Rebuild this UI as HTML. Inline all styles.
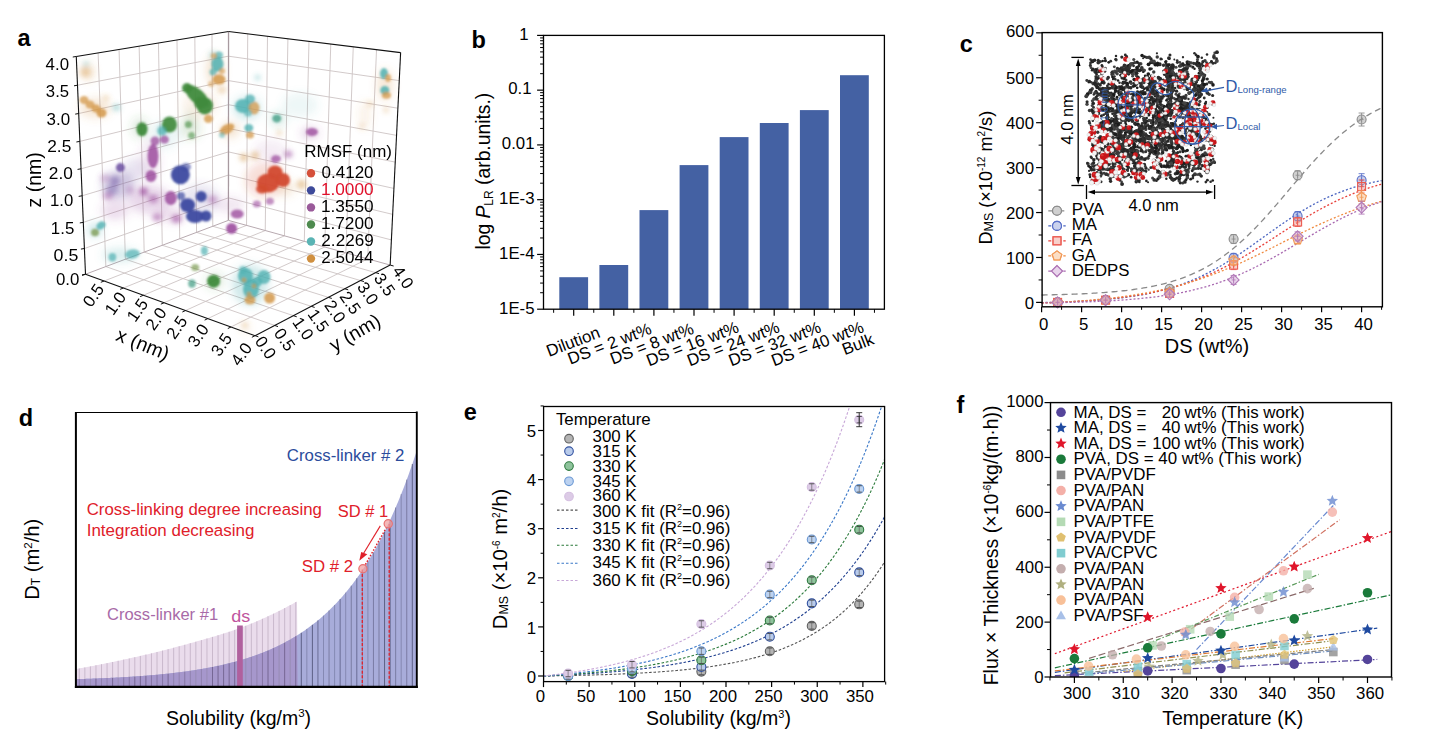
<!DOCTYPE html>
<html><head><meta charset="utf-8"><style>
html,body{margin:0;padding:0;background:#fff;}
body{width:1431px;height:750px;overflow:hidden;font-family:"Liberation Sans", sans-serif;}
svg{display:block;}
</style></head><body>
<svg width="1431" height="750" viewBox="0 0 1431 750" font-family='"Liberation Sans", sans-serif'><rect width="100%" height="100%" fill="#fff"/><text x="17.5" y="45.5" font-size="23.5" text-anchor="start" fill="#000" font-weight="bold" >a</text><text x="471.5" y="47.7" font-size="23.5" text-anchor="start" fill="#000" font-weight="bold" >b</text><text x="959.7" y="51.7" font-size="23.5" text-anchor="start" fill="#000" font-weight="bold" >c</text><text x="18.7" y="425.5" font-size="23.5" text-anchor="start" fill="#000" font-weight="bold" >d</text><text x="463.8" y="419.8" font-size="23.5" text-anchor="start" fill="#000" font-weight="bold" >e</text><text x="956.4" y="412.6" font-size="23.5" text-anchor="start" fill="#000" font-weight="bold" >f</text><line x1="105.83" y1="266.58" x2="98.11" y2="52.86" stroke="#cdc4c4" stroke-width="0.9" /><line x1="84.41" y1="248.5" x2="228.45" y2="197.85" stroke="#cdc4c4" stroke-width="0.9" /><line x1="125.38" y1="259.21" x2="119.05" y2="49.42" stroke="#cdc4c4" stroke-width="0.9" /><line x1="83.3" y1="222.35" x2="228.46" y2="175.04" stroke="#cdc4c4" stroke-width="0.9" /><line x1="144.18" y1="252.12" x2="139.14" y2="46.12" stroke="#cdc4c4" stroke-width="0.9" /><line x1="82.18" y1="195.78" x2="228.48" y2="151.91" stroke="#cdc4c4" stroke-width="0.9" /><line x1="162.29" y1="245.3" x2="158.44" y2="42.95" stroke="#cdc4c4" stroke-width="0.9" /><line x1="81.04" y1="168.8" x2="228.49" y2="128.47" stroke="#cdc4c4" stroke-width="0.9" /><line x1="179.73" y1="238.72" x2="176.99" y2="39.91" stroke="#cdc4c4" stroke-width="0.9" /><line x1="79.88" y1="141.39" x2="228.51" y2="104.71" stroke="#cdc4c4" stroke-width="0.9" /><line x1="196.55" y1="232.38" x2="194.83" y2="36.98" stroke="#cdc4c4" stroke-width="0.9" /><line x1="78.7" y1="113.53" x2="228.53" y2="80.62" stroke="#cdc4c4" stroke-width="0.9" /><line x1="212.77" y1="226.27" x2="212.01" y2="34.15" stroke="#cdc4c4" stroke-width="0.9" /><line x1="77.5" y1="85.22" x2="228.55" y2="56.2" stroke="#cdc4c4" stroke-width="0.9" /><line x1="246.56" y1="225.38" x2="247.73" y2="33.79" stroke="#cdc4c4" stroke-width="0.9" /><line x1="228.45" y1="197.85" x2="391.4" y2="239.91" stroke="#cdc4c4" stroke-width="0.9" /><line x1="265.24" y1="230.54" x2="267.5" y2="36.22" stroke="#cdc4c4" stroke-width="0.9" /><line x1="228.46" y1="175.04" x2="392.66" y2="214.37" stroke="#cdc4c4" stroke-width="0.9" /><line x1="284.48" y1="235.85" x2="287.91" y2="38.73" stroke="#cdc4c4" stroke-width="0.9" /><line x1="228.48" y1="151.91" x2="393.93" y2="188.44" stroke="#cdc4c4" stroke-width="0.9" /><line x1="304.31" y1="241.34" x2="308.98" y2="41.32" stroke="#cdc4c4" stroke-width="0.9" /><line x1="228.49" y1="128.47" x2="395.23" y2="162.11" stroke="#cdc4c4" stroke-width="0.9" /><line x1="324.76" y1="246.99" x2="330.75" y2="44" stroke="#cdc4c4" stroke-width="0.9" /><line x1="228.51" y1="104.71" x2="396.55" y2="135.37" stroke="#cdc4c4" stroke-width="0.9" /><line x1="345.87" y1="252.82" x2="353.26" y2="46.76" stroke="#cdc4c4" stroke-width="0.9" /><line x1="228.53" y1="80.62" x2="397.89" y2="108.21" stroke="#cdc4c4" stroke-width="0.9" /><line x1="367.66" y1="258.84" x2="376.54" y2="49.62" stroke="#cdc4c4" stroke-width="0.9" /><line x1="228.55" y1="56.2" x2="399.25" y2="80.62" stroke="#cdc4c4" stroke-width="0.9" /><line x1="104.15" y1="281" x2="246.56" y2="225.38" stroke="#cdc4c4" stroke-width="0.9" /><line x1="105.83" y1="266.58" x2="274.62" y2="325.42" stroke="#cdc4c4" stroke-width="0.9" /><line x1="123.45" y1="287.99" x2="265.24" y2="230.54" stroke="#cdc4c4" stroke-width="0.9" /><line x1="125.38" y1="259.21" x2="293.33" y2="315.65" stroke="#cdc4c4" stroke-width="0.9" /><line x1="143.44" y1="295.23" x2="284.48" y2="235.85" stroke="#cdc4c4" stroke-width="0.9" /><line x1="144.18" y1="252.12" x2="311.22" y2="306.3" stroke="#cdc4c4" stroke-width="0.9" /><line x1="164.15" y1="302.73" x2="304.31" y2="241.34" stroke="#cdc4c4" stroke-width="0.9" /><line x1="162.29" y1="245.3" x2="328.35" y2="297.35" stroke="#cdc4c4" stroke-width="0.9" /><line x1="185.62" y1="310.5" x2="324.76" y2="246.99" stroke="#cdc4c4" stroke-width="0.9" /><line x1="179.73" y1="238.72" x2="344.77" y2="288.77" stroke="#cdc4c4" stroke-width="0.9" /><line x1="207.89" y1="318.57" x2="345.87" y2="252.82" stroke="#cdc4c4" stroke-width="0.9" /><line x1="196.55" y1="232.38" x2="360.52" y2="280.55" stroke="#cdc4c4" stroke-width="0.9" /><line x1="231.02" y1="326.95" x2="367.66" y2="258.84" stroke="#cdc4c4" stroke-width="0.9" /><line x1="212.77" y1="226.27" x2="375.63" y2="272.65" stroke="#cdc4c4" stroke-width="0.9" /><line x1="228.43" y1="220.36" x2="228.56" y2="31.44" stroke="#a89aa0" stroke-width="1.3" /><line x1="85.5" y1="274.24" x2="228.43" y2="220.36" stroke="#b8aab0" stroke-width="1.0" /><line x1="228.43" y1="220.36" x2="390.16" y2="265.06" stroke="#b8aab0" stroke-width="1.0" /><defs><filter id="bc" x="-50%" y="-50%" width="200%" height="200%"><feGaussianBlur stdDeviation="0.9"/></filter><filter id="bh" x="-80%" y="-80%" width="260%" height="260%"><feGaussianBlur stdDeviation="2.6"/></filter><filter id="bf" x="-80%" y="-80%" width="260%" height="260%"><feGaussianBlur stdDeviation="4.5"/></filter></defs><g filter="url(#bf)"><ellipse cx="118" cy="185" rx="16" ry="14" fill="#6a4ea0" opacity="0.3"/><ellipse cx="150" cy="200" rx="22" ry="14" fill="#9c4c9e" opacity="0.22"/><ellipse cx="115" cy="210" rx="14" ry="10" fill="#9c4c9e" opacity="0.18"/><ellipse cx="135" cy="170" rx="12" ry="12" fill="#6a4ea0" opacity="0.15"/><ellipse cx="200" cy="200" rx="20" ry="16" fill="#6a4ea0" opacity="0.14"/><ellipse cx="230" cy="205" rx="14" ry="8" fill="#9c4c9e" opacity="0.14"/><ellipse cx="270" cy="150" rx="16" ry="10" fill="#9c4c9e" opacity="0.1"/><ellipse cx="285" cy="188" rx="10" ry="8" fill="#d4984a" opacity="0.2"/><ellipse cx="120" cy="255" rx="18" ry="7" fill="#50b0b2" opacity="0.22"/><ellipse cx="95" cy="230" rx="7" ry="7" fill="#50b0b2" opacity="0.3"/><ellipse cx="250" cy="285" rx="18" ry="20" fill="#50b0b2" opacity="0.28"/><ellipse cx="215" cy="70" rx="9" ry="16" fill="#d4984a" opacity="0.25"/><ellipse cx="247" cy="108" rx="14" ry="12" fill="#50b0b2" opacity="0.25"/><ellipse cx="300" cy="105" rx="18" ry="12" fill="#50b0b2" opacity="0.1"/><ellipse cx="385" cy="85" rx="8" ry="16" fill="#d4984a" opacity="0.22"/><ellipse cx="95" cy="108" rx="16" ry="10" fill="#d4984a" opacity="0.22"/><ellipse cx="200" cy="105" rx="18" ry="14" fill="#d4984a" opacity="0.12"/><ellipse cx="190" cy="130" rx="12" ry="10" fill="#3f8a3c" opacity="0.12"/><ellipse cx="165" cy="135" rx="14" ry="14" fill="#50b0b2" opacity="0.12"/><ellipse cx="230" cy="130" rx="10" ry="8" fill="#d4984a" opacity="0.25"/><ellipse cx="265" cy="180" rx="20" ry="18" fill="#d24a30" opacity="0.18"/><ellipse cx="150" cy="160" rx="10" ry="22" fill="#9c4c9e" opacity="0.12"/><ellipse cx="88" cy="72" rx="6" ry="8" fill="#d4984a" opacity="0.3"/><ellipse cx="365" cy="115" rx="6" ry="14" fill="#d4984a" opacity="0.12"/><ellipse cx="172" cy="215" rx="14" ry="8" fill="#9c4c9e" opacity="0.16"/><ellipse cx="245" cy="328" rx="5" ry="5" fill="#d4984a" opacity="0.15"/><ellipse cx="215" cy="281" rx="10" ry="9" fill="#3f8a3c" opacity="0.15"/><ellipse cx="190" cy="120" rx="8" ry="10" fill="#3f8a3c" opacity="0.12"/><ellipse cx="140" cy="128" rx="9" ry="11" fill="#3f8a3c" opacity="0.15"/><ellipse cx="310" cy="133" rx="9" ry="6" fill="#9c4c9e" opacity="0.25"/><ellipse cx="278" cy="119" rx="8" ry="7" fill="#3a9a80" opacity="0.2"/></g><g filter="url(#bh)"><ellipse cx="85" cy="72" rx="5" ry="5" fill="#d4984a" opacity="0.35"/><ellipse cx="86" cy="64" rx="3" ry="3" fill="#50b0b2" opacity="0.3"/><ellipse cx="106" cy="98" rx="3" ry="3" fill="#d4984a" opacity="0.3"/><ellipse cx="116.4" cy="107.6" rx="4" ry="3.5" fill="#50b0b2" opacity="0.4"/><ellipse cx="257.6" cy="77.6" rx="3" ry="3" fill="#50b0b2" opacity="0.35"/><ellipse cx="279.2" cy="132.8" rx="3" ry="3" fill="#d4984a" opacity="0.3"/><ellipse cx="288.8" cy="154.4" rx="4" ry="3" fill="#9c4c9e" opacity="0.3"/><ellipse cx="274.4" cy="158.4" rx="4" ry="3" fill="#9c4c9e" opacity="0.3"/><ellipse cx="153.2" cy="198.8" rx="5" ry="4" fill="#9c4c9e" opacity="0.6"/><ellipse cx="176.4" cy="218.8" rx="5" ry="4" fill="#9c4c9e" opacity="0.65"/><ellipse cx="157.2" cy="217.2" rx="5" ry="4" fill="#9c4c9e" opacity="0.55"/><ellipse cx="212.4" cy="199.6" rx="5" ry="4" fill="#9c4c9e" opacity="0.45"/><ellipse cx="143.6" cy="191.6" rx="4" ry="4" fill="#9c4c9e" opacity="0.6"/><ellipse cx="115" cy="181" rx="5" ry="5" fill="#6a4ea0" opacity="0.5"/><ellipse cx="108" cy="196" rx="5" ry="4" fill="#9c4c9e" opacity="0.45"/><ellipse cx="301.6" cy="184.5" rx="5" ry="5" fill="#d4984a" opacity="0.45"/><ellipse cx="243.7" cy="157.4" rx="4" ry="4" fill="#d4984a" opacity="0.5"/><ellipse cx="255" cy="155.5" rx="4" ry="4" fill="#d4984a" opacity="0.5"/><ellipse cx="288" cy="154" rx="4" ry="3.5" fill="#9c4c9e" opacity="0.45"/><ellipse cx="370" cy="104" rx="3" ry="3" fill="#d4984a" opacity="0.3"/><ellipse cx="362" cy="126" rx="3" ry="3" fill="#d4984a" opacity="0.25"/><ellipse cx="245" cy="325" rx="3" ry="3" fill="#d4984a" opacity="0.3"/><ellipse cx="112" cy="190" rx="6" ry="5" fill="#6a4ea0" opacity="0.4"/><ellipse cx="105" cy="178" rx="5" ry="4" fill="#9c4c9e" opacity="0.3"/><ellipse cx="130" cy="190" rx="4" ry="4" fill="#9c4c9e" opacity="0.3"/><ellipse cx="143.6" cy="191.6" rx="4" ry="4" fill="#9c4c9e" opacity="0.5"/><ellipse cx="213" cy="55" rx="4" ry="4" fill="#50b0b2" opacity="0.3"/><ellipse cx="222" cy="90" rx="4" ry="4" fill="#d4984a" opacity="0.35"/><ellipse cx="162.8" cy="130" rx="5" ry="5" fill="#50b0b2" opacity="0.5"/><ellipse cx="386" cy="110" rx="3" ry="3" fill="#d4984a" opacity="0.3"/></g><g filter="url(#bc)"><ellipse cx="84" cy="100" rx="4.5" ry="4" fill="#d4984a" opacity="0.75"/><ellipse cx="90" cy="104.5" rx="4.5" ry="4" fill="#d4984a" opacity="0.75"/><ellipse cx="96" cy="108.5" rx="4.5" ry="4" fill="#d4984a" opacity="0.8"/><ellipse cx="101.5" cy="113" rx="5" ry="4.5" fill="#d4984a" opacity="0.85"/><ellipse cx="142" cy="129.2" rx="5.5" ry="7" fill="#3f8a3c" opacity="0.95"/><ellipse cx="197" cy="96" rx="15" ry="7" fill="#3f8a3c" opacity="0.95" transform="rotate(42 197 96)"/><ellipse cx="187" cy="88" rx="5" ry="5" fill="#3f8a3c" opacity="0.9"/><ellipse cx="205" cy="106" rx="8" ry="8.5" fill="#3f8a3c" opacity="0.95" transform="rotate(20 205 106)"/><ellipse cx="200" cy="103" rx="6" ry="6" fill="#3f8a3c" opacity="0.9"/><ellipse cx="208.4" cy="118.8" rx="4.5" ry="4" fill="#d4984a" opacity="0.8"/><ellipse cx="188.4" cy="124.4" rx="3.5" ry="3.5" fill="#3f8a3c" opacity="0.6"/><ellipse cx="191.6" cy="135.6" rx="3.5" ry="3.5" fill="#3f8a3c" opacity="0.55"/><ellipse cx="169.5" cy="124.5" rx="7.5" ry="8" fill="#3f8a3c" opacity="0.92"/><ellipse cx="162" cy="131" rx="4.5" ry="4.5" fill="#50b0b2" opacity="0.65"/><ellipse cx="164.4" cy="139.6" rx="4.5" ry="4" fill="#9c4c9e" opacity="0.75"/><ellipse cx="153" cy="156" rx="5.5" ry="12" fill="#9c4c9e" opacity="0.85"/><ellipse cx="155" cy="141" rx="4.5" ry="4.5" fill="#9c4c9e" opacity="0.75"/><ellipse cx="151" cy="176" rx="5.5" ry="6" fill="#9c4c9e" opacity="0.85"/><ellipse cx="217.5" cy="64" rx="6" ry="7.5" fill="#50b0b2" opacity="0.85"/><ellipse cx="219" cy="55" rx="4" ry="3.5" fill="#50b0b2" opacity="0.7"/><ellipse cx="214" cy="56" rx="3" ry="3" fill="#d4984a" opacity="0.6"/><ellipse cx="219" cy="79.6" rx="6.5" ry="5" fill="#d4984a" opacity="0.85"/><ellipse cx="213" cy="72" rx="3.5" ry="3.5" fill="#50b0b2" opacity="0.7"/><ellipse cx="222" cy="71" rx="3" ry="3" fill="#d4984a" opacity="0.6"/><ellipse cx="211" cy="84" rx="3" ry="3" fill="#d4984a" opacity="0.5"/><ellipse cx="227" cy="129" rx="8" ry="4.5" fill="#d4984a" opacity="0.85" transform="rotate(-30 227 129)"/><ellipse cx="222" cy="135" rx="3" ry="3" fill="#50b0b2" opacity="0.5"/><ellipse cx="243" cy="106" rx="8" ry="7" fill="#50b0b2" opacity="0.85"/><ellipse cx="254" cy="108" rx="5.5" ry="6.5" fill="#d4984a" opacity="0.75"/><ellipse cx="250" cy="99" rx="5" ry="4.5" fill="#50b0b2" opacity="0.75"/><ellipse cx="248" cy="113" rx="4" ry="3.5" fill="#50b0b2" opacity="0.6"/><ellipse cx="276.8" cy="118.4" rx="4.5" ry="4" fill="#3a9a80" opacity="0.75"/><ellipse cx="248.8" cy="128" rx="4.5" ry="4" fill="#50b0b2" opacity="0.8"/><ellipse cx="250" cy="135" rx="4" ry="3.5" fill="#d4984a" opacity="0.75"/><ellipse cx="312" cy="132" rx="6" ry="4" fill="#9c4c9e" opacity="0.8"/><ellipse cx="384" cy="73.6" rx="4" ry="5.5" fill="#50b0b2" opacity="0.85"/><ellipse cx="388" cy="78" rx="3" ry="4" fill="#d4984a" opacity="0.7"/><ellipse cx="384.8" cy="90.4" rx="4.5" ry="4.5" fill="#50b0b2" opacity="0.85"/><ellipse cx="386.4" cy="95.2" rx="4.5" ry="3.5" fill="#d4984a" opacity="0.75"/><ellipse cx="120.4" cy="167.6" rx="4.5" ry="4.5" fill="#6a4ea0" opacity="0.85"/><ellipse cx="180.4" cy="174.8" rx="9.5" ry="9.5" fill="#3d4aa0" opacity="0.95"/><ellipse cx="186" cy="167" rx="5" ry="4" fill="#3d4aa0" opacity="0.6"/><ellipse cx="201.2" cy="196.4" rx="5.5" ry="5.5" fill="#3d4aa0" opacity="0.95"/><ellipse cx="187.6" cy="205.2" rx="7.5" ry="7" fill="#3d4aa0" opacity="0.95"/><ellipse cx="195" cy="216.4" rx="9" ry="6.5" fill="#3d4aa0" opacity="0.95"/><ellipse cx="206" cy="216" rx="5.5" ry="5.5" fill="#3d4aa0" opacity="0.95"/><ellipse cx="170.8" cy="198" rx="6" ry="7" fill="#9c4c9e" opacity="0.85"/><ellipse cx="181" cy="196" rx="4" ry="4" fill="#3d4aa0" opacity="0.7"/><ellipse cx="231.6" cy="228.4" rx="5.5" ry="5.5" fill="#9c4c9e" opacity="0.9"/><ellipse cx="276" cy="159" rx="5" ry="3.8" fill="#9c4c9e" opacity="0.7" transform="rotate(-10 276 159)"/><ellipse cx="237.2" cy="214" rx="6.5" ry="4.5" fill="#9c4c9e" opacity="0.8"/><ellipse cx="269.9" cy="201.3" rx="4" ry="3.5" fill="#9c4c9e" opacity="0.6"/><ellipse cx="256.8" cy="204.1" rx="4" ry="3.5" fill="#9c4c9e" opacity="0.6"/><ellipse cx="268" cy="183" rx="11" ry="9.5" fill="#d24a30" opacity="0.95"/><ellipse cx="275" cy="172" rx="7.5" ry="6.5" fill="#d24a30" opacity="0.95"/><ellipse cx="283" cy="180" rx="7" ry="7" fill="#d24a30" opacity="0.95"/><ellipse cx="262" cy="189" rx="6" ry="4.5" fill="#d24a30" opacity="0.9"/><ellipse cx="101" cy="225.5" rx="5" ry="3.8" fill="#50b0b2" opacity="0.8" transform="rotate(-35 101 225.5)"/><ellipse cx="95" cy="232.5" rx="4" ry="3.8" fill="#7e9c55" opacity="0.8"/><ellipse cx="204.4" cy="250.8" rx="3.5" ry="4.5" fill="#50b0b2" opacity="0.7"/><ellipse cx="112.4" cy="257.2" rx="3.8" ry="4.2" fill="#50b0b2" opacity="0.7"/><ellipse cx="195.2" cy="267.6" rx="4" ry="3.5" fill="#7e9c55" opacity="0.7"/><ellipse cx="192" cy="283.6" rx="3.8" ry="4.2" fill="#3a9a80" opacity="0.7"/><ellipse cx="132.4" cy="254" rx="7.5" ry="4.5" fill="#50b0b2" opacity="0.7" transform="rotate(-10 132.4 254)"/><ellipse cx="213.6" cy="281.2" rx="6.5" ry="6.5" fill="#3f8a3c" opacity="0.95"/><ellipse cx="245.5" cy="276" rx="7.5" ry="8" fill="#50b0b2" opacity="0.85"/><ellipse cx="264" cy="277" rx="6.5" ry="7" fill="#50b0b2" opacity="0.8"/><ellipse cx="251" cy="289" rx="8" ry="10" fill="#50b0b2" opacity="0.85"/><ellipse cx="257" cy="282" rx="5" ry="5" fill="#50b0b2" opacity="0.8"/><ellipse cx="250" cy="300" rx="5.5" ry="4.5" fill="#d4984a" opacity="0.8"/><ellipse cx="243" cy="270" rx="4" ry="4" fill="#50b0b2" opacity="0.6"/><ellipse cx="244" cy="280" rx="2.5" ry="2.5" fill="#d4984a" opacity="0.6"/><ellipse cx="254" cy="286" rx="2.5" ry="2.5" fill="#d4984a" opacity="0.6"/><ellipse cx="249" cy="294" rx="2.5" ry="2.5" fill="#d4984a" opacity="0.6"/><ellipse cx="269.6" cy="298" rx="5.5" ry="5.5" fill="#d4984a" opacity="0.85"/></g><line x1="76.28" y1="56.44" x2="228.56" y2="31.44" stroke="#111" stroke-width="1.1" /><line x1="228.56" y1="31.44" x2="400.63" y2="52.59" stroke="#111" stroke-width="1.1" /><line x1="400.63" y1="52.59" x2="390.16" y2="265.06" stroke="#111" stroke-width="1.1" /><line x1="85.5" y1="274.24" x2="76.28" y2="56.44" stroke="#111" stroke-width="1.1" /><line x1="85.5" y1="274.24" x2="255.05" y2="335.65" stroke="#111" stroke-width="1.1" /><line x1="255.05" y1="335.65" x2="390.16" y2="265.06" stroke="#111" stroke-width="1.1" /><line x1="82" y1="274.84" x2="85.5" y2="274.24" stroke="#111" stroke-width="1" /><line x1="85.5" y1="274.24" x2="82.13" y2="275.51" stroke="#111" stroke-width="1" /><line x1="255.05" y1="335.65" x2="258.43" y2="336.87" stroke="#111" stroke-width="1" /><line x1="80.91" y1="249.1" x2="84.41" y2="248.5" stroke="#111" stroke-width="1" /><line x1="104.15" y1="281" x2="100.8" y2="282.31" stroke="#111" stroke-width="1" /><line x1="274.62" y1="325.42" x2="278.02" y2="326.61" stroke="#111" stroke-width="1" /><line x1="79.8" y1="222.95" x2="83.3" y2="222.35" stroke="#111" stroke-width="1" /><line x1="123.45" y1="287.99" x2="120.12" y2="289.34" stroke="#111" stroke-width="1" /><line x1="293.33" y1="315.65" x2="296.74" y2="316.79" stroke="#111" stroke-width="1" /><line x1="78.68" y1="196.38" x2="82.18" y2="195.78" stroke="#111" stroke-width="1" /><line x1="143.44" y1="295.23" x2="140.12" y2="296.62" stroke="#111" stroke-width="1" /><line x1="311.22" y1="306.3" x2="314.64" y2="307.41" stroke="#111" stroke-width="1" /><line x1="77.54" y1="169.4" x2="81.04" y2="168.8" stroke="#111" stroke-width="1" /><line x1="164.15" y1="302.73" x2="160.85" y2="304.17" stroke="#111" stroke-width="1" /><line x1="328.35" y1="297.35" x2="331.79" y2="298.43" stroke="#111" stroke-width="1" /><line x1="76.38" y1="141.99" x2="79.88" y2="141.39" stroke="#111" stroke-width="1" /><line x1="185.62" y1="310.5" x2="182.34" y2="312" stroke="#111" stroke-width="1" /><line x1="344.77" y1="288.77" x2="348.21" y2="289.82" stroke="#111" stroke-width="1" /><line x1="75.2" y1="114.13" x2="78.7" y2="113.53" stroke="#111" stroke-width="1" /><line x1="207.89" y1="318.57" x2="204.64" y2="320.12" stroke="#111" stroke-width="1" /><line x1="360.52" y1="280.55" x2="363.97" y2="281.56" stroke="#111" stroke-width="1" /><line x1="74" y1="85.82" x2="77.5" y2="85.22" stroke="#111" stroke-width="1" /><line x1="231.02" y1="326.95" x2="227.8" y2="328.55" stroke="#111" stroke-width="1" /><line x1="375.63" y1="272.65" x2="379.09" y2="273.63" stroke="#111" stroke-width="1" /><line x1="72.78" y1="57.04" x2="76.28" y2="56.44" stroke="#111" stroke-width="1" /><line x1="255.05" y1="335.65" x2="251.86" y2="337.31" stroke="#111" stroke-width="1" /><line x1="390.16" y1="265.06" x2="393.63" y2="266.02" stroke="#111" stroke-width="1" /><text transform="translate(45.62 69.7) scale(1.0333 1)" font-size="16.3" fill="#000" font-weight="normal" >4.0</text><text transform="translate(45.87 97) scale(1.0237 1)" font-size="16.3" fill="#000" font-weight="normal" >3.5</text><text transform="translate(46.56 124.7) scale(1.0404 1)" font-size="16.3" fill="#000" font-weight="normal" >3.0</text><text transform="translate(47.23 151.9) scale(1.0618 1)" font-size="16.3" fill="#000" font-weight="normal" >2.5</text><text transform="translate(48.84 178.9) scale(1.0598 1)" font-size="16.3" fill="#000" font-weight="normal" >2.0</text><text transform="translate(50.04 205.8) scale(1.0277 1)" font-size="16.3" fill="#000" font-weight="normal" >1.0</text><text transform="translate(50.84 233.9) scale(1.0345 1)" font-size="16.3" fill="#000" font-weight="normal" >1.5</text><text transform="translate(53.59 261.1) scale(1.0912 1)" font-size="16.3" fill="#000" font-weight="normal" >0.5</text><text transform="translate(55.93 284.8) scale(1.0330 1)" font-size="16.3" fill="#000" font-weight="normal" >0.0</text><text transform="translate(93.3 295.3) rotate(-55)" font-size="16.8" text-anchor="middle" dy="5.8">0.5</text><text transform="translate(115.3 303.3) rotate(-55)" font-size="16.8" text-anchor="middle" dy="5.8">1.0</text><text transform="translate(137.3 310) rotate(-55)" font-size="16.8" text-anchor="middle" dy="5.8">1.5</text><text transform="translate(156 318.7) rotate(-55)" font-size="16.8" text-anchor="middle" dy="5.8">2.0</text><text transform="translate(176.7 327.3) rotate(-55)" font-size="16.8" text-anchor="middle" dy="5.8">2.5</text><text transform="translate(198.1 335.3) rotate(-55)" font-size="16.8" text-anchor="middle" dy="5.8">3.0</text><text transform="translate(221.4 344.6) rotate(-55)" font-size="16.8" text-anchor="middle" dy="5.8">3.5</text><text transform="translate(241.3 354) rotate(-55)" font-size="16.8" text-anchor="middle" dy="5.8">4.0</text><text transform="translate(265.6 347.6) rotate(55)" font-size="16.8" text-anchor="middle" dy="5.8">0.0</text><text transform="translate(284.8 339.6) rotate(55)" font-size="16.8" text-anchor="middle" dy="5.8">0.5</text><text transform="translate(303.2 328.4) rotate(55)" font-size="16.8" text-anchor="middle" dy="5.8">1.0</text><text transform="translate(318.4 320.4) rotate(55)" font-size="16.8" text-anchor="middle" dy="5.8">1.5</text><text transform="translate(335.2 311.6) rotate(55)" font-size="16.8" text-anchor="middle" dy="5.8">2.0</text><text transform="translate(350.4 302.8) rotate(55)" font-size="16.8" text-anchor="middle" dy="5.8">2.5</text><text transform="translate(368 293.2) rotate(55)" font-size="16.8" text-anchor="middle" dy="5.8">3.0</text><text transform="translate(384.8 284.4) rotate(55)" font-size="16.8" text-anchor="middle" dy="5.8">3.5</text><text transform="translate(403.2 277.2) rotate(55)" font-size="16.8" text-anchor="middle" dy="5.8">4.0</text><text transform="translate(142.7 344.7) rotate(22)" font-size="19.5" text-anchor="middle" dy="6">x (nm)</text><text transform="translate(355.2 333.2) rotate(-30)" font-size="19.5" text-anchor="middle" dy="6">y (nm)</text><text transform="translate(40.6 179.8) rotate(-90)" font-size="19.5" text-anchor="middle">z (nm)</text><text transform="translate(304.3 156.5) scale(1.0608 1)" font-size="16" fill="#000" font-weight="normal" >RMSF (nm)</text><circle cx="311" cy="173.3" r="4.2" fill="#d5503a"/><text transform="translate(321.52 177.6) scale(1.0458 1)" font-size="16.3" fill="#000" font-weight="normal" >0.4120</text><circle cx="311" cy="190.36" r="4.2" fill="#3e4a9a"/><text transform="translate(320.91 194.66) scale(1.0583 1)" font-size="16.3" fill="#e0102a" font-weight="normal" >1.0000</text><circle cx="311" cy="207.42" r="4.2" fill="#9a5a9a"/><text transform="translate(320.91 211.72) scale(1.0583 1)" font-size="16.3" fill="#000" font-weight="normal" >1.3550</text><circle cx="311" cy="224.48" r="4.2" fill="#4e8a4e"/><text transform="translate(320.91 228.78) scale(1.0583 1)" font-size="16.3" fill="#000" font-weight="normal" >1.7200</text><circle cx="311" cy="241.54" r="4.2" fill="#5ab4b4"/><text transform="translate(321.34 245.84) scale(1.0520 1)" font-size="16.3" fill="#000" font-weight="normal" >2.2269</text><circle cx="311" cy="258.6" r="4.2" fill="#d09040"/><text transform="translate(321.35 262.9) scale(1.0458 1)" font-size="16.3" fill="#000" font-weight="normal" >2.5044</text><rect x="559.3" y="277.2" width="28.8" height="32" fill="#4461a3"/><rect x="599.4" y="265" width="28.8" height="44.2" fill="#4461a3"/><rect x="639.5" y="210.1" width="28.8" height="99.1" fill="#4461a3"/><rect x="679.6" y="165.1" width="28.8" height="144.1" fill="#4461a3"/><rect x="719.7" y="137.1" width="28.8" height="172.1" fill="#4461a3"/><rect x="759.8" y="123" width="28.8" height="186.2" fill="#4461a3"/><rect x="799.9" y="110.1" width="28.8" height="199.1" fill="#4461a3"/><rect x="840" y="75.2" width="28.8" height="234" fill="#4461a3"/><rect x="543.5" y="35.4" width="340.9" height="273.8" fill="none" stroke="#000" stroke-width="1.3"/><line x1="537.1" y1="309.2" x2="543.5" y2="309.2" stroke="#000" stroke-width="1.2" /><line x1="540.1" y1="292.72" x2="543.5" y2="292.72" stroke="#000" stroke-width="1" /><line x1="540.1" y1="283.07" x2="543.5" y2="283.07" stroke="#000" stroke-width="1" /><line x1="540.1" y1="276.23" x2="543.5" y2="276.23" stroke="#000" stroke-width="1" /><line x1="540.1" y1="270.92" x2="543.5" y2="270.92" stroke="#000" stroke-width="1" /><line x1="540.1" y1="266.59" x2="543.5" y2="266.59" stroke="#000" stroke-width="1" /><line x1="540.1" y1="262.92" x2="543.5" y2="262.92" stroke="#000" stroke-width="1" /><line x1="540.1" y1="259.75" x2="543.5" y2="259.75" stroke="#000" stroke-width="1" /><line x1="540.1" y1="256.95" x2="543.5" y2="256.95" stroke="#000" stroke-width="1" /><line x1="537.1" y1="254.44" x2="543.5" y2="254.44" stroke="#000" stroke-width="1.2" /><line x1="540.1" y1="237.96" x2="543.5" y2="237.96" stroke="#000" stroke-width="1" /><line x1="540.1" y1="228.31" x2="543.5" y2="228.31" stroke="#000" stroke-width="1" /><line x1="540.1" y1="221.47" x2="543.5" y2="221.47" stroke="#000" stroke-width="1" /><line x1="540.1" y1="216.16" x2="543.5" y2="216.16" stroke="#000" stroke-width="1" /><line x1="540.1" y1="211.83" x2="543.5" y2="211.83" stroke="#000" stroke-width="1" /><line x1="540.1" y1="208.16" x2="543.5" y2="208.16" stroke="#000" stroke-width="1" /><line x1="540.1" y1="204.99" x2="543.5" y2="204.99" stroke="#000" stroke-width="1" /><line x1="540.1" y1="202.19" x2="543.5" y2="202.19" stroke="#000" stroke-width="1" /><line x1="537.1" y1="199.68" x2="543.5" y2="199.68" stroke="#000" stroke-width="1.2" /><line x1="540.1" y1="183.2" x2="543.5" y2="183.2" stroke="#000" stroke-width="1" /><line x1="540.1" y1="173.55" x2="543.5" y2="173.55" stroke="#000" stroke-width="1" /><line x1="540.1" y1="166.71" x2="543.5" y2="166.71" stroke="#000" stroke-width="1" /><line x1="540.1" y1="161.4" x2="543.5" y2="161.4" stroke="#000" stroke-width="1" /><line x1="540.1" y1="157.07" x2="543.5" y2="157.07" stroke="#000" stroke-width="1" /><line x1="540.1" y1="153.4" x2="543.5" y2="153.4" stroke="#000" stroke-width="1" /><line x1="540.1" y1="150.23" x2="543.5" y2="150.23" stroke="#000" stroke-width="1" /><line x1="540.1" y1="147.43" x2="543.5" y2="147.43" stroke="#000" stroke-width="1" /><line x1="537.1" y1="144.92" x2="543.5" y2="144.92" stroke="#000" stroke-width="1.2" /><line x1="540.1" y1="128.44" x2="543.5" y2="128.44" stroke="#000" stroke-width="1" /><line x1="540.1" y1="118.79" x2="543.5" y2="118.79" stroke="#000" stroke-width="1" /><line x1="540.1" y1="111.95" x2="543.5" y2="111.95" stroke="#000" stroke-width="1" /><line x1="540.1" y1="106.64" x2="543.5" y2="106.64" stroke="#000" stroke-width="1" /><line x1="540.1" y1="102.31" x2="543.5" y2="102.31" stroke="#000" stroke-width="1" /><line x1="540.1" y1="98.64" x2="543.5" y2="98.64" stroke="#000" stroke-width="1" /><line x1="540.1" y1="95.47" x2="543.5" y2="95.47" stroke="#000" stroke-width="1" /><line x1="540.1" y1="92.67" x2="543.5" y2="92.67" stroke="#000" stroke-width="1" /><line x1="537.1" y1="90.16" x2="543.5" y2="90.16" stroke="#000" stroke-width="1.2" /><line x1="540.1" y1="73.68" x2="543.5" y2="73.68" stroke="#000" stroke-width="1" /><line x1="540.1" y1="64.03" x2="543.5" y2="64.03" stroke="#000" stroke-width="1" /><line x1="540.1" y1="57.19" x2="543.5" y2="57.19" stroke="#000" stroke-width="1" /><line x1="540.1" y1="51.88" x2="543.5" y2="51.88" stroke="#000" stroke-width="1" /><line x1="540.1" y1="47.55" x2="543.5" y2="47.55" stroke="#000" stroke-width="1" /><line x1="540.1" y1="43.88" x2="543.5" y2="43.88" stroke="#000" stroke-width="1" /><line x1="540.1" y1="40.71" x2="543.5" y2="40.71" stroke="#000" stroke-width="1" /><line x1="540.1" y1="37.91" x2="543.5" y2="37.91" stroke="#000" stroke-width="1" /><line x1="537.1" y1="35.4" x2="543.5" y2="35.4" stroke="#000" stroke-width="1.2" /><text x="534.5" y="313.5" font-size="16.8" text-anchor="end" fill="#000" font-weight="normal" >1E-5</text><text x="534.5" y="258.74" font-size="16.8" text-anchor="end" fill="#000" font-weight="normal" >1E-4</text><text x="534.5" y="203.98" font-size="16.8" text-anchor="end" fill="#000" font-weight="normal" >1E-3</text><text x="534.5" y="149.22" font-size="16.8" text-anchor="end" fill="#000" font-weight="normal" >0.01</text><text x="531.5" y="94.46" font-size="16.8" text-anchor="end" fill="#000" font-weight="normal" >0.1</text><text x="528.5" y="39.7" font-size="16.8" text-anchor="end" fill="#000" font-weight="normal" >1</text><line x1="573.7" y1="309.2" x2="573.7" y2="315.8" stroke="#000" stroke-width="1.2" /><line x1="553.65" y1="309.2" x2="553.65" y2="312.8" stroke="#000" stroke-width="1" /><line x1="613.8" y1="309.2" x2="613.8" y2="315.8" stroke="#000" stroke-width="1.2" /><line x1="593.75" y1="309.2" x2="593.75" y2="312.8" stroke="#000" stroke-width="1" /><line x1="653.9" y1="309.2" x2="653.9" y2="315.8" stroke="#000" stroke-width="1.2" /><line x1="633.85" y1="309.2" x2="633.85" y2="312.8" stroke="#000" stroke-width="1" /><line x1="694" y1="309.2" x2="694" y2="315.8" stroke="#000" stroke-width="1.2" /><line x1="673.95" y1="309.2" x2="673.95" y2="312.8" stroke="#000" stroke-width="1" /><line x1="734.1" y1="309.2" x2="734.1" y2="315.8" stroke="#000" stroke-width="1.2" /><line x1="714.05" y1="309.2" x2="714.05" y2="312.8" stroke="#000" stroke-width="1" /><line x1="774.2" y1="309.2" x2="774.2" y2="315.8" stroke="#000" stroke-width="1.2" /><line x1="754.15" y1="309.2" x2="754.15" y2="312.8" stroke="#000" stroke-width="1" /><line x1="814.3" y1="309.2" x2="814.3" y2="315.8" stroke="#000" stroke-width="1.2" /><line x1="794.25" y1="309.2" x2="794.25" y2="312.8" stroke="#000" stroke-width="1" /><line x1="854.4" y1="309.2" x2="854.4" y2="315.8" stroke="#000" stroke-width="1.2" /><line x1="834.35" y1="309.2" x2="834.35" y2="312.8" stroke="#000" stroke-width="1" /><line x1="874.45" y1="309.2" x2="874.45" y2="312.8" stroke="#000" stroke-width="1" /><text x="575.2" y="347" font-size="16.8" text-anchor="middle" fill="#000" font-weight="normal" transform="rotate(-21 575.2 347)">Dilution</text><text x="611.5" y="349" font-size="16.8" text-anchor="middle" fill="#000" font-weight="normal" transform="rotate(-21 611.5 349)">DS = 2 wt%</text><text x="653.8" y="349" font-size="16.8" text-anchor="middle" fill="#000" font-weight="normal" transform="rotate(-21 653.8 349)">DS = 8 wt%</text><text x="694.5" y="349" font-size="16.8" text-anchor="middle" fill="#000" font-weight="normal" transform="rotate(-21 694.5 349)">DS = 16 wt%</text><text x="735.2" y="349" font-size="16.8" text-anchor="middle" fill="#000" font-weight="normal" transform="rotate(-21 735.2 349)">DS = 24 wt%</text><text x="776.7" y="349" font-size="16.8" text-anchor="middle" fill="#000" font-weight="normal" transform="rotate(-21 776.7 349)">DS = 32 wt%</text><text x="819.4" y="349" font-size="16.8" text-anchor="middle" fill="#000" font-weight="normal" transform="rotate(-21 819.4 349)">DS = 40 wt%</text><text x="859.9" y="349.5" font-size="16.8" text-anchor="middle" fill="#000" font-weight="normal" transform="rotate(-21 859.9 349.5)">Bulk</text><text x="0" y="0" font-size="19.3" transform="translate(489.8 171.2) rotate(-90)" text-anchor="middle">log <tspan font-style="italic">P</tspan><tspan font-size="12" dy="3">LR</tspan><tspan dy="-3"> (arb.units.)</tspan></text><defs><filter id="ib" x="-10%" y="-10%" width="120%" height="120%"><feGaussianBlur stdDeviation="3"/></filter></defs><g><path d="M1106,80 C1125,72 1160,70 1198,76 C1204,95 1204,140 1199,165 C1175,170 1150,170 1130,166 C1116,156 1108,146 1106,128 C1104,110 1104,95 1106,80 Z" fill="#2e2e2e" opacity="0.0" filter="url(#ib)"/><circle cx="1145.74" cy="125.85" r="1.91" fill="#262626"/><circle cx="1144.39" cy="127.84" r="1.68" fill="#2a2a2a"/><circle cx="1142.55" cy="129.38" r="1.47" fill="#3a3a3a"/><circle cx="1141.62" cy="131.59" r="1.41" fill="#2a2a2a"/><circle cx="1140.03" cy="133.39" r="1.74" fill="#3a3a3a"/><circle cx="1137.71" cy="132.76" r="1.78" fill="#444"/><circle cx="1135.77" cy="131.35" r="1.76" fill="#444"/><circle cx="1133.58" cy="132.33" r="1.37" fill="#262626"/><circle cx="1131.22" cy="132.76" r="1.86" fill="#303030"/><circle cx="1192.93" cy="120.85" r="1.65" fill="#303030"/><circle cx="1190.59" cy="121.39" r="1.71" fill="#1c1c1c"/><circle cx="1188.28" cy="120.74" r="1.55" fill="#262626"/><circle cx="1185.99" cy="120.02" r="1.37" fill="#444"/><circle cx="1184.59" cy="118.08" r="1.61" fill="#303030"/><circle cx="1206.92" cy="161.22" r="1.66" fill="#2a2a2a"/><circle cx="1208.07" cy="163.33" r="1.4" fill="#2a2a2a"/><circle cx="1210.33" cy="164.14" r="1.79" fill="#303030"/><circle cx="1212.25" cy="162.71" r="1.57" fill="#3a3a3a"/><circle cx="1214.65" cy="162.65" r="1.43" fill="#262626"/><circle cx="1173.53" cy="80.17" r="1.62" fill="#3a3a3a"/><circle cx="1174.8" cy="78.14" r="1.62" fill="#262626"/><circle cx="1173.37" cy="76.21" r="1.91" fill="#444"/><circle cx="1171.22" cy="75.15" r="1.93" fill="#262626"/><circle cx="1168.92" cy="75.83" r="2" fill="#444"/><circle cx="1166.52" cy="75.72" r="1.42" fill="#262626"/><circle cx="1122.25" cy="152.04" r="1.4" fill="#262626"/><circle cx="1121.12" cy="154.16" r="1.51" fill="#444"/><circle cx="1120.71" cy="156.52" r="1.75" fill="#262626"/><circle cx="1118.41" cy="157.22" r="1.66" fill="#444"/><circle cx="1117.47" cy="159.43" r="1.6" fill="#2a2a2a"/><circle cx="1200.92" cy="157.59" r="1.48" fill="#3a3a3a"/><circle cx="1199.69" cy="159.65" r="1.74" fill="#3a3a3a"/><circle cx="1200.94" cy="161.7" r="1.42" fill="#444"/><circle cx="1199.65" cy="163.73" r="1.5" fill="#2a2a2a"/><circle cx="1198.94" cy="166.02" r="1.62" fill="#444"/><circle cx="1198.27" cy="168.32" r="1.69" fill="#2a2a2a"/><circle cx="1195.9" cy="168.67" r="1.43" fill="#3a3a3a"/><circle cx="1193.5" cy="168.67" r="1.9" fill="#444"/><circle cx="1192.25" cy="170.72" r="1.49" fill="#262626"/><circle cx="1099.37" cy="107.61" r="1.59" fill="#444"/><circle cx="1099.71" cy="109.98" r="1.41" fill="#262626"/><circle cx="1097.99" cy="111.66" r="1.99" fill="#2a2a2a"/><circle cx="1095.65" cy="112.18" r="1.69" fill="#262626"/><circle cx="1093.25" cy="112.18" r="1.95" fill="#3a3a3a"/><circle cx="1091.92" cy="110.18" r="1.81" fill="#1c1c1c"/><circle cx="1089.55" cy="110.57" r="1.76" fill="#3a3a3a"/><circle cx="1128.64" cy="73.8" r="1.83" fill="#2a2a2a"/><circle cx="1126.33" cy="73.15" r="1.43" fill="#303030"/><circle cx="1123.94" cy="73.35" r="1.8" fill="#1c1c1c"/><circle cx="1122.28" cy="71.61" r="1.62" fill="#1c1c1c"/><circle cx="1122.55" cy="69.22" r="1.72" fill="#444"/><circle cx="1123.7" cy="67.12" r="1.6" fill="#1c1c1c"/><circle cx="1125.35" cy="65.38" r="1.4" fill="#2a2a2a"/><circle cx="1122.12" cy="108.2" r="1.65" fill="#3a3a3a"/><circle cx="1124.33" cy="109.13" r="1.4" fill="#444"/><circle cx="1126.12" cy="107.53" r="1.74" fill="#3a3a3a"/><circle cx="1125.4" cy="105.24" r="1.97" fill="#1c1c1c"/><circle cx="1124.66" cy="102.96" r="1.75" fill="#3a3a3a"/><circle cx="1122.79" cy="101.46" r="1.36" fill="#303030"/><circle cx="1120.43" cy="101.9" r="1.75" fill="#444"/><circle cx="1119.08" cy="103.89" r="1.94" fill="#2a2a2a"/><circle cx="1116.69" cy="103.75" r="1.67" fill="#262626"/><circle cx="1171.57" cy="81.42" r="1.92" fill="#3a3a3a"/><circle cx="1170.82" cy="79.14" r="1.95" fill="#262626"/><circle cx="1168.58" cy="78.26" r="1.67" fill="#1c1c1c"/><circle cx="1167.06" cy="76.4" r="1.97" fill="#303030"/><circle cx="1167.26" cy="74.01" r="1.42" fill="#3a3a3a"/><circle cx="1166.21" cy="71.85" r="1.49" fill="#3a3a3a"/><circle cx="1153.92" cy="139.67" r="1.64" fill="#1c1c1c"/><circle cx="1156.27" cy="139.19" r="1.53" fill="#444"/><circle cx="1156.9" cy="136.87" r="1.81" fill="#444"/><circle cx="1156.7" cy="134.48" r="1.77" fill="#444"/><circle cx="1154.43" cy="133.7" r="1.44" fill="#3a3a3a"/><circle cx="1152.23" cy="134.66" r="1.85" fill="#303030"/><circle cx="1151.02" cy="136.73" r="1.44" fill="#1c1c1c"/><circle cx="1148.63" cy="136.44" r="1.42" fill="#1c1c1c"/><circle cx="1146.45" cy="135.44" r="1.78" fill="#303030"/><circle cx="1173.82" cy="81.52" r="1.84" fill="#444"/><circle cx="1173.67" cy="83.91" r="1.47" fill="#303030"/><circle cx="1172.06" cy="85.69" r="1.7" fill="#444"/><circle cx="1170.45" cy="87.47" r="2" fill="#262626"/><circle cx="1169.34" cy="89.6" r="1.86" fill="#262626"/><circle cx="1203.85" cy="145.85" r="1.59" fill="#444"/><circle cx="1201.45" cy="145.67" r="1.68" fill="#303030"/><circle cx="1199.05" cy="145.7" r="1.77" fill="#262626"/><circle cx="1197.71" cy="147.69" r="1.91" fill="#2a2a2a"/><circle cx="1195.31" cy="147.59" r="1.43" fill="#262626"/><circle cx="1194.55" cy="99.87" r="1.62" fill="#303030"/><circle cx="1192.34" cy="100.8" r="1.37" fill="#1c1c1c"/><circle cx="1190.32" cy="102.1" r="1.37" fill="#444"/><circle cx="1188.96" cy="104.08" r="1.86" fill="#262626"/><circle cx="1187.74" cy="106.15" r="2" fill="#2a2a2a"/><circle cx="1186.44" cy="108.16" r="1.79" fill="#3a3a3a"/><circle cx="1184.04" cy="107.98" r="1.67" fill="#2a2a2a"/><circle cx="1182.59" cy="109.89" r="1.49" fill="#444"/><circle cx="1180.88" cy="111.57" r="1.89" fill="#444"/><circle cx="1154.26" cy="160.77" r="1.97" fill="#444"/><circle cx="1154.99" cy="163.05" r="1.9" fill="#444"/><circle cx="1155.6" cy="165.37" r="1.72" fill="#262626"/><circle cx="1156.68" cy="167.51" r="1.42" fill="#1c1c1c"/><circle cx="1157.19" cy="169.86" r="1.37" fill="#1c1c1c"/><circle cx="1157.62" cy="172.22" r="1.61" fill="#444"/><circle cx="1159.74" cy="173.34" r="1.41" fill="#262626"/><circle cx="1161.78" cy="172.08" r="1.7" fill="#3a3a3a"/><circle cx="1187.85" cy="106.71" r="1.63" fill="#3a3a3a"/><circle cx="1185.45" cy="106.67" r="1.42" fill="#3a3a3a"/><circle cx="1183.15" cy="105.97" r="1.95" fill="#262626"/><circle cx="1181.46" cy="104.27" r="1.99" fill="#1c1c1c"/><circle cx="1179.06" cy="104.15" r="1.5" fill="#2a2a2a"/><circle cx="1176.92" cy="105.23" r="1.82" fill="#262626"/><circle cx="1174.56" cy="105.66" r="1.42" fill="#2a2a2a"/><circle cx="1175.87" cy="165.08" r="1.75" fill="#444"/><circle cx="1173.48" cy="164.78" r="1.76" fill="#2a2a2a"/><circle cx="1171.44" cy="166.04" r="1.49" fill="#444"/><circle cx="1169.13" cy="166.7" r="1.91" fill="#262626"/><circle cx="1167.32" cy="165.13" r="1.76" fill="#303030"/><circle cx="1167.58" cy="162.75" r="1.56" fill="#303030"/><circle cx="1169.66" cy="161.55" r="1.48" fill="#262626"/><circle cx="1171.86" cy="162.5" r="1.44" fill="#262626"/><circle cx="1174" cy="161.4" r="1.41" fill="#3a3a3a"/><circle cx="1201.28" cy="176.11" r="1.68" fill="#2a2a2a"/><circle cx="1199.66" cy="174.33" r="1.87" fill="#3a3a3a"/><circle cx="1197.28" cy="174.6" r="1.37" fill="#444"/><circle cx="1194.91" cy="174.21" r="1.94" fill="#3a3a3a"/><circle cx="1193.05" cy="175.73" r="1.47" fill="#262626"/><circle cx="1192.82" cy="178.12" r="1.45" fill="#303030"/><circle cx="1190.66" cy="179.16" r="1.41" fill="#1c1c1c"/><circle cx="1173.4" cy="66.55" r="1.68" fill="#3a3a3a"/><circle cx="1172.94" cy="68.9" r="1.59" fill="#2a2a2a"/><circle cx="1171.45" cy="70.78" r="1.9" fill="#262626"/><circle cx="1170.41" cy="72.94" r="1.58" fill="#303030"/><circle cx="1169.87" cy="75.28" r="1.48" fill="#262626"/><circle cx="1171.51" cy="77.04" r="1.87" fill="#303030"/><circle cx="1171.04" cy="79.39" r="1.87" fill="#2a2a2a"/><circle cx="1168.91" cy="80.49" r="1.94" fill="#3a3a3a"/><circle cx="1114.1" cy="128.91" r="1.94" fill="#2a2a2a"/><circle cx="1115.58" cy="127.01" r="1.45" fill="#3a3a3a"/><circle cx="1115.06" cy="124.67" r="1.56" fill="#444"/><circle cx="1115.65" cy="122.34" r="1.85" fill="#262626"/><circle cx="1115.7" cy="119.94" r="1.82" fill="#1c1c1c"/><circle cx="1117.31" cy="118.17" r="1.55" fill="#1c1c1c"/><circle cx="1116.29" cy="115.99" r="1.58" fill="#2a2a2a"/><circle cx="1127.16" cy="83.57" r="1.6" fill="#3a3a3a"/><circle cx="1127.37" cy="85.96" r="1.81" fill="#3a3a3a"/><circle cx="1125.27" cy="87.13" r="1.36" fill="#444"/><circle cx="1124.97" cy="89.51" r="1.5" fill="#3a3a3a"/><circle cx="1125.23" cy="91.89" r="1.38" fill="#262626"/><circle cx="1092.3" cy="88.8" r="1.68" fill="#444"/><circle cx="1090.7" cy="90.58" r="2" fill="#2a2a2a"/><circle cx="1089.34" cy="92.56" r="1.77" fill="#444"/><circle cx="1087.56" cy="94.18" r="1.84" fill="#1c1c1c"/><circle cx="1086.28" cy="96.21" r="1.96" fill="#3a3a3a"/><circle cx="1087" cy="104.19" r="1.69" fill="#444"/><circle cx="1155.18" cy="116.44" r="1.37" fill="#262626"/><circle cx="1157.51" cy="115.87" r="1.76" fill="#3a3a3a"/><circle cx="1159.75" cy="116.75" r="1.6" fill="#303030"/><circle cx="1161.1" cy="118.73" r="1.38" fill="#2a2a2a"/><circle cx="1160.02" cy="120.88" r="1.4" fill="#262626"/><circle cx="1159.32" cy="123.17" r="1.66" fill="#262626"/><circle cx="1161.03" cy="124.85" r="1.41" fill="#2a2a2a"/><circle cx="1108.47" cy="175.07" r="1.76" fill="#3a3a3a"/><circle cx="1106.24" cy="174.18" r="1.91" fill="#303030"/><circle cx="1104.08" cy="173.15" r="1.43" fill="#3a3a3a"/><circle cx="1101.88" cy="174.12" r="1.62" fill="#444"/><circle cx="1100.56" cy="176.12" r="1.73" fill="#3a3a3a"/><circle cx="1181.01" cy="157.26" r="1.5" fill="#1c1c1c"/><circle cx="1180.39" cy="159.58" r="1.55" fill="#444"/><circle cx="1179.12" cy="161.62" r="1.58" fill="#303030"/><circle cx="1177.36" cy="163.25" r="1.82" fill="#2a2a2a"/><circle cx="1175.29" cy="164.46" r="1.76" fill="#262626"/><circle cx="1174.58" cy="166.75" r="1.51" fill="#2a2a2a"/><circle cx="1197.33" cy="61.86" r="1.37" fill="#1c1c1c"/><circle cx="1199.09" cy="63.49" r="1.7" fill="#1c1c1c"/><circle cx="1199.59" cy="65.84" r="1.94" fill="#262626"/><circle cx="1199.8" cy="68.23" r="1.76" fill="#303030"/><circle cx="1200.1" cy="70.61" r="1.58" fill="#303030"/><circle cx="1201.25" cy="72.72" r="1.83" fill="#1c1c1c"/><circle cx="1200.71" cy="75.06" r="1.64" fill="#444"/><circle cx="1198.65" cy="76.28" r="1.85" fill="#3a3a3a"/><circle cx="1122.23" cy="156.61" r="1.56" fill="#444"/><circle cx="1122.27" cy="154.22" r="1.89" fill="#262626"/><circle cx="1121.89" cy="151.84" r="1.59" fill="#1c1c1c"/><circle cx="1121.3" cy="149.52" r="1.56" fill="#444"/><circle cx="1119.02" cy="148.76" r="1.72" fill="#3a3a3a"/><circle cx="1117.89" cy="146.65" r="1.65" fill="#1c1c1c"/><circle cx="1115.49" cy="146.5" r="1.49" fill="#2a2a2a"/><circle cx="1113.21" cy="145.77" r="1.8" fill="#3a3a3a"/><circle cx="1111.62" cy="143.97" r="1.8" fill="#303030"/><circle cx="1117.47" cy="137.84" r="1.81" fill="#444"/><circle cx="1119.71" cy="136.99" r="1.94" fill="#2a2a2a"/><circle cx="1121.65" cy="138.41" r="1.63" fill="#303030"/><circle cx="1123.72" cy="139.62" r="1.49" fill="#2a2a2a"/><circle cx="1123.95" cy="142.01" r="1.51" fill="#303030"/><circle cx="1122.41" cy="143.86" r="1.37" fill="#2a2a2a"/><circle cx="1121.37" cy="146.02" r="1.6" fill="#262626"/><circle cx="1135.56" cy="105" r="1.46" fill="#3a3a3a"/><circle cx="1135.36" cy="102.61" r="1.53" fill="#1c1c1c"/><circle cx="1133.72" cy="100.86" r="1.39" fill="#262626"/><circle cx="1132.38" cy="98.86" r="1.98" fill="#2a2a2a"/><circle cx="1132.92" cy="96.53" r="1.62" fill="#444"/><circle cx="1133.73" cy="94.27" r="1.86" fill="#1c1c1c"/><circle cx="1124.11" cy="69.96" r="1.41" fill="#2a2a2a"/><circle cx="1126.51" cy="69.91" r="1.81" fill="#3a3a3a"/><circle cx="1128.47" cy="71.29" r="1.69" fill="#3a3a3a"/><circle cx="1130.72" cy="72.13" r="1.57" fill="#303030"/><circle cx="1132.44" cy="73.81" r="1.67" fill="#444"/><circle cx="1132.6" cy="76.2" r="1.4" fill="#444"/><circle cx="1140.68" cy="158.63" r="1.89" fill="#3a3a3a"/><circle cx="1143.05" cy="159.05" r="1.77" fill="#444"/><circle cx="1145.42" cy="158.69" r="1.36" fill="#1c1c1c"/><circle cx="1147.68" cy="157.88" r="1.62" fill="#262626"/><circle cx="1149.07" cy="155.93" r="1.46" fill="#2a2a2a"/><circle cx="1149.83" cy="153.65" r="1.46" fill="#262626"/><circle cx="1149.96" cy="151.26" r="1.69" fill="#303030"/><circle cx="1152.18" cy="150.35" r="1.39" fill="#303030"/><circle cx="1201.38" cy="149.64" r="1.55" fill="#262626"/><circle cx="1199.84" cy="151.48" r="1.49" fill="#262626"/><circle cx="1197.91" cy="152.9" r="1.66" fill="#444"/><circle cx="1197.26" cy="155.22" r="1.47" fill="#303030"/><circle cx="1197.17" cy="157.61" r="1.94" fill="#303030"/><circle cx="1149.66" cy="106.52" r="1.66" fill="#262626"/><circle cx="1147.93" cy="104.86" r="1.49" fill="#262626"/><circle cx="1147.73" cy="102.47" r="1.6" fill="#444"/><circle cx="1149.13" cy="100.52" r="1.85" fill="#1c1c1c"/><circle cx="1151.16" cy="99.23" r="1.5" fill="#1c1c1c"/><circle cx="1200.53" cy="112.35" r="1.62" fill="#303030"/><circle cx="1200" cy="114.69" r="1.94" fill="#444"/><circle cx="1201.47" cy="116.59" r="1.83" fill="#444"/><circle cx="1203.73" cy="117.41" r="1.7" fill="#262626"/><circle cx="1205.81" cy="118.61" r="1.47" fill="#262626"/><circle cx="1206.46" cy="120.91" r="1.9" fill="#262626"/><circle cx="1123.66" cy="145.13" r="1.4" fill="#2a2a2a"/><circle cx="1121.27" cy="144.93" r="1.91" fill="#303030"/><circle cx="1120.12" cy="147.04" r="1.47" fill="#262626"/><circle cx="1117.73" cy="147.21" r="1.41" fill="#3a3a3a"/><circle cx="1116" cy="148.88" r="1.7" fill="#444"/><circle cx="1114.31" cy="150.58" r="1.97" fill="#303030"/><circle cx="1113.5" cy="152.84" r="1.61" fill="#444"/><circle cx="1113.79" cy="155.22" r="1.65" fill="#2a2a2a"/><circle cx="1172.78" cy="148.84" r="1.36" fill="#3a3a3a"/><circle cx="1173.48" cy="151.13" r="1.66" fill="#303030"/><circle cx="1173.82" cy="153.51" r="1.65" fill="#1c1c1c"/><circle cx="1172.25" cy="155.32" r="1.9" fill="#2a2a2a"/><circle cx="1172.24" cy="157.72" r="1.75" fill="#303030"/><circle cx="1171.49" cy="160.01" r="1.96" fill="#2a2a2a"/><circle cx="1171.9" cy="162.37" r="1.57" fill="#3a3a3a"/><circle cx="1171.99" cy="164.77" r="1.41" fill="#262626"/><circle cx="1159.1" cy="146.03" r="1.42" fill="#444"/><circle cx="1157.97" cy="143.91" r="1.79" fill="#2a2a2a"/><circle cx="1155.68" cy="143.18" r="1.48" fill="#1c1c1c"/><circle cx="1154.64" cy="141.02" r="1.74" fill="#1c1c1c"/><circle cx="1152.27" cy="140.63" r="1.37" fill="#1c1c1c"/><circle cx="1203.15" cy="74.1" r="1.66" fill="#3a3a3a"/><circle cx="1203.97" cy="76.36" r="1.82" fill="#444"/><circle cx="1203.65" cy="78.74" r="1.99" fill="#262626"/><circle cx="1202.46" cy="80.82" r="1.75" fill="#1c1c1c"/><circle cx="1202.59" cy="83.22" r="1.47" fill="#303030"/><circle cx="1201.87" cy="85.51" r="1.42" fill="#3a3a3a"/><circle cx="1202.81" cy="87.72" r="1.57" fill="#303030"/><circle cx="1201.92" cy="89.95" r="1.75" fill="#262626"/><circle cx="1156.2" cy="93.71" r="1.44" fill="#2a2a2a"/><circle cx="1153.8" cy="93.76" r="1.96" fill="#2a2a2a"/><circle cx="1151.67" cy="92.66" r="1.96" fill="#444"/><circle cx="1151.6" cy="90.26" r="1.76" fill="#262626"/><circle cx="1153.03" cy="88.33" r="1.44" fill="#3a3a3a"/><circle cx="1154.78" cy="86.7" r="1.8" fill="#303030"/><circle cx="1154.4" cy="84.33" r="1.92" fill="#303030"/><circle cx="1153.81" cy="82" r="1.43" fill="#2a2a2a"/><circle cx="1151.65" cy="80.96" r="1.94" fill="#444"/><circle cx="1098.69" cy="169.56" r="1.74" fill="#1c1c1c"/><circle cx="1100.73" cy="168.29" r="1.35" fill="#2a2a2a"/><circle cx="1102.95" cy="169.22" r="1.51" fill="#444"/><circle cx="1105.34" cy="169.38" r="1.46" fill="#444"/><circle cx="1107.7" cy="169.82" r="1.4" fill="#1c1c1c"/><circle cx="1110.1" cy="169.7" r="1.86" fill="#2a2a2a"/><circle cx="1111.56" cy="167.79" r="1.84" fill="#2a2a2a"/><circle cx="1165.44" cy="135.76" r="1.65" fill="#262626"/><circle cx="1166.61" cy="137.86" r="1.43" fill="#3a3a3a"/><circle cx="1168.92" cy="138.52" r="1.69" fill="#303030"/><circle cx="1171.18" cy="137.73" r="1.96" fill="#1c1c1c"/><circle cx="1173.58" cy="137.75" r="1.37" fill="#2a2a2a"/><circle cx="1175.42" cy="139.29" r="1.61" fill="#3a3a3a"/><circle cx="1176.85" cy="141.22" r="1.66" fill="#3a3a3a"/><circle cx="1176.1" cy="143.5" r="1.94" fill="#444"/><circle cx="1192.43" cy="162.17" r="1.42" fill="#444"/><circle cx="1190.79" cy="163.93" r="1.69" fill="#3a3a3a"/><circle cx="1188.42" cy="163.57" r="1.56" fill="#1c1c1c"/><circle cx="1186.16" cy="164.38" r="1.75" fill="#3a3a3a"/><circle cx="1183.81" cy="163.86" r="1.74" fill="#303030"/><circle cx="1182.8" cy="161.69" r="1.92" fill="#262626"/><circle cx="1180.46" cy="161.14" r="1.64" fill="#444"/><circle cx="1179.43" cy="158.97" r="1.98" fill="#3a3a3a"/><circle cx="1179.49" cy="156.57" r="1.69" fill="#262626"/><circle cx="1135.62" cy="124.18" r="1.72" fill="#1c1c1c"/><circle cx="1138.02" cy="124.34" r="1.87" fill="#1c1c1c"/><circle cx="1139.34" cy="126.34" r="1.72" fill="#3a3a3a"/><circle cx="1141.69" cy="125.83" r="1.51" fill="#303030"/><circle cx="1142.2" cy="123.49" r="1.46" fill="#3a3a3a"/><circle cx="1144.4" cy="122.53" r="1.88" fill="#3a3a3a"/><circle cx="1145.12" cy="120.24" r="1.8" fill="#262626"/><circle cx="1143.41" cy="118.55" r="1.37" fill="#303030"/><circle cx="1148.19" cy="82.4" r="1.48" fill="#303030"/><circle cx="1150.33" cy="83.49" r="1.36" fill="#2a2a2a"/><circle cx="1150.77" cy="85.85" r="2" fill="#262626"/><circle cx="1151.03" cy="88.24" r="1.5" fill="#1c1c1c"/><circle cx="1150.43" cy="90.56" r="1.55" fill="#303030"/><circle cx="1124.14" cy="108.7" r="1.62" fill="#262626"/><circle cx="1124.45" cy="111.08" r="1.55" fill="#2a2a2a"/><circle cx="1123.68" cy="113.36" r="1.52" fill="#2a2a2a"/><circle cx="1124.4" cy="115.64" r="1.78" fill="#303030"/><circle cx="1125.78" cy="117.61" r="1.78" fill="#1c1c1c"/><circle cx="1126.71" cy="119.82" r="1.5" fill="#303030"/><circle cx="1125.45" cy="121.86" r="1.47" fill="#262626"/><circle cx="1125.41" cy="124.26" r="1.77" fill="#1c1c1c"/><circle cx="1100.23" cy="169.81" r="1.74" fill="#303030"/><circle cx="1102.34" cy="168.68" r="1.63" fill="#444"/><circle cx="1102.55" cy="166.29" r="1.54" fill="#262626"/><circle cx="1101.35" cy="164.21" r="1.53" fill="#444"/><circle cx="1098.96" cy="164.4" r="1.86" fill="#262626"/><circle cx="1112.77" cy="125.39" r="1.86" fill="#444"/><circle cx="1112.32" cy="127.75" r="1.89" fill="#2a2a2a"/><circle cx="1110.9" cy="129.68" r="1.69" fill="#444"/><circle cx="1111.27" cy="132.06" r="1.86" fill="#262626"/><circle cx="1113.39" cy="133.18" r="1.63" fill="#2a2a2a"/><circle cx="1115.65" cy="133.99" r="1.85" fill="#2a2a2a"/><circle cx="1116.85" cy="136.07" r="1.5" fill="#3a3a3a"/><circle cx="1117.83" cy="138.26" r="1.9" fill="#444"/><circle cx="1160.29" cy="164.36" r="1.75" fill="#3a3a3a"/><circle cx="1161.66" cy="166.33" r="1.82" fill="#1c1c1c"/><circle cx="1164.06" cy="166.18" r="1.94" fill="#444"/><circle cx="1166.37" cy="166.83" r="1.73" fill="#2a2a2a"/><circle cx="1168.62" cy="165.99" r="1.45" fill="#303030"/><circle cx="1185.47" cy="151.13" r="1.46" fill="#303030"/><circle cx="1183.2" cy="150.33" r="1.67" fill="#2a2a2a"/><circle cx="1182.18" cy="148.16" r="1.86" fill="#1c1c1c"/><circle cx="1180.33" cy="146.63" r="1.65" fill="#2a2a2a"/><circle cx="1177.93" cy="146.61" r="1.98" fill="#1c1c1c"/><circle cx="1176.41" cy="148.46" r="1.84" fill="#444"/><circle cx="1174.1" cy="147.79" r="1.44" fill="#3a3a3a"/><circle cx="1171.84" cy="146.99" r="1.99" fill="#1c1c1c"/><circle cx="1169.54" cy="147.67" r="1.93" fill="#262626"/><circle cx="1158.29" cy="115.04" r="1.5" fill="#303030"/><circle cx="1159.39" cy="112.91" r="1.91" fill="#3a3a3a"/><circle cx="1160.29" cy="110.69" r="1.96" fill="#303030"/><circle cx="1160.12" cy="108.29" r="1.97" fill="#444"/><circle cx="1158.48" cy="106.54" r="1.45" fill="#444"/><circle cx="1157.57" cy="104.32" r="1.39" fill="#303030"/><circle cx="1157.03" cy="101.98" r="1.94" fill="#444"/><circle cx="1158.73" cy="100.29" r="1.47" fill="#3a3a3a"/><circle cx="1161.05" cy="100.91" r="1.49" fill="#3a3a3a"/><circle cx="1117.06" cy="99.73" r="1.66" fill="#3a3a3a"/><circle cx="1114.83" cy="100.61" r="1.65" fill="#303030"/><circle cx="1112.66" cy="101.63" r="1.67" fill="#2a2a2a"/><circle cx="1110.26" cy="101.65" r="1.91" fill="#262626"/><circle cx="1107.87" cy="101.45" r="1.62" fill="#1c1c1c"/><circle cx="1105.82" cy="100.2" r="1.59" fill="#303030"/><circle cx="1153.79" cy="148.22" r="1.52" fill="#303030"/><circle cx="1151.86" cy="149.65" r="1.82" fill="#303030"/><circle cx="1151.72" cy="152.05" r="1.51" fill="#1c1c1c"/><circle cx="1153.84" cy="153.16" r="1.56" fill="#3a3a3a"/><circle cx="1156.09" cy="154" r="1.91" fill="#3a3a3a"/><circle cx="1158.49" cy="153.86" r="1.85" fill="#444"/><circle cx="1127.57" cy="131.77" r="1.74" fill="#1c1c1c"/><circle cx="1129.7" cy="132.88" r="1.62" fill="#3a3a3a"/><circle cx="1131.7" cy="134.21" r="1.44" fill="#2a2a2a"/><circle cx="1133.53" cy="135.76" r="1.55" fill="#3a3a3a"/><circle cx="1134.62" cy="137.9" r="1.45" fill="#262626"/><circle cx="1133.84" cy="140.16" r="1.7" fill="#3a3a3a"/><circle cx="1133.59" cy="142.55" r="1.6" fill="#303030"/><circle cx="1134.85" cy="144.59" r="1.54" fill="#303030"/><circle cx="1135.52" cy="146.9" r="1.44" fill="#1c1c1c"/><circle cx="1180.91" cy="138.23" r="1.8" fill="#2a2a2a"/><circle cx="1180.29" cy="135.91" r="1.85" fill="#303030"/><circle cx="1178.42" cy="134.41" r="1.76" fill="#1c1c1c"/><circle cx="1177.99" cy="132.05" r="1.43" fill="#3a3a3a"/><circle cx="1175.73" cy="131.26" r="1.6" fill="#303030"/><circle cx="1173.36" cy="131.69" r="1.81" fill="#262626"/><circle cx="1172.07" cy="133.71" r="1.61" fill="#3a3a3a"/><circle cx="1169.82" cy="134.54" r="1.58" fill="#2a2a2a"/><circle cx="1168.48" cy="136.54" r="1.41" fill="#303030"/><circle cx="1188.31" cy="115.83" r="1.81" fill="#1c1c1c"/><circle cx="1190.71" cy="115.93" r="1.43" fill="#1c1c1c"/><circle cx="1191.94" cy="117.99" r="1.53" fill="#3a3a3a"/><circle cx="1193.19" cy="120.04" r="1.73" fill="#3a3a3a"/><circle cx="1193.25" cy="122.44" r="1.93" fill="#1c1c1c"/><circle cx="1195.45" cy="123.38" r="1.58" fill="#303030"/><circle cx="1197.49" cy="124.66" r="1.52" fill="#2a2a2a"/><circle cx="1168.72" cy="104.28" r="1.72" fill="#262626"/><circle cx="1171.12" cy="104.3" r="1.76" fill="#444"/><circle cx="1173.51" cy="104.57" r="1.75" fill="#1c1c1c"/><circle cx="1175.69" cy="103.58" r="1.89" fill="#3a3a3a"/><circle cx="1177.51" cy="102.02" r="1.94" fill="#1c1c1c"/><circle cx="1173.69" cy="90.56" r="1.45" fill="#262626"/><circle cx="1171.89" cy="92.15" r="1.52" fill="#262626"/><circle cx="1171.39" cy="94.49" r="1.35" fill="#444"/><circle cx="1169.04" cy="94.99" r="1.35" fill="#444"/><circle cx="1166.7" cy="95.52" r="1.77" fill="#444"/><circle cx="1187.39" cy="89.48" r="1.8" fill="#2a2a2a"/><circle cx="1189.22" cy="87.93" r="1.47" fill="#262626"/><circle cx="1189.34" cy="85.53" r="1.75" fill="#3a3a3a"/><circle cx="1191.03" cy="83.83" r="1.54" fill="#3a3a3a"/><circle cx="1191.67" cy="81.52" r="1.84" fill="#444"/><circle cx="1192.29" cy="79.2" r="1.77" fill="#303030"/><circle cx="1112.51" cy="120.19" r="1.88" fill="#2a2a2a"/><circle cx="1114.91" cy="120.05" r="1.9" fill="#444"/><circle cx="1116.9" cy="121.4" r="1.66" fill="#262626"/><circle cx="1118.41" cy="123.26" r="1.62" fill="#3a3a3a"/><circle cx="1120.77" cy="122.81" r="1.52" fill="#444"/><circle cx="1174.95" cy="88.11" r="1.47" fill="#262626"/><circle cx="1172.55" cy="88.13" r="1.89" fill="#444"/><circle cx="1171.57" cy="85.94" r="1.77" fill="#262626"/><circle cx="1171.28" cy="83.56" r="1.89" fill="#262626"/><circle cx="1169.23" cy="82.31" r="1.6" fill="#2a2a2a"/><circle cx="1166.83" cy="82.2" r="1.77" fill="#1c1c1c"/><circle cx="1164.43" cy="82.24" r="1.8" fill="#262626"/><circle cx="1123.8" cy="87.99" r="1.38" fill="#2a2a2a"/><circle cx="1121.68" cy="86.88" r="1.92" fill="#262626"/><circle cx="1119.28" cy="86.96" r="1.83" fill="#1c1c1c"/><circle cx="1116.96" cy="87.58" r="1.94" fill="#444"/><circle cx="1114.97" cy="86.24" r="1.46" fill="#1c1c1c"/><circle cx="1112.59" cy="85.92" r="1.87" fill="#2a2a2a"/><circle cx="1138.39" cy="132.98" r="1.79" fill="#262626"/><circle cx="1140.79" cy="132.96" r="1.87" fill="#262626"/><circle cx="1143.17" cy="132.61" r="1.89" fill="#444"/><circle cx="1144.67" cy="134.48" r="1.51" fill="#3a3a3a"/><circle cx="1146.46" cy="136.08" r="1.45" fill="#1c1c1c"/><circle cx="1148.82" cy="136.51" r="1.72" fill="#303030"/><circle cx="1150.95" cy="137.62" r="1.53" fill="#262626"/><circle cx="1153.03" cy="136.41" r="1.48" fill="#444"/><circle cx="1128.43" cy="66.65" r="1.99" fill="#3a3a3a"/><circle cx="1126.05" cy="66.98" r="1.62" fill="#444"/><circle cx="1123.84" cy="67.9" r="1.39" fill="#444"/><circle cx="1121.45" cy="68.17" r="1.89" fill="#303030"/><circle cx="1119.53" cy="69.61" r="1.96" fill="#262626"/><circle cx="1117.48" cy="68.38" r="1.64" fill="#2a2a2a"/><circle cx="1172.66" cy="90.34" r="1.68" fill="#1c1c1c"/><circle cx="1171.96" cy="88.04" r="1.39" fill="#303030"/><circle cx="1169.57" cy="87.79" r="1.69" fill="#262626"/><circle cx="1167.91" cy="86.06" r="1.83" fill="#3a3a3a"/><circle cx="1165.65" cy="85.25" r="1.7" fill="#2a2a2a"/><circle cx="1139.67" cy="143.75" r="1.36" fill="#262626"/><circle cx="1140.49" cy="141.49" r="1.6" fill="#303030"/><circle cx="1141.35" cy="139.25" r="1.53" fill="#303030"/><circle cx="1142.83" cy="137.36" r="1.64" fill="#303030"/><circle cx="1143.16" cy="134.99" r="1.94" fill="#303030"/><circle cx="1123.02" cy="83.27" r="1.71" fill="#2a2a2a"/><circle cx="1125.22" cy="82.32" r="1.58" fill="#262626"/><circle cx="1125.94" cy="80.02" r="1.58" fill="#3a3a3a"/><circle cx="1124.14" cy="78.43" r="1.61" fill="#1c1c1c"/><circle cx="1122.03" cy="77.29" r="1.56" fill="#444"/><circle cx="1121.41" cy="74.97" r="1.84" fill="#1c1c1c"/><circle cx="1129.83" cy="149.76" r="1.66" fill="#262626"/><circle cx="1132.22" cy="149.57" r="1.86" fill="#262626"/><circle cx="1134.1" cy="151.06" r="1.4" fill="#3a3a3a"/><circle cx="1133.69" cy="153.42" r="1.56" fill="#262626"/><circle cx="1131.9" cy="155.02" r="1.69" fill="#1c1c1c"/><circle cx="1131.91" cy="157.42" r="1.76" fill="#3a3a3a"/><circle cx="1129.91" cy="158.75" r="1.39" fill="#444"/><circle cx="1127.63" cy="159.49" r="1.93" fill="#2a2a2a"/><circle cx="1152.09" cy="126.83" r="1.63" fill="#3a3a3a"/><circle cx="1152.92" cy="124.58" r="1.6" fill="#262626"/><circle cx="1153.06" cy="122.19" r="1.7" fill="#1c1c1c"/><circle cx="1153.29" cy="119.8" r="1.37" fill="#2a2a2a"/><circle cx="1153.23" cy="117.4" r="1.53" fill="#1c1c1c"/><circle cx="1153.72" cy="115.05" r="1.96" fill="#262626"/><circle cx="1154.41" cy="112.75" r="1.56" fill="#303030"/><circle cx="1156.24" cy="111.19" r="1.55" fill="#2a2a2a"/><circle cx="1182.09" cy="167.37" r="1.89" fill="#1c1c1c"/><circle cx="1182.96" cy="169.61" r="2" fill="#1c1c1c"/><circle cx="1185.12" cy="170.65" r="1.37" fill="#303030"/><circle cx="1187.5" cy="170.28" r="1.87" fill="#3a3a3a"/><circle cx="1189.07" cy="168.47" r="1.36" fill="#3a3a3a"/><circle cx="1189.04" cy="166.08" r="1.53" fill="#2a2a2a"/><circle cx="1206.59" cy="84.01" r="1.6" fill="#2a2a2a"/><circle cx="1204.26" cy="84.6" r="1.94" fill="#1c1c1c"/><circle cx="1203.47" cy="86.86" r="1.77" fill="#444"/><circle cx="1202.02" cy="88.78" r="1.92" fill="#2a2a2a"/><circle cx="1199.67" cy="88.29" r="1.71" fill="#3a3a3a"/><circle cx="1197.28" cy="88.5" r="1.88" fill="#2a2a2a"/><circle cx="1195.21" cy="89.72" r="1.76" fill="#303030"/><circle cx="1192.84" cy="90.08" r="1.49" fill="#262626"/><circle cx="1191.38" cy="91.99" r="1.43" fill="#2a2a2a"/><circle cx="1096" cy="91.22" r="1.58" fill="#262626"/><circle cx="1097.34" cy="93.22" r="1.39" fill="#262626"/><circle cx="1097.39" cy="95.62" r="1.58" fill="#303030"/><circle cx="1095.99" cy="97.56" r="1.48" fill="#1c1c1c"/><circle cx="1094.05" cy="98.98" r="1.63" fill="#444"/><circle cx="1092.47" cy="100.78" r="1.65" fill="#444"/><circle cx="1092.9" cy="103.14" r="1.41" fill="#444"/><circle cx="1092.18" cy="105.43" r="1.5" fill="#444"/><circle cx="1093.56" cy="107.4" r="1.43" fill="#303030"/><circle cx="1100.46" cy="136.75" r="1.83" fill="#444"/><circle cx="1098.81" cy="138.49" r="1.77" fill="#303030"/><circle cx="1097.52" cy="140.52" r="1.53" fill="#3a3a3a"/><circle cx="1095.58" cy="141.92" r="1.52" fill="#2a2a2a"/><circle cx="1093.21" cy="142.3" r="1.79" fill="#262626"/><circle cx="1092.62" cy="144.63" r="1.59" fill="#444"/><circle cx="1121.45" cy="108.74" r="1.42" fill="#2a2a2a"/><circle cx="1120.26" cy="106.65" r="1.93" fill="#1c1c1c"/><circle cx="1120.69" cy="104.29" r="1.36" fill="#1c1c1c"/><circle cx="1122.26" cy="102.48" r="1.78" fill="#303030"/><circle cx="1124.54" cy="103.23" r="1.88" fill="#1c1c1c"/><circle cx="1126.34" cy="104.81" r="1.45" fill="#1c1c1c"/><circle cx="1128.56" cy="105.72" r="1.65" fill="#303030"/><circle cx="1130.82" cy="106.53" r="1.77" fill="#1c1c1c"/><circle cx="1131.06" cy="108.91" r="1.98" fill="#3a3a3a"/><circle cx="1118.82" cy="123.59" r="1.78" fill="#2a2a2a"/><circle cx="1119.24" cy="125.95" r="1.69" fill="#444"/><circle cx="1121.07" cy="127.5" r="1.59" fill="#262626"/><circle cx="1122.85" cy="129.11" r="1.41" fill="#1c1c1c"/><circle cx="1125" cy="128.06" r="1.97" fill="#2a2a2a"/><circle cx="1127.37" cy="127.69" r="1.83" fill="#303030"/><circle cx="1129.71" cy="128.24" r="1.98" fill="#3a3a3a"/><circle cx="1131.21" cy="130.12" r="1.43" fill="#3a3a3a"/><circle cx="1135.88" cy="102.04" r="1.58" fill="#444"/><circle cx="1137.87" cy="100.7" r="1.98" fill="#1c1c1c"/><circle cx="1139.02" cy="98.59" r="1.68" fill="#1c1c1c"/><circle cx="1137.79" cy="96.53" r="1.5" fill="#2a2a2a"/><circle cx="1135.39" cy="96.42" r="1.68" fill="#303030"/><circle cx="1120.75" cy="129.67" r="1.64" fill="#444"/><circle cx="1122.02" cy="127.63" r="1.44" fill="#1c1c1c"/><circle cx="1124.34" cy="126.99" r="1.68" fill="#262626"/><circle cx="1125.91" cy="128.81" r="1.69" fill="#3a3a3a"/><circle cx="1126.9" cy="130.99" r="1.98" fill="#2a2a2a"/><circle cx="1125.39" cy="132.85" r="1.62" fill="#1c1c1c"/><circle cx="1125.31" cy="135.25" r="1.87" fill="#1c1c1c"/><circle cx="1123.96" cy="137.23" r="1.81" fill="#262626"/><circle cx="1123.71" cy="139.62" r="1.75" fill="#3a3a3a"/><circle cx="1100.48" cy="89.08" r="1.93" fill="#262626"/><circle cx="1102.86" cy="88.75" r="1.93" fill="#262626"/><circle cx="1105.26" cy="88.8" r="1.68" fill="#1c1c1c"/><circle cx="1107.59" cy="88.25" r="1.54" fill="#2a2a2a"/><circle cx="1109.99" cy="88.27" r="1.49" fill="#1c1c1c"/><circle cx="1112.36" cy="87.89" r="1.66" fill="#303030"/><circle cx="1114.72" cy="88.35" r="1.57" fill="#1c1c1c"/><circle cx="1157.25" cy="106.17" r="1.37" fill="#303030"/><circle cx="1159.25" cy="107.49" r="1.5" fill="#2a2a2a"/><circle cx="1161.17" cy="108.94" r="1.83" fill="#303030"/><circle cx="1163.35" cy="109.93" r="1.98" fill="#1c1c1c"/><circle cx="1164.89" cy="111.78" r="1.58" fill="#262626"/><circle cx="1166.93" cy="113.04" r="1.74" fill="#303030"/><circle cx="1167.41" cy="115.39" r="1.49" fill="#444"/><circle cx="1132.71" cy="162.26" r="1.77" fill="#303030"/><circle cx="1130.43" cy="161.49" r="1.54" fill="#2a2a2a"/><circle cx="1128.51" cy="162.92" r="1.61" fill="#262626"/><circle cx="1126.14" cy="162.55" r="1.56" fill="#303030"/><circle cx="1124.28" cy="164.06" r="1.45" fill="#303030"/><circle cx="1122.02" cy="164.87" r="1.39" fill="#3a3a3a"/><circle cx="1121.68" cy="167.25" r="1.76" fill="#444"/><circle cx="1123.27" cy="169.04" r="1.57" fill="#2a2a2a"/><circle cx="1100.07" cy="153.11" r="1.84" fill="#2a2a2a"/><circle cx="1099.73" cy="150.74" r="1.43" fill="#303030"/><circle cx="1101.47" cy="149.08" r="1.82" fill="#1c1c1c"/><circle cx="1103.74" cy="149.88" r="1.58" fill="#444"/><circle cx="1105.33" cy="151.67" r="1.81" fill="#3a3a3a"/><circle cx="1107.55" cy="152.58" r="1.97" fill="#444"/><circle cx="1109.61" cy="151.36" r="1.91" fill="#1c1c1c"/><circle cx="1111.38" cy="149.74" r="1.7" fill="#1c1c1c"/><circle cx="1124.16" cy="107.14" r="1.79" fill="#3a3a3a"/><circle cx="1126.32" cy="106.09" r="1.8" fill="#3a3a3a"/><circle cx="1128.5" cy="105.1" r="1.66" fill="#444"/><circle cx="1130.87" cy="105.47" r="1.46" fill="#444"/><circle cx="1133.19" cy="104.84" r="1.36" fill="#262626"/><circle cx="1135.58" cy="105.08" r="1.6" fill="#444"/><circle cx="1145.79" cy="129.42" r="1.66" fill="#3a3a3a"/><circle cx="1145.12" cy="127.12" r="1.8" fill="#262626"/><circle cx="1145.21" cy="124.72" r="1.58" fill="#3a3a3a"/><circle cx="1145.72" cy="122.38" r="1.52" fill="#1c1c1c"/><circle cx="1147.66" cy="120.96" r="1.52" fill="#262626"/><circle cx="1150.05" cy="120.7" r="1.63" fill="#444"/><circle cx="1112.75" cy="107.89" r="1.5" fill="#444"/><circle cx="1112.97" cy="110.28" r="1.55" fill="#262626"/><circle cx="1115.22" cy="111.13" r="1.8" fill="#444"/><circle cx="1117.37" cy="110.07" r="1.67" fill="#3a3a3a"/><circle cx="1118.03" cy="107.76" r="1.97" fill="#303030"/><circle cx="1102.82" cy="153.44" r="1.83" fill="#303030"/><circle cx="1105.08" cy="154.25" r="1.85" fill="#444"/><circle cx="1107.24" cy="153.19" r="2" fill="#303030"/><circle cx="1109.64" cy="153.2" r="1.59" fill="#2a2a2a"/><circle cx="1111.41" cy="154.81" r="1.75" fill="#2a2a2a"/><circle cx="1110.65" cy="157.08" r="1.42" fill="#303030"/><circle cx="1112.42" cy="158.71" r="1.7" fill="#303030"/><circle cx="1113.41" cy="160.89" r="1.54" fill="#444"/><circle cx="1115.73" cy="161.51" r="1.67" fill="#303030"/><circle cx="1187.03" cy="173.04" r="1.91" fill="#444"/><circle cx="1187.29" cy="175.43" r="1.87" fill="#262626"/><circle cx="1187.35" cy="177.83" r="1.78" fill="#444"/><circle cx="1185.92" cy="179.76" r="1.52" fill="#1c1c1c"/><circle cx="1184.86" cy="181.91" r="1.86" fill="#2a2a2a"/><circle cx="1182.67" cy="182.89" r="1.5" fill="#3a3a3a"/><circle cx="1180.27" cy="182.83" r="1.57" fill="#262626"/><circle cx="1179.16" cy="180.7" r="1.68" fill="#444"/><circle cx="1179.31" cy="178.3" r="1.93" fill="#1c1c1c"/><circle cx="1099.69" cy="167.91" r="1.48" fill="#303030"/><circle cx="1097.29" cy="168.02" r="1.92" fill="#1c1c1c"/><circle cx="1096.06" cy="165.96" r="1.78" fill="#262626"/><circle cx="1093.67" cy="166.2" r="1.72" fill="#2a2a2a"/><circle cx="1092.46" cy="164.13" r="1.98" fill="#444"/><circle cx="1143.85" cy="140.57" r="1.67" fill="#262626"/><circle cx="1145.13" cy="138.54" r="1.42" fill="#262626"/><circle cx="1146.34" cy="136.47" r="1.4" fill="#3a3a3a"/><circle cx="1144.99" cy="134.49" r="1.96" fill="#444"/><circle cx="1142.59" cy="134.53" r="1.93" fill="#303030"/><circle cx="1140.39" cy="135.48" r="1.81" fill="#262626"/><circle cx="1138.6" cy="133.88" r="1.97" fill="#262626"/><circle cx="1138.66" cy="131.48" r="1.96" fill="#1c1c1c"/><circle cx="1139.33" cy="129.18" r="1.87" fill="#2a2a2a"/><circle cx="1199.7" cy="95.9" r="1.97" fill="#1c1c1c"/><circle cx="1197.95" cy="94.25" r="1.54" fill="#303030"/><circle cx="1198.61" cy="91.95" r="1.37" fill="#1c1c1c"/><circle cx="1197.33" cy="89.92" r="1.47" fill="#444"/><circle cx="1196.15" cy="87.83" r="1.73" fill="#2a2a2a"/><circle cx="1196.69" cy="85.49" r="1.35" fill="#1c1c1c"/><circle cx="1117.16" cy="105.64" r="1.58" fill="#1c1c1c"/><circle cx="1114.76" cy="105.59" r="1.51" fill="#1c1c1c"/><circle cx="1112.42" cy="105.06" r="1.69" fill="#303030"/><circle cx="1110.11" cy="104.41" r="1.58" fill="#2a2a2a"/><circle cx="1107.86" cy="105.27" r="1.92" fill="#262626"/><circle cx="1106.74" cy="107.39" r="1.49" fill="#3a3a3a"/><circle cx="1185.82" cy="97.94" r="1.74" fill="#444"/><circle cx="1183.6" cy="97.05" r="1.92" fill="#262626"/><circle cx="1181.2" cy="97.22" r="1.39" fill="#444"/><circle cx="1179.07" cy="98.34" r="1.82" fill="#2a2a2a"/><circle cx="1179.14" cy="100.73" r="1.51" fill="#1c1c1c"/><circle cx="1181.21" cy="101.95" r="1.85" fill="#262626"/><circle cx="1183.43" cy="102.87" r="1.38" fill="#444"/><circle cx="1135.86" cy="100.84" r="2" fill="#3a3a3a"/><circle cx="1137.79" cy="102.27" r="1.86" fill="#303030"/><circle cx="1137.21" cy="104.6" r="1.48" fill="#303030"/><circle cx="1136.28" cy="106.81" r="1.96" fill="#1c1c1c"/><circle cx="1135.48" cy="109.07" r="1.88" fill="#1c1c1c"/><circle cx="1137.1" cy="110.85" r="1.37" fill="#1c1c1c"/><circle cx="1139" cy="112.31" r="1.45" fill="#1c1c1c"/><circle cx="1141.4" cy="112.18" r="1.92" fill="#262626"/><circle cx="1132.37" cy="171.48" r="1.48" fill="#262626"/><circle cx="1132.99" cy="169.16" r="1.5" fill="#2a2a2a"/><circle cx="1135.22" cy="168.26" r="1.78" fill="#303030"/><circle cx="1137.07" cy="166.73" r="1.43" fill="#303030"/><circle cx="1137.14" cy="164.33" r="1.92" fill="#262626"/><circle cx="1172.84" cy="72.15" r="1.69" fill="#444"/><circle cx="1172.14" cy="69.85" r="1.64" fill="#444"/><circle cx="1170.31" cy="68.29" r="1.41" fill="#2a2a2a"/><circle cx="1167.92" cy="68.2" r="1.4" fill="#303030"/><circle cx="1167.01" cy="65.98" r="1.96" fill="#2a2a2a"/><circle cx="1166.11" cy="63.75" r="1.45" fill="#303030"/><circle cx="1166" cy="61.35" r="1.42" fill="#3a3a3a"/><circle cx="1193.37" cy="114.2" r="1.64" fill="#444"/><circle cx="1195.36" cy="112.87" r="1.38" fill="#262626"/><circle cx="1195.1" cy="110.48" r="1.61" fill="#262626"/><circle cx="1197.11" cy="109.18" r="1.37" fill="#3a3a3a"/><circle cx="1199.49" cy="109.52" r="1.67" fill="#2a2a2a"/><circle cx="1093.98" cy="99.07" r="1.52" fill="#444"/><circle cx="1096.38" cy="99" r="1.8" fill="#303030"/><circle cx="1098.69" cy="99.64" r="1.56" fill="#303030"/><circle cx="1100.69" cy="98.31" r="1.73" fill="#444"/><circle cx="1102.39" cy="96.62" r="1.7" fill="#3a3a3a"/><circle cx="1102.87" cy="94.27" r="1.97" fill="#3a3a3a"/><circle cx="1101.85" cy="92.09" r="1.96" fill="#2a2a2a"/><circle cx="1152.57" cy="178.1" r="1.5" fill="#444"/><circle cx="1154.17" cy="179.89" r="1.81" fill="#303030"/><circle cx="1156.44" cy="180.66" r="1.41" fill="#2a2a2a"/><circle cx="1157.99" cy="178.83" r="1.66" fill="#1c1c1c"/><circle cx="1159.53" cy="176.99" r="1.95" fill="#444"/><circle cx="1161.63" cy="175.81" r="1.8" fill="#2a2a2a"/><circle cx="1163.71" cy="174.61" r="1.52" fill="#444"/><circle cx="1159.81" cy="63.93" r="1.77" fill="#1c1c1c"/><circle cx="1157.55" cy="63.12" r="1.64" fill="#1c1c1c"/><circle cx="1155.19" cy="63.55" r="1.38" fill="#444"/><circle cx="1153.22" cy="62.17" r="1.87" fill="#303030"/><circle cx="1150.84" cy="62.47" r="1.76" fill="#1c1c1c"/><circle cx="1149.35" cy="92.75" r="1.95" fill="#2a2a2a"/><circle cx="1147.46" cy="94.23" r="1.89" fill="#303030"/><circle cx="1145.33" cy="93.11" r="1.95" fill="#2a2a2a"/><circle cx="1142.95" cy="93.4" r="1.82" fill="#303030"/><circle cx="1141" cy="92.01" r="1.87" fill="#262626"/><circle cx="1138.7" cy="92.71" r="1.66" fill="#2a2a2a"/><circle cx="1137.23" cy="94.61" r="1.95" fill="#1c1c1c"/><circle cx="1170.61" cy="114.92" r="1.96" fill="#2a2a2a"/><circle cx="1171.56" cy="112.72" r="1.98" fill="#262626"/><circle cx="1170.35" cy="110.65" r="1.99" fill="#3a3a3a"/><circle cx="1168.35" cy="109.32" r="1.47" fill="#2a2a2a"/><circle cx="1167.59" cy="107.04" r="1.52" fill="#2a2a2a"/><circle cx="1167.52" cy="104.64" r="1.43" fill="#2a2a2a"/><circle cx="1168.4" cy="102.41" r="1.63" fill="#3a3a3a"/><circle cx="1170.45" cy="101.16" r="1.86" fill="#1c1c1c"/><circle cx="1137.52" cy="100.47" r="1.5" fill="#444"/><circle cx="1137.28" cy="102.85" r="1.8" fill="#444"/><circle cx="1137.43" cy="105.25" r="1.65" fill="#2a2a2a"/><circle cx="1139.17" cy="106.9" r="1.77" fill="#2a2a2a"/><circle cx="1139.56" cy="109.27" r="1.42" fill="#303030"/><circle cx="1137.74" cy="110.83" r="1.94" fill="#303030"/><circle cx="1161.26" cy="94.26" r="1.53" fill="#444"/><circle cx="1161.35" cy="96.66" r="1.39" fill="#1c1c1c"/><circle cx="1159.57" cy="98.27" r="1.7" fill="#3a3a3a"/><circle cx="1157.18" cy="98.55" r="1.69" fill="#303030"/><circle cx="1155.58" cy="100.34" r="1.73" fill="#262626"/><circle cx="1139.2" cy="98.8" r="1.62" fill="#3a3a3a"/><circle cx="1136.89" cy="99.45" r="1.86" fill="#1c1c1c"/><circle cx="1135.98" cy="101.67" r="1.63" fill="#2a2a2a"/><circle cx="1135.54" cy="104.03" r="1.76" fill="#2a2a2a"/><circle cx="1133.29" cy="104.89" r="1.68" fill="#303030"/><circle cx="1130.93" cy="105.27" r="1.62" fill="#1c1c1c"/><circle cx="1128.54" cy="105.49" r="1.47" fill="#1c1c1c"/><circle cx="1126.18" cy="105.05" r="1.47" fill="#303030"/><circle cx="1124.63" cy="103.21" r="1.73" fill="#303030"/><circle cx="1187.47" cy="62.1" r="1.97" fill="#262626"/><circle cx="1187.71" cy="64.49" r="1.93" fill="#1c1c1c"/><circle cx="1187.65" cy="66.89" r="1.35" fill="#3a3a3a"/><circle cx="1186.52" cy="69.01" r="1.63" fill="#262626"/><circle cx="1184.14" cy="68.75" r="1.67" fill="#2a2a2a"/><circle cx="1120.67" cy="127.15" r="1.82" fill="#444"/><circle cx="1120.93" cy="129.53" r="1.97" fill="#2a2a2a"/><circle cx="1121.27" cy="131.91" r="1.73" fill="#303030"/><circle cx="1119.42" cy="133.44" r="1.76" fill="#303030"/><circle cx="1118.46" cy="135.64" r="1.49" fill="#2a2a2a"/><circle cx="1117.46" cy="137.82" r="1.62" fill="#3a3a3a"/><circle cx="1115.14" cy="138.41" r="1.47" fill="#1c1c1c"/><circle cx="1112.97" cy="137.38" r="1.81" fill="#3a3a3a"/><circle cx="1171.19" cy="82.18" r="1.62" fill="#303030"/><circle cx="1171.07" cy="84.58" r="1.41" fill="#2a2a2a"/><circle cx="1171.1" cy="86.98" r="1.92" fill="#3a3a3a"/><circle cx="1170.24" cy="89.22" r="1.79" fill="#444"/><circle cx="1167.84" cy="89.36" r="1.86" fill="#3a3a3a"/><circle cx="1100.07" cy="84.9" r="1.78" fill="#2a2a2a"/><circle cx="1098.02" cy="83.65" r="1.49" fill="#303030"/><circle cx="1095.63" cy="83.92" r="1.85" fill="#444"/><circle cx="1093.24" cy="83.69" r="1.82" fill="#444"/><circle cx="1091.27" cy="82.32" r="1.36" fill="#3a3a3a"/><circle cx="1088.93" cy="81.77" r="1.63" fill="#1c1c1c"/><circle cx="1086.83" cy="80.61" r="1.49" fill="#3a3a3a"/><circle cx="1132.1" cy="101.86" r="1.61" fill="#262626"/><circle cx="1129.86" cy="102.71" r="1.44" fill="#444"/><circle cx="1128.16" cy="104.41" r="1.82" fill="#1c1c1c"/><circle cx="1127.57" cy="106.74" r="1.72" fill="#444"/><circle cx="1125.24" cy="107.3" r="1.56" fill="#2a2a2a"/><circle cx="1123.09" cy="106.22" r="1.67" fill="#3a3a3a"/><circle cx="1120.7" cy="106.31" r="1.87" fill="#3a3a3a"/><circle cx="1118.47" cy="105.41" r="1.41" fill="#1c1c1c"/><circle cx="1116.17" cy="104.73" r="1.69" fill="#3a3a3a"/><circle cx="1174.52" cy="158.9" r="1.73" fill="#444"/><circle cx="1176.53" cy="160.21" r="1.59" fill="#2a2a2a"/><circle cx="1178.78" cy="161.03" r="1.86" fill="#2a2a2a"/><circle cx="1179.56" cy="163.3" r="1.96" fill="#262626"/><circle cx="1181.62" cy="164.53" r="1.37" fill="#1c1c1c"/><circle cx="1183.17" cy="166.36" r="1.37" fill="#262626"/><circle cx="1185.46" cy="167.07" r="1.67" fill="#2a2a2a"/><circle cx="1171.53" cy="92.82" r="1.8" fill="#303030"/><circle cx="1171.44" cy="90.42" r="1.94" fill="#3a3a3a"/><circle cx="1172.47" cy="88.25" r="1.37" fill="#444"/><circle cx="1172.27" cy="85.86" r="1.68" fill="#303030"/><circle cx="1170.64" cy="84.1" r="1.49" fill="#444"/><circle cx="1168.43" cy="83.18" r="1.77" fill="#303030"/><circle cx="1167.3" cy="81.06" r="1.93" fill="#262626"/><circle cx="1201.76" cy="140.27" r="1.49" fill="#303030"/><circle cx="1199.36" cy="140.31" r="1.5" fill="#303030"/><circle cx="1198.21" cy="142.42" r="1.67" fill="#2a2a2a"/><circle cx="1199.55" cy="144.42" r="1.8" fill="#1c1c1c"/><circle cx="1199.43" cy="146.81" r="1.79" fill="#444"/><circle cx="1201.56" cy="147.92" r="1.56" fill="#444"/><circle cx="1203.94" cy="148.22" r="1.99" fill="#444"/><circle cx="1137.77" cy="154.54" r="1.46" fill="#303030"/><circle cx="1137.54" cy="152.15" r="1.45" fill="#2a2a2a"/><circle cx="1136.34" cy="150.07" r="1.65" fill="#303030"/><circle cx="1134.11" cy="149.19" r="1.36" fill="#262626"/><circle cx="1131.72" cy="149.08" r="1.51" fill="#303030"/><circle cx="1129.54" cy="150.1" r="1.36" fill="#303030"/><circle cx="1128.04" cy="151.97" r="1.73" fill="#303030"/><circle cx="1128.29" cy="154.36" r="1.46" fill="#1c1c1c"/><circle cx="1128.73" cy="156.72" r="1.68" fill="#303030"/><circle cx="1144.75" cy="145.31" r="1.68" fill="#3a3a3a"/><circle cx="1145.43" cy="143.01" r="1.72" fill="#262626"/><circle cx="1144.88" cy="140.67" r="1.54" fill="#3a3a3a"/><circle cx="1142.54" cy="140.16" r="1.87" fill="#444"/><circle cx="1140.15" cy="139.89" r="1.69" fill="#303030"/><circle cx="1138.85" cy="137.88" r="1.89" fill="#2a2a2a"/><circle cx="1137.37" cy="135.99" r="1.59" fill="#3a3a3a"/><circle cx="1151.65" cy="84.87" r="1.4" fill="#262626"/><circle cx="1150.46" cy="82.79" r="1.57" fill="#3a3a3a"/><circle cx="1149.35" cy="80.66" r="1.55" fill="#303030"/><circle cx="1148.32" cy="78.49" r="1.99" fill="#1c1c1c"/><circle cx="1147.46" cy="76.25" r="1.42" fill="#262626"/><circle cx="1148.29" cy="73.99" r="1.81" fill="#1c1c1c"/><circle cx="1099.3" cy="148.58" r="1.77" fill="#303030"/><circle cx="1098.37" cy="146.37" r="1.95" fill="#444"/><circle cx="1095.97" cy="146.34" r="1.49" fill="#2a2a2a"/><circle cx="1094.74" cy="144.28" r="1.74" fill="#262626"/><circle cx="1094.96" cy="141.89" r="1.57" fill="#444"/><circle cx="1095.31" cy="139.51" r="1.98" fill="#262626"/><circle cx="1094.32" cy="137.32" r="1.88" fill="#2a2a2a"/><circle cx="1092.2" cy="136.21" r="1.46" fill="#303030"/><circle cx="1187.54" cy="74.28" r="1.93" fill="#2a2a2a"/><circle cx="1188.21" cy="76.59" r="1.56" fill="#303030"/><circle cx="1186.71" cy="78.45" r="1.83" fill="#303030"/><circle cx="1184.68" cy="79.74" r="1.75" fill="#2a2a2a"/><circle cx="1184.9" cy="82.13" r="1.72" fill="#3a3a3a"/><circle cx="1183.15" cy="83.77" r="1.78" fill="#3a3a3a"/><circle cx="1172.61" cy="65.11" r="1.96" fill="#2a2a2a"/><circle cx="1171.67" cy="67.32" r="1.99" fill="#2a2a2a"/><circle cx="1170.01" cy="69.05" r="1.8" fill="#2a2a2a"/><circle cx="1169.23" cy="71.32" r="1.35" fill="#3a3a3a"/><circle cx="1168.5" cy="73.6" r="1.6" fill="#444"/><circle cx="1169.16" cy="75.91" r="1.43" fill="#303030"/><circle cx="1167.31" cy="77.44" r="1.59" fill="#303030"/><circle cx="1168.95" cy="134.08" r="1.4" fill="#1c1c1c"/><circle cx="1167.63" cy="136.09" r="1.6" fill="#262626"/><circle cx="1165.26" cy="136.47" r="1.75" fill="#2a2a2a"/><circle cx="1163.9" cy="138.44" r="1.59" fill="#1c1c1c"/><circle cx="1163.32" cy="140.77" r="1.39" fill="#303030"/><circle cx="1137.1" cy="67.64" r="1.99" fill="#1c1c1c"/><circle cx="1138.87" cy="66.02" r="1.5" fill="#262626"/><circle cx="1139.07" cy="63.63" r="1.42" fill="#262626"/><circle cx="1137.14" cy="62.2" r="1.69" fill="#1c1c1c"/><circle cx="1134.77" cy="62.59" r="1.7" fill="#3a3a3a"/><circle cx="1132.54" cy="63.48" r="1.6" fill="#2a2a2a"/><circle cx="1130.29" cy="64.32" r="1.6" fill="#3a3a3a"/><circle cx="1128.66" cy="66.08" r="1.99" fill="#1c1c1c"/><circle cx="1128.62" cy="68.48" r="1.57" fill="#1c1c1c"/><circle cx="1186.44" cy="161.77" r="1.45" fill="#2a2a2a"/><circle cx="1184.26" cy="162.77" r="1.95" fill="#1c1c1c"/><circle cx="1182.21" cy="161.51" r="1.38" fill="#303030"/><circle cx="1179.81" cy="161.36" r="1.51" fill="#1c1c1c"/><circle cx="1177.76" cy="160.12" r="1.95" fill="#262626"/><circle cx="1176.17" cy="158.32" r="1.91" fill="#303030"/><circle cx="1170.36" cy="175.12" r="1.41" fill="#2a2a2a"/><circle cx="1170.56" cy="177.51" r="1.76" fill="#303030"/><circle cx="1172.26" cy="179.21" r="1.97" fill="#3a3a3a"/><circle cx="1174.66" cy="179.32" r="1.64" fill="#1c1c1c"/><circle cx="1176.73" cy="178.12" r="1.59" fill="#2a2a2a"/><circle cx="1179.05" cy="177.48" r="1.7" fill="#303030"/><circle cx="1180.35" cy="175.47" r="1.71" fill="#303030"/><circle cx="1182.53" cy="174.46" r="1.42" fill="#2a2a2a"/><circle cx="1182.39" cy="172.06" r="1.56" fill="#303030"/><circle cx="1202.24" cy="155.56" r="1.96" fill="#3a3a3a"/><circle cx="1200.54" cy="157.26" r="1.72" fill="#262626"/><circle cx="1199.76" cy="159.53" r="1.83" fill="#3a3a3a"/><circle cx="1198.77" cy="161.72" r="1.75" fill="#2a2a2a"/><circle cx="1196.38" cy="161.78" r="1.48" fill="#444"/><circle cx="1194.03" cy="161.28" r="1.8" fill="#3a3a3a"/><circle cx="1191.63" cy="161.27" r="1.47" fill="#2a2a2a"/><circle cx="1189.84" cy="162.86" r="1.79" fill="#303030"/><circle cx="1098.05" cy="69.1" r="1.79" fill="#444"/><circle cx="1095.8" cy="69.95" r="1.89" fill="#1c1c1c"/><circle cx="1095.45" cy="72.32" r="1.77" fill="#3a3a3a"/><circle cx="1096.61" cy="74.42" r="1.37" fill="#262626"/><circle cx="1095.8" cy="76.68" r="1.45" fill="#303030"/><circle cx="1097.05" cy="78.73" r="1.74" fill="#303030"/><circle cx="1096" cy="80.89" r="1.59" fill="#2a2a2a"/><circle cx="1125.73" cy="152.25" r="1.64" fill="#303030"/><circle cx="1123.4" cy="152.82" r="1.94" fill="#262626"/><circle cx="1121.05" cy="153.34" r="1.39" fill="#262626"/><circle cx="1119.01" cy="154.6" r="1.59" fill="#1c1c1c"/><circle cx="1117.06" cy="153.2" r="1.87" fill="#303030"/><circle cx="1164.63" cy="108.66" r="1.95" fill="#2a2a2a"/><circle cx="1166.92" cy="107.97" r="1.58" fill="#1c1c1c"/><circle cx="1167.37" cy="105.61" r="1.61" fill="#1c1c1c"/><circle cx="1169.68" cy="104.96" r="1.97" fill="#3a3a3a"/><circle cx="1170.73" cy="102.8" r="1.63" fill="#444"/><circle cx="1170.27" cy="100.45" r="1.45" fill="#2a2a2a"/><circle cx="1168.75" cy="98.59" r="1.59" fill="#262626"/><circle cx="1168.43" cy="96.21" r="1.35" fill="#262626"/><circle cx="1116.87" cy="111.85" r="1.57" fill="#262626"/><circle cx="1119.25" cy="112.18" r="1.4" fill="#444"/><circle cx="1120.61" cy="110.2" r="1.77" fill="#3a3a3a"/><circle cx="1121.46" cy="107.95" r="1.95" fill="#262626"/><circle cx="1123.65" cy="106.98" r="1.94" fill="#262626"/><circle cx="1127.44" cy="169.77" r="1.62" fill="#262626"/><circle cx="1128.39" cy="167.57" r="1.75" fill="#303030"/><circle cx="1126.94" cy="165.66" r="1.62" fill="#1c1c1c"/><circle cx="1127.2" cy="163.27" r="1.51" fill="#444"/><circle cx="1127.55" cy="160.9" r="1.71" fill="#303030"/><circle cx="1157.78" cy="96.05" r="1.57" fill="#3a3a3a"/><circle cx="1159.58" cy="94.45" r="1.96" fill="#262626"/><circle cx="1161.23" cy="92.71" r="1.43" fill="#1c1c1c"/><circle cx="1161.5" cy="90.33" r="1.51" fill="#3a3a3a"/><circle cx="1161.75" cy="87.94" r="1.77" fill="#303030"/><circle cx="1160.35" cy="85.99" r="1.4" fill="#262626"/><circle cx="1163.35" cy="132.43" r="1.61" fill="#2a2a2a"/><circle cx="1163.97" cy="130.11" r="1.94" fill="#303030"/><circle cx="1162.53" cy="128.19" r="1.51" fill="#3a3a3a"/><circle cx="1160.51" cy="126.89" r="1.9" fill="#2a2a2a"/><circle cx="1159.2" cy="124.88" r="1.9" fill="#3a3a3a"/><circle cx="1158.87" cy="122.5" r="1.38" fill="#3a3a3a"/><circle cx="1157.55" cy="120.5" r="1.42" fill="#262626"/><circle cx="1158.54" cy="118.32" r="1.55" fill="#3a3a3a"/><circle cx="1167.18" cy="122.7" r="1.92" fill="#303030"/><circle cx="1164.99" cy="121.74" r="1.96" fill="#303030"/><circle cx="1164.7" cy="119.35" r="1.87" fill="#303030"/><circle cx="1165.7" cy="117.17" r="1.37" fill="#2a2a2a"/><circle cx="1167.06" cy="115.19" r="1.86" fill="#3a3a3a"/><circle cx="1163.44" cy="96.28" r="1.52" fill="#262626"/><circle cx="1161.83" cy="98.06" r="1.95" fill="#2a2a2a"/><circle cx="1159.92" cy="99.52" r="1.43" fill="#2a2a2a"/><circle cx="1160.08" cy="101.91" r="1.71" fill="#1c1c1c"/><circle cx="1160.22" cy="104.31" r="1.47" fill="#444"/><circle cx="1162.08" cy="105.83" r="1.99" fill="#444"/><circle cx="1164.43" cy="106.31" r="1.54" fill="#1c1c1c"/><circle cx="1169.14" cy="115.18" r="1.69" fill="#3a3a3a"/><circle cx="1169.68" cy="112.84" r="1.83" fill="#2a2a2a"/><circle cx="1170.8" cy="110.72" r="1.88" fill="#3a3a3a"/><circle cx="1169.67" cy="108.6" r="1.44" fill="#1c1c1c"/><circle cx="1170.55" cy="106.37" r="1.98" fill="#303030"/><circle cx="1169.29" cy="104.32" r="1.44" fill="#262626"/><circle cx="1124.82" cy="152.78" r="1.35" fill="#444"/><circle cx="1125.55" cy="150.49" r="1.94" fill="#262626"/><circle cx="1123.95" cy="148.69" r="1.52" fill="#2a2a2a"/><circle cx="1122.79" cy="146.6" r="1.78" fill="#3a3a3a"/><circle cx="1120.88" cy="145.14" r="1.78" fill="#3a3a3a"/><circle cx="1118.85" cy="143.86" r="1.52" fill="#2a2a2a"/><circle cx="1116.72" cy="142.76" r="1.71" fill="#444"/><circle cx="1114.39" cy="143.34" r="1.7" fill="#444"/><circle cx="1166.82" cy="115.56" r="1.96" fill="#262626"/><circle cx="1164.42" cy="115.62" r="1.59" fill="#3a3a3a"/><circle cx="1162.54" cy="117.11" r="1.94" fill="#1c1c1c"/><circle cx="1160.76" cy="118.72" r="1.43" fill="#303030"/><circle cx="1161.11" cy="121.1" r="1.54" fill="#2a2a2a"/><circle cx="1161.24" cy="123.49" r="1.58" fill="#3a3a3a"/><circle cx="1163.47" cy="124.38" r="1.86" fill="#3a3a3a"/><circle cx="1165.68" cy="125.31" r="1.97" fill="#303030"/><circle cx="1175.42" cy="75.95" r="1.71" fill="#3a3a3a"/><circle cx="1173.75" cy="74.23" r="1.5" fill="#303030"/><circle cx="1171.48" cy="75.01" r="1.56" fill="#303030"/><circle cx="1170.73" cy="77.29" r="1.86" fill="#1c1c1c"/><circle cx="1169.52" cy="79.36" r="1.9" fill="#3a3a3a"/><circle cx="1113.3" cy="98.97" r="1.82" fill="#1c1c1c"/><circle cx="1111.91" cy="97.02" r="1.6" fill="#3a3a3a"/><circle cx="1111.97" cy="94.62" r="1.83" fill="#303030"/><circle cx="1109.87" cy="93.46" r="1.67" fill="#1c1c1c"/><circle cx="1107.69" cy="92.45" r="1.87" fill="#303030"/><circle cx="1107.46" cy="90.06" r="1.39" fill="#303030"/><circle cx="1207.06" cy="172.37" r="1.95" fill="#262626"/><circle cx="1208.43" cy="170.4" r="1.55" fill="#3a3a3a"/><circle cx="1207.47" cy="168.2" r="1.73" fill="#303030"/><circle cx="1205.31" cy="167.16" r="1.93" fill="#444"/><circle cx="1203.43" cy="168.65" r="1.54" fill="#303030"/><circle cx="1201.03" cy="168.5" r="1.61" fill="#1c1c1c"/><circle cx="1190.17" cy="65.77" r="1.63" fill="#3a3a3a"/><circle cx="1187.97" cy="64.83" r="1.38" fill="#3a3a3a"/><circle cx="1185.59" cy="65.18" r="1.54" fill="#444"/><circle cx="1183.2" cy="65.31" r="1.59" fill="#3a3a3a"/><circle cx="1180.95" cy="64.45" r="1.57" fill="#3a3a3a"/><circle cx="1179.81" cy="62.34" r="1.41" fill="#444"/><circle cx="1177.41" cy="62.34" r="1.54" fill="#303030"/><circle cx="1119.75" cy="155.88" r="1.58" fill="#3a3a3a"/><circle cx="1119.72" cy="153.48" r="1.46" fill="#3a3a3a"/><circle cx="1117.74" cy="152.12" r="1.86" fill="#444"/><circle cx="1116.38" cy="150.15" r="1.41" fill="#3a3a3a"/><circle cx="1116.38" cy="147.75" r="1.68" fill="#2a2a2a"/><circle cx="1178.83" cy="139.89" r="1.89" fill="#444"/><circle cx="1177.49" cy="137.91" r="1.91" fill="#1c1c1c"/><circle cx="1177.97" cy="135.56" r="1.89" fill="#444"/><circle cx="1179" cy="133.38" r="1.94" fill="#1c1c1c"/><circle cx="1180.5" cy="131.52" r="1.44" fill="#1c1c1c"/><circle cx="1182.86" cy="131.95" r="1.46" fill="#444"/><circle cx="1185.1" cy="131.09" r="1.93" fill="#3a3a3a"/><circle cx="1185.75" cy="128.78" r="1.76" fill="#3a3a3a"/><circle cx="1183.85" cy="127.31" r="1.5" fill="#2a2a2a"/><circle cx="1140.53" cy="113.78" r="1.4" fill="#3a3a3a"/><circle cx="1138.44" cy="112.62" r="1.57" fill="#1c1c1c"/><circle cx="1136.6" cy="111.07" r="1.6" fill="#3a3a3a"/><circle cx="1134.25" cy="111.56" r="1.64" fill="#303030"/><circle cx="1131.86" cy="111.74" r="1.68" fill="#262626"/><circle cx="1129.72" cy="112.84" r="1.62" fill="#3a3a3a"/><circle cx="1127.53" cy="113.82" r="1.44" fill="#303030"/><circle cx="1125.6" cy="112.38" r="1.96" fill="#444"/><circle cx="1123.2" cy="112.41" r="1.51" fill="#3a3a3a"/><circle cx="1149.35" cy="143.53" r="1.43" fill="#262626"/><circle cx="1146.96" cy="143.8" r="1.97" fill="#1c1c1c"/><circle cx="1144.65" cy="143.17" r="1.41" fill="#1c1c1c"/><circle cx="1143.26" cy="141.22" r="1.93" fill="#303030"/><circle cx="1142.1" cy="139.11" r="1.64" fill="#303030"/><circle cx="1177.71" cy="115.13" r="1.85" fill="#444"/><circle cx="1178.55" cy="112.88" r="1.81" fill="#2a2a2a"/><circle cx="1180.07" cy="111.03" r="1.45" fill="#262626"/><circle cx="1179.85" cy="108.64" r="1.83" fill="#1c1c1c"/><circle cx="1181.85" cy="107.32" r="1.95" fill="#3a3a3a"/><circle cx="1184.18" cy="107.92" r="1.88" fill="#444"/><circle cx="1186.03" cy="109.44" r="1.92" fill="#2a2a2a"/><circle cx="1186.21" cy="111.83" r="1.38" fill="#1c1c1c"/><circle cx="1186.32" cy="114.23" r="1.84" fill="#1c1c1c"/><circle cx="1171.48" cy="142.32" r="1.84" fill="#3a3a3a"/><circle cx="1171.1" cy="139.95" r="1.87" fill="#3a3a3a"/><circle cx="1172.99" cy="138.47" r="1.45" fill="#3a3a3a"/><circle cx="1175.32" cy="137.92" r="1.71" fill="#1c1c1c"/><circle cx="1176.51" cy="135.83" r="1.99" fill="#262626"/><circle cx="1172.08" cy="143.86" r="1.58" fill="#303030"/><circle cx="1170.56" cy="145.71" r="1.58" fill="#1c1c1c"/><circle cx="1168.16" cy="145.81" r="1.71" fill="#1c1c1c"/><circle cx="1165.91" cy="144.97" r="1.74" fill="#1c1c1c"/><circle cx="1165.66" cy="142.58" r="1.88" fill="#3a3a3a"/><circle cx="1165.17" cy="140.23" r="1.36" fill="#444"/><circle cx="1111.56" cy="159.95" r="1.76" fill="#3a3a3a"/><circle cx="1113.52" cy="161.34" r="1.9" fill="#444"/><circle cx="1112.99" cy="163.68" r="1.65" fill="#2a2a2a"/><circle cx="1113.05" cy="166.08" r="1.36" fill="#303030"/><circle cx="1111.06" cy="167.42" r="1.39" fill="#444"/><circle cx="1109.47" cy="169.22" r="1.53" fill="#2a2a2a"/><circle cx="1107.07" cy="169.08" r="1.72" fill="#2a2a2a"/><circle cx="1106.04" cy="130.55" r="1.75" fill="#2a2a2a"/><circle cx="1105.1" cy="128.35" r="1.7" fill="#262626"/><circle cx="1103.34" cy="126.72" r="1.69" fill="#3a3a3a"/><circle cx="1103.64" cy="124.34" r="1.54" fill="#3a3a3a"/><circle cx="1105.63" cy="122.99" r="1.75" fill="#2a2a2a"/><circle cx="1107.72" cy="121.82" r="1.39" fill="#303030"/><circle cx="1109.9" cy="122.83" r="1.97" fill="#2a2a2a"/><circle cx="1107.13" cy="95.2" r="1.84" fill="#444"/><circle cx="1104.84" cy="95.92" r="1.45" fill="#444"/><circle cx="1104.07" cy="98.19" r="1.63" fill="#3a3a3a"/><circle cx="1105.32" cy="100.24" r="1.98" fill="#444"/><circle cx="1104.04" cy="102.27" r="1.39" fill="#3a3a3a"/><circle cx="1103.35" cy="104.57" r="1.4" fill="#2a2a2a"/><circle cx="1102.52" cy="77.98" r="1.99" fill="#2a2a2a"/><circle cx="1100.48" cy="76.71" r="1.51" fill="#303030"/><circle cx="1098.29" cy="77.71" r="1.73" fill="#1c1c1c"/><circle cx="1096.16" cy="78.8" r="1.68" fill="#2a2a2a"/><circle cx="1095.67" cy="81.15" r="1.82" fill="#444"/><circle cx="1094.72" cy="83.35" r="1.89" fill="#262626"/><circle cx="1096.17" cy="85.27" r="1.93" fill="#2a2a2a"/><circle cx="1097.63" cy="87.17" r="1.64" fill="#1c1c1c"/><circle cx="1099.32" cy="88.88" r="1.52" fill="#2a2a2a"/><circle cx="1202.97" cy="140.4" r="1.56" fill="#444"/><circle cx="1200.85" cy="139.27" r="1.69" fill="#303030"/><circle cx="1200.36" cy="136.92" r="1.8" fill="#303030"/><circle cx="1199.07" cy="134.9" r="1.85" fill="#303030"/><circle cx="1196.77" cy="134.2" r="1.95" fill="#1c1c1c"/><circle cx="1196.38" cy="131.83" r="1.84" fill="#444"/><circle cx="1195.92" cy="129.48" r="1.66" fill="#1c1c1c"/><circle cx="1196.63" cy="127.19" r="1.57" fill="#3a3a3a"/><circle cx="1126.82" cy="85.69" r="1.45" fill="#444"/><circle cx="1128.6" cy="87.3" r="1.59" fill="#303030"/><circle cx="1130.92" cy="87.93" r="1.47" fill="#3a3a3a"/><circle cx="1132.78" cy="86.42" r="1.37" fill="#444"/><circle cx="1134.99" cy="85.48" r="1.68" fill="#262626"/><circle cx="1178.99" cy="87.08" r="1.95" fill="#444"/><circle cx="1181.33" cy="86.55" r="1.88" fill="#262626"/><circle cx="1182.05" cy="84.26" r="1.54" fill="#1c1c1c"/><circle cx="1180.19" cy="82.75" r="1.95" fill="#1c1c1c"/><circle cx="1180.18" cy="80.35" r="1.38" fill="#3a3a3a"/><circle cx="1194.23" cy="84.73" r="1.64" fill="#2a2a2a"/><circle cx="1194.86" cy="87.05" r="1.88" fill="#262626"/><circle cx="1195.06" cy="89.44" r="1.89" fill="#303030"/><circle cx="1197.35" cy="90.14" r="1.71" fill="#444"/><circle cx="1199.63" cy="89.38" r="1.64" fill="#262626"/><circle cx="1202" cy="89.72" r="1.5" fill="#262626"/><circle cx="1152.63" cy="99.3" r="1.96" fill="#3a3a3a"/><circle cx="1151.53" cy="97.17" r="1.6" fill="#262626"/><circle cx="1149.24" cy="96.45" r="1.82" fill="#444"/><circle cx="1147.02" cy="97.37" r="1.35" fill="#262626"/><circle cx="1144.88" cy="98.45" r="1.58" fill="#444"/><circle cx="1141.37" cy="174.7" r="1.74" fill="#2a2a2a"/><circle cx="1139.15" cy="175.6" r="2" fill="#444"/><circle cx="1138.41" cy="177.89" r="1.55" fill="#262626"/><circle cx="1138.23" cy="180.28" r="1.69" fill="#2a2a2a"/><circle cx="1136.27" cy="181.67" r="1.79" fill="#2a2a2a"/><circle cx="1188.51" cy="83.57" r="1.66" fill="#262626"/><circle cx="1190.89" cy="83.21" r="1.63" fill="#303030"/><circle cx="1193.03" cy="84.28" r="1.92" fill="#303030"/><circle cx="1195.43" cy="84.26" r="1.71" fill="#2a2a2a"/><circle cx="1196.88" cy="86.18" r="1.72" fill="#444"/><circle cx="1199.27" cy="86.35" r="1.72" fill="#1c1c1c"/><circle cx="1201.6" cy="85.76" r="2" fill="#3a3a3a"/><circle cx="1203.9" cy="85.06" r="1.49" fill="#1c1c1c"/><circle cx="1146.34" cy="111.25" r="1.75" fill="#262626"/><circle cx="1147.85" cy="109.38" r="1.82" fill="#262626"/><circle cx="1147.29" cy="107.05" r="1.4" fill="#3a3a3a"/><circle cx="1145.07" cy="106.12" r="1.42" fill="#1c1c1c"/><circle cx="1143.18" cy="104.65" r="1.91" fill="#444"/><circle cx="1142.07" cy="102.52" r="1.88" fill="#444"/><circle cx="1141.42" cy="100.21" r="1.77" fill="#2a2a2a"/><circle cx="1141.03" cy="97.84" r="1.36" fill="#303030"/><circle cx="1140.25" cy="95.57" r="1.9" fill="#262626"/><circle cx="1140.5" cy="171.48" r="1.62" fill="#1c1c1c"/><circle cx="1139.45" cy="173.64" r="1.92" fill="#262626"/><circle cx="1137.72" cy="175.3" r="1.58" fill="#303030"/><circle cx="1137.25" cy="177.65" r="1.75" fill="#2a2a2a"/><circle cx="1136.61" cy="179.97" r="1.82" fill="#444"/><circle cx="1173.08" cy="166.7" r="1.37" fill="#2a2a2a"/><circle cx="1173.49" cy="164.33" r="1.83" fill="#1c1c1c"/><circle cx="1174.36" cy="162.1" r="1.51" fill="#1c1c1c"/><circle cx="1173.02" cy="160.1" r="1.85" fill="#262626"/><circle cx="1173.87" cy="157.85" r="1.65" fill="#262626"/><circle cx="1173.94" cy="155.46" r="1.96" fill="#2a2a2a"/><circle cx="1175.72" cy="153.84" r="1.99" fill="#444"/><circle cx="1177.78" cy="152.61" r="1.51" fill="#262626"/><circle cx="1180.04" cy="151.79" r="1.56" fill="#3a3a3a"/><circle cx="1120.38" cy="71.43" r="1.69" fill="#444"/><circle cx="1122.54" cy="70.38" r="1.37" fill="#262626"/><circle cx="1124.82" cy="69.64" r="1.71" fill="#262626"/><circle cx="1126.47" cy="67.89" r="1.72" fill="#303030"/><circle cx="1128.85" cy="68.17" r="1.97" fill="#303030"/><circle cx="1130.08" cy="66.11" r="1.61" fill="#3a3a3a"/><circle cx="1131.16" cy="63.96" r="1.97" fill="#444"/><circle cx="1118.58" cy="91.28" r="1.47" fill="#2a2a2a"/><circle cx="1120.77" cy="92.27" r="1.77" fill="#444"/><circle cx="1121.77" cy="94.45" r="1.86" fill="#3a3a3a"/><circle cx="1122.17" cy="96.82" r="1.54" fill="#3a3a3a"/><circle cx="1122.41" cy="99.2" r="1.69" fill="#303030"/><circle cx="1157.41" cy="151.49" r="1.67" fill="#2a2a2a"/><circle cx="1155.55" cy="153" r="1.58" fill="#262626"/><circle cx="1153.41" cy="151.9" r="1.67" fill="#303030"/><circle cx="1151.68" cy="150.24" r="1.6" fill="#1c1c1c"/><circle cx="1149.31" cy="150.6" r="1.56" fill="#2a2a2a"/><circle cx="1147.47" cy="149.06" r="1.5" fill="#3a3a3a"/><circle cx="1148.2" cy="146.77" r="1.67" fill="#2a2a2a"/><circle cx="1149.78" cy="144.97" r="1.59" fill="#444"/><circle cx="1195.08" cy="124.44" r="1.83" fill="#3a3a3a"/><circle cx="1192.69" cy="124.67" r="1.58" fill="#262626"/><circle cx="1191.9" cy="126.94" r="1.45" fill="#2a2a2a"/><circle cx="1192.89" cy="129.12" r="1.72" fill="#262626"/><circle cx="1191.22" cy="130.85" r="1.41" fill="#3a3a3a"/><circle cx="1192.2" cy="133.04" r="1.99" fill="#3a3a3a"/><circle cx="1194.57" cy="133.38" r="1.86" fill="#262626"/><circle cx="1195.89" cy="135.38" r="1.59" fill="#303030"/><circle cx="1104.8" cy="123.31" r="1.74" fill="#303030"/><circle cx="1102.61" cy="124.28" r="1.99" fill="#2a2a2a"/><circle cx="1101.24" cy="126.26" r="1.71" fill="#444"/><circle cx="1102.36" cy="128.38" r="1.77" fill="#3a3a3a"/><circle cx="1104.17" cy="129.96" r="1.67" fill="#3a3a3a"/><circle cx="1106.56" cy="130.13" r="1.63" fill="#3a3a3a"/><circle cx="1108.86" cy="129.44" r="1.93" fill="#3a3a3a"/><circle cx="1111.26" cy="129.44" r="1.66" fill="#262626"/><circle cx="1113.2" cy="128.02" r="1.98" fill="#444"/><circle cx="1134.65" cy="110.43" r="1.74" fill="#444"/><circle cx="1132.65" cy="111.76" r="1.92" fill="#3a3a3a"/><circle cx="1131.05" cy="113.55" r="1.62" fill="#262626"/><circle cx="1129.36" cy="115.25" r="1.71" fill="#444"/><circle cx="1129.01" cy="117.62" r="1.45" fill="#262626"/><circle cx="1130.78" cy="119.24" r="1.99" fill="#1c1c1c"/><circle cx="1132.45" cy="120.97" r="1.92" fill="#303030"/><circle cx="1186.46" cy="170.98" r="1.56" fill="#2a2a2a"/><circle cx="1185.85" cy="173.3" r="1.55" fill="#3a3a3a"/><circle cx="1183.8" cy="174.54" r="1.75" fill="#2a2a2a"/><circle cx="1181.51" cy="173.82" r="1.73" fill="#1c1c1c"/><circle cx="1179.71" cy="172.23" r="1.51" fill="#303030"/><circle cx="1177.49" cy="171.32" r="1.82" fill="#3a3a3a"/><circle cx="1149.43" cy="81.63" r="1.5" fill="#1c1c1c"/><circle cx="1148.01" cy="79.69" r="1.51" fill="#262626"/><circle cx="1145.94" cy="78.48" r="1.61" fill="#1c1c1c"/><circle cx="1143.56" cy="78.77" r="1.8" fill="#444"/><circle cx="1141.71" cy="80.3" r="1.92" fill="#1c1c1c"/><circle cx="1140.6" cy="82.43" r="2" fill="#3a3a3a"/><circle cx="1141.19" cy="84.76" r="1.76" fill="#303030"/><circle cx="1169.09" cy="69.67" r="1.37" fill="#303030"/><circle cx="1169.88" cy="71.94" r="1.73" fill="#303030"/><circle cx="1172.1" cy="72.85" r="1.79" fill="#444"/><circle cx="1173.96" cy="74.37" r="1.64" fill="#444"/><circle cx="1176.36" cy="74.27" r="1.84" fill="#3a3a3a"/><circle cx="1178.28" cy="75.71" r="1.51" fill="#1c1c1c"/><circle cx="1178.43" cy="78.11" r="1.4" fill="#262626"/><circle cx="1180.19" cy="79.74" r="1.71" fill="#303030"/><circle cx="1182.37" cy="78.74" r="1.59" fill="#2a2a2a"/><circle cx="1145.76" cy="151.54" r="1.61" fill="#303030"/><circle cx="1143.4" cy="151.97" r="1.56" fill="#444"/><circle cx="1141.45" cy="150.56" r="1.9" fill="#262626"/><circle cx="1140.77" cy="148.26" r="1.35" fill="#3a3a3a"/><circle cx="1139.11" cy="146.53" r="1.89" fill="#3a3a3a"/><circle cx="1121.68" cy="106.62" r="1.81" fill="#444"/><circle cx="1119.5" cy="105.61" r="1.86" fill="#444"/><circle cx="1118.1" cy="103.66" r="1.67" fill="#444"/><circle cx="1115.85" cy="102.83" r="1.54" fill="#444"/><circle cx="1113.56" cy="102.11" r="1.83" fill="#262626"/><circle cx="1111.43" cy="101" r="1.94" fill="#3a3a3a"/><circle cx="1109.08" cy="101.44" r="1.43" fill="#1c1c1c"/><circle cx="1107.9" cy="103.54" r="1.71" fill="#303030"/><circle cx="1096.51" cy="151.29" r="1.85" fill="#262626"/><circle cx="1096.95" cy="153.65" r="1.36" fill="#444"/><circle cx="1096.81" cy="156.05" r="1.69" fill="#262626"/><circle cx="1098.17" cy="158.02" r="1.85" fill="#303030"/><circle cx="1099.41" cy="160.08" r="1.74" fill="#3a3a3a"/><circle cx="1101.03" cy="161.85" r="1.76" fill="#444"/><circle cx="1101.95" cy="164.07" r="1.62" fill="#444"/><circle cx="1103.52" cy="165.88" r="1.48" fill="#1c1c1c"/><circle cx="1103.34" cy="168.27" r="1.85" fill="#2a2a2a"/><circle cx="1154.87" cy="129.04" r="1.45" fill="#3a3a3a"/><circle cx="1153.73" cy="131.15" r="1.63" fill="#262626"/><circle cx="1154.43" cy="133.45" r="1.94" fill="#1c1c1c"/><circle cx="1153.01" cy="135.38" r="1.56" fill="#303030"/><circle cx="1151.56" cy="137.3" r="1.39" fill="#444"/><circle cx="1149.59" cy="138.67" r="1.84" fill="#444"/><circle cx="1147.21" cy="138.34" r="1.82" fill="#3a3a3a"/><circle cx="1144.81" cy="138.31" r="1.64" fill="#2a2a2a"/><circle cx="1142.71" cy="139.47" r="1.49" fill="#303030"/><circle cx="1158.38" cy="120.93" r="1.77" fill="#444"/><circle cx="1159.37" cy="123.12" r="1.44" fill="#1c1c1c"/><circle cx="1158.71" cy="125.43" r="1.53" fill="#1c1c1c"/><circle cx="1157.26" cy="127.34" r="1.45" fill="#303030"/><circle cx="1156.59" cy="129.65" r="1.77" fill="#444"/><circle cx="1154.5" cy="130.82" r="1.89" fill="#262626"/><circle cx="1152.34" cy="129.77" r="1.94" fill="#3a3a3a"/><circle cx="1131.31" cy="147.94" r="1.52" fill="#1c1c1c"/><circle cx="1133.1" cy="149.53" r="1.74" fill="#2a2a2a"/><circle cx="1133.89" cy="151.8" r="1.62" fill="#3a3a3a"/><circle cx="1133.42" cy="154.15" r="1.72" fill="#262626"/><circle cx="1132.82" cy="156.47" r="1.84" fill="#1c1c1c"/><circle cx="1131.69" cy="158.59" r="1.97" fill="#2a2a2a"/><circle cx="1130.59" cy="160.72" r="2" fill="#303030"/><circle cx="1129.66" cy="162.94" r="1.48" fill="#444"/><circle cx="1194.41" cy="124.81" r="1.38" fill="#444"/><circle cx="1192.01" cy="124.79" r="1.45" fill="#303030"/><circle cx="1190.23" cy="126.4" r="1.6" fill="#2a2a2a"/><circle cx="1188.35" cy="127.9" r="1.83" fill="#3a3a3a"/><circle cx="1185.96" cy="127.66" r="1.44" fill="#303030"/><circle cx="1183.83" cy="126.56" r="1.54" fill="#303030"/><circle cx="1182.66" cy="124.47" r="1.81" fill="#262626"/><circle cx="1183.97" cy="122.45" r="1.79" fill="#262626"/><circle cx="1104.25" cy="94.06" r="1.59" fill="#262626"/><circle cx="1106.05" cy="95.65" r="1.78" fill="#303030"/><circle cx="1106.38" cy="98.03" r="1.58" fill="#2a2a2a"/><circle cx="1108.28" cy="99.5" r="1.95" fill="#262626"/><circle cx="1108.28" cy="101.9" r="1.81" fill="#303030"/><circle cx="1106.27" cy="103.21" r="1.95" fill="#3a3a3a"/><circle cx="1105.81" cy="105.57" r="1.65" fill="#1c1c1c"/><circle cx="1130.69" cy="133.53" r="1.87" fill="#1c1c1c"/><circle cx="1130.67" cy="131.13" r="1.9" fill="#2a2a2a"/><circle cx="1128.63" cy="129.86" r="1.96" fill="#303030"/><circle cx="1126.23" cy="130.06" r="1.75" fill="#3a3a3a"/><circle cx="1123.85" cy="129.81" r="1.83" fill="#262626"/><circle cx="1128.52" cy="174.78" r="1.83" fill="#2a2a2a"/><circle cx="1126.49" cy="176.05" r="1.4" fill="#303030"/><circle cx="1124.15" cy="176.62" r="1.86" fill="#2a2a2a"/><circle cx="1121.84" cy="175.97" r="1.9" fill="#444"/><circle cx="1120.18" cy="177.71" r="1.47" fill="#303030"/><circle cx="1119.88" cy="180.09" r="1.62" fill="#2a2a2a"/><circle cx="1121.61" cy="181.76" r="1.37" fill="#444"/><circle cx="1122.06" cy="184.11" r="1.95" fill="#2a2a2a"/><circle cx="1107.95" cy="117.34" r="1.8" fill="#303030"/><circle cx="1107.75" cy="114.95" r="1.37" fill="#1c1c1c"/><circle cx="1106.93" cy="112.69" r="1.89" fill="#1c1c1c"/><circle cx="1106.99" cy="110.29" r="1.69" fill="#262626"/><circle cx="1108.21" cy="108.22" r="1.65" fill="#303030"/><circle cx="1110.58" cy="108.61" r="1.7" fill="#2a2a2a"/><circle cx="1112.79" cy="107.68" r="1.45" fill="#1c1c1c"/><circle cx="1113.69" cy="105.45" r="1.77" fill="#3a3a3a"/><circle cx="1116.09" cy="105.48" r="1.7" fill="#1c1c1c"/><circle cx="1104.65" cy="150.84" r="1.69" fill="#303030"/><circle cx="1105.03" cy="153.21" r="1.65" fill="#303030"/><circle cx="1107.28" cy="154.05" r="1.37" fill="#303030"/><circle cx="1109.43" cy="155.12" r="1.96" fill="#444"/><circle cx="1110.32" cy="157.35" r="1.92" fill="#444"/><circle cx="1111.54" cy="159.41" r="1.75" fill="#3a3a3a"/><circle cx="1113.94" cy="159.58" r="1.94" fill="#3a3a3a"/><circle cx="1116.17" cy="117.22" r="1.81" fill="#2a2a2a"/><circle cx="1114.31" cy="115.71" r="1.46" fill="#3a3a3a"/><circle cx="1114.87" cy="113.37" r="1.85" fill="#303030"/><circle cx="1116.59" cy="111.7" r="1.85" fill="#2a2a2a"/><circle cx="1117.8" cy="109.63" r="1.61" fill="#3a3a3a"/><circle cx="1147.72" cy="90.39" r="1.68" fill="#2a2a2a"/><circle cx="1147.21" cy="88.05" r="1.92" fill="#1c1c1c"/><circle cx="1148.96" cy="86.4" r="1.75" fill="#3a3a3a"/><circle cx="1149.68" cy="84.12" r="1.38" fill="#262626"/><circle cx="1149.36" cy="81.74" r="1.94" fill="#3a3a3a"/><circle cx="1113.02" cy="119.52" r="1.67" fill="#262626"/><circle cx="1114.99" cy="120.88" r="1.94" fill="#1c1c1c"/><circle cx="1116.29" cy="122.9" r="1.51" fill="#2a2a2a"/><circle cx="1117.93" cy="124.66" r="1.65" fill="#1c1c1c"/><circle cx="1118.85" cy="126.87" r="1.65" fill="#2a2a2a"/><circle cx="1118.65" cy="129.26" r="1.87" fill="#1c1c1c"/><circle cx="1119.67" cy="131.44" r="1.41" fill="#2a2a2a"/><circle cx="1105.16" cy="148.55" r="1.47" fill="#1c1c1c"/><circle cx="1107.55" cy="148.31" r="1.82" fill="#444"/><circle cx="1108.78" cy="146.25" r="1.38" fill="#3a3a3a"/><circle cx="1107.91" cy="144.01" r="1.8" fill="#2a2a2a"/><circle cx="1105.88" cy="142.74" r="1.4" fill="#3a3a3a"/><circle cx="1104.66" cy="140.68" r="1.48" fill="#3a3a3a"/><circle cx="1102.28" cy="141.01" r="1.46" fill="#303030"/><circle cx="1101" cy="138.97" r="1.9" fill="#2a2a2a"/><circle cx="1098.65" cy="138.5" r="1.83" fill="#3a3a3a"/><circle cx="1200.94" cy="126.62" r="1.89" fill="#3a3a3a"/><circle cx="1200.81" cy="124.23" r="1.98" fill="#3a3a3a"/><circle cx="1200.18" cy="121.91" r="1.47" fill="#303030"/><circle cx="1200.04" cy="119.52" r="1.96" fill="#303030"/><circle cx="1199.55" cy="117.17" r="1.67" fill="#303030"/><circle cx="1200.59" cy="115" r="1.54" fill="#3a3a3a"/><circle cx="1202.2" cy="113.22" r="1.97" fill="#444"/><circle cx="1204.54" cy="113.76" r="1.69" fill="#262626"/><circle cx="1206.56" cy="112.47" r="1.78" fill="#3a3a3a"/><circle cx="1195.15" cy="134.57" r="1.37" fill="#444"/><circle cx="1192.77" cy="134.88" r="1.7" fill="#1c1c1c"/><circle cx="1190.4" cy="135.24" r="1.64" fill="#1c1c1c"/><circle cx="1188.45" cy="136.64" r="1.5" fill="#262626"/><circle cx="1186.29" cy="137.7" r="1.52" fill="#3a3a3a"/><circle cx="1183.96" cy="138.29" r="1.79" fill="#303030"/><circle cx="1143.6" cy="103.08" r="1.83" fill="#2a2a2a"/><circle cx="1145.89" cy="102.35" r="1.94" fill="#303030"/><circle cx="1148.11" cy="103.28" r="1.58" fill="#303030"/><circle cx="1150.5" cy="103.38" r="1.44" fill="#262626"/><circle cx="1151.71" cy="105.46" r="1.79" fill="#3a3a3a"/><circle cx="1151.46" cy="107.84" r="1.7" fill="#444"/><circle cx="1151.27" cy="110.23" r="1.59" fill="#1c1c1c"/><circle cx="1152.49" cy="112.3" r="1.6" fill="#303030"/><circle cx="1154.54" cy="113.55" r="1.36" fill="#303030"/><circle cx="1093.96" cy="169.83" r="1.76" fill="#2a2a2a"/><circle cx="1091.58" cy="169.53" r="1.86" fill="#2a2a2a"/><circle cx="1090.54" cy="167.37" r="1.69" fill="#1c1c1c"/><circle cx="1088.59" cy="165.97" r="1.43" fill="#1c1c1c"/><circle cx="1087.95" cy="163.65" r="1.76" fill="#444"/><circle cx="1163.25" cy="129.06" r="1.38" fill="#1c1c1c"/><circle cx="1163.18" cy="131.46" r="1.42" fill="#3a3a3a"/><circle cx="1164.63" cy="133.38" r="1.74" fill="#444"/><circle cx="1166.96" cy="133.96" r="1.45" fill="#262626"/><circle cx="1169.18" cy="134.86" r="1.96" fill="#1c1c1c"/><circle cx="1171.12" cy="136.27" r="1.88" fill="#1c1c1c"/><circle cx="1173.36" cy="135.4" r="1.76" fill="#1c1c1c"/><circle cx="1175.25" cy="136.89" r="1.75" fill="#262626"/><circle cx="1177.46" cy="137.81" r="1.44" fill="#2a2a2a"/><circle cx="1156.1" cy="83.18" r="1.66" fill="#444"/><circle cx="1155.47" cy="85.5" r="1.46" fill="#303030"/><circle cx="1153.12" cy="85.97" r="1.37" fill="#2a2a2a"/><circle cx="1151.43" cy="84.27" r="1.49" fill="#3a3a3a"/><circle cx="1152.13" cy="81.98" r="1.76" fill="#262626"/><circle cx="1113.6" cy="78.92" r="1.72" fill="#1c1c1c"/><circle cx="1112.58" cy="76.75" r="1.51" fill="#1c1c1c"/><circle cx="1111.78" cy="74.49" r="1.44" fill="#303030"/><circle cx="1112.7" cy="72.28" r="1.91" fill="#262626"/><circle cx="1114.83" cy="71.17" r="1.79" fill="#444"/><circle cx="1117.18" cy="70.69" r="1.76" fill="#444"/><circle cx="1139.38" cy="116.7" r="1.41" fill="#262626"/><circle cx="1137.06" cy="117.3" r="1.45" fill="#444"/><circle cx="1134.66" cy="117.19" r="1.35" fill="#3a3a3a"/><circle cx="1132.28" cy="117.5" r="1.47" fill="#1c1c1c"/><circle cx="1130.42" cy="115.99" r="1.66" fill="#1c1c1c"/><circle cx="1128.38" cy="114.72" r="1.66" fill="#262626"/><circle cx="1127.32" cy="112.56" r="1.65" fill="#262626"/><circle cx="1126.27" cy="110.41" r="1.87" fill="#303030"/><circle cx="1132.18" cy="70.94" r="1.88" fill="#3a3a3a"/><circle cx="1134.57" cy="70.66" r="1.82" fill="#303030"/><circle cx="1136.93" cy="70.25" r="1.87" fill="#1c1c1c"/><circle cx="1139.32" cy="70.4" r="1.94" fill="#2a2a2a"/><circle cx="1141.65" cy="69.83" r="1.66" fill="#1c1c1c"/><circle cx="1144" cy="70.34" r="1.95" fill="#444"/><circle cx="1203.03" cy="113.14" r="1.47" fill="#444"/><circle cx="1200.78" cy="112.3" r="1.49" fill="#303030"/><circle cx="1198.93" cy="110.78" r="1.35" fill="#262626"/><circle cx="1196.53" cy="110.99" r="1.87" fill="#3a3a3a"/><circle cx="1194.27" cy="110.19" r="1.66" fill="#1c1c1c"/><circle cx="1193.81" cy="107.83" r="1.6" fill="#303030"/><circle cx="1165.55" cy="132.45" r="1.52" fill="#2a2a2a"/><circle cx="1164.11" cy="130.53" r="1.63" fill="#2a2a2a"/><circle cx="1162.54" cy="128.71" r="1.97" fill="#1c1c1c"/><circle cx="1163.61" cy="126.56" r="1.37" fill="#3a3a3a"/><circle cx="1165.86" cy="125.75" r="1.95" fill="#262626"/><circle cx="1168.25" cy="125.46" r="1.93" fill="#262626"/><circle cx="1170.44" cy="126.42" r="1.73" fill="#2a2a2a"/><circle cx="1170.78" cy="128.8" r="1.41" fill="#1c1c1c"/><circle cx="1172.22" cy="130.72" r="1.75" fill="#3a3a3a"/><circle cx="1124.9" cy="69.41" r="1.75" fill="#303030"/><circle cx="1126.6" cy="71.1" r="1.41" fill="#2a2a2a"/><circle cx="1128.45" cy="72.63" r="1.49" fill="#444"/><circle cx="1130.63" cy="71.63" r="1.53" fill="#1c1c1c"/><circle cx="1132.89" cy="70.82" r="1.88" fill="#1c1c1c"/><circle cx="1135.21" cy="71.42" r="1.7" fill="#444"/><circle cx="1136.86" cy="73.17" r="1.57" fill="#3a3a3a"/><circle cx="1136.31" cy="75.5" r="1.68" fill="#444"/><circle cx="1137.98" cy="77.22" r="1.77" fill="#262626"/><circle cx="1211.38" cy="61.47" r="1.38" fill="#262626"/><circle cx="1212.97" cy="63.27" r="1.56" fill="#2a2a2a"/><circle cx="1215.35" cy="62.94" r="1.41" fill="#303030"/><circle cx="1216.85" cy="61.06" r="1.95" fill="#444"/><circle cx="1216.56" cy="58.68" r="1.4" fill="#2a2a2a"/><circle cx="1214.36" cy="57.72" r="1.88" fill="#444"/><circle cx="1214" cy="55.35" r="1.43" fill="#444"/><circle cx="1214.77" cy="53.07" r="1.47" fill="#444"/><circle cx="1216.98" cy="52.15" r="1.9" fill="#262626"/><circle cx="1107.61" cy="110.82" r="1.36" fill="#303030"/><circle cx="1105.82" cy="109.22" r="1.62" fill="#444"/><circle cx="1103.46" cy="109.62" r="1.52" fill="#444"/><circle cx="1101.12" cy="110.17" r="1.42" fill="#2a2a2a"/><circle cx="1098.82" cy="109.49" r="1.43" fill="#444"/><circle cx="1096.42" cy="109.35" r="1.4" fill="#444"/><circle cx="1125.1" cy="112.38" r="1.57" fill="#303030"/><circle cx="1123.75" cy="110.4" r="1.51" fill="#303030"/><circle cx="1121.37" cy="110.7" r="1.37" fill="#303030"/><circle cx="1119.09" cy="111.45" r="1.89" fill="#3a3a3a"/><circle cx="1116.69" cy="111.54" r="1.49" fill="#262626"/><circle cx="1114.32" cy="111.16" r="1.52" fill="#3a3a3a"/><circle cx="1111.92" cy="111.08" r="1.51" fill="#2a2a2a"/><circle cx="1109.53" cy="111.27" r="1.51" fill="#303030"/><circle cx="1092.29" cy="61.38" r="1.89" fill="#1c1c1c"/><circle cx="1090.51" cy="62.99" r="1.37" fill="#303030"/><circle cx="1090.34" cy="65.39" r="1.56" fill="#303030"/><circle cx="1091.01" cy="67.69" r="1.43" fill="#444"/><circle cx="1093.01" cy="69.03" r="1.56" fill="#262626"/><circle cx="1094.59" cy="70.83" r="1.57" fill="#303030"/><circle cx="1096.42" cy="72.38" r="1.49" fill="#262626"/><circle cx="1098.74" cy="71.75" r="1.43" fill="#303030"/><circle cx="1167.91" cy="84.93" r="1.53" fill="#262626"/><circle cx="1167.68" cy="82.55" r="1.88" fill="#262626"/><circle cx="1165.44" cy="81.68" r="1.36" fill="#1c1c1c"/><circle cx="1163.67" cy="83.29" r="1.49" fill="#2a2a2a"/><circle cx="1161.3" cy="83.68" r="1.78" fill="#1c1c1c"/><circle cx="1160.05" cy="81.62" r="1.79" fill="#303030"/><circle cx="1160.3" cy="79.24" r="1.7" fill="#3a3a3a"/><circle cx="1158.45" cy="77.71" r="1.94" fill="#2a2a2a"/><circle cx="1138.72" cy="161.85" r="1.83" fill="#3a3a3a"/><circle cx="1136.78" cy="163.26" r="1.82" fill="#3a3a3a"/><circle cx="1134.4" cy="162.93" r="1.66" fill="#1c1c1c"/><circle cx="1133.7" cy="160.64" r="1.85" fill="#303030"/><circle cx="1135.14" cy="158.72" r="1.61" fill="#444"/><circle cx="1137.08" cy="157.31" r="1.68" fill="#444"/><circle cx="1138.33" cy="155.26" r="1.87" fill="#3a3a3a"/><circle cx="1121.95" cy="149.26" r="2" fill="#303030"/><circle cx="1124.29" cy="149.79" r="1.92" fill="#262626"/><circle cx="1126.65" cy="150.23" r="1.78" fill="#303030"/><circle cx="1129.01" cy="150.65" r="1.64" fill="#444"/><circle cx="1131.25" cy="151.5" r="1.8" fill="#303030"/><circle cx="1132.29" cy="153.67" r="1.86" fill="#1c1c1c"/><circle cx="1130.71" cy="155.47" r="1.44" fill="#303030"/><circle cx="1130.6" cy="157.86" r="1.36" fill="#303030"/><circle cx="1129.02" cy="159.67" r="1.81" fill="#303030"/><circle cx="1206.72" cy="154.65" r="1.65" fill="#303030"/><circle cx="1204.33" cy="154.85" r="1.92" fill="#262626"/><circle cx="1202.93" cy="156.8" r="1.38" fill="#2a2a2a"/><circle cx="1201.54" cy="158.76" r="1.84" fill="#444"/><circle cx="1199.15" cy="158.68" r="1.9" fill="#303030"/><circle cx="1197.15" cy="157.35" r="1.83" fill="#1c1c1c"/><circle cx="1196.13" cy="155.18" r="1.39" fill="#1c1c1c"/><circle cx="1197.39" cy="153.13" r="1.44" fill="#1c1c1c"/><circle cx="1100.9" cy="123.04" r="1.63" fill="#262626"/><circle cx="1103.05" cy="121.98" r="1.4" fill="#303030"/><circle cx="1105.41" cy="121.52" r="1.67" fill="#444"/><circle cx="1107.08" cy="119.8" r="1.52" fill="#444"/><circle cx="1106.38" cy="117.5" r="1.5" fill="#303030"/><circle cx="1107.41" cy="115.33" r="1.41" fill="#2a2a2a"/><circle cx="1177.44" cy="99.25" r="1.69" fill="#262626"/><circle cx="1176.92" cy="101.59" r="1.71" fill="#444"/><circle cx="1175.17" cy="103.23" r="1.77" fill="#3a3a3a"/><circle cx="1173.27" cy="104.7" r="1.91" fill="#303030"/><circle cx="1170.89" cy="104.39" r="1.71" fill="#262626"/><circle cx="1170.23" cy="102.08" r="1.42" fill="#444"/><circle cx="1170.66" cy="99.72" r="1.65" fill="#303030"/><circle cx="1171.59" cy="97.51" r="1.92" fill="#2a2a2a"/><circle cx="1171.21" cy="95.14" r="1.6" fill="#3a3a3a"/><circle cx="1168.54" cy="134.49" r="1.39" fill="#444"/><circle cx="1170.06" cy="136.35" r="1.78" fill="#2a2a2a"/><circle cx="1172.35" cy="137.07" r="1.78" fill="#1c1c1c"/><circle cx="1174.56" cy="136.13" r="1.41" fill="#303030"/><circle cx="1175.38" cy="133.88" r="1.86" fill="#2a2a2a"/><circle cx="1177.48" cy="132.72" r="1.47" fill="#303030"/><circle cx="1178.01" cy="130.38" r="1.92" fill="#262626"/><circle cx="1163.52" cy="137.63" r="1.59" fill="#303030"/><circle cx="1161.75" cy="139.25" r="1.81" fill="#2a2a2a"/><circle cx="1161.91" cy="141.64" r="1.7" fill="#303030"/><circle cx="1162.7" cy="143.91" r="1.53" fill="#303030"/><circle cx="1161.22" cy="145.8" r="1.9" fill="#303030"/><circle cx="1161.99" cy="148.07" r="1.43" fill="#444"/><circle cx="1162.77" cy="150.34" r="1.99" fill="#444"/><circle cx="1162.59" cy="152.74" r="1.83" fill="#262626"/><circle cx="1161.02" cy="154.55" r="1.38" fill="#444"/><circle cx="1191.39" cy="113.13" r="1.49" fill="#1c1c1c"/><circle cx="1189.12" cy="112.34" r="1.35" fill="#262626"/><circle cx="1188.95" cy="109.95" r="1.94" fill="#262626"/><circle cx="1189.07" cy="107.55" r="1.35" fill="#262626"/><circle cx="1186.92" cy="106.49" r="1.45" fill="#2a2a2a"/><circle cx="1100.81" cy="125.86" r="1.86" fill="#2a2a2a"/><circle cx="1102.29" cy="123.98" r="1.84" fill="#3a3a3a"/><circle cx="1104.08" cy="122.38" r="1.37" fill="#3a3a3a"/><circle cx="1106.32" cy="121.51" r="1.83" fill="#303030"/><circle cx="1108.52" cy="120.56" r="1.96" fill="#262626"/><circle cx="1110.86" cy="121.09" r="1.97" fill="#1c1c1c"/><circle cx="1113.25" cy="121.3" r="1.4" fill="#1c1c1c"/><circle cx="1114.7" cy="123.21" r="1.36" fill="#303030"/><circle cx="1115.44" cy="125.49" r="1.48" fill="#2a2a2a"/><circle cx="1104.78" cy="92.27" r="1.99" fill="#444"/><circle cx="1105.59" cy="90.01" r="1.83" fill="#444"/><circle cx="1107.36" cy="88.39" r="1.39" fill="#303030"/><circle cx="1107.37" cy="85.99" r="1.37" fill="#2a2a2a"/><circle cx="1108.73" cy="84.01" r="1.51" fill="#262626"/><circle cx="1111.11" cy="83.7" r="1.84" fill="#262626"/><circle cx="1113.31" cy="84.65" r="2" fill="#303030"/><circle cx="1115.13" cy="86.21" r="1.45" fill="#262626"/><circle cx="1155.53" cy="109.68" r="1.95" fill="#1c1c1c"/><circle cx="1153.4" cy="108.58" r="1.94" fill="#1c1c1c"/><circle cx="1152.68" cy="106.29" r="1.39" fill="#303030"/><circle cx="1153.24" cy="103.96" r="1.97" fill="#303030"/><circle cx="1153.21" cy="101.56" r="1.77" fill="#1c1c1c"/><circle cx="1153.52" cy="99.18" r="1.66" fill="#303030"/><circle cx="1120.01" cy="148.28" r="1.41" fill="#444"/><circle cx="1119.82" cy="145.89" r="1.65" fill="#444"/><circle cx="1119.42" cy="143.52" r="1.56" fill="#444"/><circle cx="1118.87" cy="141.18" r="1.39" fill="#3a3a3a"/><circle cx="1116.9" cy="139.82" r="1.44" fill="#303030"/><circle cx="1196.09" cy="131.33" r="1.45" fill="#3a3a3a"/><circle cx="1193.78" cy="131.99" r="1.97" fill="#444"/><circle cx="1191.94" cy="130.45" r="1.9" fill="#2a2a2a"/><circle cx="1191.79" cy="128.06" r="1.91" fill="#262626"/><circle cx="1191.24" cy="125.72" r="1.79" fill="#262626"/><circle cx="1192.29" cy="123.57" r="1.37" fill="#444"/><circle cx="1194.69" cy="123.55" r="1.67" fill="#3a3a3a"/><circle cx="1198.59" cy="85.92" r="1.59" fill="#1c1c1c"/><circle cx="1198.05" cy="88.25" r="1.37" fill="#3a3a3a"/><circle cx="1198.08" cy="90.65" r="1.57" fill="#1c1c1c"/><circle cx="1199.82" cy="92.3" r="1.47" fill="#2a2a2a"/><circle cx="1200.93" cy="94.43" r="1.93" fill="#3a3a3a"/><circle cx="1199.69" cy="96.48" r="1.68" fill="#303030"/><circle cx="1198.02" cy="98.21" r="1.38" fill="#3a3a3a"/><circle cx="1196.2" cy="99.78" r="1.89" fill="#262626"/><circle cx="1165.75" cy="119.43" r="1.81" fill="#3a3a3a"/><circle cx="1165.94" cy="117.04" r="1.52" fill="#444"/><circle cx="1166.39" cy="114.68" r="1.98" fill="#1c1c1c"/><circle cx="1165.61" cy="112.41" r="1.67" fill="#444"/><circle cx="1165.25" cy="110.04" r="1.77" fill="#444"/><circle cx="1164.67" cy="107.71" r="1.84" fill="#1c1c1c"/><circle cx="1181.72" cy="125.16" r="1.57" fill="#3a3a3a"/><circle cx="1183.93" cy="124.22" r="1.94" fill="#444"/><circle cx="1186.18" cy="125.06" r="1.75" fill="#444"/><circle cx="1187.89" cy="126.74" r="1.94" fill="#1c1c1c"/><circle cx="1189.81" cy="128.18" r="1.89" fill="#444"/><circle cx="1192.2" cy="127.93" r="1.99" fill="#444"/><circle cx="1160.09" cy="99.57" r="1.58" fill="#2a2a2a"/><circle cx="1158.78" cy="97.57" r="1.62" fill="#444"/><circle cx="1157.64" cy="95.45" r="1.61" fill="#303030"/><circle cx="1158.66" cy="93.28" r="1.66" fill="#3a3a3a"/><circle cx="1157.32" cy="91.29" r="1.85" fill="#1c1c1c"/><circle cx="1154.92" cy="91.27" r="1.68" fill="#303030"/><circle cx="1152.57" cy="91.73" r="1.42" fill="#444"/><circle cx="1150.69" cy="93.23" r="1.51" fill="#303030"/><circle cx="1183.21" cy="102.8" r="1.6" fill="#3a3a3a"/><circle cx="1181.72" cy="100.92" r="1.41" fill="#1c1c1c"/><circle cx="1181.56" cy="98.53" r="1.95" fill="#2a2a2a"/><circle cx="1179.41" cy="97.46" r="1.95" fill="#262626"/><circle cx="1177.99" cy="95.53" r="1.79" fill="#3a3a3a"/><circle cx="1175.96" cy="94.23" r="1.47" fill="#444"/><circle cx="1123.14" cy="174.61" r="1.81" fill="#444"/><circle cx="1120.81" cy="175.18" r="1.77" fill="#1c1c1c"/><circle cx="1118.5" cy="175.83" r="1.4" fill="#1c1c1c"/><circle cx="1116.13" cy="175.44" r="1.5" fill="#444"/><circle cx="1113.87" cy="176.25" r="1.67" fill="#3a3a3a"/><circle cx="1111.61" cy="177.04" r="1.48" fill="#303030"/><circle cx="1110.18" cy="178.97" r="1.76" fill="#303030"/><circle cx="1110.61" cy="181.33" r="1.65" fill="#2a2a2a"/><circle cx="1103.81" cy="142.8" r="1.5" fill="#3a3a3a"/><circle cx="1101.73" cy="141.6" r="1.85" fill="#262626"/><circle cx="1099.62" cy="140.46" r="1.6" fill="#262626"/><circle cx="1097.66" cy="141.84" r="1.52" fill="#303030"/><circle cx="1095.26" cy="141.97" r="1.9" fill="#262626"/><circle cx="1093.18" cy="143.16" r="1.66" fill="#3a3a3a"/><circle cx="1093.25" cy="145.56" r="1.58" fill="#1c1c1c"/><circle cx="1160.4" cy="148.02" r="1.6" fill="#3a3a3a"/><circle cx="1158.76" cy="149.77" r="1.46" fill="#2a2a2a"/><circle cx="1156.36" cy="149.66" r="1.55" fill="#444"/><circle cx="1155.08" cy="151.69" r="2" fill="#1c1c1c"/><circle cx="1154.15" cy="153.9" r="1.44" fill="#444"/><circle cx="1204.97" cy="60.56" r="1.67" fill="#3a3a3a"/><circle cx="1202.86" cy="61.7" r="1.6" fill="#2a2a2a"/><circle cx="1202.03" cy="63.96" r="1.37" fill="#303030"/><circle cx="1200.04" cy="65.3" r="1.62" fill="#2a2a2a"/><circle cx="1197.66" cy="65.6" r="1.82" fill="#303030"/><circle cx="1196.04" cy="63.83" r="1.9" fill="#262626"/><circle cx="1193.69" cy="63.33" r="1.7" fill="#303030"/><circle cx="1191.34" cy="62.84" r="1.55" fill="#444"/><circle cx="1116.13" cy="148.03" r="1.94" fill="#303030"/><circle cx="1113.79" cy="148.57" r="1.85" fill="#2a2a2a"/><circle cx="1112.11" cy="150.28" r="1.54" fill="#444"/><circle cx="1109.76" cy="150.73" r="1.95" fill="#444"/><circle cx="1109.11" cy="153.04" r="1.74" fill="#444"/><circle cx="1110.48" cy="155.01" r="1.65" fill="#262626"/><circle cx="1112.57" cy="156.19" r="1.36" fill="#1c1c1c"/><circle cx="1135.75" cy="174.25" r="1.46" fill="#262626"/><circle cx="1135.77" cy="171.85" r="1.83" fill="#303030"/><circle cx="1137.33" cy="170.02" r="1.55" fill="#2a2a2a"/><circle cx="1139.37" cy="168.77" r="1.8" fill="#444"/><circle cx="1141.75" cy="168.48" r="1.66" fill="#303030"/><circle cx="1143.16" cy="170.42" r="1.36" fill="#303030"/><circle cx="1145.37" cy="171.36" r="1.84" fill="#2a2a2a"/><circle cx="1197.6" cy="124.68" r="1.85" fill="#3a3a3a"/><circle cx="1195.35" cy="125.51" r="1.83" fill="#3a3a3a"/><circle cx="1193.22" cy="124.4" r="1.57" fill="#444"/><circle cx="1191.12" cy="123.23" r="1.42" fill="#2a2a2a"/><circle cx="1189.52" cy="121.44" r="1.4" fill="#444"/><circle cx="1190.41" cy="119.21" r="1.35" fill="#3a3a3a"/><circle cx="1190.08" cy="116.84" r="1.94" fill="#3a3a3a"/><circle cx="1191.64" cy="115.01" r="1.49" fill="#3a3a3a"/><circle cx="1194.03" cy="115.16" r="1.71" fill="#444"/><circle cx="1186.83" cy="116.93" r="1.85" fill="#303030"/><circle cx="1187.92" cy="114.79" r="1.37" fill="#2a2a2a"/><circle cx="1188.38" cy="112.44" r="1.74" fill="#303030"/><circle cx="1187.8" cy="110.11" r="1.53" fill="#444"/><circle cx="1188.71" cy="107.89" r="1.54" fill="#1c1c1c"/><circle cx="1188.5" cy="105.5" r="1.95" fill="#1c1c1c"/><circle cx="1186.91" cy="103.7" r="1.88" fill="#262626"/><circle cx="1122.88" cy="136.07" r="1.69" fill="#303030"/><circle cx="1120.67" cy="135.11" r="1.9" fill="#303030"/><circle cx="1118.6" cy="133.9" r="1.41" fill="#262626"/><circle cx="1118.26" cy="131.53" r="1.66" fill="#444"/><circle cx="1117.4" cy="129.28" r="1.61" fill="#444"/><circle cx="1116.99" cy="126.92" r="1.69" fill="#444"/><circle cx="1116.16" cy="124.67" r="1.85" fill="#1c1c1c"/><circle cx="1182.43" cy="70.18" r="1.61" fill="#262626"/><circle cx="1184.69" cy="69.39" r="1.82" fill="#2a2a2a"/><circle cx="1186.8" cy="68.23" r="1.93" fill="#262626"/><circle cx="1187.55" cy="65.95" r="1.91" fill="#444"/><circle cx="1188.23" cy="63.65" r="1.97" fill="#1c1c1c"/><circle cx="1159.89" cy="64.66" r="1.52" fill="#2a2a2a"/><circle cx="1157.57" cy="65.27" r="1.44" fill="#1c1c1c"/><circle cx="1155.25" cy="64.65" r="1.79" fill="#1c1c1c"/><circle cx="1153.91" cy="62.66" r="1.91" fill="#303030"/><circle cx="1152.17" cy="61.01" r="1.45" fill="#2a2a2a"/><circle cx="1150.99" cy="58.91" r="1.68" fill="#262626"/><circle cx="1149.21" cy="57.31" r="1.89" fill="#3a3a3a"/><circle cx="1146.81" cy="57.4" r="1.71" fill="#3a3a3a"/><circle cx="1144.49" cy="56.78" r="1.46" fill="#1c1c1c"/><circle cx="1209.63" cy="141.14" r="1.68" fill="#3a3a3a"/><circle cx="1207.37" cy="140.32" r="1.45" fill="#444"/><circle cx="1204.98" cy="140.16" r="1.73" fill="#3a3a3a"/><circle cx="1202.62" cy="139.7" r="1.84" fill="#2a2a2a"/><circle cx="1200.29" cy="139.14" r="1.92" fill="#303030"/><circle cx="1197.89" cy="139.02" r="1.52" fill="#1c1c1c"/><circle cx="1195.59" cy="138.32" r="1.62" fill="#3a3a3a"/><circle cx="1195.33" cy="135.93" r="1.39" fill="#2a2a2a"/><circle cx="1133.77" cy="86.21" r="1.45" fill="#1c1c1c"/><circle cx="1173.5" cy="165.26" r="1.67" fill="#1c1c1c"/><circle cx="1120.63" cy="152.69" r="1.56" fill="#303030"/><circle cx="1114.38" cy="88.44" r="1.4" fill="#444"/><circle cx="1151.78" cy="107.72" r="1.76" fill="#262626"/><circle cx="1179.12" cy="145.15" r="1.72" fill="#1c1c1c"/><circle cx="1186.85" cy="71.59" r="1.69" fill="#444"/><circle cx="1175.96" cy="118.72" r="1.54" fill="#1c1c1c"/><circle cx="1129.46" cy="128.71" r="1.6" fill="#444"/><circle cx="1160.69" cy="91.54" r="1.49" fill="#1c1c1c"/><circle cx="1178.73" cy="143.4" r="1.84" fill="#262626"/><circle cx="1119.71" cy="88.95" r="1.51" fill="#303030"/><circle cx="1136.59" cy="83.9" r="1.79" fill="#1c1c1c"/><circle cx="1196.05" cy="141.35" r="1.86" fill="#262626"/><circle cx="1189.71" cy="137.48" r="1.38" fill="#3a3a3a"/><circle cx="1172.45" cy="110.44" r="1.4" fill="#303030"/><circle cx="1091.69" cy="158.04" r="1.24" fill="#262626"/><circle cx="1115.41" cy="102.43" r="1.34" fill="#444"/><circle cx="1089.69" cy="123.22" r="1.42" fill="#303030"/><circle cx="1124.45" cy="119.57" r="1.88" fill="#444"/><circle cx="1128.71" cy="120.55" r="1.58" fill="#262626"/><circle cx="1183.19" cy="79.16" r="1.82" fill="#2a2a2a"/><circle cx="1126.17" cy="105.16" r="1.39" fill="#444"/><circle cx="1140.63" cy="63.75" r="1.87" fill="#444"/><circle cx="1135.73" cy="110.21" r="1.44" fill="#1c1c1c"/><circle cx="1156.15" cy="121.3" r="1.46" fill="#1c1c1c"/><circle cx="1187.51" cy="171.01" r="1.31" fill="#262626"/><circle cx="1111.17" cy="93.12" r="1.63" fill="#2a2a2a"/><circle cx="1115.71" cy="87.43" r="1.88" fill="#1c1c1c"/><circle cx="1099.65" cy="71.26" r="1.41" fill="#262626"/><circle cx="1112.45" cy="113.66" r="1.25" fill="#262626"/><circle cx="1111.57" cy="118.64" r="1.54" fill="#444"/><circle cx="1137.09" cy="119.83" r="1.73" fill="#2a2a2a"/><circle cx="1113.54" cy="133.84" r="1.64" fill="#2a2a2a"/><circle cx="1112.7" cy="159.99" r="1.76" fill="#3a3a3a"/><circle cx="1131.39" cy="100.3" r="1.57" fill="#262626"/><circle cx="1172.89" cy="76.1" r="1.74" fill="#262626"/><circle cx="1175.45" cy="173.75" r="1.76" fill="#303030"/><circle cx="1113.85" cy="138.54" r="1.63" fill="#444"/><circle cx="1108.27" cy="77.48" r="1.72" fill="#2a2a2a"/><circle cx="1137.29" cy="131.84" r="1.83" fill="#2a2a2a"/><circle cx="1167.31" cy="90.54" r="1.32" fill="#1c1c1c"/><circle cx="1135.36" cy="106.41" r="1.34" fill="#303030"/><circle cx="1133.51" cy="135.2" r="1.78" fill="#1c1c1c"/><circle cx="1196.65" cy="155.21" r="1.59" fill="#444"/><circle cx="1200.45" cy="68.54" r="1.82" fill="#3a3a3a"/><circle cx="1168.84" cy="57.93" r="1.78" fill="#303030"/><circle cx="1102.38" cy="167.42" r="1.43" fill="#262626"/><circle cx="1204.16" cy="158.02" r="1.48" fill="#1c1c1c"/><circle cx="1115.29" cy="141.63" r="1.84" fill="#444"/><circle cx="1101.01" cy="172.63" r="1.69" fill="#2a2a2a"/><circle cx="1110.67" cy="156.56" r="1.52" fill="#444"/><circle cx="1147.05" cy="149.16" r="1.45" fill="#2a2a2a"/><circle cx="1185.8" cy="114.47" r="1.21" fill="#2a2a2a"/><circle cx="1182.99" cy="139.59" r="1.48" fill="#262626"/><circle cx="1168.6" cy="163.69" r="1.32" fill="#3a3a3a"/><circle cx="1143.28" cy="71.88" r="1.22" fill="#262626"/><circle cx="1154.13" cy="77.34" r="1.6" fill="#2a2a2a"/><circle cx="1208.24" cy="134.71" r="1.57" fill="#303030"/><circle cx="1209.94" cy="89.18" r="1.24" fill="#262626"/><circle cx="1102.99" cy="110.44" r="1.35" fill="#262626"/><circle cx="1102.9" cy="81.09" r="1.88" fill="#262626"/><circle cx="1117.86" cy="148.06" r="1.88" fill="#303030"/><circle cx="1130.16" cy="93.11" r="1.42" fill="#2a2a2a"/><circle cx="1148.26" cy="109.44" r="1.36" fill="#444"/><circle cx="1126.28" cy="89.37" r="1.88" fill="#444"/><circle cx="1119.85" cy="136.98" r="1.2" fill="#262626"/><circle cx="1124.97" cy="161.05" r="1.32" fill="#444"/><circle cx="1212.36" cy="144.81" r="1.21" fill="#262626"/><circle cx="1191.34" cy="138.36" r="1.76" fill="#2a2a2a"/><circle cx="1128.19" cy="102.54" r="1.58" fill="#2a2a2a"/><circle cx="1105.12" cy="146.4" r="1.32" fill="#303030"/><circle cx="1177" cy="114.17" r="1.71" fill="#444"/><circle cx="1130.46" cy="82.09" r="1.89" fill="#262626"/><circle cx="1097.1" cy="87.56" r="1.77" fill="#262626"/><circle cx="1181.07" cy="73.38" r="1.22" fill="#1c1c1c"/><circle cx="1128.41" cy="154.57" r="1.76" fill="#2a2a2a"/><circle cx="1146.03" cy="168.16" r="1.56" fill="#262626"/><circle cx="1133.35" cy="74.16" r="1.47" fill="#444"/><circle cx="1133.76" cy="143.65" r="1.65" fill="#303030"/><circle cx="1173.88" cy="133.49" r="1.79" fill="#3a3a3a"/><circle cx="1135.01" cy="166.54" r="1.84" fill="#303030"/><circle cx="1118.15" cy="156.4" r="1.2" fill="#303030"/><circle cx="1158.74" cy="138.31" r="1.47" fill="#3a3a3a"/><circle cx="1169.43" cy="64.71" r="1.53" fill="#262626"/><circle cx="1094.51" cy="151.45" r="1.81" fill="#303030"/><circle cx="1108.79" cy="88.29" r="1.77" fill="#262626"/><circle cx="1180.16" cy="125.21" r="1.23" fill="#2a2a2a"/><circle cx="1121.24" cy="89.19" r="1.25" fill="#1c1c1c"/><circle cx="1143.81" cy="112.43" r="1.89" fill="#1c1c1c"/><circle cx="1137.62" cy="94.23" r="1.48" fill="#303030"/><circle cx="1145.92" cy="144.44" r="1.69" fill="#1c1c1c"/><circle cx="1113.79" cy="168.84" r="1.82" fill="#444"/><circle cx="1163.19" cy="80.1" r="1.55" fill="#303030"/><circle cx="1150.43" cy="109.48" r="1.52" fill="#2a2a2a"/><circle cx="1180.14" cy="117.22" r="1.45" fill="#444"/><circle cx="1182.82" cy="63.76" r="1.46" fill="#1c1c1c"/><circle cx="1144.61" cy="92.45" r="1.28" fill="#3a3a3a"/><circle cx="1102.32" cy="66.46" r="1.32" fill="#2a2a2a"/><circle cx="1157.09" cy="111.33" r="1.53" fill="#444"/><circle cx="1134.92" cy="123.42" r="1.83" fill="#2a2a2a"/><circle cx="1139.08" cy="101.69" r="1.67" fill="#2a2a2a"/><circle cx="1188.22" cy="137.65" r="1.83" fill="#303030"/><circle cx="1148.81" cy="143.07" r="1.77" fill="#262626"/><circle cx="1152.26" cy="167.37" r="1.24" fill="#262626"/><circle cx="1119.23" cy="94.99" r="1.39" fill="#303030"/><circle cx="1127.24" cy="94.22" r="1.46" fill="#303030"/><circle cx="1196.69" cy="93.58" r="1.81" fill="#3a3a3a"/><circle cx="1168.24" cy="65.16" r="1.82" fill="#1c1c1c"/><circle cx="1155.77" cy="123.47" r="1.3" fill="#262626"/><circle cx="1134.71" cy="131.58" r="1.49" fill="#2a2a2a"/><circle cx="1118.46" cy="92.93" r="1.24" fill="#1c1c1c"/><circle cx="1105.42" cy="60.66" r="1.57" fill="#262626"/><circle cx="1149.21" cy="126.64" r="1.72" fill="#303030"/><circle cx="1092.11" cy="70.14" r="1.29" fill="#262626"/><circle cx="1098.48" cy="76.37" r="1.27" fill="#444"/><circle cx="1098.64" cy="113.38" r="1.53" fill="#2a2a2a"/><circle cx="1113.62" cy="95.97" r="1.66" fill="#303030"/><circle cx="1135.3" cy="152.35" r="1.61" fill="#2a2a2a"/><circle cx="1158.63" cy="171.36" r="1.66" fill="#1c1c1c"/><circle cx="1148.68" cy="79.22" r="1.29" fill="#3a3a3a"/><circle cx="1140.83" cy="81.18" r="1.25" fill="#3a3a3a"/><circle cx="1154.1" cy="91.4" r="1.61" fill="#3a3a3a"/><circle cx="1193.78" cy="89.34" r="1.67" fill="#3a3a3a"/><circle cx="1156.78" cy="147.73" r="1.76" fill="#262626"/><circle cx="1093.37" cy="141.83" r="1.51" fill="#444"/><circle cx="1168.68" cy="130.89" r="1.51" fill="#444"/><circle cx="1113.88" cy="94.48" r="1.66" fill="#1c1c1c"/><circle cx="1190.88" cy="145.04" r="1.2" fill="#1c1c1c"/><circle cx="1195.83" cy="76.61" r="1.83" fill="#3a3a3a"/><circle cx="1133.96" cy="116.55" r="1.29" fill="#444"/><circle cx="1177.45" cy="173.11" r="1.87" fill="#1c1c1c"/><circle cx="1211.35" cy="82.58" r="1.88" fill="#444"/><circle cx="1133.88" cy="146.55" r="1.9" fill="#1c1c1c"/><circle cx="1209.99" cy="137.35" r="1.53" fill="#303030"/><circle cx="1171.76" cy="164.63" r="1.48" fill="#2a2a2a"/><circle cx="1105.28" cy="131.85" r="1.29" fill="#262626"/><circle cx="1110.27" cy="94.89" r="1.77" fill="#3a3a3a"/><circle cx="1160.68" cy="139.58" r="1.56" fill="#3a3a3a"/><circle cx="1123.01" cy="89.56" r="1.76" fill="#1c1c1c"/><circle cx="1116.18" cy="125.42" r="1.6" fill="#303030"/><circle cx="1119.52" cy="82.71" r="1.25" fill="#303030"/><circle cx="1125.37" cy="76.35" r="1.22" fill="#1c1c1c"/><circle cx="1172.77" cy="125.91" r="1.72" fill="#303030"/><circle cx="1175.78" cy="125.7" r="1.78" fill="#444"/><circle cx="1189.43" cy="62.29" r="1.55" fill="#3a3a3a"/><circle cx="1141.14" cy="114.83" r="1.85" fill="#3a3a3a"/><circle cx="1213.01" cy="84.88" r="1.76" fill="#1c1c1c"/><circle cx="1115.73" cy="90.8" r="1.89" fill="#1c1c1c"/><circle cx="1175.61" cy="161.37" r="1.66" fill="#303030"/><circle cx="1182.31" cy="136.48" r="1.62" fill="#1c1c1c"/><circle cx="1126.29" cy="129.05" r="1.69" fill="#444"/><circle cx="1203.5" cy="169.05" r="1.32" fill="#262626"/><circle cx="1179.8" cy="116.01" r="1.9" fill="#303030"/><circle cx="1167.5" cy="99.05" r="1.33" fill="#444"/><circle cx="1127.21" cy="107.94" r="1.86" fill="#3a3a3a"/><circle cx="1109.07" cy="164.09" r="1.87" fill="#2a2a2a"/><circle cx="1100.27" cy="61.61" r="1.67" fill="#3a3a3a"/><circle cx="1202.63" cy="154.54" r="1.38" fill="#2a2a2a"/><circle cx="1114.8" cy="148.18" r="1.28" fill="#2a2a2a"/><circle cx="1189.11" cy="93.12" r="1.85" fill="#262626"/><circle cx="1155.53" cy="161.3" r="1.64" fill="#1c1c1c"/><circle cx="1142.09" cy="175.96" r="1.36" fill="#3a3a3a"/><circle cx="1126.28" cy="136.12" r="1.55" fill="#444"/><circle cx="1102.67" cy="60.99" r="1.29" fill="#1c1c1c"/><circle cx="1183.47" cy="72.83" r="1.84" fill="#262626"/><circle cx="1137.15" cy="103.77" r="1.68" fill="#444"/><circle cx="1134.61" cy="117.78" r="1.89" fill="#444"/><circle cx="1149.96" cy="68.91" r="1.73" fill="#1c1c1c"/><circle cx="1137.2" cy="158.86" r="1.47" fill="#2a2a2a"/><circle cx="1175.47" cy="99.21" r="1.48" fill="#262626"/><circle cx="1172.17" cy="123.68" r="1.79" fill="#262626"/><circle cx="1097.05" cy="172.44" r="1.46" fill="#3a3a3a"/><circle cx="1127.78" cy="170.76" r="1.3" fill="#3a3a3a"/><circle cx="1157.74" cy="113.98" r="1.42" fill="#1c1c1c"/><circle cx="1136.36" cy="73.18" r="1.8" fill="#262626"/><circle cx="1114.93" cy="99.73" r="1.42" fill="#303030"/><circle cx="1121.92" cy="159.74" r="1.33" fill="#2a2a2a"/><circle cx="1096.97" cy="158.15" r="1.25" fill="#303030"/><circle cx="1209.22" cy="94.37" r="1.74" fill="#3a3a3a"/><circle cx="1119.78" cy="161.68" r="1.54" fill="#303030"/><circle cx="1192.91" cy="164.35" r="1.65" fill="#3a3a3a"/><circle cx="1144.93" cy="120.08" r="1.38" fill="#262626"/><circle cx="1117.01" cy="97.16" r="1.39" fill="#1c1c1c"/><circle cx="1169" cy="157.06" r="1.61" fill="#2a2a2a"/><circle cx="1165.4" cy="126.84" r="1.32" fill="#3a3a3a"/><circle cx="1139.45" cy="167.57" r="1.33" fill="#444"/><circle cx="1148.16" cy="94.64" r="1.87" fill="#444"/><circle cx="1164.32" cy="74.51" r="1.4" fill="#1c1c1c"/><circle cx="1110.47" cy="128.53" r="1.88" fill="#2a2a2a"/><circle cx="1195.04" cy="129.08" r="1.57" fill="#303030"/><circle cx="1177.25" cy="109.47" r="1.44" fill="#444"/><circle cx="1187.35" cy="150.32" r="1.6" fill="#1c1c1c"/><circle cx="1213.99" cy="161.58" r="1.6" fill="#3a3a3a"/><circle cx="1111.29" cy="170.27" r="1.21" fill="#1c1c1c"/><circle cx="1157.23" cy="141.75" r="1.44" fill="#2a2a2a"/><circle cx="1146.7" cy="117.96" r="1.26" fill="#1c1c1c"/><circle cx="1171.75" cy="163.71" r="1.4" fill="#444"/><circle cx="1125.23" cy="100.64" r="1.9" fill="#3a3a3a"/><circle cx="1130.59" cy="87.72" r="1.71" fill="#2a2a2a"/><circle cx="1187.65" cy="155.89" r="1.27" fill="#2a2a2a"/><circle cx="1131.53" cy="169.69" r="1.45" fill="#262626"/><circle cx="1135.97" cy="135.25" r="1.89" fill="#262626"/><circle cx="1121.82" cy="108.58" r="1.52" fill="#1c1c1c"/><circle cx="1151.3" cy="75.88" r="1.54" fill="#262626"/><circle cx="1163" cy="130.8" r="1.56" fill="#444"/><circle cx="1123.01" cy="105.72" r="1.21" fill="#444"/><circle cx="1094.5" cy="114.88" r="1.47" fill="#262626"/><circle cx="1175.13" cy="123.89" r="1.4" fill="#2a2a2a"/><circle cx="1136.06" cy="101.65" r="1.32" fill="#3a3a3a"/><circle cx="1150.77" cy="110.25" r="1.26" fill="#262626"/><circle cx="1177.37" cy="133.9" r="1.84" fill="#2a2a2a"/><circle cx="1125.4" cy="111.69" r="1.8" fill="#303030"/><circle cx="1114.34" cy="66.87" r="1.47" fill="#444"/><circle cx="1186.44" cy="86.94" r="1.67" fill="#262626"/><circle cx="1120.81" cy="100.09" r="1.39" fill="#444"/><circle cx="1123.02" cy="115.7" r="1.72" fill="#3a3a3a"/><circle cx="1157.67" cy="162.27" r="1.38" fill="#444"/><circle cx="1152.77" cy="92.21" r="1.44" fill="#2a2a2a"/><circle cx="1156.8" cy="106.54" r="1.38" fill="#1c1c1c"/><circle cx="1122.72" cy="139.84" r="1.83" fill="#3a3a3a"/><circle cx="1156.01" cy="122.39" r="1.66" fill="#444"/><circle cx="1144.91" cy="159.5" r="1.65" fill="#262626"/><circle cx="1209.92" cy="131.38" r="1.3" fill="#444"/><circle cx="1128.9" cy="71.13" r="1.26" fill="#2a2a2a"/><circle cx="1114.6" cy="140.04" r="1.84" fill="#303030"/><circle cx="1185.83" cy="156.15" r="1.35" fill="#262626"/><circle cx="1182.93" cy="151.74" r="1.4" fill="#1c1c1c"/><circle cx="1191.93" cy="107.19" r="1.38" fill="#444"/><circle cx="1130.95" cy="93.45" r="1.74" fill="#303030"/><circle cx="1119.32" cy="128.05" r="1.24" fill="#3a3a3a"/><circle cx="1106.97" cy="151.09" r="1.31" fill="#444"/><circle cx="1206.53" cy="62.56" r="1.33" fill="#303030"/><circle cx="1194.99" cy="129.21" r="1.21" fill="#262626"/><circle cx="1212.74" cy="180.49" r="1.29" fill="#1c1c1c"/><circle cx="1179.36" cy="93.77" r="1.33" fill="#444"/><circle cx="1108.73" cy="62.33" r="1.41" fill="#1c1c1c"/><circle cx="1133.4" cy="136.05" r="1.81" fill="#444"/><circle cx="1192.35" cy="109.48" r="1.73" fill="#444"/><circle cx="1172.88" cy="67.13" r="1.66" fill="#262626"/><circle cx="1159.96" cy="78.94" r="1.79" fill="#303030"/><circle cx="1185.96" cy="95.38" r="1.61" fill="#3a3a3a"/><circle cx="1132.34" cy="105.69" r="1.34" fill="#303030"/><circle cx="1114.78" cy="173.15" r="1.51" fill="#444"/><circle cx="1124.37" cy="65.14" r="1.69" fill="#303030"/><circle cx="1127.25" cy="152.01" r="1.31" fill="#303030"/><circle cx="1145.25" cy="75.9" r="1.46" fill="#262626"/><circle cx="1134.31" cy="101.48" r="1.27" fill="#3a3a3a"/><circle cx="1137.66" cy="151.15" r="1.88" fill="#444"/><circle cx="1198.65" cy="90.6" r="1.75" fill="#303030"/><circle cx="1213.24" cy="159.08" r="1.21" fill="#3a3a3a"/><circle cx="1201.37" cy="94.45" r="1.44" fill="#303030"/><circle cx="1101.14" cy="181.85" r="1.39" fill="#2a2a2a"/><circle cx="1157.56" cy="132.57" r="1.7" fill="#3a3a3a"/><circle cx="1155.31" cy="153" r="1.24" fill="#1c1c1c"/><circle cx="1132.31" cy="171.4" r="1.56" fill="#262626"/><circle cx="1154.65" cy="166.24" r="1.65" fill="#3a3a3a"/><circle cx="1160.24" cy="78.25" r="1.6" fill="#2a2a2a"/><circle cx="1182.28" cy="77.62" r="1.21" fill="#3a3a3a"/><circle cx="1170.03" cy="86.2" r="1.42" fill="#444"/><circle cx="1161.18" cy="124.96" r="1.3" fill="#3a3a3a"/><circle cx="1156.25" cy="120.49" r="1.22" fill="#444"/><circle cx="1210.74" cy="160.36" r="1.64" fill="#262626"/><circle cx="1185.18" cy="133.28" r="1.22" fill="#2a2a2a"/><circle cx="1144.73" cy="93.27" r="1.75" fill="#303030"/><circle cx="1114.48" cy="76.61" r="1.32" fill="#303030"/><circle cx="1182.77" cy="76.92" r="1.55" fill="#1c1c1c"/><circle cx="1139.42" cy="64.02" r="1.23" fill="#2a2a2a"/><circle cx="1183.2" cy="118.07" r="1.77" fill="#3a3a3a"/><circle cx="1210.69" cy="144.46" r="1.34" fill="#262626"/><circle cx="1174.05" cy="166.39" r="1.84" fill="#2a2a2a"/><circle cx="1132.97" cy="137.89" r="1.69" fill="#3a3a3a"/><circle cx="1181.84" cy="161.34" r="1.5" fill="#303030"/><circle cx="1139.19" cy="109.53" r="1.27" fill="#2a2a2a"/><circle cx="1191.63" cy="140.62" r="1.73" fill="#262626"/><circle cx="1157.47" cy="111.6" r="1.43" fill="#262626"/><circle cx="1093.82" cy="159.66" r="1.74" fill="#262626"/><circle cx="1210" cy="124.25" r="1.45" fill="#1c1c1c"/><circle cx="1115.23" cy="79.27" r="1.37" fill="#303030"/><circle cx="1100.72" cy="137.91" r="1.6" fill="#1c1c1c"/><circle cx="1124.59" cy="135.02" r="1.24" fill="#2a2a2a"/><circle cx="1188.29" cy="85.52" r="1.33" fill="#262626"/><circle cx="1166.57" cy="68.21" r="1.71" fill="#444"/><circle cx="1182.91" cy="70.2" r="1.74" fill="#262626"/><circle cx="1147.95" cy="142.46" r="1.54" fill="#444"/><circle cx="1123.39" cy="89.17" r="1.51" fill="#262626"/><circle cx="1144.14" cy="103.2" r="1.64" fill="#444"/><circle cx="1123.21" cy="109.72" r="1.64" fill="#3a3a3a"/><circle cx="1149.88" cy="145.86" r="1.69" fill="#262626"/><circle cx="1179.72" cy="99.36" r="1.63" fill="#444"/><circle cx="1163.64" cy="71.06" r="1.55" fill="#2a2a2a"/><circle cx="1153.7" cy="81.18" r="1.45" fill="#303030"/><circle cx="1174.04" cy="98.27" r="1.38" fill="#444"/><circle cx="1205.17" cy="170.62" r="1.66" fill="#1c1c1c"/><circle cx="1134.59" cy="165.47" r="1.55" fill="#303030"/><circle cx="1198.92" cy="73.13" r="1.27" fill="#1c1c1c"/><circle cx="1129.38" cy="127.38" r="1.49" fill="#2a2a2a"/><circle cx="1166.53" cy="149.88" r="1.71" fill="#262626"/><circle cx="1148.28" cy="136.68" r="1.38" fill="#1c1c1c"/><circle cx="1160.54" cy="104.53" r="1.46" fill="#2a2a2a"/><circle cx="1093.62" cy="162.69" r="1.6" fill="#262626"/><circle cx="1112.86" cy="102.25" r="1.78" fill="#2a2a2a"/><circle cx="1188.23" cy="171.95" r="1.73" fill="#444"/><circle cx="1150.93" cy="126.41" r="1.36" fill="#1c1c1c"/><circle cx="1093.38" cy="103.43" r="1.64" fill="#262626"/><circle cx="1143.03" cy="91.04" r="1.37" fill="#303030"/><circle cx="1196.41" cy="149.1" r="1.39" fill="#1c1c1c"/><circle cx="1170.75" cy="76.12" r="1.8" fill="#1c1c1c"/><circle cx="1153.74" cy="71.96" r="1.73" fill="#3a3a3a"/><circle cx="1166.73" cy="131.32" r="1.88" fill="#2a2a2a"/><circle cx="1148.59" cy="169.64" r="1.22" fill="#444"/><circle cx="1173.95" cy="116.68" r="1.34" fill="#2a2a2a"/><circle cx="1120.14" cy="71.27" r="1.36" fill="#303030"/><circle cx="1127.61" cy="156.25" r="1.36" fill="#444"/><circle cx="1128.46" cy="100.51" r="1.64" fill="#1c1c1c"/><circle cx="1173.77" cy="73.35" r="1.37" fill="#303030"/><circle cx="1151.27" cy="145.23" r="1.44" fill="#303030"/><circle cx="1146.59" cy="137.36" r="1.5" fill="#3a3a3a"/><circle cx="1107.45" cy="78.94" r="1.44" fill="#303030"/><circle cx="1193.08" cy="79.09" r="1.33" fill="#262626"/><circle cx="1187.21" cy="108.52" r="1.88" fill="#3a3a3a"/><circle cx="1154.63" cy="101.26" r="1.29" fill="#1c1c1c"/><circle cx="1168.04" cy="173.48" r="1.54" fill="#262626"/><circle cx="1113.04" cy="73.92" r="1.68" fill="#3a3a3a"/><circle cx="1151.02" cy="135.47" r="1.36" fill="#3a3a3a"/><circle cx="1134.98" cy="112.26" r="1.54" fill="#1c1c1c"/><circle cx="1138.39" cy="140.27" r="1.7" fill="#2a2a2a"/><circle cx="1095.52" cy="109.98" r="1.72" fill="#2a2a2a"/><circle cx="1136.86" cy="98.76" r="1.59" fill="#3a3a3a"/><circle cx="1185.39" cy="73.57" r="1.28" fill="#3a3a3a"/><circle cx="1157.47" cy="118.75" r="1.64" fill="#1c1c1c"/><circle cx="1102.88" cy="121.98" r="1.69" fill="#1c1c1c"/><circle cx="1129.17" cy="136.39" r="1.77" fill="#3a3a3a"/><circle cx="1183.41" cy="64.74" r="1.54" fill="#262626"/><circle cx="1184.19" cy="88.93" r="1.26" fill="#2a2a2a"/><circle cx="1178.76" cy="130.97" r="1.44" fill="#303030"/><circle cx="1165.2" cy="69.93" r="1.45" fill="#262626"/><circle cx="1142.25" cy="115.95" r="1.41" fill="#303030"/><circle cx="1126.11" cy="109.82" r="1.5" fill="#2a2a2a"/><circle cx="1120.73" cy="75.2" r="1.42" fill="#1c1c1c"/><circle cx="1179.7" cy="70.6" r="1.84" fill="#303030"/><circle cx="1118.35" cy="118.06" r="1.63" fill="#303030"/><circle cx="1205.5" cy="128.59" r="1.31" fill="#1c1c1c"/><circle cx="1159.89" cy="127.77" r="1.77" fill="#3a3a3a"/><circle cx="1159.96" cy="90.11" r="1.37" fill="#2a2a2a"/><circle cx="1186.54" cy="135.76" r="1.48" fill="#1c1c1c"/><circle cx="1132.55" cy="110.86" r="1.42" fill="#3a3a3a"/><circle cx="1184.82" cy="112.87" r="1.48" fill="#262626"/><circle cx="1151.51" cy="98.37" r="1.36" fill="#262626"/><circle cx="1168.44" cy="86.05" r="1.82" fill="#303030"/><circle cx="1133.43" cy="83.26" r="1.37" fill="#444"/><circle cx="1209.09" cy="123.55" r="1.64" fill="#2a2a2a"/><circle cx="1164.86" cy="119.93" r="1.62" fill="#1c1c1c"/><circle cx="1134.13" cy="79.54" r="1.77" fill="#1c1c1c"/><circle cx="1153.52" cy="160.04" r="1.33" fill="#262626"/><circle cx="1196.44" cy="82.02" r="1.59" fill="#1c1c1c"/><circle cx="1148.3" cy="158.34" r="1.37" fill="#3a3a3a"/><circle cx="1143.27" cy="126.91" r="1.69" fill="#3a3a3a"/><circle cx="1139.91" cy="112.79" r="1.3" fill="#1c1c1c"/><circle cx="1162.89" cy="126.97" r="1.36" fill="#3a3a3a"/><circle cx="1132.27" cy="101.79" r="1.69" fill="#262626"/><circle cx="1136.75" cy="130.63" r="1.74" fill="#303030"/><circle cx="1144.43" cy="118.66" r="1.84" fill="#444"/><circle cx="1172.7" cy="73.21" r="1.84" fill="#444"/><circle cx="1103.84" cy="93.02" r="1.56" fill="#303030"/><circle cx="1155.23" cy="81.42" r="1.58" fill="#303030"/><circle cx="1128.71" cy="145.06" r="1.76" fill="#303030"/><circle cx="1138.21" cy="147.01" r="1.56" fill="#1c1c1c"/><circle cx="1126.9" cy="159.23" r="1.86" fill="#3a3a3a"/><circle cx="1209.19" cy="82.31" r="1.56" fill="#3a3a3a"/><circle cx="1117.13" cy="147.85" r="1.3" fill="#1c1c1c"/><circle cx="1141.5" cy="157.29" r="1.59" fill="#2a2a2a"/><circle cx="1119.89" cy="146.28" r="1.86" fill="#3a3a3a"/><circle cx="1133.54" cy="65.85" r="1.45" fill="#303030"/><circle cx="1164.87" cy="134.66" r="1.28" fill="#1c1c1c"/><circle cx="1183.69" cy="86.09" r="1.25" fill="#3a3a3a"/><circle cx="1171.27" cy="112.01" r="1.52" fill="#2a2a2a"/><circle cx="1140.96" cy="132.69" r="1.88" fill="#262626"/><circle cx="1188.53" cy="98.93" r="1.22" fill="#303030"/><circle cx="1125.05" cy="108.95" r="1.29" fill="#444"/><circle cx="1117.12" cy="73.85" r="1.72" fill="#444"/><circle cx="1189.33" cy="86.77" r="1.58" fill="#303030"/><circle cx="1165.21" cy="145.37" r="1.76" fill="#262626"/><circle cx="1146.35" cy="88.16" r="1.3" fill="#262626"/><circle cx="1125.83" cy="144.91" r="1.89" fill="#444"/><circle cx="1197.98" cy="56.72" r="1.87" fill="#1c1c1c"/><circle cx="1104.78" cy="164.36" r="1.52" fill="#262626"/><circle cx="1118.29" cy="152.99" r="1.5" fill="#3a3a3a"/><circle cx="1149.11" cy="119.96" r="1.21" fill="#444"/><circle cx="1164.42" cy="146.77" r="1.38" fill="#262626"/><circle cx="1172.27" cy="87.67" r="1.25" fill="#2a2a2a"/><circle cx="1175.39" cy="120.79" r="1.7" fill="#262626"/><circle cx="1167.45" cy="91.84" r="1.59" fill="#444"/><circle cx="1189.32" cy="131.94" r="1.21" fill="#3a3a3a"/><circle cx="1122.63" cy="120.18" r="1.88" fill="#444"/><circle cx="1195.9" cy="81.14" r="1.65" fill="#3a3a3a"/><circle cx="1167.4" cy="174.89" r="1.61" fill="#444"/><circle cx="1151.88" cy="147.16" r="1.51" fill="#2a2a2a"/><circle cx="1112.82" cy="169.98" r="1.61" fill="#1c1c1c"/><circle cx="1198.93" cy="104.64" r="1.75" fill="#262626"/><circle cx="1202.07" cy="165.35" r="1.5" fill="#3a3a3a"/><circle cx="1169.45" cy="58.65" r="1.28" fill="#1c1c1c"/><circle cx="1120.45" cy="138.41" r="1.46" fill="#2a2a2a"/><circle cx="1168.01" cy="133.05" r="1.5" fill="#1c1c1c"/><circle cx="1166.4" cy="74.59" r="1.41" fill="#3a3a3a"/><circle cx="1129.22" cy="144.9" r="1.74" fill="#1c1c1c"/><circle cx="1143.66" cy="93.67" r="1.72" fill="#1c1c1c"/><circle cx="1139.62" cy="141.07" r="1.6" fill="#262626"/><circle cx="1169.21" cy="145.62" r="1.83" fill="#262626"/><circle cx="1114.62" cy="167.04" r="1.48" fill="#262626"/><circle cx="1117.1" cy="153.51" r="1.78" fill="#3a3a3a"/><circle cx="1134.22" cy="83.72" r="1.33" fill="#2a2a2a"/><circle cx="1167.86" cy="141.22" r="1.61" fill="#262626"/><circle cx="1163.11" cy="121.44" r="1.45" fill="#444"/><circle cx="1185.34" cy="105.27" r="1.47" fill="#303030"/><circle cx="1199.24" cy="96.77" r="1.69" fill="#2a2a2a"/><circle cx="1166.25" cy="147.67" r="1.65" fill="#444"/><circle cx="1118.23" cy="161.67" r="1.79" fill="#1c1c1c"/><circle cx="1192.78" cy="67.08" r="1.58" fill="#262626"/><circle cx="1145.83" cy="93.47" r="1.25" fill="#1c1c1c"/><circle cx="1090.11" cy="176.95" r="1.26" fill="#1c1c1c"/><circle cx="1202.32" cy="165.92" r="1.44" fill="#3a3a3a"/><circle cx="1180.3" cy="114.21" r="1.73" fill="#3a3a3a"/><circle cx="1141.83" cy="67.93" r="1.82" fill="#2a2a2a"/><circle cx="1127.57" cy="138.35" r="1.52" fill="#3a3a3a"/><circle cx="1159.47" cy="124.13" r="1.71" fill="#2a2a2a"/><circle cx="1094.91" cy="93.09" r="1.78" fill="#3a3a3a"/><circle cx="1198.74" cy="77.47" r="1.82" fill="#262626"/><circle cx="1093.3" cy="60.8" r="1.78" fill="#2a2a2a"/><circle cx="1115.29" cy="119.95" r="1.64" fill="#262626"/><circle cx="1099.69" cy="94.18" r="1.79" fill="#262626"/><circle cx="1131.25" cy="83.58" r="1.54" fill="#444"/><circle cx="1207.32" cy="107.34" r="1.68" fill="#303030"/><circle cx="1116.17" cy="59.87" r="1.54" fill="#3a3a3a"/><circle cx="1160.02" cy="143.79" r="1.48" fill="#303030"/><circle cx="1131.34" cy="112.91" r="1.56" fill="#262626"/><circle cx="1126.53" cy="118.43" r="1.81" fill="#2a2a2a"/><circle cx="1099.61" cy="141.01" r="1.77" fill="#3a3a3a"/><circle cx="1196.1" cy="150.83" r="1.8" fill="#1c1c1c"/><circle cx="1193.67" cy="118.89" r="1.58" fill="#303030"/><circle cx="1097.86" cy="165.55" r="1.37" fill="#2a2a2a"/><circle cx="1127.24" cy="151.24" r="1.75" fill="#262626"/><circle cx="1203.78" cy="155.4" r="1.51" fill="#1c1c1c"/><circle cx="1188.64" cy="106.33" r="1.56" fill="#2a2a2a"/><circle cx="1137.21" cy="120.7" r="1.89" fill="#3a3a3a"/><circle cx="1179.69" cy="167.61" r="1.8" fill="#303030"/><circle cx="1176.04" cy="67.22" r="1.51" fill="#444"/><circle cx="1200.28" cy="120.56" r="1.66" fill="#2a2a2a"/><circle cx="1118.8" cy="102.41" r="1.41" fill="#2a2a2a"/><circle cx="1145.98" cy="133.81" r="1.22" fill="#3a3a3a"/><circle cx="1108.46" cy="96.35" r="1.3" fill="#303030"/><circle cx="1093.81" cy="94.52" r="1.21" fill="#2a2a2a"/><circle cx="1137.9" cy="157.78" r="1.7" fill="#2a2a2a"/><circle cx="1123.46" cy="82.48" r="1.89" fill="#2a2a2a"/><circle cx="1135.47" cy="97.61" r="1.44" fill="#2a2a2a"/><circle cx="1194.53" cy="68.79" r="1.22" fill="#1c1c1c"/><circle cx="1200.75" cy="72.27" r="1.64" fill="#444"/><circle cx="1180.72" cy="66.3" r="1.45" fill="#3a3a3a"/><circle cx="1146.72" cy="104.11" r="1.52" fill="#1c1c1c"/><circle cx="1099.05" cy="164.32" r="1.21" fill="#3a3a3a"/><circle cx="1194.05" cy="165.32" r="1.65" fill="#303030"/><circle cx="1133.12" cy="102" r="1.22" fill="#3a3a3a"/><circle cx="1163.81" cy="89.4" r="1.88" fill="#1c1c1c"/><circle cx="1185.54" cy="107.92" r="1.86" fill="#2a2a2a"/><circle cx="1184.76" cy="98.38" r="1.44" fill="#2a2a2a"/><circle cx="1171.25" cy="163.84" r="1.52" fill="#444"/><circle cx="1152.81" cy="132.61" r="1.43" fill="#2a2a2a"/><circle cx="1178.06" cy="86.1" r="1.52" fill="#303030"/><circle cx="1198.38" cy="122.51" r="1.55" fill="#2a2a2a"/><circle cx="1098.63" cy="105.17" r="1.38" fill="#2a2a2a"/><circle cx="1119.64" cy="133.27" r="1.74" fill="#2a2a2a"/><circle cx="1127.05" cy="96.46" r="1.85" fill="#444"/><circle cx="1145.26" cy="166.4" r="1.36" fill="#3a3a3a"/><circle cx="1144.21" cy="88.84" r="1.35" fill="#1c1c1c"/><circle cx="1184.58" cy="140.11" r="1.74" fill="#444"/><circle cx="1137.21" cy="87.83" r="1.38" fill="#1c1c1c"/><circle cx="1114.85" cy="92.42" r="1.29" fill="#262626"/><circle cx="1125.41" cy="106.45" r="1.6" fill="#303030"/><circle cx="1205.37" cy="103.39" r="1.51" fill="#1c1c1c"/><circle cx="1136.16" cy="82.02" r="1.74" fill="#1c1c1c"/><circle cx="1101.42" cy="115.77" r="1.54" fill="#262626"/><circle cx="1090.76" cy="92.5" r="1.68" fill="#3a3a3a"/><circle cx="1151.14" cy="123.11" r="1.35" fill="#3a3a3a"/><circle cx="1170.07" cy="171.84" r="1.62" fill="#3a3a3a"/><circle cx="1105.21" cy="68.45" r="1.72" fill="#2a2a2a"/><circle cx="1135.61" cy="110.1" r="1.87" fill="#444"/><circle cx="1170.73" cy="118.78" r="1.24" fill="#1c1c1c"/><circle cx="1210.04" cy="63.77" r="1.88" fill="#303030"/><circle cx="1097.6" cy="112.87" r="1.4" fill="#303030"/><circle cx="1113.63" cy="158.51" r="1.46" fill="#3a3a3a"/><circle cx="1136.21" cy="141.39" r="1.29" fill="#303030"/><circle cx="1171.37" cy="73.71" r="1.57" fill="#303030"/><circle cx="1129.14" cy="105.38" r="1.62" fill="#3a3a3a"/><circle cx="1153.17" cy="89.59" r="1.69" fill="#2a2a2a"/><circle cx="1155.23" cy="147.62" r="1.43" fill="#1c1c1c"/><circle cx="1118.22" cy="138.61" r="1.67" fill="#1c1c1c"/><circle cx="1141.9" cy="68.54" r="1.41" fill="#3a3a3a"/><circle cx="1190.55" cy="127.05" r="1.52" fill="#2a2a2a"/><circle cx="1148.42" cy="114.58" r="1.54" fill="#3a3a3a"/><circle cx="1163.51" cy="65.16" r="1.72" fill="#303030"/><circle cx="1178.63" cy="95.79" r="1.26" fill="#1c1c1c"/><circle cx="1137.52" cy="91.78" r="1.47" fill="#262626"/><circle cx="1207.28" cy="79.05" r="1.57" fill="#262626"/><circle cx="1151.92" cy="142.45" r="1.32" fill="#444"/><circle cx="1182.96" cy="108.97" r="1.77" fill="#1c1c1c"/><circle cx="1180.61" cy="132.87" r="1.57" fill="#303030"/><circle cx="1182.03" cy="158.57" r="1.55" fill="#444"/><circle cx="1120.2" cy="136.07" r="1.54" fill="#262626"/><circle cx="1123.81" cy="176.85" r="1.36" fill="#444"/><circle cx="1146.47" cy="146.88" r="1.84" fill="#262626"/><circle cx="1108.2" cy="108.81" r="1.27" fill="#303030"/><circle cx="1136.29" cy="139.22" r="1.4" fill="#262626"/><circle cx="1158.49" cy="119.17" r="1.37" fill="#3a3a3a"/><circle cx="1196.95" cy="127.82" r="1.9" fill="#262626"/><circle cx="1144.37" cy="164.71" r="1.52" fill="#303030"/><circle cx="1118.39" cy="124.71" r="1.55" fill="#1c1c1c"/><circle cx="1115.47" cy="134.54" r="1.73" fill="#1c1c1c"/><circle cx="1127.58" cy="116.41" r="1.33" fill="#1c1c1c"/><circle cx="1114.53" cy="162.38" r="1.37" fill="#303030"/><circle cx="1193.7" cy="109" r="1.81" fill="#262626"/><circle cx="1121.3" cy="119.24" r="1.51" fill="#3a3a3a"/><circle cx="1161.52" cy="119.96" r="1.83" fill="#444"/><circle cx="1195.06" cy="152.98" r="1.78" fill="#3a3a3a"/><circle cx="1142.5" cy="127.92" r="1.38" fill="#303030"/><circle cx="1103.89" cy="82.85" r="1.83" fill="#2a2a2a"/><circle cx="1107.82" cy="165.11" r="1.56" fill="#303030"/><circle cx="1147.67" cy="78.1" r="1.34" fill="#262626"/><circle cx="1198.1" cy="139.6" r="1.79" fill="#1c1c1c"/><circle cx="1124.13" cy="142.3" r="1.6" fill="#303030"/><circle cx="1188.99" cy="114.75" r="1.33" fill="#262626"/><circle cx="1204.24" cy="97.97" r="1.44" fill="#303030"/><circle cx="1158.41" cy="113.13" r="1.74" fill="#1c1c1c"/><circle cx="1181.91" cy="112.07" r="1.65" fill="#2a2a2a"/><circle cx="1089.19" cy="121.51" r="1.41" fill="#303030"/><circle cx="1106.04" cy="113.39" r="1.73" fill="#303030"/><circle cx="1157.36" cy="157.31" r="1.74" fill="#303030"/><circle cx="1148.54" cy="64.29" r="1.9" fill="#1c1c1c"/><circle cx="1101.88" cy="65.41" r="1.36" fill="#262626"/><circle cx="1125.1" cy="116.6" r="1.81" fill="#2a2a2a"/><circle cx="1167.33" cy="83.42" r="1.22" fill="#262626"/><circle cx="1186.31" cy="160.7" r="1.82" fill="#2a2a2a"/><circle cx="1126.61" cy="71.31" r="1.31" fill="#2a2a2a"/><circle cx="1129.6" cy="119.48" r="1.77" fill="#303030"/><circle cx="1138.94" cy="82.17" r="1.22" fill="#3a3a3a"/><circle cx="1158.24" cy="141.1" r="1.37" fill="#3a3a3a"/><circle cx="1166.53" cy="100.33" r="1.34" fill="#1c1c1c"/><circle cx="1135.19" cy="111.17" r="1.54" fill="#2a2a2a"/><circle cx="1101.81" cy="82.64" r="1.42" fill="#1c1c1c"/><circle cx="1168.91" cy="73.09" r="1.3" fill="#303030"/><circle cx="1142.57" cy="87.14" r="1.9" fill="#303030"/><circle cx="1140.49" cy="139.32" r="1.62" fill="#262626"/><circle cx="1136.12" cy="111.53" r="1.32" fill="#3a3a3a"/><circle cx="1144.41" cy="120.25" r="1.88" fill="#303030"/><circle cx="1147.87" cy="124.41" r="1.27" fill="#444"/><circle cx="1192.12" cy="125.13" r="1.9" fill="#303030"/><circle cx="1133.78" cy="59.44" r="1.56" fill="#444"/><circle cx="1125.89" cy="94.23" r="1.83" fill="#444"/><circle cx="1122.72" cy="129.88" r="1.43" fill="#303030"/><circle cx="1197.58" cy="112.87" r="1.78" fill="#303030"/><circle cx="1197.48" cy="59.61" r="1.53" fill="#444"/><circle cx="1111.17" cy="84.07" r="1.71" fill="#3a3a3a"/><circle cx="1104.68" cy="149.89" r="1.37" fill="#3a3a3a"/><circle cx="1115.27" cy="121.3" r="1.74" fill="#2a2a2a"/><circle cx="1122.32" cy="119.43" r="1.74" fill="#303030"/><circle cx="1151.86" cy="120.57" r="1.35" fill="#303030"/><circle cx="1122.39" cy="106.44" r="1.29" fill="#1c1c1c"/><circle cx="1127.53" cy="86.09" r="1.72" fill="#303030"/><circle cx="1195.69" cy="150.06" r="1.43" fill="#444"/><circle cx="1106.91" cy="149.08" r="1.58" fill="#2a2a2a"/><circle cx="1151.54" cy="68.81" r="1.31" fill="#2a2a2a"/><circle cx="1130.93" cy="154.41" r="1.36" fill="#303030"/><circle cx="1188.76" cy="88.93" r="1.34" fill="#2a2a2a"/><circle cx="1207.31" cy="127.1" r="1.26" fill="#303030"/><circle cx="1148.57" cy="138.92" r="1.35" fill="#2a2a2a"/><circle cx="1205.11" cy="153.17" r="1.85" fill="#3a3a3a"/><circle cx="1125.18" cy="76.56" r="1.22" fill="#1c1c1c"/><circle cx="1127.04" cy="106.09" r="1.34" fill="#303030"/><circle cx="1191.26" cy="111.71" r="1.43" fill="#1c1c1c"/><circle cx="1212.39" cy="103.82" r="1.81" fill="#2a2a2a"/><circle cx="1111.4" cy="128.82" r="1.72" fill="#262626"/><circle cx="1160.41" cy="173.04" r="1.44" fill="#444"/><circle cx="1157.73" cy="154.84" r="1.44" fill="#444"/><circle cx="1140.61" cy="86.77" r="1.38" fill="#262626"/><circle cx="1173.22" cy="180.08" r="1.82" fill="#303030"/><circle cx="1119.48" cy="71.05" r="1.7" fill="#3a3a3a"/><circle cx="1184.9" cy="103.18" r="1.81" fill="#444"/><circle cx="1105.46" cy="93.13" r="1.61" fill="#2a2a2a"/><circle cx="1125.08" cy="97.29" r="1.62" fill="#262626"/><circle cx="1104.76" cy="88.23" r="1.3" fill="#3a3a3a"/><circle cx="1154.07" cy="127.74" r="1.58" fill="#303030"/><circle cx="1150.78" cy="167.65" r="1.41" fill="#2a2a2a"/><circle cx="1148.1" cy="104.75" r="1.75" fill="#262626"/><circle cx="1131.36" cy="127.22" r="1.7" fill="#1c1c1c"/><circle cx="1166" cy="160.99" r="1.26" fill="#262626"/><circle cx="1154.51" cy="128.52" r="1.41" fill="#303030"/><circle cx="1141.31" cy="125.99" r="1.62" fill="#262626"/><circle cx="1197.82" cy="125.35" r="1.28" fill="#3a3a3a"/><circle cx="1161.67" cy="90.19" r="1.77" fill="#2a2a2a"/><circle cx="1140.68" cy="86.02" r="1.28" fill="#2a2a2a"/><circle cx="1163.15" cy="135.15" r="1.35" fill="#303030"/><circle cx="1144.39" cy="164.39" r="1.64" fill="#2a2a2a"/><circle cx="1113.52" cy="140.71" r="1.88" fill="#303030"/><circle cx="1110.7" cy="61.13" r="1.44" fill="#303030"/><circle cx="1209.04" cy="166.95" r="1.22" fill="#444"/><circle cx="1092.49" cy="127.27" r="1.31" fill="#303030"/><circle cx="1213.55" cy="56.97" r="1.44" fill="#303030"/><circle cx="1156.2" cy="145.74" r="1.46" fill="#1c1c1c"/><circle cx="1122.33" cy="128.58" r="1.82" fill="#444"/><circle cx="1155.38" cy="144.68" r="1.89" fill="#1c1c1c"/><circle cx="1142.04" cy="114.06" r="1.23" fill="#303030"/><circle cx="1141.19" cy="130.97" r="1.58" fill="#1c1c1c"/><circle cx="1179.51" cy="66.05" r="1.67" fill="#3a3a3a"/><circle cx="1102.12" cy="139.44" r="1.79" fill="#1c1c1c"/><circle cx="1167.27" cy="73.08" r="1.29" fill="#1c1c1c"/><circle cx="1187.82" cy="105.81" r="1.38" fill="#2a2a2a"/><circle cx="1166.79" cy="79.46" r="1.32" fill="#3a3a3a"/><circle cx="1185.19" cy="169.95" r="1.64" fill="#3a3a3a"/><circle cx="1152.19" cy="147.44" r="1.71" fill="#262626"/><circle cx="1143.64" cy="82.38" r="1.88" fill="#444"/><circle cx="1139.78" cy="81.91" r="1.7" fill="#1c1c1c"/><circle cx="1119.91" cy="131.71" r="1.36" fill="#262626"/><circle cx="1176.25" cy="83.8" r="1.67" fill="#3a3a3a"/><circle cx="1131.49" cy="171.34" r="1.35" fill="#2a2a2a"/><circle cx="1188.64" cy="82.98" r="1.31" fill="#262626"/><circle cx="1134.42" cy="170.74" r="1.62" fill="#262626"/><circle cx="1156.35" cy="148.56" r="1.25" fill="#1c1c1c"/><circle cx="1149.2" cy="83.54" r="1.46" fill="#1c1c1c"/><circle cx="1122.14" cy="78.28" r="1.37" fill="#262626"/><circle cx="1148.24" cy="125.75" r="1.22" fill="#262626"/><circle cx="1154.94" cy="130.3" r="1.41" fill="#262626"/><circle cx="1119.05" cy="155.15" r="1.22" fill="#2a2a2a"/><circle cx="1166.37" cy="117.82" r="1.61" fill="#444"/><circle cx="1118.93" cy="155.28" r="1.81" fill="#444"/><circle cx="1183.14" cy="112.88" r="1.76" fill="#3a3a3a"/><circle cx="1205.94" cy="102.1" r="1.27" fill="#2a2a2a"/><circle cx="1187.72" cy="133.33" r="1.26" fill="#1c1c1c"/><circle cx="1101.79" cy="73.89" r="1.66" fill="#3a3a3a"/><circle cx="1118.74" cy="103.51" r="1.46" fill="#3a3a3a"/><circle cx="1163.68" cy="171.61" r="1.35" fill="#303030"/><circle cx="1100.14" cy="95.26" r="1.36" fill="#3a3a3a"/><circle cx="1107.23" cy="147.54" r="1.8" fill="#262626"/><circle cx="1211.65" cy="61.73" r="1.31" fill="#262626"/><circle cx="1155.12" cy="96.23" r="1.33" fill="#262626"/><circle cx="1094.62" cy="60.21" r="1.76" fill="#262626"/><circle cx="1131.52" cy="168.8" r="1.62" fill="#444"/><circle cx="1183.86" cy="126.51" r="1.32" fill="#3a3a3a"/><circle cx="1162.85" cy="125.05" r="1.36" fill="#303030"/><circle cx="1152.75" cy="137.03" r="1.59" fill="#2a2a2a"/><circle cx="1134.73" cy="165.9" r="1.28" fill="#262626"/><circle cx="1107.86" cy="109.42" r="1.82" fill="#1c1c1c"/><circle cx="1118.04" cy="80.55" r="1.31" fill="#1c1c1c"/><circle cx="1126.13" cy="108.37" r="1.83" fill="#2a2a2a"/><circle cx="1124.28" cy="169.25" r="1.28" fill="#444"/><circle cx="1189.44" cy="131.24" r="1.56" fill="#262626"/><circle cx="1105.81" cy="164.8" r="1.79" fill="#3a3a3a"/><circle cx="1120.55" cy="146.17" r="1.23" fill="#2a2a2a"/><circle cx="1098.28" cy="62.6" r="1.86" fill="#303030"/><circle cx="1151.16" cy="61.39" r="1.28" fill="#444"/><circle cx="1209.17" cy="114.5" r="1.71" fill="#303030"/><circle cx="1156.02" cy="64.53" r="1.73" fill="#1c1c1c"/><circle cx="1104.53" cy="71.26" r="1.74" fill="#262626"/><circle cx="1140.01" cy="128.59" r="1.83" fill="#303030"/><circle cx="1106.56" cy="129.02" r="1.3" fill="#262626"/><circle cx="1188.61" cy="116.93" r="1.73" fill="#444"/><circle cx="1173.19" cy="124.12" r="1.79" fill="#1c1c1c"/><circle cx="1138.19" cy="146.14" r="1.74" fill="#262626"/><circle cx="1180.66" cy="107.9" r="1.8" fill="#1c1c1c"/><circle cx="1099.99" cy="71.55" r="1.28" fill="#3a3a3a"/><circle cx="1106.31" cy="125.36" r="1.7" fill="#1c1c1c"/><circle cx="1102.36" cy="104.27" r="1.46" fill="#444"/><circle cx="1149.94" cy="132.67" r="1.25" fill="#303030"/><circle cx="1127.14" cy="84.54" r="1.45" fill="#262626"/><circle cx="1197.79" cy="79.66" r="1.61" fill="#3a3a3a"/><circle cx="1195.5" cy="95.34" r="1.78" fill="#1c1c1c"/><circle cx="1177.89" cy="117.21" r="1.78" fill="#262626"/><circle cx="1097.75" cy="132.21" r="1.71" fill="#3a3a3a"/><circle cx="1191.03" cy="115.14" r="1.43" fill="#1c1c1c"/><circle cx="1165.51" cy="62.06" r="1.36" fill="#1c1c1c"/><circle cx="1134.15" cy="144.2" r="1.4" fill="#1c1c1c"/><circle cx="1148.54" cy="114.65" r="1.89" fill="#1c1c1c"/><circle cx="1170.87" cy="123.43" r="1.31" fill="#2a2a2a"/><circle cx="1192.69" cy="111.87" r="1.25" fill="#3a3a3a"/><circle cx="1147.67" cy="100.24" r="1.35" fill="#3a3a3a"/><circle cx="1176.54" cy="91.18" r="1.69" fill="#2a2a2a"/><circle cx="1171.39" cy="132.28" r="1.8" fill="#3a3a3a"/><circle cx="1153.92" cy="61.28" r="1.82" fill="#444"/><circle cx="1161.11" cy="113.4" r="1.54" fill="#3a3a3a"/><circle cx="1148.58" cy="137.9" r="1.35" fill="#3a3a3a"/><circle cx="1134.59" cy="109.04" r="1.33" fill="#444"/><circle cx="1111.54" cy="97.94" r="1.64" fill="#303030"/><circle cx="1197.96" cy="136.17" r="1.21" fill="#262626"/><circle cx="1103.66" cy="114.83" r="1.41" fill="#2a2a2a"/><circle cx="1106.72" cy="168.38" r="1.87" fill="#444"/><circle cx="1123.43" cy="105.48" r="1.46" fill="#262626"/><circle cx="1153.53" cy="129.42" r="1.74" fill="#444"/><circle cx="1121.67" cy="88.69" r="1.47" fill="#1c1c1c"/><circle cx="1113.91" cy="86.56" r="1.44" fill="#3a3a3a"/><circle cx="1111.75" cy="72.64" r="1.45" fill="#303030"/><circle cx="1178.79" cy="130.93" r="1.37" fill="#444"/><circle cx="1167.74" cy="77.86" r="1.34" fill="#303030"/><circle cx="1160.02" cy="89.21" r="1.71" fill="#1c1c1c"/><circle cx="1174.12" cy="104.91" r="1.57" fill="#3a3a3a"/><circle cx="1120" cy="163.28" r="1.59" fill="#2a2a2a"/><circle cx="1135.4" cy="136.75" r="1.69" fill="#444"/><circle cx="1112.89" cy="144.97" r="1.75" fill="#444"/><circle cx="1157.24" cy="57.06" r="1.72" fill="#3a3a3a"/><circle cx="1192.29" cy="110.68" r="1.37" fill="#2a2a2a"/><circle cx="1139.44" cy="117.51" r="1.28" fill="#262626"/><circle cx="1159.28" cy="91.27" r="1.47" fill="#444"/><circle cx="1184.28" cy="110.43" r="1.76" fill="#303030"/><circle cx="1207.34" cy="92.8" r="1.9" fill="#303030"/><circle cx="1142.06" cy="55.57" r="1.77" fill="#1c1c1c"/><circle cx="1149.55" cy="128.17" r="1.9" fill="#2a2a2a"/><circle cx="1107.01" cy="89.67" r="1.37" fill="#2a2a2a"/><circle cx="1199.87" cy="101.44" r="1.64" fill="#444"/><circle cx="1129.74" cy="127.79" r="1.72" fill="#3a3a3a"/><circle cx="1115.08" cy="164.09" r="1.54" fill="#3a3a3a"/><circle cx="1203.38" cy="66.36" r="1.66" fill="#1c1c1c"/><circle cx="1172.65" cy="90.02" r="1.61" fill="#3a3a3a"/><circle cx="1132.85" cy="162.83" r="1.41" fill="#303030"/><circle cx="1167.76" cy="166.06" r="1.34" fill="#1c1c1c"/><circle cx="1101.88" cy="107.69" r="1.64" fill="#444"/><circle cx="1203.28" cy="166.28" r="1.21" fill="#1c1c1c"/><circle cx="1165.47" cy="148.83" r="1.7" fill="#2a2a2a"/><circle cx="1127.19" cy="83.32" r="1.65" fill="#1c1c1c"/><circle cx="1194.43" cy="91.17" r="1.36" fill="#3a3a3a"/><circle cx="1182.56" cy="73.23" r="1.49" fill="#3a3a3a"/><circle cx="1164.2" cy="166.27" r="1.37" fill="#1c1c1c"/><circle cx="1189.12" cy="92.73" r="1.55" fill="#444"/><circle cx="1092.81" cy="120.83" r="1.22" fill="#262626"/><circle cx="1151.94" cy="150.21" r="1.9" fill="#303030"/><circle cx="1177.04" cy="148.27" r="1.81" fill="#262626"/><circle cx="1116.05" cy="72.6" r="1.47" fill="#3a3a3a"/><circle cx="1145.71" cy="135.33" r="1.57" fill="#303030"/><circle cx="1159.42" cy="161.08" r="1.45" fill="#2a2a2a"/><circle cx="1128.4" cy="100.24" r="1.53" fill="#262626"/><circle cx="1181.61" cy="77.32" r="1.59" fill="#1c1c1c"/><circle cx="1196.65" cy="121.33" r="1.32" fill="#262626"/><circle cx="1150.76" cy="138.67" r="1.4" fill="#3a3a3a"/><circle cx="1168.19" cy="108.32" r="1.35" fill="#2a2a2a"/><circle cx="1158.28" cy="152.38" r="1.5" fill="#3a3a3a"/><circle cx="1126.76" cy="159.85" r="1.21" fill="#1c1c1c"/><circle cx="1119.57" cy="157.92" r="1.85" fill="#2a2a2a"/><circle cx="1205" cy="75.09" r="1.34" fill="#3a3a3a"/><circle cx="1184.62" cy="130.42" r="1.42" fill="#262626"/><circle cx="1156.09" cy="118.35" r="1.47" fill="#303030"/><circle cx="1121.05" cy="94.06" r="1.35" fill="#262626"/><circle cx="1158.41" cy="135.72" r="1.78" fill="#1c1c1c"/><circle cx="1133.74" cy="162.64" r="1.36" fill="#262626"/><circle cx="1160.07" cy="118.19" r="1.51" fill="#303030"/><circle cx="1169.99" cy="54.96" r="1.53" fill="#2a2a2a"/><circle cx="1104.91" cy="58.22" r="1.2" fill="#2a2a2a"/><circle cx="1210.62" cy="181.79" r="1.32" fill="#2a2a2a"/><circle cx="1213.42" cy="117.76" r="1.04" fill="#2a2a2a"/><circle cx="1171.13" cy="177.83" r="1.57" fill="#2a2a2a"/><circle cx="1087.08" cy="101.7" r="1.53" fill="#2a2a2a"/><circle cx="1146.4" cy="180.93" r="1.32" fill="#2a2a2a"/><circle cx="1143.1" cy="58.33" r="1.01" fill="#2a2a2a"/><circle cx="1093.36" cy="113.87" r="1.27" fill="#2a2a2a"/><circle cx="1091" cy="156.95" r="1.46" fill="#2a2a2a"/><circle cx="1212.64" cy="95.49" r="1.57" fill="#2a2a2a"/><circle cx="1182.98" cy="57.23" r="1.15" fill="#2a2a2a"/><circle cx="1090.54" cy="59.58" r="1.33" fill="#2a2a2a"/><circle cx="1201.8" cy="57.78" r="1.26" fill="#2a2a2a"/><circle cx="1196.01" cy="54.9" r="1.39" fill="#2a2a2a"/><circle cx="1110.69" cy="177.3" r="1.16" fill="#2a2a2a"/><circle cx="1177.18" cy="60.55" r="1.37" fill="#2a2a2a"/><circle cx="1125.3" cy="54.88" r="1.41" fill="#2a2a2a"/><circle cx="1089.48" cy="81.17" r="1.46" fill="#2a2a2a"/><circle cx="1089.83" cy="174.71" r="1.47" fill="#2a2a2a"/><circle cx="1156.93" cy="53.35" r="1.14" fill="#2a2a2a"/><circle cx="1212.35" cy="155.83" r="1.47" fill="#2a2a2a"/><circle cx="1160.86" cy="58.91" r="1.47" fill="#2a2a2a"/><circle cx="1116" cy="55.94" r="1.26" fill="#2a2a2a"/><circle cx="1214.67" cy="145.83" r="1.19" fill="#2a2a2a"/><circle cx="1207.4" cy="180.13" r="1.41" fill="#2a2a2a"/><circle cx="1138.33" cy="180.85" r="1.2" fill="#2a2a2a"/><circle cx="1139.33" cy="181.89" r="1.31" fill="#2a2a2a"/><circle cx="1168.67" cy="58.53" r="1.29" fill="#2a2a2a"/><circle cx="1212.94" cy="149.58" r="1.21" fill="#2a2a2a"/><circle cx="1126.55" cy="56.44" r="1.49" fill="#2a2a2a"/><circle cx="1161.91" cy="59.31" r="1" fill="#2a2a2a"/><circle cx="1090.71" cy="125.56" r="1.07" fill="#2a2a2a"/><circle cx="1213.89" cy="123.73" r="1.17" fill="#2a2a2a"/><circle cx="1197.48" cy="181.61" r="1.2" fill="#2a2a2a"/><circle cx="1209.83" cy="164.67" r="1.41" fill="#2a2a2a"/><circle cx="1194.46" cy="53.3" r="1.31" fill="#2a2a2a"/><circle cx="1089.05" cy="170.94" r="1.07" fill="#2a2a2a"/><circle cx="1139.23" cy="180.13" r="1.41" fill="#2a2a2a"/><circle cx="1092.02" cy="137.87" r="1.42" fill="#2a2a2a"/><circle cx="1212.35" cy="148.72" r="1.19" fill="#2a2a2a"/><circle cx="1166.33" cy="178.74" r="1.24" fill="#2a2a2a"/><circle cx="1205.83" cy="182.1" r="1.34" fill="#2a2a2a"/><circle cx="1115.61" cy="59.3" r="1.38" fill="#2a2a2a"/><circle cx="1131.14" cy="177.2" r="1.36" fill="#2a2a2a"/><circle cx="1087.36" cy="163.11" r="1.26" fill="#2a2a2a"/><circle cx="1214.67" cy="140.22" r="1.35" fill="#2a2a2a"/><circle cx="1148.07" cy="182.23" r="1.08" fill="#2a2a2a"/><circle cx="1091.32" cy="180.28" r="1.05" fill="#2a2a2a"/><circle cx="1207.03" cy="54.57" r="1.28" fill="#2a2a2a"/><circle cx="1089.13" cy="139.48" r="1.58" fill="#2a2a2a"/><circle cx="1093.1" cy="177.67" r="1.47" fill="#2a2a2a"/><circle cx="1209.12" cy="165" r="1.3" fill="#2a2a2a"/><circle cx="1093.68" cy="112.75" r="1.31" fill="#2a2a2a"/><circle cx="1212.05" cy="124.2" r="1.24" fill="#2a2a2a"/><circle cx="1121.8" cy="57.06" r="1.58" fill="#2a2a2a"/><circle cx="1174.31" cy="59.49" r="1" fill="#2a2a2a"/><circle cx="1211.53" cy="136.41" r="1.55" fill="#2a2a2a"/><circle cx="1209.42" cy="129.43" r="1" fill="#2a2a2a"/><circle cx="1098.25" cy="60.37" r="1.51" fill="#2a2a2a"/><circle cx="1096.35" cy="179.63" r="3.08" fill="#c8161a"/><circle cx="1098.8" cy="181.5" r="2.16" fill="#f4f4f4" stroke="#bbb" stroke-width="0.3"/><circle cx="1095.42" cy="178.55" r="1.08" fill="#e64040" opacity="0.7"/><circle cx="1109.31" cy="149.93" r="2.88" fill="#c8161a"/><circle cx="1110.01" cy="147.14" r="2.01" fill="#f4f4f4" stroke="#bbb" stroke-width="0.3"/><circle cx="1106.43" cy="149.88" r="2.01" fill="#f4f4f4" stroke="#bbb" stroke-width="0.3"/><circle cx="1108.45" cy="148.93" r="1.01" fill="#e64040" opacity="0.7"/><circle cx="1112.41" cy="172.29" r="3.17" fill="#c8161a"/><circle cx="1111.55" cy="175.35" r="2.22" fill="#f4f4f4" stroke="#bbb" stroke-width="0.3"/><circle cx="1115.58" cy="172.44" r="2.22" fill="#f4f4f4" stroke="#bbb" stroke-width="0.3"/><circle cx="1111.46" cy="171.18" r="1.11" fill="#e64040" opacity="0.7"/><circle cx="1103.94" cy="139.33" r="3.28" fill="#c8161a"/><circle cx="1105.31" cy="142.31" r="2.3" fill="#f4f4f4" stroke="#bbb" stroke-width="0.3"/><circle cx="1102.96" cy="138.18" r="1.15" fill="#e64040" opacity="0.7"/><circle cx="1113.52" cy="142.23" r="2.77" fill="#c8161a"/><circle cx="1115.54" cy="140.34" r="1.94" fill="#f4f4f4" stroke="#bbb" stroke-width="0.3"/><circle cx="1111.22" cy="140.7" r="1.94" fill="#f4f4f4" stroke="#bbb" stroke-width="0.3"/><circle cx="1112.69" cy="141.27" r="0.97" fill="#e64040" opacity="0.7"/><circle cx="1093.36" cy="132.28" r="2.88" fill="#c8161a"/><circle cx="1093.42" cy="129.4" r="2.02" fill="#f4f4f4" stroke="#bbb" stroke-width="0.3"/><circle cx="1090.54" cy="132.87" r="2.02" fill="#f4f4f4" stroke="#bbb" stroke-width="0.3"/><circle cx="1092.5" cy="131.27" r="1.01" fill="#e64040" opacity="0.7"/><circle cx="1096.7" cy="147.72" r="3.1" fill="#c8161a"/><circle cx="1098.65" cy="150.12" r="2.17" fill="#f4f4f4" stroke="#bbb" stroke-width="0.3"/><circle cx="1098.59" cy="145.27" r="2.17" fill="#f4f4f4" stroke="#bbb" stroke-width="0.3"/><circle cx="1095.77" cy="146.63" r="1.08" fill="#e64040" opacity="0.7"/><circle cx="1107.08" cy="160.5" r="2.94" fill="#c8161a"/><circle cx="1109.97" cy="159.97" r="2.05" fill="#f4f4f4" stroke="#bbb" stroke-width="0.3"/><circle cx="1105.91" cy="157.81" r="2.05" fill="#f4f4f4" stroke="#bbb" stroke-width="0.3"/><circle cx="1106.2" cy="159.48" r="1.03" fill="#e64040" opacity="0.7"/><circle cx="1119.08" cy="167.68" r="2.7" fill="#c8161a"/><circle cx="1116.52" cy="168.53" r="1.89" fill="#f4f4f4" stroke="#bbb" stroke-width="0.3"/><circle cx="1118.27" cy="166.73" r="0.95" fill="#e64040" opacity="0.7"/><circle cx="1108.17" cy="135.8" r="2.76" fill="#c8161a"/><circle cx="1109.22" cy="138.34" r="1.93" fill="#f4f4f4" stroke="#bbb" stroke-width="0.3"/><circle cx="1110.41" cy="134.2" r="1.93" fill="#f4f4f4" stroke="#bbb" stroke-width="0.3"/><circle cx="1107.35" cy="134.83" r="0.96" fill="#e64040" opacity="0.7"/><circle cx="1118.24" cy="147.44" r="2.9" fill="#c8161a"/><circle cx="1116.08" cy="145.5" r="2.03" fill="#f4f4f4" stroke="#bbb" stroke-width="0.3"/><circle cx="1117.37" cy="146.42" r="1.02" fill="#e64040" opacity="0.7"/><circle cx="1105.93" cy="154.36" r="3.28" fill="#c8161a"/><circle cx="1107.18" cy="151.32" r="2.3" fill="#f4f4f4" stroke="#bbb" stroke-width="0.3"/><circle cx="1102.69" cy="153.84" r="2.3" fill="#f4f4f4" stroke="#bbb" stroke-width="0.3"/><circle cx="1104.95" cy="153.21" r="1.15" fill="#e64040" opacity="0.7"/><circle cx="1094.43" cy="180.66" r="3.39" fill="#c8161a"/><circle cx="1091.72" cy="182.69" r="2.37" fill="#f4f4f4" stroke="#bbb" stroke-width="0.3"/><circle cx="1097.03" cy="182.84" r="2.37" fill="#f4f4f4" stroke="#bbb" stroke-width="0.3"/><circle cx="1093.41" cy="179.47" r="1.19" fill="#e64040" opacity="0.7"/><circle cx="1097.03" cy="141.15" r="2.75" fill="#c8161a"/><circle cx="1095.86" cy="138.66" r="1.92" fill="#f4f4f4" stroke="#bbb" stroke-width="0.3"/><circle cx="1094.87" cy="142.85" r="1.92" fill="#f4f4f4" stroke="#bbb" stroke-width="0.3"/><circle cx="1096.21" cy="140.19" r="0.96" fill="#e64040" opacity="0.7"/><circle cx="1108.07" cy="158.98" r="2.85" fill="#c8161a"/><circle cx="1105.42" cy="160.02" r="1.99" fill="#f4f4f4" stroke="#bbb" stroke-width="0.3"/><circle cx="1109.68" cy="161.33" r="1.99" fill="#f4f4f4" stroke="#bbb" stroke-width="0.3"/><circle cx="1107.22" cy="157.98" r="1" fill="#e64040" opacity="0.7"/><circle cx="1090.69" cy="138.7" r="3.16" fill="#c8161a"/><circle cx="1092.86" cy="140.99" r="2.21" fill="#f4f4f4" stroke="#bbb" stroke-width="0.3"/><circle cx="1092.43" cy="136.06" r="2.21" fill="#f4f4f4" stroke="#bbb" stroke-width="0.3"/><circle cx="1089.74" cy="137.59" r="1.11" fill="#e64040" opacity="0.7"/><circle cx="1104.55" cy="162.93" r="3.25" fill="#c8161a"/><circle cx="1105.63" cy="165.99" r="2.27" fill="#f4f4f4" stroke="#bbb" stroke-width="0.3"/><circle cx="1103.57" cy="161.79" r="1.14" fill="#e64040" opacity="0.7"/><circle cx="1099.61" cy="167.06" r="2.72" fill="#c8161a"/><circle cx="1099.98" cy="164.37" r="1.9" fill="#f4f4f4" stroke="#bbb" stroke-width="0.3"/><circle cx="1096.9" cy="167.31" r="1.9" fill="#f4f4f4" stroke="#bbb" stroke-width="0.3"/><circle cx="1098.79" cy="166.11" r="0.95" fill="#e64040" opacity="0.7"/><circle cx="1112.25" cy="158.06" r="3.11" fill="#c8161a"/><circle cx="1109.43" cy="159.37" r="2.18" fill="#f4f4f4" stroke="#bbb" stroke-width="0.3"/><circle cx="1114.16" cy="160.52" r="2.18" fill="#f4f4f4" stroke="#bbb" stroke-width="0.3"/><circle cx="1111.32" cy="156.98" r="1.09" fill="#e64040" opacity="0.7"/><circle cx="1095.69" cy="179.1" r="3.01" fill="#c8161a"/><circle cx="1098.11" cy="177.31" r="2.11" fill="#f4f4f4" stroke="#bbb" stroke-width="0.3"/><circle cx="1093.4" cy="177.15" r="2.11" fill="#f4f4f4" stroke="#bbb" stroke-width="0.3"/><circle cx="1094.79" cy="178.05" r="1.05" fill="#e64040" opacity="0.7"/><circle cx="1102.34" cy="158.28" r="3.19" fill="#c8161a"/><circle cx="1099.62" cy="156.62" r="2.23" fill="#f4f4f4" stroke="#bbb" stroke-width="0.3"/><circle cx="1101.35" cy="161.31" r="2.23" fill="#f4f4f4" stroke="#bbb" stroke-width="0.3"/><circle cx="1101.39" cy="157.17" r="1.12" fill="#e64040" opacity="0.7"/><circle cx="1118.31" cy="178.06" r="2.8" fill="#c8161a"/><circle cx="1120.51" cy="176.32" r="1.96" fill="#f4f4f4" stroke="#bbb" stroke-width="0.3"/><circle cx="1116.12" cy="176.31" r="1.96" fill="#f4f4f4" stroke="#bbb" stroke-width="0.3"/><circle cx="1117.47" cy="177.08" r="0.98" fill="#e64040" opacity="0.7"/><circle cx="1103.29" cy="156.33" r="3.4" fill="#c8161a"/><circle cx="1102.27" cy="155.14" r="1.19" fill="#e64040" opacity="0.7"/><circle cx="1093.53" cy="149.95" r="3.22" fill="#c8161a"/><circle cx="1094.56" cy="153" r="2.26" fill="#f4f4f4" stroke="#bbb" stroke-width="0.3"/><circle cx="1096.27" cy="148.25" r="2.26" fill="#f4f4f4" stroke="#bbb" stroke-width="0.3"/><circle cx="1092.57" cy="148.82" r="1.13" fill="#e64040" opacity="0.7"/><circle cx="1094.59" cy="174.66" r="3.01" fill="#c8161a"/><circle cx="1097.59" cy="174.88" r="2.11" fill="#f4f4f4" stroke="#bbb" stroke-width="0.3"/><circle cx="1093.69" cy="173.61" r="1.05" fill="#e64040" opacity="0.7"/><circle cx="1109.4" cy="148.63" r="2.93" fill="#c8161a"/><circle cx="1112.04" cy="149.89" r="2.05" fill="#f4f4f4" stroke="#bbb" stroke-width="0.3"/><circle cx="1108.52" cy="147.6" r="1.03" fill="#e64040" opacity="0.7"/><circle cx="1106.72" cy="122.68" r="2.96" fill="#c8161a"/><circle cx="1106.97" cy="125.63" r="2.07" fill="#f4f4f4" stroke="#bbb" stroke-width="0.3"/><circle cx="1105.83" cy="121.64" r="1.04" fill="#e64040" opacity="0.7"/><circle cx="1098.63" cy="109.43" r="2.62" fill="#c8161a"/><circle cx="1098.72" cy="106.81" r="1.83" fill="#f4f4f4" stroke="#bbb" stroke-width="0.3"/><circle cx="1096.06" cy="109.93" r="1.83" fill="#f4f4f4" stroke="#bbb" stroke-width="0.3"/><circle cx="1097.84" cy="108.51" r="0.92" fill="#e64040" opacity="0.7"/><circle cx="1111.68" cy="103.11" r="3.02" fill="#c8161a"/><circle cx="1108.88" cy="104.24" r="2.11" fill="#f4f4f4" stroke="#bbb" stroke-width="0.3"/><circle cx="1113.42" cy="105.57" r="2.11" fill="#f4f4f4" stroke="#bbb" stroke-width="0.3"/><circle cx="1110.77" cy="102.05" r="1.06" fill="#e64040" opacity="0.7"/><circle cx="1090.89" cy="133.5" r="2.54" fill="#c8161a"/><circle cx="1088.68" cy="134.76" r="1.78" fill="#f4f4f4" stroke="#bbb" stroke-width="0.3"/><circle cx="1090.12" cy="132.61" r="0.89" fill="#e64040" opacity="0.7"/><circle cx="1096.08" cy="116.49" r="2.76" fill="#c8161a"/><circle cx="1096.51" cy="113.76" r="1.94" fill="#f4f4f4" stroke="#bbb" stroke-width="0.3"/><circle cx="1093.32" cy="116.69" r="1.94" fill="#f4f4f4" stroke="#bbb" stroke-width="0.3"/><circle cx="1095.25" cy="115.52" r="0.97" fill="#e64040" opacity="0.7"/><circle cx="1092.46" cy="127.99" r="2.54" fill="#c8161a"/><circle cx="1095" cy="128.14" r="1.78" fill="#f4f4f4" stroke="#bbb" stroke-width="0.3"/><circle cx="1091.7" cy="127.1" r="0.89" fill="#e64040" opacity="0.7"/><circle cx="1095.06" cy="117.09" r="2.92" fill="#c8161a"/><circle cx="1092.36" cy="118.19" r="2.04" fill="#f4f4f4" stroke="#bbb" stroke-width="0.3"/><circle cx="1096.74" cy="119.48" r="2.04" fill="#f4f4f4" stroke="#bbb" stroke-width="0.3"/><circle cx="1094.19" cy="116.07" r="1.02" fill="#e64040" opacity="0.7"/><circle cx="1100.6" cy="102.2" r="3.01" fill="#c8161a"/><circle cx="1103.5" cy="102.99" r="2.11" fill="#f4f4f4" stroke="#bbb" stroke-width="0.3"/><circle cx="1100.71" cy="99.19" r="2.11" fill="#f4f4f4" stroke="#bbb" stroke-width="0.3"/><circle cx="1099.69" cy="101.14" r="1.05" fill="#e64040" opacity="0.7"/><circle cx="1103.61" cy="130.07" r="2.52" fill="#c8161a"/><circle cx="1101.57" cy="131.54" r="1.76" fill="#f4f4f4" stroke="#bbb" stroke-width="0.3"/><circle cx="1105.51" cy="131.73" r="1.76" fill="#f4f4f4" stroke="#bbb" stroke-width="0.3"/><circle cx="1102.86" cy="129.19" r="0.88" fill="#e64040" opacity="0.7"/><circle cx="1098" cy="125.92" r="2.81" fill="#c8161a"/><circle cx="1096.83" cy="123.37" r="1.97" fill="#f4f4f4" stroke="#bbb" stroke-width="0.3"/><circle cx="1095.78" cy="127.64" r="1.97" fill="#f4f4f4" stroke="#bbb" stroke-width="0.3"/><circle cx="1097.16" cy="124.94" r="0.98" fill="#e64040" opacity="0.7"/><circle cx="1209.87" cy="149.46" r="2.41" fill="#c8161a"/><circle cx="1209.09" cy="151.74" r="1.69" fill="#f4f4f4" stroke="#bbb" stroke-width="0.3"/><circle cx="1212.27" cy="149.69" r="1.69" fill="#f4f4f4" stroke="#bbb" stroke-width="0.3"/><circle cx="1209.14" cy="148.62" r="0.84" fill="#e64040" opacity="0.7"/><circle cx="1189.54" cy="120.54" r="2.75" fill="#c8161a"/><circle cx="1190.36" cy="123.16" r="1.93" fill="#f4f4f4" stroke="#bbb" stroke-width="0.3"/><circle cx="1188.72" cy="119.57" r="0.96" fill="#e64040" opacity="0.7"/><circle cx="1202.55" cy="113.53" r="2.6" fill="#c8161a"/><circle cx="1200.54" cy="111.89" r="1.82" fill="#f4f4f4" stroke="#bbb" stroke-width="0.3"/><circle cx="1201.77" cy="112.62" r="0.91" fill="#e64040" opacity="0.7"/><circle cx="1209.61" cy="126.45" r="2.85" fill="#c8161a"/><circle cx="1210.69" cy="129.08" r="1.99" fill="#f4f4f4" stroke="#bbb" stroke-width="0.3"/><circle cx="1208.75" cy="125.45" r="1" fill="#e64040" opacity="0.7"/><circle cx="1205.97" cy="160.39" r="2.7" fill="#c8161a"/><circle cx="1207.97" cy="158.58" r="1.89" fill="#f4f4f4" stroke="#bbb" stroke-width="0.3"/><circle cx="1203.75" cy="158.85" r="1.89" fill="#f4f4f4" stroke="#bbb" stroke-width="0.3"/><circle cx="1205.16" cy="159.44" r="0.95" fill="#e64040" opacity="0.7"/><circle cx="1197.32" cy="143.56" r="2.84" fill="#c8161a"/><circle cx="1194.78" cy="142.29" r="1.99" fill="#f4f4f4" stroke="#bbb" stroke-width="0.3"/><circle cx="1196.66" cy="146.32" r="1.99" fill="#f4f4f4" stroke="#bbb" stroke-width="0.3"/><circle cx="1196.47" cy="142.56" r="0.99" fill="#e64040" opacity="0.7"/><circle cx="1213.83" cy="142.32" r="2.77" fill="#c8161a"/><circle cx="1211.12" cy="142.87" r="1.94" fill="#f4f4f4" stroke="#bbb" stroke-width="0.3"/><circle cx="1213" cy="141.35" r="0.97" fill="#e64040" opacity="0.7"/><circle cx="1205.73" cy="138.52" r="2.47" fill="#c8161a"/><circle cx="1204.18" cy="140.44" r="1.73" fill="#f4f4f4" stroke="#bbb" stroke-width="0.3"/><circle cx="1207.95" cy="139.6" r="1.73" fill="#f4f4f4" stroke="#bbb" stroke-width="0.3"/><circle cx="1204.99" cy="137.66" r="0.86" fill="#e64040" opacity="0.7"/><circle cx="1213" cy="102.75" r="2.49" fill="#c8161a"/><circle cx="1210.55" cy="103.24" r="1.75" fill="#f4f4f4" stroke="#bbb" stroke-width="0.3"/><circle cx="1214.03" cy="105.02" r="1.75" fill="#f4f4f4" stroke="#bbb" stroke-width="0.3"/><circle cx="1212.25" cy="101.88" r="0.87" fill="#e64040" opacity="0.7"/><circle cx="1195.55" cy="104.07" r="2.45" fill="#c8161a"/><circle cx="1193.33" cy="103.01" r="1.72" fill="#f4f4f4" stroke="#bbb" stroke-width="0.3"/><circle cx="1195.02" cy="106.46" r="1.72" fill="#f4f4f4" stroke="#bbb" stroke-width="0.3"/><circle cx="1194.81" cy="103.21" r="0.86" fill="#e64040" opacity="0.7"/><circle cx="1191.05" cy="138.57" r="2.79" fill="#c8161a"/><circle cx="1193.83" cy="138.79" r="1.96" fill="#f4f4f4" stroke="#bbb" stroke-width="0.3"/><circle cx="1190.63" cy="135.81" r="1.96" fill="#f4f4f4" stroke="#bbb" stroke-width="0.3"/><circle cx="1190.21" cy="137.59" r="0.98" fill="#e64040" opacity="0.7"/><circle cx="1206.57" cy="168.79" r="2.76" fill="#c8161a"/><circle cx="1203.81" cy="168.79" r="1.93" fill="#f4f4f4" stroke="#bbb" stroke-width="0.3"/><circle cx="1207.2" cy="171.49" r="1.93" fill="#f4f4f4" stroke="#bbb" stroke-width="0.3"/><circle cx="1205.74" cy="167.83" r="0.97" fill="#e64040" opacity="0.7"/><circle cx="1198.06" cy="125.35" r="2.58" fill="#c8161a"/><circle cx="1196.75" cy="123.13" r="1.81" fill="#f4f4f4" stroke="#bbb" stroke-width="0.3"/><circle cx="1196.2" cy="127.13" r="1.81" fill="#f4f4f4" stroke="#bbb" stroke-width="0.3"/><circle cx="1197.29" cy="124.44" r="0.9" fill="#e64040" opacity="0.7"/><circle cx="1193.5" cy="139.49" r="2.68" fill="#c8161a"/><circle cx="1195.85" cy="140.77" r="1.87" fill="#f4f4f4" stroke="#bbb" stroke-width="0.3"/><circle cx="1194.2" cy="136.91" r="1.87" fill="#f4f4f4" stroke="#bbb" stroke-width="0.3"/><circle cx="1192.69" cy="138.56" r="0.94" fill="#e64040" opacity="0.7"/><circle cx="1197.82" cy="153.56" r="2.48" fill="#c8161a"/><circle cx="1200.11" cy="152.61" r="1.74" fill="#f4f4f4" stroke="#bbb" stroke-width="0.3"/><circle cx="1197.07" cy="152.69" r="0.87" fill="#e64040" opacity="0.7"/><circle cx="1205.73" cy="165.74" r="2.45" fill="#c8161a"/><circle cx="1207.73" cy="167.16" r="1.72" fill="#f4f4f4" stroke="#bbb" stroke-width="0.3"/><circle cx="1206.65" cy="163.47" r="1.72" fill="#f4f4f4" stroke="#bbb" stroke-width="0.3"/><circle cx="1204.99" cy="164.88" r="0.86" fill="#e64040" opacity="0.7"/><circle cx="1210.78" cy="153.98" r="2.74" fill="#c8161a"/><circle cx="1213.42" cy="153.23" r="1.92" fill="#f4f4f4" stroke="#bbb" stroke-width="0.3"/><circle cx="1209.45" cy="151.58" r="1.92" fill="#f4f4f4" stroke="#bbb" stroke-width="0.3"/><circle cx="1209.96" cy="153.02" r="0.96" fill="#e64040" opacity="0.7"/><circle cx="1202.68" cy="111.21" r="2.61" fill="#c8161a"/><circle cx="1203.88" cy="108.9" r="1.82" fill="#f4f4f4" stroke="#bbb" stroke-width="0.3"/><circle cx="1200.15" cy="110.56" r="1.82" fill="#f4f4f4" stroke="#bbb" stroke-width="0.3"/><circle cx="1201.9" cy="110.3" r="0.91" fill="#e64040" opacity="0.7"/><circle cx="1189.45" cy="125.04" r="2.77" fill="#c8161a"/><circle cx="1186.69" cy="125.21" r="1.94" fill="#f4f4f4" stroke="#bbb" stroke-width="0.3"/><circle cx="1190.24" cy="127.69" r="1.94" fill="#f4f4f4" stroke="#bbb" stroke-width="0.3"/><circle cx="1188.62" cy="124.07" r="0.97" fill="#e64040" opacity="0.7"/><circle cx="1212.12" cy="138.9" r="2.81" fill="#c8161a"/><circle cx="1214.83" cy="138.15" r="1.97" fill="#f4f4f4" stroke="#bbb" stroke-width="0.3"/><circle cx="1210.77" cy="136.44" r="1.97" fill="#f4f4f4" stroke="#bbb" stroke-width="0.3"/><circle cx="1211.28" cy="137.92" r="0.98" fill="#e64040" opacity="0.7"/><circle cx="1190.29" cy="156.49" r="2.82" fill="#c8161a"/><circle cx="1192.93" cy="157.49" r="1.97" fill="#f4f4f4" stroke="#bbb" stroke-width="0.3"/><circle cx="1190.66" cy="153.7" r="1.97" fill="#f4f4f4" stroke="#bbb" stroke-width="0.3"/><circle cx="1189.44" cy="155.5" r="0.99" fill="#e64040" opacity="0.7"/><circle cx="1194.24" cy="116.41" r="2.9" fill="#c8161a"/><circle cx="1196.95" cy="115.37" r="2.03" fill="#f4f4f4" stroke="#bbb" stroke-width="0.3"/><circle cx="1192.61" cy="114" r="2.03" fill="#f4f4f4" stroke="#bbb" stroke-width="0.3"/><circle cx="1193.37" cy="115.39" r="1.01" fill="#e64040" opacity="0.7"/><circle cx="1195.32" cy="162.36" r="2.85" fill="#c8161a"/><circle cx="1192.54" cy="162.96" r="1.99" fill="#f4f4f4" stroke="#bbb" stroke-width="0.3"/><circle cx="1194.47" cy="161.36" r="1" fill="#e64040" opacity="0.7"/><circle cx="1205.48" cy="107.14" r="2.46" fill="#c8161a"/><circle cx="1207.61" cy="105.92" r="1.72" fill="#f4f4f4" stroke="#bbb" stroke-width="0.3"/><circle cx="1204.74" cy="106.28" r="0.86" fill="#e64040" opacity="0.7"/><circle cx="1119.01" cy="102.05" r="2.42" fill="#c8161a"/><circle cx="1119.91" cy="99.81" r="1.69" fill="#f4f4f4" stroke="#bbb" stroke-width="0.3"/><circle cx="1116.62" cy="101.69" r="1.69" fill="#f4f4f4" stroke="#bbb" stroke-width="0.3"/><circle cx="1118.28" cy="101.21" r="0.85" fill="#e64040" opacity="0.7"/><circle cx="1140.94" cy="101.9" r="2.35" fill="#c8161a"/><circle cx="1142.7" cy="103.45" r="1.64" fill="#f4f4f4" stroke="#bbb" stroke-width="0.3"/><circle cx="1142.06" cy="99.83" r="1.64" fill="#f4f4f4" stroke="#bbb" stroke-width="0.3"/><circle cx="1140.24" cy="101.08" r="0.82" fill="#e64040" opacity="0.7"/><circle cx="1144.62" cy="113.26" r="2.38" fill="#c8161a"/><circle cx="1142.54" cy="114.42" r="1.67" fill="#f4f4f4" stroke="#bbb" stroke-width="0.3"/><circle cx="1146.23" cy="115.01" r="1.67" fill="#f4f4f4" stroke="#bbb" stroke-width="0.3"/><circle cx="1143.91" cy="112.42" r="0.83" fill="#e64040" opacity="0.7"/><circle cx="1128.08" cy="92.3" r="2.48" fill="#c8161a"/><circle cx="1130.43" cy="91.53" r="1.73" fill="#f4f4f4" stroke="#bbb" stroke-width="0.3"/><circle cx="1126.79" cy="90.19" r="1.73" fill="#f4f4f4" stroke="#bbb" stroke-width="0.3"/><circle cx="1127.34" cy="91.43" r="0.87" fill="#e64040" opacity="0.7"/><circle cx="1145.28" cy="109.99" r="2.64" fill="#c8161a"/><circle cx="1143.44" cy="111.88" r="1.85" fill="#f4f4f4" stroke="#bbb" stroke-width="0.3"/><circle cx="1144.49" cy="109.06" r="0.92" fill="#e64040" opacity="0.7"/><circle cx="1121.84" cy="115.96" r="2.65" fill="#c8161a"/><circle cx="1119.26" cy="116.6" r="1.86" fill="#f4f4f4" stroke="#bbb" stroke-width="0.3"/><circle cx="1123.04" cy="118.33" r="1.86" fill="#f4f4f4" stroke="#bbb" stroke-width="0.3"/><circle cx="1121.05" cy="115.04" r="0.93" fill="#e64040" opacity="0.7"/><circle cx="1125.16" cy="98.35" r="2.62" fill="#c8161a"/><circle cx="1124.37" cy="97.44" r="0.92" fill="#e64040" opacity="0.7"/><circle cx="1128.04" cy="100.47" r="2.27" fill="#c8161a"/><circle cx="1130.24" cy="99.88" r="1.59" fill="#f4f4f4" stroke="#bbb" stroke-width="0.3"/><circle cx="1126.97" cy="98.47" r="1.59" fill="#f4f4f4" stroke="#bbb" stroke-width="0.3"/><circle cx="1127.36" cy="99.68" r="0.8" fill="#e64040" opacity="0.7"/><circle cx="1122.78" cy="102.1" r="2.47" fill="#c8161a"/><circle cx="1120.32" cy="102.28" r="1.73" fill="#f4f4f4" stroke="#bbb" stroke-width="0.3"/><circle cx="1123.52" cy="104.45" r="1.73" fill="#f4f4f4" stroke="#bbb" stroke-width="0.3"/><circle cx="1122.04" cy="101.23" r="0.86" fill="#e64040" opacity="0.7"/><circle cx="1123.68" cy="111.63" r="2.24" fill="#c8161a"/><circle cx="1125.01" cy="109.83" r="1.57" fill="#f4f4f4" stroke="#bbb" stroke-width="0.3"/><circle cx="1121.62" cy="110.74" r="1.57" fill="#f4f4f4" stroke="#bbb" stroke-width="0.3"/><circle cx="1123" cy="110.85" r="0.78" fill="#e64040" opacity="0.7"/><circle cx="1133.88" cy="103.84" r="2.53" fill="#c8161a"/><circle cx="1135.23" cy="105.98" r="1.77" fill="#f4f4f4" stroke="#bbb" stroke-width="0.3"/><circle cx="1135.65" cy="102.04" r="1.77" fill="#f4f4f4" stroke="#bbb" stroke-width="0.3"/><circle cx="1133.12" cy="102.96" r="0.88" fill="#e64040" opacity="0.7"/><circle cx="1126.37" cy="109.03" r="2.49" fill="#c8161a"/><circle cx="1124.04" cy="109.91" r="1.74" fill="#f4f4f4" stroke="#bbb" stroke-width="0.3"/><circle cx="1127.76" cy="111.1" r="1.74" fill="#f4f4f4" stroke="#bbb" stroke-width="0.3"/><circle cx="1125.63" cy="108.16" r="0.87" fill="#e64040" opacity="0.7"/><circle cx="1145.42" cy="103.23" r="2.68" fill="#c8161a"/><circle cx="1147.43" cy="105.01" r="1.88" fill="#f4f4f4" stroke="#bbb" stroke-width="0.3"/><circle cx="1146.7" cy="100.87" r="1.88" fill="#f4f4f4" stroke="#bbb" stroke-width="0.3"/><circle cx="1144.62" cy="102.29" r="0.94" fill="#e64040" opacity="0.7"/><circle cx="1138.15" cy="97.88" r="2.64" fill="#c8161a"/><circle cx="1135.52" cy="98" r="1.85" fill="#f4f4f4" stroke="#bbb" stroke-width="0.3"/><circle cx="1137.36" cy="96.96" r="0.92" fill="#e64040" opacity="0.7"/><circle cx="1193.15" cy="112.17" r="2.65" fill="#c8161a"/><circle cx="1195.26" cy="110.57" r="1.85" fill="#f4f4f4" stroke="#bbb" stroke-width="0.3"/><circle cx="1191.12" cy="110.48" r="1.85" fill="#f4f4f4" stroke="#bbb" stroke-width="0.3"/><circle cx="1192.36" cy="111.24" r="0.93" fill="#e64040" opacity="0.7"/><circle cx="1206.95" cy="132.67" r="2.67" fill="#c8161a"/><circle cx="1204.43" cy="131.8" r="1.87" fill="#f4f4f4" stroke="#bbb" stroke-width="0.3"/><circle cx="1206.68" cy="135.32" r="1.87" fill="#f4f4f4" stroke="#bbb" stroke-width="0.3"/><circle cx="1206.15" cy="131.74" r="0.93" fill="#e64040" opacity="0.7"/><circle cx="1203.89" cy="111.63" r="2.76" fill="#c8161a"/><circle cx="1201.36" cy="112.74" r="1.93" fill="#f4f4f4" stroke="#bbb" stroke-width="0.3"/><circle cx="1205.54" cy="113.83" r="1.93" fill="#f4f4f4" stroke="#bbb" stroke-width="0.3"/><circle cx="1203.06" cy="110.66" r="0.97" fill="#e64040" opacity="0.7"/><circle cx="1197.12" cy="130.12" r="2.61" fill="#c8161a"/><circle cx="1198.8" cy="128.11" r="1.83" fill="#f4f4f4" stroke="#bbb" stroke-width="0.3"/><circle cx="1196.34" cy="129.2" r="0.91" fill="#e64040" opacity="0.7"/><circle cx="1204.25" cy="123.32" r="2.6" fill="#c8161a"/><circle cx="1206.65" cy="122.33" r="1.82" fill="#f4f4f4" stroke="#bbb" stroke-width="0.3"/><circle cx="1202.74" cy="121.2" r="1.82" fill="#f4f4f4" stroke="#bbb" stroke-width="0.3"/><circle cx="1203.47" cy="122.41" r="0.91" fill="#e64040" opacity="0.7"/><circle cx="1185.46" cy="120.79" r="2.23" fill="#c8161a"/><circle cx="1186.06" cy="118.64" r="1.56" fill="#f4f4f4" stroke="#bbb" stroke-width="0.3"/><circle cx="1183.23" cy="120.68" r="1.56" fill="#f4f4f4" stroke="#bbb" stroke-width="0.3"/><circle cx="1184.79" cy="120" r="0.78" fill="#e64040" opacity="0.7"/><circle cx="1183" cy="129.95" r="2.33" fill="#c8161a"/><circle cx="1182.54" cy="132.24" r="1.63" fill="#f4f4f4" stroke="#bbb" stroke-width="0.3"/><circle cx="1182.3" cy="129.13" r="0.82" fill="#e64040" opacity="0.7"/><circle cx="1199.11" cy="122.43" r="2.7" fill="#c8161a"/><circle cx="1197.85" cy="124.82" r="1.89" fill="#f4f4f4" stroke="#bbb" stroke-width="0.3"/><circle cx="1198.3" cy="121.48" r="0.95" fill="#e64040" opacity="0.7"/><circle cx="1197.99" cy="114.4" r="2.59" fill="#c8161a"/><circle cx="1200.42" cy="115.32" r="1.81" fill="#f4f4f4" stroke="#bbb" stroke-width="0.3"/><circle cx="1198.34" cy="111.83" r="1.81" fill="#f4f4f4" stroke="#bbb" stroke-width="0.3"/><circle cx="1197.22" cy="113.49" r="0.91" fill="#e64040" opacity="0.7"/><circle cx="1190.32" cy="137.4" r="2.73" fill="#c8161a"/><circle cx="1188.86" cy="135.1" r="1.91" fill="#f4f4f4" stroke="#bbb" stroke-width="0.3"/><circle cx="1188.4" cy="139.34" r="1.91" fill="#f4f4f4" stroke="#bbb" stroke-width="0.3"/><circle cx="1189.5" cy="136.45" r="0.95" fill="#e64040" opacity="0.7"/><circle cx="1187.48" cy="112.73" r="2.66" fill="#c8161a"/><circle cx="1184.83" cy="112.53" r="1.86" fill="#f4f4f4" stroke="#bbb" stroke-width="0.3"/><circle cx="1186.68" cy="111.8" r="0.93" fill="#e64040" opacity="0.7"/><circle cx="1198.18" cy="143.48" r="2.75" fill="#c8161a"/><circle cx="1196.37" cy="145.55" r="1.92" fill="#f4f4f4" stroke="#bbb" stroke-width="0.3"/><circle cx="1200.61" cy="144.77" r="1.92" fill="#f4f4f4" stroke="#bbb" stroke-width="0.3"/><circle cx="1197.36" cy="142.52" r="0.96" fill="#e64040" opacity="0.7"/><circle cx="1189.12" cy="139.96" r="2.53" fill="#c8161a"/><circle cx="1188.11" cy="137.64" r="1.77" fill="#f4f4f4" stroke="#bbb" stroke-width="0.3"/><circle cx="1187.09" cy="141.47" r="1.77" fill="#f4f4f4" stroke="#bbb" stroke-width="0.3"/><circle cx="1188.36" cy="139.07" r="0.89" fill="#e64040" opacity="0.7"/><circle cx="1201.06" cy="120.61" r="2.29" fill="#c8161a"/><circle cx="1199.85" cy="118.67" r="1.61" fill="#f4f4f4" stroke="#bbb" stroke-width="0.3"/><circle cx="1200.37" cy="119.81" r="0.8" fill="#e64040" opacity="0.7"/><circle cx="1195.15" cy="120.97" r="2.46" fill="#c8161a"/><circle cx="1194.89" cy="123.42" r="1.72" fill="#f4f4f4" stroke="#bbb" stroke-width="0.3"/><circle cx="1197.6" cy="120.67" r="1.72" fill="#f4f4f4" stroke="#bbb" stroke-width="0.3"/><circle cx="1194.42" cy="120.11" r="0.86" fill="#e64040" opacity="0.7"/><circle cx="1190.7" cy="135.26" r="2.49" fill="#c8161a"/><circle cx="1192.96" cy="134.21" r="1.74" fill="#f4f4f4" stroke="#bbb" stroke-width="0.3"/><circle cx="1189.16" cy="133.3" r="1.74" fill="#f4f4f4" stroke="#bbb" stroke-width="0.3"/><circle cx="1189.95" cy="134.39" r="0.87" fill="#e64040" opacity="0.7"/><circle cx="1196" cy="126.61" r="2.63" fill="#c8161a"/><circle cx="1195.16" cy="129.1" r="1.84" fill="#f4f4f4" stroke="#bbb" stroke-width="0.3"/><circle cx="1198.62" cy="126.86" r="1.84" fill="#f4f4f4" stroke="#bbb" stroke-width="0.3"/><circle cx="1195.21" cy="125.69" r="0.92" fill="#e64040" opacity="0.7"/><circle cx="1198.34" cy="141.31" r="2.43" fill="#c8161a"/><circle cx="1197.59" cy="139" r="1.7" fill="#f4f4f4" stroke="#bbb" stroke-width="0.3"/><circle cx="1196.26" cy="142.57" r="1.7" fill="#f4f4f4" stroke="#bbb" stroke-width="0.3"/><circle cx="1197.61" cy="140.46" r="0.85" fill="#e64040" opacity="0.7"/><circle cx="1101.92" cy="78.7" r="2.28" fill="#c8161a"/><circle cx="1104.17" cy="78.3" r="1.6" fill="#f4f4f4" stroke="#bbb" stroke-width="0.3"/><circle cx="1101.01" cy="76.6" r="1.6" fill="#f4f4f4" stroke="#bbb" stroke-width="0.3"/><circle cx="1101.23" cy="77.9" r="0.8" fill="#e64040" opacity="0.7"/><circle cx="1111.93" cy="83.17" r="2.29" fill="#c8161a"/><circle cx="1113.69" cy="81.7" r="1.6" fill="#f4f4f4" stroke="#bbb" stroke-width="0.3"/><circle cx="1110.1" cy="81.79" r="1.6" fill="#f4f4f4" stroke="#bbb" stroke-width="0.3"/><circle cx="1111.25" cy="82.37" r="0.8" fill="#e64040" opacity="0.7"/><circle cx="1164.48" cy="82.15" r="2.67" fill="#c8161a"/><circle cx="1161.81" cy="82.21" r="1.87" fill="#f4f4f4" stroke="#bbb" stroke-width="0.3"/><circle cx="1165.14" cy="84.75" r="1.87" fill="#f4f4f4" stroke="#bbb" stroke-width="0.3"/><circle cx="1163.68" cy="81.22" r="0.94" fill="#e64040" opacity="0.7"/><circle cx="1102.31" cy="70" r="2.62" fill="#c8161a"/><circle cx="1102.42" cy="72.61" r="1.83" fill="#f4f4f4" stroke="#bbb" stroke-width="0.3"/><circle cx="1104.83" cy="69.3" r="1.83" fill="#f4f4f4" stroke="#bbb" stroke-width="0.3"/><circle cx="1101.53" cy="69.08" r="0.92" fill="#e64040" opacity="0.7"/><circle cx="1124.72" cy="74.95" r="2.26" fill="#c8161a"/><circle cx="1124.68" cy="72.69" r="1.58" fill="#f4f4f4" stroke="#bbb" stroke-width="0.3"/><circle cx="1122.53" cy="75.5" r="1.58" fill="#f4f4f4" stroke="#bbb" stroke-width="0.3"/><circle cx="1124.04" cy="74.16" r="0.79" fill="#e64040" opacity="0.7"/><circle cx="1100.87" cy="70.17" r="2.28" fill="#c8161a"/><circle cx="1103.09" cy="69.63" r="1.6" fill="#f4f4f4" stroke="#bbb" stroke-width="0.3"/><circle cx="1099.84" cy="68.13" r="1.6" fill="#f4f4f4" stroke="#bbb" stroke-width="0.3"/><circle cx="1100.18" cy="69.37" r="0.8" fill="#e64040" opacity="0.7"/><circle cx="1206.85" cy="68.22" r="2.66" fill="#c8161a"/><circle cx="1204.19" cy="68.32" r="1.86" fill="#f4f4f4" stroke="#bbb" stroke-width="0.3"/><circle cx="1207.55" cy="70.78" r="1.86" fill="#f4f4f4" stroke="#bbb" stroke-width="0.3"/><circle cx="1206.05" cy="67.28" r="0.93" fill="#e64040" opacity="0.7"/><circle cx="1180.27" cy="72.67" r="2.29" fill="#c8161a"/><circle cx="1179.48" cy="74.82" r="1.6" fill="#f4f4f4" stroke="#bbb" stroke-width="0.3"/><circle cx="1179.58" cy="71.87" r="0.8" fill="#e64040" opacity="0.7"/><circle cx="1152.87" cy="78.09" r="2.37" fill="#c8161a"/><circle cx="1155.21" cy="78.44" r="1.66" fill="#f4f4f4" stroke="#bbb" stroke-width="0.3"/><circle cx="1152.67" cy="75.73" r="1.66" fill="#f4f4f4" stroke="#bbb" stroke-width="0.3"/><circle cx="1152.16" cy="77.26" r="0.83" fill="#e64040" opacity="0.7"/><circle cx="1207.7" cy="65.6" r="2.67" fill="#c8161a"/><circle cx="1207.65" cy="68.27" r="1.87" fill="#f4f4f4" stroke="#bbb" stroke-width="0.3"/><circle cx="1210.31" cy="65.04" r="1.87" fill="#f4f4f4" stroke="#bbb" stroke-width="0.3"/><circle cx="1206.9" cy="64.67" r="0.93" fill="#e64040" opacity="0.7"/><circle cx="1137.4" cy="80.04" r="2.71" fill="#c8161a"/><circle cx="1136.52" cy="82.6" r="1.89" fill="#f4f4f4" stroke="#bbb" stroke-width="0.3"/><circle cx="1140.09" cy="80.31" r="1.89" fill="#f4f4f4" stroke="#bbb" stroke-width="0.3"/><circle cx="1136.58" cy="79.09" r="0.95" fill="#e64040" opacity="0.7"/><circle cx="1177.26" cy="82.02" r="2.62" fill="#c8161a"/><circle cx="1175.61" cy="84.06" r="1.84" fill="#f4f4f4" stroke="#bbb" stroke-width="0.3"/><circle cx="1179.62" cy="83.17" r="1.84" fill="#f4f4f4" stroke="#bbb" stroke-width="0.3"/><circle cx="1176.47" cy="81.11" r="0.92" fill="#e64040" opacity="0.7"/><circle cx="1180.7" cy="75.62" r="2.31" fill="#c8161a"/><circle cx="1182.69" cy="74.46" r="1.61" fill="#f4f4f4" stroke="#bbb" stroke-width="0.3"/><circle cx="1179.12" cy="73.95" r="1.61" fill="#f4f4f4" stroke="#bbb" stroke-width="0.3"/><circle cx="1180.01" cy="74.81" r="0.81" fill="#e64040" opacity="0.7"/><circle cx="1195.93" cy="77.46" r="2.42" fill="#c8161a"/><circle cx="1194.66" cy="79.53" r="1.7" fill="#f4f4f4" stroke="#bbb" stroke-width="0.3"/><circle cx="1195.21" cy="76.61" r="0.85" fill="#e64040" opacity="0.7"/><circle cx="1165.66" cy="71.04" r="2.32" fill="#c8161a"/><circle cx="1163.78" cy="72.4" r="1.63" fill="#f4f4f4" stroke="#bbb" stroke-width="0.3"/><circle cx="1164.97" cy="70.23" r="0.81" fill="#e64040" opacity="0.7"/><circle cx="1125.85" cy="59.09" r="2.71" fill="#c8161a"/><circle cx="1128.49" cy="59.67" r="1.9" fill="#f4f4f4" stroke="#bbb" stroke-width="0.3"/><circle cx="1125.04" cy="58.14" r="0.95" fill="#e64040" opacity="0.7"/><circle cx="1128.93" cy="127.63" r="2.43" fill="#c8161a"/><circle cx="1128.2" cy="126.78" r="0.85" fill="#e64040" opacity="0.7"/><circle cx="1128.16" cy="161.96" r="2.43" fill="#c8161a"/><circle cx="1130.57" cy="162.31" r="1.7" fill="#f4f4f4" stroke="#bbb" stroke-width="0.3"/><circle cx="1127.95" cy="159.54" r="1.7" fill="#f4f4f4" stroke="#bbb" stroke-width="0.3"/><circle cx="1127.43" cy="161.11" r="0.85" fill="#e64040" opacity="0.7"/><circle cx="1117.4" cy="159.49" r="2.64" fill="#c8161a"/><circle cx="1119.99" cy="158.99" r="1.85" fill="#f4f4f4" stroke="#bbb" stroke-width="0.3"/><circle cx="1116.61" cy="158.57" r="0.92" fill="#e64040" opacity="0.7"/><circle cx="1173.01" cy="133.02" r="2.58" fill="#c8161a"/><circle cx="1170.75" cy="131.76" r="1.81" fill="#f4f4f4" stroke="#bbb" stroke-width="0.3"/><circle cx="1172.29" cy="135.5" r="1.81" fill="#f4f4f4" stroke="#bbb" stroke-width="0.3"/><circle cx="1172.23" cy="132.12" r="0.9" fill="#e64040" opacity="0.7"/><circle cx="1186.9" cy="161.49" r="2.29" fill="#c8161a"/><circle cx="1188.56" cy="159.92" r="1.6" fill="#f4f4f4" stroke="#bbb" stroke-width="0.3"/><circle cx="1184.99" cy="160.24" r="1.6" fill="#f4f4f4" stroke="#bbb" stroke-width="0.3"/><circle cx="1186.22" cy="160.69" r="0.8" fill="#e64040" opacity="0.7"/><circle cx="1140.07" cy="164.12" r="2.62" fill="#c8161a"/><circle cx="1138.13" cy="165.89" r="1.84" fill="#f4f4f4" stroke="#bbb" stroke-width="0.3"/><circle cx="1142.23" cy="165.6" r="1.84" fill="#f4f4f4" stroke="#bbb" stroke-width="0.3"/><circle cx="1139.28" cy="163.2" r="0.92" fill="#e64040" opacity="0.7"/><circle cx="1177.57" cy="132.41" r="2.76" fill="#c8161a"/><circle cx="1180.18" cy="133.3" r="1.93" fill="#f4f4f4" stroke="#bbb" stroke-width="0.3"/><circle cx="1176.74" cy="131.44" r="0.96" fill="#e64040" opacity="0.7"/><circle cx="1180.28" cy="161.94" r="2.76" fill="#c8161a"/><circle cx="1178.99" cy="159.5" r="1.93" fill="#f4f4f4" stroke="#bbb" stroke-width="0.3"/><circle cx="1178.2" cy="163.76" r="1.93" fill="#f4f4f4" stroke="#bbb" stroke-width="0.3"/><circle cx="1179.45" cy="160.98" r="0.97" fill="#e64040" opacity="0.7"/><circle cx="1130.48" cy="142.05" r="2.77" fill="#c8161a"/><circle cx="1129.65" cy="141.08" r="0.97" fill="#e64040" opacity="0.7"/><circle cx="1123.38" cy="172.48" r="2.73" fill="#c8161a"/><circle cx="1125.47" cy="174.23" r="1.91" fill="#f4f4f4" stroke="#bbb" stroke-width="0.3"/><circle cx="1122.56" cy="171.53" r="0.95" fill="#e64040" opacity="0.7"/><circle cx="1164.75" cy="173.89" r="2.67" fill="#c8161a"/><circle cx="1163.09" cy="171.79" r="1.87" fill="#f4f4f4" stroke="#bbb" stroke-width="0.3"/><circle cx="1163.08" cy="175.98" r="1.87" fill="#f4f4f4" stroke="#bbb" stroke-width="0.3"/><circle cx="1163.95" cy="172.96" r="0.94" fill="#e64040" opacity="0.7"/><circle cx="1154.18" cy="162.8" r="2.48" fill="#c8161a"/><circle cx="1156.65" cy="162.62" r="1.73" fill="#f4f4f4" stroke="#bbb" stroke-width="0.3"/><circle cx="1153.45" cy="160.43" r="1.73" fill="#f4f4f4" stroke="#bbb" stroke-width="0.3"/><circle cx="1153.44" cy="161.93" r="0.87" fill="#e64040" opacity="0.7"/><circle cx="1160.77" cy="159" r="2.67" fill="#c8161a"/><circle cx="1160.28" cy="156.37" r="1.87" fill="#f4f4f4" stroke="#bbb" stroke-width="0.3"/><circle cx="1158.33" cy="160.07" r="1.87" fill="#f4f4f4" stroke="#bbb" stroke-width="0.3"/><circle cx="1159.97" cy="158.06" r="0.93" fill="#e64040" opacity="0.7"/><circle cx="1127.2" cy="163.45" r="2.65" fill="#c8161a"/><circle cx="1127" cy="160.81" r="1.85" fill="#f4f4f4" stroke="#bbb" stroke-width="0.3"/><circle cx="1124.67" cy="164.24" r="1.85" fill="#f4f4f4" stroke="#bbb" stroke-width="0.3"/><circle cx="1126.4" cy="162.52" r="0.93" fill="#e64040" opacity="0.7"/><circle cx="1136.36" cy="177.33" r="2.53" fill="#c8161a"/><circle cx="1138.86" cy="177.72" r="1.77" fill="#f4f4f4" stroke="#bbb" stroke-width="0.3"/><circle cx="1136.17" cy="174.81" r="1.77" fill="#f4f4f4" stroke="#bbb" stroke-width="0.3"/><circle cx="1135.6" cy="176.45" r="0.89" fill="#e64040" opacity="0.7"/><circle cx="1154.79" cy="167.05" r="2.76" fill="#c8161a"/><circle cx="1157.52" cy="167.46" r="1.93" fill="#f4f4f4" stroke="#bbb" stroke-width="0.3"/><circle cx="1154.57" cy="164.29" r="1.93" fill="#f4f4f4" stroke="#bbb" stroke-width="0.3"/><circle cx="1153.96" cy="166.08" r="0.97" fill="#e64040" opacity="0.7"/><circle cx="1161" cy="134.48" r="2.45" fill="#c8161a"/><circle cx="1163.24" cy="135.48" r="1.72" fill="#f4f4f4" stroke="#bbb" stroke-width="0.3"/><circle cx="1160.27" cy="133.63" r="0.86" fill="#e64040" opacity="0.7"/><circle cx="1178.01" cy="128.92" r="2.41" fill="#c8161a"/><circle cx="1175.63" cy="129.28" r="1.68" fill="#f4f4f4" stroke="#bbb" stroke-width="0.3"/><circle cx="1177.28" cy="128.08" r="0.84" fill="#e64040" opacity="0.7"/><circle cx="1123.66" cy="155.85" r="2.54" fill="#c8161a"/><circle cx="1125.35" cy="153.95" r="1.78" fill="#f4f4f4" stroke="#bbb" stroke-width="0.3"/><circle cx="1121.43" cy="154.63" r="1.78" fill="#f4f4f4" stroke="#bbb" stroke-width="0.3"/><circle cx="1122.9" cy="154.96" r="0.89" fill="#e64040" opacity="0.7"/><circle cx="1136.21" cy="134.84" r="2.62" fill="#c8161a"/><circle cx="1133.81" cy="135.88" r="1.83" fill="#f4f4f4" stroke="#bbb" stroke-width="0.3"/><circle cx="1137.77" cy="136.94" r="1.83" fill="#f4f4f4" stroke="#bbb" stroke-width="0.3"/><circle cx="1135.43" cy="133.92" r="0.92" fill="#e64040" opacity="0.7"/><circle cx="1168.85" cy="155.9" r="2.77" fill="#c8161a"/><circle cx="1166.31" cy="154.82" r="1.94" fill="#f4f4f4" stroke="#bbb" stroke-width="0.3"/><circle cx="1168.38" cy="158.63" r="1.94" fill="#f4f4f4" stroke="#bbb" stroke-width="0.3"/><circle cx="1168.02" cy="154.94" r="0.97" fill="#e64040" opacity="0.7"/><circle cx="1137.77" cy="174.61" r="2.48" fill="#c8161a"/><circle cx="1138.88" cy="176.83" r="1.74" fill="#f4f4f4" stroke="#bbb" stroke-width="0.3"/><circle cx="1139.68" cy="173.03" r="1.74" fill="#f4f4f4" stroke="#bbb" stroke-width="0.3"/><circle cx="1137.03" cy="173.74" r="0.87" fill="#e64040" opacity="0.7"/><circle cx="1165.67" cy="132.35" r="2.54" fill="#c8161a"/><circle cx="1166.81" cy="134.62" r="1.78" fill="#f4f4f4" stroke="#bbb" stroke-width="0.3"/><circle cx="1167.62" cy="130.73" r="1.78" fill="#f4f4f4" stroke="#bbb" stroke-width="0.3"/><circle cx="1164.91" cy="131.46" r="0.89" fill="#e64040" opacity="0.7"/><circle cx="1176.17" cy="167.05" r="2.46" fill="#c8161a"/><circle cx="1175.53" cy="164.68" r="1.72" fill="#f4f4f4" stroke="#bbb" stroke-width="0.3"/><circle cx="1174" cy="168.22" r="1.72" fill="#f4f4f4" stroke="#bbb" stroke-width="0.3"/><circle cx="1175.43" cy="166.19" r="0.86" fill="#e64040" opacity="0.7"/><circle cx="1177.32" cy="141.56" r="2.77" fill="#c8161a"/><circle cx="1180.07" cy="141.97" r="1.94" fill="#f4f4f4" stroke="#bbb" stroke-width="0.3"/><circle cx="1176.49" cy="140.59" r="0.97" fill="#e64040" opacity="0.7"/><circle cx="1142.21" cy="144.51" r="2.36" fill="#c8161a"/><circle cx="1139.89" cy="144.97" r="1.65" fill="#f4f4f4" stroke="#bbb" stroke-width="0.3"/><circle cx="1143.18" cy="146.67" r="1.65" fill="#f4f4f4" stroke="#bbb" stroke-width="0.3"/><circle cx="1141.5" cy="143.69" r="0.83" fill="#e64040" opacity="0.7"/><circle cx="1126.81" cy="141.67" r="2.65" fill="#c8161a"/><circle cx="1126.07" cy="144.22" r="1.86" fill="#f4f4f4" stroke="#bbb" stroke-width="0.3"/><circle cx="1129.46" cy="141.81" r="1.86" fill="#f4f4f4" stroke="#bbb" stroke-width="0.3"/><circle cx="1126.02" cy="140.74" r="0.93" fill="#e64040" opacity="0.7"/><circle cx="1176.18" cy="156.48" r="2.52" fill="#c8161a"/><circle cx="1173.66" cy="156.45" r="1.77" fill="#f4f4f4" stroke="#bbb" stroke-width="0.3"/><circle cx="1176.73" cy="158.94" r="1.77" fill="#f4f4f4" stroke="#bbb" stroke-width="0.3"/><circle cx="1175.43" cy="155.6" r="0.88" fill="#e64040" opacity="0.7"/><circle cx="1141.32" cy="174.61" r="2.79" fill="#c8161a"/><circle cx="1141.69" cy="177.38" r="1.95" fill="#f4f4f4" stroke="#bbb" stroke-width="0.3"/><circle cx="1143.92" cy="173.62" r="1.95" fill="#f4f4f4" stroke="#bbb" stroke-width="0.3"/><circle cx="1140.48" cy="173.64" r="0.98" fill="#e64040" opacity="0.7"/><circle cx="1181.8" cy="171.57" r="2.32" fill="#c8161a"/><circle cx="1183.81" cy="172.74" r="1.63" fill="#f4f4f4" stroke="#bbb" stroke-width="0.3"/><circle cx="1182.48" cy="169.35" r="1.63" fill="#f4f4f4" stroke="#bbb" stroke-width="0.3"/><circle cx="1181.1" cy="170.76" r="0.81" fill="#e64040" opacity="0.7"/><circle cx="1177.39" cy="161.39" r="2.69" fill="#c8161a"/><circle cx="1176.58" cy="160.45" r="0.94" fill="#e64040" opacity="0.7"/><circle cx="1184.34" cy="142.65" r="2.72" fill="#c8161a"/><circle cx="1182.07" cy="144.14" r="1.9" fill="#f4f4f4" stroke="#bbb" stroke-width="0.3"/><circle cx="1186.3" cy="144.53" r="1.9" fill="#f4f4f4" stroke="#bbb" stroke-width="0.3"/><circle cx="1183.52" cy="141.7" r="0.95" fill="#e64040" opacity="0.7"/><circle cx="1153.37" cy="134.48" r="2.79" fill="#c8161a"/><circle cx="1154.32" cy="137.11" r="1.96" fill="#f4f4f4" stroke="#bbb" stroke-width="0.3"/><circle cx="1155.72" cy="132.96" r="1.96" fill="#f4f4f4" stroke="#bbb" stroke-width="0.3"/><circle cx="1152.53" cy="133.5" r="0.98" fill="#e64040" opacity="0.7"/><circle cx="1155.69" cy="142.38" r="2.26" fill="#c8161a"/><circle cx="1157.36" cy="140.85" r="1.58" fill="#f4f4f4" stroke="#bbb" stroke-width="0.3"/><circle cx="1153.83" cy="141.11" r="1.58" fill="#f4f4f4" stroke="#bbb" stroke-width="0.3"/><circle cx="1155.02" cy="141.59" r="0.79" fill="#e64040" opacity="0.7"/><circle cx="1122.77" cy="127.49" r="2.49" fill="#c8161a"/><circle cx="1123.44" cy="125.09" r="1.74" fill="#f4f4f4" stroke="#bbb" stroke-width="0.3"/><circle cx="1120.28" cy="127.38" r="1.74" fill="#f4f4f4" stroke="#bbb" stroke-width="0.3"/><circle cx="1122.02" cy="126.62" r="0.87" fill="#e64040" opacity="0.7"/><circle cx="1135.25" cy="154.95" r="2.6" fill="#c8161a"/><circle cx="1134.2" cy="157.33" r="1.82" fill="#f4f4f4" stroke="#bbb" stroke-width="0.3"/><circle cx="1134.47" cy="154.04" r="0.91" fill="#e64040" opacity="0.7"/><circle cx="1147.32" cy="145.17" r="2.6" fill="#c8161a"/><circle cx="1147.14" cy="147.76" r="1.82" fill="#f4f4f4" stroke="#bbb" stroke-width="0.3"/><circle cx="1146.54" cy="144.26" r="0.91" fill="#e64040" opacity="0.7"/><circle cx="1142.79" cy="177.61" r="2.42" fill="#c8161a"/><circle cx="1142.07" cy="176.77" r="0.85" fill="#e64040" opacity="0.7"/><circle cx="1182.48" cy="127.7" r="2.59" fill="#c8161a"/><circle cx="1182.93" cy="130.25" r="1.81" fill="#f4f4f4" stroke="#bbb" stroke-width="0.3"/><circle cx="1184.86" cy="126.68" r="1.81" fill="#f4f4f4" stroke="#bbb" stroke-width="0.3"/><circle cx="1181.7" cy="126.79" r="0.91" fill="#e64040" opacity="0.7"/><circle cx="1133.5" cy="172.9" r="2.39" fill="#c8161a"/><circle cx="1134.28" cy="170.64" r="1.67" fill="#f4f4f4" stroke="#bbb" stroke-width="0.3"/><circle cx="1132.78" cy="172.06" r="0.84" fill="#e64040" opacity="0.7"/><circle cx="1173.9" cy="80.22" r="2.42" fill="#c8161a"/><circle cx="1173.34" cy="77.87" r="1.69" fill="#f4f4f4" stroke="#bbb" stroke-width="0.3"/><circle cx="1173.18" cy="79.37" r="0.85" fill="#e64040" opacity="0.7"/><circle cx="1190" cy="84.02" r="2.48" fill="#c8161a"/><circle cx="1188.57" cy="82" r="1.74" fill="#f4f4f4" stroke="#bbb" stroke-width="0.3"/><circle cx="1188.36" cy="85.88" r="1.74" fill="#f4f4f4" stroke="#bbb" stroke-width="0.3"/><circle cx="1189.26" cy="83.16" r="0.87" fill="#e64040" opacity="0.7"/><circle cx="1193.62" cy="99.17" r="2.22" fill="#c8161a"/><circle cx="1191.51" cy="98.48" r="1.55" fill="#f4f4f4" stroke="#bbb" stroke-width="0.3"/><circle cx="1193.44" cy="101.38" r="1.55" fill="#f4f4f4" stroke="#bbb" stroke-width="0.3"/><circle cx="1192.96" cy="98.39" r="0.78" fill="#e64040" opacity="0.7"/><circle cx="1148.76" cy="94.5" r="2.05" fill="#c8161a"/><circle cx="1147.87" cy="92.65" r="1.43" fill="#f4f4f4" stroke="#bbb" stroke-width="0.3"/><circle cx="1147.17" cy="95.79" r="1.43" fill="#f4f4f4" stroke="#bbb" stroke-width="0.3"/><circle cx="1148.15" cy="93.78" r="0.72" fill="#e64040" opacity="0.7"/><circle cx="1180.83" cy="86.52" r="2.23" fill="#c8161a"/><circle cx="1182.93" cy="87.27" r="1.56" fill="#f4f4f4" stroke="#bbb" stroke-width="0.3"/><circle cx="1181.08" cy="84.3" r="1.56" fill="#f4f4f4" stroke="#bbb" stroke-width="0.3"/><circle cx="1180.16" cy="85.74" r="0.78" fill="#e64040" opacity="0.7"/><circle cx="1145.48" cy="79.91" r="2.42" fill="#c8161a"/><circle cx="1147.23" cy="81.58" r="1.69" fill="#f4f4f4" stroke="#bbb" stroke-width="0.3"/><circle cx="1146.71" cy="77.83" r="1.69" fill="#f4f4f4" stroke="#bbb" stroke-width="0.3"/><circle cx="1144.75" cy="79.07" r="0.85" fill="#e64040" opacity="0.7"/><circle cx="1159.24" cy="84.87" r="2.02" fill="#c8161a"/><circle cx="1159.27" cy="82.85" r="1.42" fill="#f4f4f4" stroke="#bbb" stroke-width="0.3"/><circle cx="1157.27" cy="85.31" r="1.42" fill="#f4f4f4" stroke="#bbb" stroke-width="0.3"/><circle cx="1158.64" cy="84.16" r="0.71" fill="#e64040" opacity="0.7"/><circle cx="1161.45" cy="91.78" r="2.31" fill="#c8161a"/><circle cx="1159.52" cy="90.52" r="1.62" fill="#f4f4f4" stroke="#bbb" stroke-width="0.3"/><circle cx="1160.66" cy="93.95" r="1.62" fill="#f4f4f4" stroke="#bbb" stroke-width="0.3"/><circle cx="1160.76" cy="90.97" r="0.81" fill="#e64040" opacity="0.7"/><circle cx="1183.32" cy="85.92" r="2.14" fill="#c8161a"/><circle cx="1183.94" cy="87.97" r="1.5" fill="#f4f4f4" stroke="#bbb" stroke-width="0.3"/><circle cx="1185.17" cy="84.85" r="1.5" fill="#f4f4f4" stroke="#bbb" stroke-width="0.3"/><circle cx="1182.68" cy="85.18" r="0.75" fill="#e64040" opacity="0.7"/><circle cx="1184.62" cy="76.28" r="2.38" fill="#c8161a"/><circle cx="1184.5" cy="73.9" r="1.67" fill="#f4f4f4" stroke="#bbb" stroke-width="0.3"/><circle cx="1182.32" cy="76.93" r="1.67" fill="#f4f4f4" stroke="#bbb" stroke-width="0.3"/><circle cx="1183.9" cy="75.44" r="0.83" fill="#e64040" opacity="0.7"/><circle cx="1142.4" cy="105.58" r="2.44" fill="#c8161a"/><circle cx="1140.15" cy="106.53" r="1.71" fill="#f4f4f4" stroke="#bbb" stroke-width="0.3"/><circle cx="1143.83" cy="107.56" r="1.71" fill="#f4f4f4" stroke="#bbb" stroke-width="0.3"/><circle cx="1141.66" cy="104.73" r="0.85" fill="#e64040" opacity="0.7"/><circle cx="1136.37" cy="119.27" r="2.05" fill="#c8161a"/><circle cx="1138.04" cy="118.08" r="1.44" fill="#f4f4f4" stroke="#bbb" stroke-width="0.3"/><circle cx="1134.83" cy="117.91" r="1.44" fill="#f4f4f4" stroke="#bbb" stroke-width="0.3"/><circle cx="1135.75" cy="118.55" r="0.72" fill="#e64040" opacity="0.7"/><circle cx="1174.62" cy="117.68" r="2.29" fill="#c8161a"/><circle cx="1173.76" cy="119.81" r="1.6" fill="#f4f4f4" stroke="#bbb" stroke-width="0.3"/><circle cx="1176.88" cy="118.04" r="1.6" fill="#f4f4f4" stroke="#bbb" stroke-width="0.3"/><circle cx="1173.93" cy="116.88" r="0.8" fill="#e64040" opacity="0.7"/><circle cx="1150.9" cy="111.94" r="2.18" fill="#c8161a"/><circle cx="1152.87" cy="112.87" r="1.53" fill="#f4f4f4" stroke="#bbb" stroke-width="0.3"/><circle cx="1151.35" cy="109.81" r="1.53" fill="#f4f4f4" stroke="#bbb" stroke-width="0.3"/><circle cx="1150.24" cy="111.18" r="0.76" fill="#e64040" opacity="0.7"/><circle cx="1152.44" cy="108.15" r="2.34" fill="#c8161a"/><circle cx="1153.32" cy="110.32" r="1.64" fill="#f4f4f4" stroke="#bbb" stroke-width="0.3"/><circle cx="1154.36" cy="106.8" r="1.64" fill="#f4f4f4" stroke="#bbb" stroke-width="0.3"/><circle cx="1151.74" cy="107.33" r="0.82" fill="#e64040" opacity="0.7"/><circle cx="1176.33" cy="105.69" r="2.47" fill="#c8161a"/><circle cx="1177.57" cy="103.56" r="1.73" fill="#f4f4f4" stroke="#bbb" stroke-width="0.3"/><circle cx="1175.59" cy="104.83" r="0.86" fill="#e64040" opacity="0.7"/><circle cx="1167.09" cy="111.32" r="2.45" fill="#c8161a"/><circle cx="1165.69" cy="109.31" r="1.71" fill="#f4f4f4" stroke="#bbb" stroke-width="0.3"/><circle cx="1165.46" cy="113.14" r="1.71" fill="#f4f4f4" stroke="#bbb" stroke-width="0.3"/><circle cx="1166.36" cy="110.46" r="0.86" fill="#e64040" opacity="0.7"/><circle cx="1174.9" cy="107.98" r="2.05" fill="#c8161a"/><circle cx="1176.94" cy="107.79" r="1.43" fill="#f4f4f4" stroke="#bbb" stroke-width="0.3"/><circle cx="1174.25" cy="106.04" r="1.43" fill="#f4f4f4" stroke="#bbb" stroke-width="0.3"/><circle cx="1174.28" cy="107.26" r="0.72" fill="#e64040" opacity="0.7"/><circle cx="1159.66" cy="115.7" r="2.16" fill="#c8161a"/><circle cx="1161.61" cy="114.78" r="1.51" fill="#f4f4f4" stroke="#bbb" stroke-width="0.3"/><circle cx="1159.01" cy="114.94" r="0.76" fill="#e64040" opacity="0.7"/><circle cx="1178.59" cy="111.6" r="2.47" fill="#c8161a"/><circle cx="1176.13" cy="111.84" r="1.73" fill="#f4f4f4" stroke="#bbb" stroke-width="0.3"/><circle cx="1179.38" cy="113.93" r="1.73" fill="#f4f4f4" stroke="#bbb" stroke-width="0.3"/><circle cx="1177.85" cy="110.73" r="0.86" fill="#e64040" opacity="0.7"/></g><g fill="none" stroke="#2f5aa8" stroke-width="1.2"><circle cx="1131.3" cy="104.9" r="13.4"/><ellipse cx="1131.3" cy="104.9" rx="6" ry="13.4"/><line x1="1117.9" y1="104.9" x2="1144.7" y2="104.9"/><circle cx="1192.3" cy="126.6" r="17.6"/><ellipse cx="1192.3" cy="126.6" rx="8" ry="17.6"/><line x1="1174.7" y1="126.6" x2="1209.9" y2="126.6"/><line x1="1178" y1="117" x2="1207" y2="117"/><path d="M1142,104 C1148,98 1150,90 1152,86 C1156,80 1162,84 1165,86 C1170,82 1176,80 1181,83 C1186,86 1190,88 1193,92 C1196,95 1192,100 1190,103 C1188,107 1190,109 1192,110"/><path d="M1155,88 C1160,96 1168,96 1172,92"/></g><g stroke="#000" stroke-width="1.3" fill="none"><line x1="1071.4" y1="57.4" x2="1083.8" y2="57.4"/><line x1="1071.4" y1="185.5" x2="1083.8" y2="185.5"/><line x1="1078.2" y1="62" x2="1078.2" y2="181"/><line x1="1086.5" y1="185" x2="1086.5" y2="199"/><line x1="1214.6" y1="185" x2="1214.6" y2="199"/><line x1="1091" y1="192.1" x2="1210" y2="192.1"/></g><g fill="#000"><polygon points="1078.2,58.5 1075.8,66 1080.6,66"/><polygon points="1078.2,184.4 1075.8,177 1080.6,177"/><polygon points="1087.6,192.1 1095,189.7 1095,194.5"/><polygon points="1213.5,192.1 1206,189.7 1206,194.5"/></g><text x="0" y="0" font-size="16.5" transform="translate(1073 119.4) rotate(-90)" text-anchor="middle">4.0 nm</text><text x="1128.4" y="210.8" font-size="16.5" text-anchor="start" fill="#000" font-weight="normal" >4.0 nm</text><g stroke="#2f5aa8" stroke-width="1.2"><line x1="1224" y1="87.4" x2="1203" y2="91.3"/><line x1="1224" y1="125.5" x2="1214" y2="126.6"/></g><g fill="#2f5aa8"><polygon points="1200.5,91.6 1207,87.6 1208,92.6"/><polygon points="1211,126.8 1217,123.8 1217,129.4"/></g><text x="1225.6" y="91.5" font-size="16.5" fill="#2f5aa8">D<tspan font-size="9.6" dy="1.5">Long-range</tspan></text><text x="1225.6" y="128.7" font-size="16.5" fill="#2f5aa8">D<tspan font-size="9.6" dy="1.5">Local</tspan></text><text transform="translate(1108 108) rotate(-90)" font-size="10.5" fill="#2f5aa8" text-anchor="middle">~1.0 nm</text><polyline points="1041.6,295.02 1043.6,294.98 1045.6,294.94 1047.6,294.9 1049.6,294.86 1051.6,294.81 1053.6,294.77 1055.6,294.72 1057.6,294.66 1059.6,294.61 1061.6,294.55 1063.6,294.5 1065.6,294.43 1067.6,294.37 1069.6,294.3 1071.6,294.23 1073.6,294.16 1075.6,294.08 1077.6,294 1079.6,293.92 1081.6,293.83 1083.6,293.74 1085.6,293.64 1087.6,293.54 1089.6,293.44 1091.6,293.33 1093.6,293.22 1095.6,293.1 1097.6,292.97 1099.6,292.84 1101.6,292.71 1103.6,292.56 1105.6,292.42 1107.6,292.26 1109.6,292.1 1111.6,291.93 1113.6,291.76 1115.6,291.57 1117.6,291.38 1119.6,291.18 1121.6,290.97 1123.6,290.75 1125.6,290.53 1127.6,290.29 1129.6,290.04 1131.6,289.78 1133.6,289.51 1135.6,289.23 1137.6,288.94 1139.6,288.63 1141.6,288.31 1143.6,287.98 1145.6,287.63 1147.6,287.27 1149.6,286.9 1151.6,286.5 1153.6,286.09 1155.6,285.67 1157.6,285.23 1159.6,284.76 1161.6,284.28 1163.6,283.78 1165.6,283.26 1167.6,282.72 1169.6,282.16 1171.6,281.58 1173.6,280.97 1175.6,280.34 1177.6,279.68 1179.6,279 1181.6,278.29 1183.6,277.55 1185.6,276.79 1187.6,276 1189.6,275.18 1191.6,274.33 1193.6,273.45 1195.6,272.53 1197.6,271.59 1199.6,270.61 1201.6,269.59 1203.6,268.55 1205.6,267.46 1207.6,266.34 1209.6,265.19 1211.6,263.99 1213.6,262.76 1215.6,261.49 1217.6,260.18 1219.6,258.83 1221.6,257.44 1223.6,256.02 1225.6,254.55 1227.6,253.04 1229.6,251.49 1231.6,249.9 1233.6,248.26 1235.6,246.59 1237.6,244.88 1239.6,243.12 1241.6,241.33 1243.6,239.5 1245.6,237.63 1247.6,235.72 1249.6,233.77 1251.6,231.79 1253.6,229.77 1255.6,227.72 1257.6,225.63 1259.6,223.51 1261.6,221.37 1263.6,219.19 1265.6,216.99 1267.6,214.76 1269.6,212.51 1271.6,210.23 1273.6,207.94 1275.6,205.63 1277.6,203.31 1279.6,200.97 1281.6,198.62 1283.6,196.26 1285.6,193.9 1287.6,191.53 1289.6,189.16 1291.6,186.8 1293.6,184.43 1295.6,182.08 1297.6,179.73 1299.6,177.39 1301.6,175.06 1303.6,172.75 1305.6,170.45 1307.6,168.18 1309.6,165.92 1311.6,163.69 1313.6,161.48 1315.6,159.3 1317.6,157.15 1319.6,155.03 1321.6,152.94 1323.6,150.88 1325.6,148.85 1327.6,146.86 1329.6,144.91 1331.6,143 1333.6,141.12 1335.6,139.28 1337.6,137.48 1339.6,135.72 1341.6,134 1343.6,132.32 1345.6,130.68 1347.6,129.08 1349.6,127.53 1351.6,126.01 1353.6,124.54 1355.6,123.1 1357.6,121.71 1359.6,120.35 1361.6,119.04 1363.6,117.76 1365.6,116.52 1367.6,115.32 1369.6,114.16 1371.6,113.03 1373.6,111.94 1375.6,110.89 1377.6,109.87 1379.6,108.89 1381.6,107.94" fill="none" stroke="#8a8a8a" stroke-width="1.3" stroke-dasharray="6,4" /><polyline points="1041.6,302.58 1043.6,302.54 1045.6,302.49 1047.6,302.43 1049.6,302.38 1051.6,302.32 1053.6,302.27 1055.6,302.21 1057.6,302.14 1059.6,302.08 1061.6,302.01 1063.6,301.93 1065.6,301.86 1067.6,301.78 1069.6,301.7 1071.6,301.61 1073.6,301.52 1075.6,301.43 1077.6,301.33 1079.6,301.23 1081.6,301.13 1083.6,301.02 1085.6,300.9 1087.6,300.78 1089.6,300.66 1091.6,300.53 1093.6,300.39 1095.6,300.25 1097.6,300.1 1099.6,299.95 1101.6,299.79 1103.6,299.62 1105.6,299.45 1107.6,299.27 1109.6,299.08 1111.6,298.89 1113.6,298.68 1115.6,298.47 1117.6,298.25 1119.6,298.02 1121.6,297.78 1123.6,297.54 1125.6,297.28 1127.6,297.01 1129.6,296.73 1131.6,296.44 1133.6,296.14 1135.6,295.82 1137.6,295.5 1139.6,295.16 1141.6,294.81 1143.6,294.44 1145.6,294.06 1147.6,293.67 1149.6,293.26 1151.6,292.84 1153.6,292.4 1155.6,291.94 1157.6,291.47 1159.6,290.98 1161.6,290.48 1163.6,289.95 1165.6,289.41 1167.6,288.85 1169.6,288.27 1171.6,287.67 1173.6,287.05 1175.6,286.41 1177.6,285.75 1179.6,285.06 1181.6,284.36 1183.6,283.63 1185.6,282.89 1187.6,282.11 1189.6,281.32 1191.6,280.5 1193.6,279.66 1195.6,278.8 1197.6,277.91 1199.6,277 1201.6,276.06 1203.6,275.1 1205.6,274.12 1207.6,273.11 1209.6,272.08 1211.6,271.02 1213.6,269.94 1215.6,268.84 1217.6,267.72 1219.6,266.57 1221.6,265.4 1223.6,264.21 1225.6,262.99 1227.6,261.76 1229.6,260.51 1231.6,259.24 1233.6,257.95 1235.6,256.64 1237.6,255.32 1239.6,253.98 1241.6,252.62 1243.6,251.25 1245.6,249.87 1247.6,248.48 1249.6,247.08 1251.6,245.67 1253.6,244.25 1255.6,242.83 1257.6,241.4 1259.6,239.96 1261.6,238.53 1263.6,237.09 1265.6,235.65 1267.6,234.22 1269.6,232.78 1271.6,231.36 1273.6,229.94 1275.6,228.52 1277.6,227.11 1279.6,225.72 1281.6,224.33 1283.6,222.95 1285.6,221.59 1287.6,220.24 1289.6,218.91 1291.6,217.59 1293.6,216.29 1295.6,215.01 1297.6,213.75 1299.6,212.5 1301.6,211.28 1303.6,210.08 1305.6,208.9 1307.6,207.74 1309.6,206.6 1311.6,205.48 1313.6,204.39 1315.6,203.32 1317.6,202.28 1319.6,201.26 1321.6,200.26 1323.6,199.29 1325.6,198.34 1327.6,197.41 1329.6,196.51 1331.6,195.63 1333.6,194.78 1335.6,193.95 1337.6,193.14 1339.6,192.36 1341.6,191.6 1343.6,190.86 1345.6,190.14 1347.6,189.45 1349.6,188.78 1351.6,188.12 1353.6,187.49 1355.6,186.88 1357.6,186.29 1359.6,185.72 1361.6,185.17 1363.6,184.63 1365.6,184.12 1367.6,183.62 1369.6,183.14 1371.6,182.67 1373.6,182.22 1375.6,181.79 1377.6,181.38 1379.6,180.97 1381.6,180.59" fill="none" stroke="#4a64c0" stroke-width="1.3" stroke-dasharray="2,2" /><polyline points="1041.6,302.81 1043.6,302.75 1045.6,302.69 1047.6,302.63 1049.6,302.56 1051.6,302.49 1053.6,302.42 1055.6,302.34 1057.6,302.26 1059.6,302.18 1061.6,302.1 1063.6,302.01 1065.6,301.92 1067.6,301.83 1069.6,301.73 1071.6,301.63 1073.6,301.53 1075.6,301.42 1077.6,301.31 1079.6,301.19 1081.6,301.07 1083.6,300.94 1085.6,300.82 1087.6,300.68 1089.6,300.54 1091.6,300.4 1093.6,300.25 1095.6,300.09 1097.6,299.93 1099.6,299.77 1101.6,299.59 1103.6,299.42 1105.6,299.23 1107.6,299.04 1109.6,298.84 1111.6,298.64 1113.6,298.42 1115.6,298.2 1117.6,297.98 1119.6,297.74 1121.6,297.5 1123.6,297.24 1125.6,296.98 1127.6,296.71 1129.6,296.43 1131.6,296.14 1133.6,295.85 1135.6,295.54 1137.6,295.22 1139.6,294.89 1141.6,294.55 1143.6,294.2 1145.6,293.83 1147.6,293.46 1149.6,293.07 1151.6,292.67 1153.6,292.26 1155.6,291.83 1157.6,291.39 1159.6,290.94 1161.6,290.48 1163.6,289.99 1165.6,289.5 1167.6,288.99 1169.6,288.46 1171.6,287.92 1173.6,287.36 1175.6,286.79 1177.6,286.2 1179.6,285.6 1181.6,284.97 1183.6,284.33 1185.6,283.68 1187.6,283 1189.6,282.31 1191.6,281.6 1193.6,280.87 1195.6,280.12 1197.6,279.36 1199.6,278.57 1201.6,277.77 1203.6,276.95 1205.6,276.11 1207.6,275.25 1209.6,274.37 1211.6,273.47 1213.6,272.55 1215.6,271.62 1217.6,270.67 1219.6,269.69 1221.6,268.7 1223.6,267.69 1225.6,266.67 1227.6,265.62 1229.6,264.56 1231.6,263.48 1233.6,262.39 1235.6,261.28 1237.6,260.15 1239.6,259.01 1241.6,257.86 1243.6,256.69 1245.6,255.5 1247.6,254.31 1249.6,253.1 1251.6,251.88 1253.6,250.65 1255.6,249.4 1257.6,248.15 1259.6,246.9 1261.6,245.63 1263.6,244.36 1265.6,243.08 1267.6,241.8 1269.6,240.51 1271.6,239.22 1273.6,237.92 1275.6,236.63 1277.6,235.33 1279.6,234.04 1281.6,232.75 1283.6,231.46 1285.6,230.17 1287.6,228.89 1289.6,227.61 1291.6,226.34 1293.6,225.07 1295.6,223.81 1297.6,222.56 1299.6,221.32 1301.6,220.09 1303.6,218.88 1305.6,217.67 1307.6,216.47 1309.6,215.29 1311.6,214.12 1313.6,212.97 1315.6,211.83 1317.6,210.71 1319.6,209.6 1321.6,208.5 1323.6,207.43 1325.6,206.37 1327.6,205.33 1329.6,204.3 1331.6,203.3 1333.6,202.31 1335.6,201.34 1337.6,200.39 1339.6,199.46 1341.6,198.54 1343.6,197.65 1345.6,196.77 1347.6,195.91 1349.6,195.08 1351.6,194.26 1353.6,193.46 1355.6,192.67 1357.6,191.91 1359.6,191.16 1361.6,190.44 1363.6,189.73 1365.6,189.04 1367.6,188.37 1369.6,187.71 1371.6,187.07 1373.6,186.45 1375.6,185.85 1377.6,185.26 1379.6,184.69 1381.6,184.14" fill="none" stroke="#e8403a" stroke-width="1.3" stroke-dasharray="2,2" /><polyline points="1041.6,303.08 1043.6,303 1045.6,302.91 1047.6,302.82 1049.6,302.73 1051.6,302.64 1053.6,302.54 1055.6,302.45 1057.6,302.34 1059.6,302.24 1061.6,302.13 1063.6,302.02 1065.6,301.9 1067.6,301.78 1069.6,301.66 1071.6,301.54 1073.6,301.41 1075.6,301.27 1077.6,301.13 1079.6,300.99 1081.6,300.85 1083.6,300.69 1085.6,300.54 1087.6,300.38 1089.6,300.21 1091.6,300.04 1093.6,299.87 1095.6,299.69 1097.6,299.5 1099.6,299.31 1101.6,299.11 1103.6,298.91 1105.6,298.7 1107.6,298.49 1109.6,298.27 1111.6,298.04 1113.6,297.81 1115.6,297.57 1117.6,297.32 1119.6,297.07 1121.6,296.81 1123.6,296.54 1125.6,296.26 1127.6,295.98 1129.6,295.68 1131.6,295.39 1133.6,295.08 1135.6,294.76 1137.6,294.44 1139.6,294.1 1141.6,293.76 1143.6,293.41 1145.6,293.05 1147.6,292.68 1149.6,292.3 1151.6,291.91 1153.6,291.51 1155.6,291.1 1157.6,290.68 1159.6,290.25 1161.6,289.81 1163.6,289.36 1165.6,288.89 1167.6,288.42 1169.6,287.94 1171.6,287.44 1173.6,286.93 1175.6,286.41 1177.6,285.88 1179.6,285.34 1181.6,284.78 1183.6,284.22 1185.6,283.64 1187.6,283.05 1189.6,282.44 1191.6,281.83 1193.6,281.2 1195.6,280.56 1197.6,279.9 1199.6,279.24 1201.6,278.56 1203.6,277.87 1205.6,277.17 1207.6,276.45 1209.6,275.72 1211.6,274.98 1213.6,274.23 1215.6,273.46 1217.6,272.68 1219.6,271.9 1221.6,271.09 1223.6,270.28 1225.6,269.46 1227.6,268.62 1229.6,267.77 1231.6,266.92 1233.6,266.05 1235.6,265.17 1237.6,264.28 1239.6,263.38 1241.6,262.48 1243.6,261.56 1245.6,260.63 1247.6,259.7 1249.6,258.76 1251.6,257.81 1253.6,256.85 1255.6,255.89 1257.6,254.92 1259.6,253.94 1261.6,252.96 1263.6,251.97 1265.6,250.98 1267.6,249.98 1269.6,248.99 1271.6,247.98 1273.6,246.98 1275.6,245.97 1277.6,244.97 1279.6,243.96 1281.6,242.95 1283.6,241.94 1285.6,240.93 1287.6,239.92 1289.6,238.92 1291.6,237.91 1293.6,236.91 1295.6,235.91 1297.6,234.92 1299.6,233.93 1301.6,232.94 1303.6,231.96 1305.6,230.99 1307.6,230.02 1309.6,229.06 1311.6,228.1 1313.6,227.15 1315.6,226.21 1317.6,225.28 1319.6,224.36 1321.6,223.44 1323.6,222.54 1325.6,221.64 1327.6,220.76 1329.6,219.88 1331.6,219.01 1333.6,218.16 1335.6,217.32 1337.6,216.48 1339.6,215.66 1341.6,214.85 1343.6,214.05 1345.6,213.27 1347.6,212.49 1349.6,211.73 1351.6,210.98 1353.6,210.24 1355.6,209.52 1357.6,208.81 1359.6,208.11 1361.6,207.42 1363.6,206.74 1365.6,206.08 1367.6,205.43 1369.6,204.79 1371.6,204.17 1373.6,203.55 1375.6,202.95 1377.6,202.36 1379.6,201.79 1381.6,201.23" fill="none" stroke="#f08a40" stroke-width="1.3" stroke-dasharray="2,2" /><polyline points="1041.6,302.98 1043.6,302.95 1045.6,302.92 1047.6,302.88 1049.6,302.85 1051.6,302.81 1053.6,302.77 1055.6,302.73 1057.6,302.69 1059.6,302.65 1061.6,302.6 1063.6,302.56 1065.6,302.51 1067.6,302.46 1069.6,302.41 1071.6,302.36 1073.6,302.3 1075.6,302.24 1077.6,302.18 1079.6,302.12 1081.6,302.05 1083.6,301.99 1085.6,301.92 1087.6,301.84 1089.6,301.77 1091.6,301.69 1093.6,301.61 1095.6,301.52 1097.6,301.44 1099.6,301.34 1101.6,301.25 1103.6,301.15 1105.6,301.05 1107.6,300.94 1109.6,300.83 1111.6,300.72 1113.6,300.6 1115.6,300.48 1117.6,300.35 1119.6,300.22 1121.6,300.08 1123.6,299.94 1125.6,299.79 1127.6,299.63 1129.6,299.47 1131.6,299.31 1133.6,299.14 1135.6,298.96 1137.6,298.78 1139.6,298.59 1141.6,298.39 1143.6,298.18 1145.6,297.97 1147.6,297.75 1149.6,297.52 1151.6,297.28 1153.6,297.04 1155.6,296.79 1157.6,296.52 1159.6,296.25 1161.6,295.97 1163.6,295.68 1165.6,295.38 1167.6,295.07 1169.6,294.75 1171.6,294.41 1173.6,294.07 1175.6,293.71 1177.6,293.35 1179.6,292.97 1181.6,292.57 1183.6,292.17 1185.6,291.75 1187.6,291.32 1189.6,290.88 1191.6,290.42 1193.6,289.94 1195.6,289.46 1197.6,288.95 1199.6,288.44 1201.6,287.9 1203.6,287.35 1205.6,286.79 1207.6,286.21 1209.6,285.61 1211.6,285 1213.6,284.37 1215.6,283.72 1217.6,283.05 1219.6,282.37 1221.6,281.67 1223.6,280.95 1225.6,280.22 1227.6,279.46 1229.6,278.69 1231.6,277.9 1233.6,277.09 1235.6,276.27 1237.6,275.42 1239.6,274.56 1241.6,273.68 1243.6,272.78 1245.6,271.87 1247.6,270.94 1249.6,269.99 1251.6,269.02 1253.6,268.04 1255.6,267.04 1257.6,266.03 1259.6,265 1261.6,263.95 1263.6,262.89 1265.6,261.82 1267.6,260.73 1269.6,259.64 1271.6,258.53 1273.6,257.4 1275.6,256.27 1277.6,255.13 1279.6,253.98 1281.6,252.82 1283.6,251.65 1285.6,250.48 1287.6,249.3 1289.6,248.11 1291.6,246.92 1293.6,245.73 1295.6,244.53 1297.6,243.34 1299.6,242.14 1301.6,240.94 1303.6,239.75 1305.6,238.56 1307.6,237.37 1309.6,236.18 1311.6,235 1313.6,233.83 1315.6,232.66 1317.6,231.5 1319.6,230.34 1321.6,229.2 1323.6,228.07 1325.6,226.94 1327.6,225.83 1329.6,224.73 1331.6,223.64 1333.6,222.57 1335.6,221.51 1337.6,220.46 1339.6,219.43 1341.6,218.42 1343.6,217.42 1345.6,216.43 1347.6,215.46 1349.6,214.51 1351.6,213.58 1353.6,212.66 1355.6,211.76 1357.6,210.88 1359.6,210.02 1361.6,209.17 1363.6,208.34 1365.6,207.53 1367.6,206.74 1369.6,205.97 1371.6,205.21 1373.6,204.47 1375.6,203.75 1377.6,203.05 1379.6,202.37 1381.6,201.7" fill="none" stroke="#a868b0" stroke-width="1.3" stroke-dasharray="2,2" /><circle cx="1057.6" cy="302.4" r="4.5" fill="rgba(170,170,170,0.55)" stroke="#8c8c8c" stroke-width="1.1" opacity="1.0"/><line x1="1055.6" y1="302.4" x2="1059.6" y2="302.4" stroke="#8c8c8c" stroke-width="0.8" /><line x1="1057.6" y1="299.4" x2="1057.6" y2="305.4" stroke="#8c8c8c" stroke-width="0.8" /><circle cx="1105.6" cy="300.15" r="4.5" fill="rgba(170,170,170,0.55)" stroke="#8c8c8c" stroke-width="1.1" opacity="1.0"/><line x1="1103.6" y1="300.15" x2="1107.6" y2="300.15" stroke="#8c8c8c" stroke-width="0.8" /><line x1="1105.6" y1="297.15" x2="1105.6" y2="303.15" stroke="#8c8c8c" stroke-width="0.8" /><circle cx="1169.6" cy="288.92" r="4.5" fill="rgba(170,170,170,0.55)" stroke="#8c8c8c" stroke-width="1.1" opacity="1.0"/><line x1="1167.6" y1="288.92" x2="1171.6" y2="288.92" stroke="#8c8c8c" stroke-width="0.8" /><line x1="1169.6" y1="285.92" x2="1169.6" y2="291.92" stroke="#8c8c8c" stroke-width="0.8" /><line x1="1233.6" y1="234.55" x2="1233.6" y2="243.55" stroke="#8c8c8c" stroke-width="0.9" /><line x1="1230.6" y1="234.55" x2="1236.6" y2="234.55" stroke="#8c8c8c" stroke-width="0.9" /><line x1="1230.6" y1="243.55" x2="1236.6" y2="243.55" stroke="#8c8c8c" stroke-width="0.9" /><circle cx="1233.6" cy="239.05" r="4.5" fill="rgba(170,170,170,0.55)" stroke="#8c8c8c" stroke-width="1.1" opacity="1.0"/><line x1="1231.6" y1="239.05" x2="1235.6" y2="239.05" stroke="#8c8c8c" stroke-width="0.8" /><line x1="1233.6" y1="236.05" x2="1233.6" y2="242.05" stroke="#8c8c8c" stroke-width="0.8" /><line x1="1297.6" y1="170.75" x2="1297.6" y2="179.75" stroke="#8c8c8c" stroke-width="0.9" /><line x1="1294.6" y1="170.75" x2="1300.6" y2="170.75" stroke="#8c8c8c" stroke-width="0.9" /><line x1="1294.6" y1="179.75" x2="1300.6" y2="179.75" stroke="#8c8c8c" stroke-width="0.9" /><circle cx="1297.6" cy="175.25" r="4.5" fill="rgba(170,170,170,0.55)" stroke="#8c8c8c" stroke-width="1.1" opacity="1.0"/><line x1="1295.6" y1="175.25" x2="1299.6" y2="175.25" stroke="#8c8c8c" stroke-width="0.8" /><line x1="1297.6" y1="172.25" x2="1297.6" y2="178.25" stroke="#8c8c8c" stroke-width="0.8" /><line x1="1361.6" y1="113.03" x2="1361.6" y2="126.03" stroke="#8c8c8c" stroke-width="0.9" /><line x1="1358.6" y1="113.03" x2="1364.6" y2="113.03" stroke="#8c8c8c" stroke-width="0.9" /><line x1="1358.6" y1="126.03" x2="1364.6" y2="126.03" stroke="#8c8c8c" stroke-width="0.9" /><circle cx="1361.6" cy="119.53" r="4.5" fill="rgba(170,170,170,0.55)" stroke="#8c8c8c" stroke-width="1.1" opacity="1.0"/><line x1="1359.6" y1="119.53" x2="1363.6" y2="119.53" stroke="#8c8c8c" stroke-width="0.8" /><line x1="1361.6" y1="116.53" x2="1361.6" y2="122.53" stroke="#8c8c8c" stroke-width="0.8" /><circle cx="1057.6" cy="302.4" r="4.5" fill="rgba(150,165,220,0.5)" stroke="#5a70c8" stroke-width="1.1" opacity="1.0"/><line x1="1055.6" y1="302.4" x2="1059.6" y2="302.4" stroke="#5a70c8" stroke-width="0.8" /><line x1="1057.6" y1="299.4" x2="1057.6" y2="305.4" stroke="#5a70c8" stroke-width="0.8" /><circle cx="1105.6" cy="300.15" r="4.5" fill="rgba(150,165,220,0.5)" stroke="#5a70c8" stroke-width="1.1" opacity="1.0"/><line x1="1103.6" y1="300.15" x2="1107.6" y2="300.15" stroke="#5a70c8" stroke-width="0.8" /><line x1="1105.6" y1="297.15" x2="1105.6" y2="303.15" stroke="#5a70c8" stroke-width="0.8" /><circle cx="1169.6" cy="292.52" r="4.5" fill="rgba(150,165,220,0.5)" stroke="#5a70c8" stroke-width="1.1" opacity="1.0"/><line x1="1167.6" y1="292.52" x2="1171.6" y2="292.52" stroke="#5a70c8" stroke-width="0.8" /><line x1="1169.6" y1="289.52" x2="1169.6" y2="295.52" stroke="#5a70c8" stroke-width="0.8" /><line x1="1233.6" y1="253.42" x2="1233.6" y2="262.42" stroke="#5a70c8" stroke-width="0.9" /><line x1="1230.6" y1="253.42" x2="1236.6" y2="253.42" stroke="#5a70c8" stroke-width="0.9" /><line x1="1230.6" y1="262.42" x2="1236.6" y2="262.42" stroke="#5a70c8" stroke-width="0.9" /><circle cx="1233.6" cy="257.92" r="4.5" fill="rgba(150,165,220,0.5)" stroke="#5a70c8" stroke-width="1.1" opacity="1.0"/><line x1="1231.6" y1="257.92" x2="1235.6" y2="257.92" stroke="#5a70c8" stroke-width="0.8" /><line x1="1233.6" y1="254.92" x2="1233.6" y2="260.92" stroke="#5a70c8" stroke-width="0.8" /><line x1="1297.6" y1="211.63" x2="1297.6" y2="220.63" stroke="#5a70c8" stroke-width="0.9" /><line x1="1294.6" y1="211.63" x2="1300.6" y2="211.63" stroke="#5a70c8" stroke-width="0.9" /><line x1="1294.6" y1="220.63" x2="1300.6" y2="220.63" stroke="#5a70c8" stroke-width="0.9" /><circle cx="1297.6" cy="216.13" r="4.5" fill="rgba(150,165,220,0.5)" stroke="#5a70c8" stroke-width="1.1" opacity="1.0"/><line x1="1295.6" y1="216.13" x2="1299.6" y2="216.13" stroke="#5a70c8" stroke-width="0.8" /><line x1="1297.6" y1="213.13" x2="1297.6" y2="219.13" stroke="#5a70c8" stroke-width="0.8" /><line x1="1361.6" y1="173.69" x2="1361.6" y2="186.69" stroke="#5a70c8" stroke-width="0.9" /><line x1="1358.6" y1="173.69" x2="1364.6" y2="173.69" stroke="#5a70c8" stroke-width="0.9" /><line x1="1358.6" y1="186.69" x2="1364.6" y2="186.69" stroke="#5a70c8" stroke-width="0.9" /><circle cx="1361.6" cy="180.19" r="4.5" fill="rgba(150,165,220,0.5)" stroke="#5a70c8" stroke-width="1.1" opacity="1.0"/><line x1="1359.6" y1="180.19" x2="1363.6" y2="180.19" stroke="#5a70c8" stroke-width="0.8" /><line x1="1361.6" y1="177.19" x2="1361.6" y2="183.19" stroke="#5a70c8" stroke-width="0.8" /><rect x="1053.6" y="298.4" width="8" height="8" fill="rgba(240,150,140,0.45)" stroke="#ec5a50" stroke-width="1.1" opacity="1.0"/><line x1="1055.6" y1="302.4" x2="1059.6" y2="302.4" stroke="#ec5a50" stroke-width="0.8" /><line x1="1057.6" y1="299.4" x2="1057.6" y2="305.4" stroke="#ec5a50" stroke-width="0.8" /><rect x="1101.6" y="296.15" width="8" height="8" fill="rgba(240,150,140,0.45)" stroke="#ec5a50" stroke-width="1.1" opacity="1.0"/><line x1="1103.6" y1="300.15" x2="1107.6" y2="300.15" stroke="#ec5a50" stroke-width="0.8" /><line x1="1105.6" y1="297.15" x2="1105.6" y2="303.15" stroke="#ec5a50" stroke-width="0.8" /><rect x="1165.6" y="289.41" width="8" height="8" fill="rgba(240,150,140,0.45)" stroke="#ec5a50" stroke-width="1.1" opacity="1.0"/><line x1="1167.6" y1="293.41" x2="1171.6" y2="293.41" stroke="#ec5a50" stroke-width="0.8" /><line x1="1169.6" y1="290.41" x2="1169.6" y2="296.41" stroke="#ec5a50" stroke-width="0.8" /><line x1="1233.6" y1="260.61" x2="1233.6" y2="269.61" stroke="#ec5a50" stroke-width="0.9" /><line x1="1230.6" y1="260.61" x2="1236.6" y2="260.61" stroke="#ec5a50" stroke-width="0.9" /><line x1="1230.6" y1="269.61" x2="1236.6" y2="269.61" stroke="#ec5a50" stroke-width="0.9" /><rect x="1229.6" y="261.11" width="8" height="8" fill="rgba(240,150,140,0.45)" stroke="#ec5a50" stroke-width="1.1" opacity="1.0"/><line x1="1231.6" y1="265.11" x2="1235.6" y2="265.11" stroke="#ec5a50" stroke-width="0.8" /><line x1="1233.6" y1="262.11" x2="1233.6" y2="268.11" stroke="#ec5a50" stroke-width="0.8" /><line x1="1297.6" y1="217.48" x2="1297.6" y2="226.48" stroke="#ec5a50" stroke-width="0.9" /><line x1="1294.6" y1="217.48" x2="1300.6" y2="217.48" stroke="#ec5a50" stroke-width="0.9" /><line x1="1294.6" y1="226.48" x2="1300.6" y2="226.48" stroke="#ec5a50" stroke-width="0.9" /><rect x="1293.6" y="217.98" width="8" height="8" fill="rgba(240,150,140,0.45)" stroke="#ec5a50" stroke-width="1.1" opacity="1.0"/><line x1="1295.6" y1="221.98" x2="1299.6" y2="221.98" stroke="#ec5a50" stroke-width="0.8" /><line x1="1297.6" y1="218.98" x2="1297.6" y2="224.98" stroke="#ec5a50" stroke-width="0.8" /><line x1="1361.6" y1="179.98" x2="1361.6" y2="192.98" stroke="#ec5a50" stroke-width="0.9" /><line x1="1358.6" y1="179.98" x2="1364.6" y2="179.98" stroke="#ec5a50" stroke-width="0.9" /><line x1="1358.6" y1="192.98" x2="1364.6" y2="192.98" stroke="#ec5a50" stroke-width="0.9" /><rect x="1357.6" y="182.48" width="8" height="8" fill="rgba(240,150,140,0.45)" stroke="#ec5a50" stroke-width="1.1" opacity="1.0"/><line x1="1359.6" y1="186.48" x2="1363.6" y2="186.48" stroke="#ec5a50" stroke-width="0.8" /><line x1="1361.6" y1="183.48" x2="1361.6" y2="189.48" stroke="#ec5a50" stroke-width="0.8" /><polygon points="1057.6,297.34 1062.41,300.84 1060.57,306.49 1054.63,306.49 1052.79,300.84" fill="rgba(248,190,140,0.5)" stroke="#f29a58" stroke-width="1.1" opacity="1.0"/><line x1="1055.6" y1="302.4" x2="1059.6" y2="302.4" stroke="#f29a58" stroke-width="0.8" /><line x1="1057.6" y1="299.4" x2="1057.6" y2="305.4" stroke="#f29a58" stroke-width="0.8" /><polygon points="1105.6,295.09 1110.41,298.59 1108.57,304.25 1102.63,304.25 1100.79,298.59" fill="rgba(248,190,140,0.5)" stroke="#f29a58" stroke-width="1.1" opacity="1.0"/><line x1="1103.6" y1="300.15" x2="1107.6" y2="300.15" stroke="#f29a58" stroke-width="0.8" /><line x1="1105.6" y1="297.15" x2="1105.6" y2="303.15" stroke="#f29a58" stroke-width="0.8" /><polygon points="1169.6,287.46 1174.41,290.95 1172.57,296.61 1166.63,296.61 1164.79,290.95" fill="rgba(248,190,140,0.5)" stroke="#f29a58" stroke-width="1.1" opacity="1.0"/><line x1="1167.6" y1="292.52" x2="1171.6" y2="292.52" stroke="#f29a58" stroke-width="0.8" /><line x1="1169.6" y1="289.52" x2="1169.6" y2="295.52" stroke="#f29a58" stroke-width="0.8" /><line x1="1233.6" y1="256.12" x2="1233.6" y2="265.12" stroke="#f29a58" stroke-width="0.9" /><line x1="1230.6" y1="256.12" x2="1236.6" y2="256.12" stroke="#f29a58" stroke-width="0.9" /><line x1="1230.6" y1="265.12" x2="1236.6" y2="265.12" stroke="#f29a58" stroke-width="0.9" /><polygon points="1233.6,255.56 1238.41,259.05 1236.57,264.71 1230.63,264.71 1228.79,259.05" fill="rgba(248,190,140,0.5)" stroke="#f29a58" stroke-width="1.1" opacity="1.0"/><line x1="1231.6" y1="260.62" x2="1235.6" y2="260.62" stroke="#f29a58" stroke-width="0.8" /><line x1="1233.6" y1="257.62" x2="1233.6" y2="263.62" stroke="#f29a58" stroke-width="0.8" /><line x1="1297.6" y1="235" x2="1297.6" y2="244" stroke="#f29a58" stroke-width="0.9" /><line x1="1294.6" y1="235" x2="1300.6" y2="235" stroke="#f29a58" stroke-width="0.9" /><line x1="1294.6" y1="244" x2="1300.6" y2="244" stroke="#f29a58" stroke-width="0.9" /><polygon points="1297.6,234.44 1302.41,237.93 1300.57,243.59 1294.63,243.59 1292.79,237.93" fill="rgba(248,190,140,0.5)" stroke="#f29a58" stroke-width="1.1" opacity="1.0"/><line x1="1295.6" y1="239.5" x2="1299.6" y2="239.5" stroke="#f29a58" stroke-width="0.8" /><line x1="1297.6" y1="236.5" x2="1297.6" y2="242.5" stroke="#f29a58" stroke-width="0.8" /><line x1="1361.6" y1="190.76" x2="1361.6" y2="203.76" stroke="#f29a58" stroke-width="0.9" /><line x1="1358.6" y1="190.76" x2="1364.6" y2="190.76" stroke="#f29a58" stroke-width="0.9" /><line x1="1358.6" y1="203.76" x2="1364.6" y2="203.76" stroke="#f29a58" stroke-width="0.9" /><polygon points="1361.6,192.2 1366.41,195.7 1364.57,201.36 1358.63,201.36 1356.79,195.7" fill="rgba(248,190,140,0.5)" stroke="#f29a58" stroke-width="1.1" opacity="1.0"/><line x1="1359.6" y1="197.26" x2="1363.6" y2="197.26" stroke="#f29a58" stroke-width="0.8" /><line x1="1361.6" y1="194.26" x2="1361.6" y2="200.26" stroke="#f29a58" stroke-width="0.8" /><polygon points="1057.6,296.9 1063.1,302.4 1057.6,307.9 1052.1,302.4" fill="rgba(210,170,215,0.5)" stroke="#b27ab8" stroke-width="1.1" opacity="1.0"/><line x1="1055.6" y1="302.4" x2="1059.6" y2="302.4" stroke="#b27ab8" stroke-width="0.8" /><line x1="1057.6" y1="299.4" x2="1057.6" y2="305.4" stroke="#b27ab8" stroke-width="0.8" /><polygon points="1105.6,294.65 1111.1,300.15 1105.6,305.65 1100.1,300.15" fill="rgba(210,170,215,0.5)" stroke="#b27ab8" stroke-width="1.1" opacity="1.0"/><line x1="1103.6" y1="300.15" x2="1107.6" y2="300.15" stroke="#b27ab8" stroke-width="0.8" /><line x1="1105.6" y1="297.15" x2="1105.6" y2="303.15" stroke="#b27ab8" stroke-width="0.8" /><polygon points="1169.6,288.81 1175.1,294.31 1169.6,299.81 1164.1,294.31" fill="rgba(210,170,215,0.5)" stroke="#b27ab8" stroke-width="1.1" opacity="1.0"/><line x1="1167.6" y1="294.31" x2="1171.6" y2="294.31" stroke="#b27ab8" stroke-width="0.8" /><line x1="1169.6" y1="291.31" x2="1169.6" y2="297.31" stroke="#b27ab8" stroke-width="0.8" /><line x1="1233.6" y1="275.44" x2="1233.6" y2="284.44" stroke="#b27ab8" stroke-width="0.9" /><line x1="1230.6" y1="275.44" x2="1236.6" y2="275.44" stroke="#b27ab8" stroke-width="0.9" /><line x1="1230.6" y1="284.44" x2="1236.6" y2="284.44" stroke="#b27ab8" stroke-width="0.9" /><polygon points="1233.6,274.44 1239.1,279.94 1233.6,285.44 1228.1,279.94" fill="rgba(210,170,215,0.5)" stroke="#b27ab8" stroke-width="1.1" opacity="1.0"/><line x1="1231.6" y1="279.94" x2="1235.6" y2="279.94" stroke="#b27ab8" stroke-width="0.8" /><line x1="1233.6" y1="276.94" x2="1233.6" y2="282.94" stroke="#b27ab8" stroke-width="0.8" /><line x1="1297.6" y1="231.85" x2="1297.6" y2="240.85" stroke="#b27ab8" stroke-width="0.9" /><line x1="1294.6" y1="231.85" x2="1300.6" y2="231.85" stroke="#b27ab8" stroke-width="0.9" /><line x1="1294.6" y1="240.85" x2="1300.6" y2="240.85" stroke="#b27ab8" stroke-width="0.9" /><polygon points="1297.6,230.85 1303.1,236.35 1297.6,241.85 1292.1,236.35" fill="rgba(210,170,215,0.5)" stroke="#b27ab8" stroke-width="1.1" opacity="1.0"/><line x1="1295.6" y1="236.35" x2="1299.6" y2="236.35" stroke="#b27ab8" stroke-width="0.8" /><line x1="1297.6" y1="233.35" x2="1297.6" y2="239.35" stroke="#b27ab8" stroke-width="0.8" /><line x1="1361.6" y1="201.1" x2="1361.6" y2="214.1" stroke="#b27ab8" stroke-width="0.9" /><line x1="1358.6" y1="201.1" x2="1364.6" y2="201.1" stroke="#b27ab8" stroke-width="0.9" /><line x1="1358.6" y1="214.1" x2="1364.6" y2="214.1" stroke="#b27ab8" stroke-width="0.9" /><polygon points="1361.6,202.1 1367.1,207.6 1361.6,213.1 1356.1,207.6" fill="rgba(210,170,215,0.5)" stroke="#b27ab8" stroke-width="1.1" opacity="1.0"/><line x1="1359.6" y1="207.6" x2="1363.6" y2="207.6" stroke="#b27ab8" stroke-width="0.8" /><line x1="1361.6" y1="204.6" x2="1361.6" y2="210.6" stroke="#b27ab8" stroke-width="0.8" /><line x1="1048.3" y1="210.8" x2="1065.7" y2="210.8" stroke="#8a8a8a" stroke-width="1.3" stroke-dasharray="4,2"/><circle cx="1057" cy="210.8" r="4.5" fill="#fff" stroke="#8c8c8c" stroke-width="1.1" opacity="1.0"/><circle cx="1057" cy="210.8" r="4.5" fill="rgba(170,170,170,0.55)" stroke="#8c8c8c" stroke-width="1.1" opacity="1.0"/><text x="1071.7" y="214.9" font-size="16.8" text-anchor="start" fill="#000" font-weight="normal" >PVA</text><line x1="1048.3" y1="225.9" x2="1065.7" y2="225.9" stroke="#4a64c0" stroke-width="1.3" stroke-dasharray="3,2"/><circle cx="1057" cy="225.9" r="4.5" fill="#fff" stroke="#5a70c8" stroke-width="1.1" opacity="1.0"/><circle cx="1057" cy="225.9" r="4.5" fill="rgba(150,165,220,0.5)" stroke="#5a70c8" stroke-width="1.1" opacity="1.0"/><text x="1071.7" y="230.25" font-size="16.8" text-anchor="start" fill="#000" font-weight="normal" >MA</text><line x1="1048.3" y1="240.8" x2="1065.7" y2="240.8" stroke="#e8403a" stroke-width="1.3" stroke-dasharray="3,2"/><rect x="1053" y="236.8" width="8" height="8" fill="#fff" stroke="#ec5a50" stroke-width="1.1" opacity="1.0"/><rect x="1053" y="236.8" width="8" height="8" fill="rgba(240,150,140,0.45)" stroke="#ec5a50" stroke-width="1.1" opacity="1.0"/><text x="1071.7" y="245.4" font-size="16.8" text-anchor="start" fill="#000" font-weight="normal" >FA</text><line x1="1048.3" y1="255.9" x2="1065.7" y2="255.9" stroke="#f08a40" stroke-width="1.3" stroke-dasharray="3,2"/><polygon points="1057,250.84 1061.81,254.34 1059.97,259.99 1054.03,259.99 1052.19,254.34" fill="#fff" stroke="#f29a58" stroke-width="1.1" opacity="1.0"/><polygon points="1057,250.84 1061.81,254.34 1059.97,259.99 1054.03,259.99 1052.19,254.34" fill="rgba(248,190,140,0.5)" stroke="#f29a58" stroke-width="1.1" opacity="1.0"/><text x="1071.7" y="260.75" font-size="16.8" text-anchor="start" fill="#000" font-weight="normal" >GA</text><line x1="1048.3" y1="271.1" x2="1065.7" y2="271.1" stroke="#a868b0" stroke-width="1.3" stroke-dasharray="3,2"/><polygon points="1057,265.6 1062.5,271.1 1057,276.6 1051.5,271.1" fill="#fff" stroke="#b27ab8" stroke-width="1.1" opacity="1.0"/><polygon points="1057,265.6 1062.5,271.1 1057,276.6 1051.5,271.1" fill="rgba(210,170,215,0.5)" stroke="#b27ab8" stroke-width="1.1" opacity="1.0"/><text x="1071.7" y="276.2" font-size="16.8" text-anchor="start" fill="#000" font-weight="normal" >DEDPS</text><rect x="1042.1" y="32.6" width="340.3" height="274.2" fill="none" stroke="#000" stroke-width="1.4"/><line x1="1036.1" y1="302.4" x2="1042.1" y2="302.4" stroke="#000" stroke-width="1.2" /><text x="1034" y="308.7" font-size="16.8" text-anchor="end" fill="#000" font-weight="normal" >0</text><line x1="1038.6" y1="279.94" x2="1042.1" y2="279.94" stroke="#000" stroke-width="1" /><line x1="1036.1" y1="257.47" x2="1042.1" y2="257.47" stroke="#000" stroke-width="1.2" /><text x="1034" y="263.77" font-size="16.8" text-anchor="end" fill="#000" font-weight="normal" >100</text><line x1="1038.6" y1="235" x2="1042.1" y2="235" stroke="#000" stroke-width="1" /><line x1="1036.1" y1="212.54" x2="1042.1" y2="212.54" stroke="#000" stroke-width="1.2" /><text x="1034" y="218.84" font-size="16.8" text-anchor="end" fill="#000" font-weight="normal" >200</text><line x1="1038.6" y1="190.07" x2="1042.1" y2="190.07" stroke="#000" stroke-width="1" /><line x1="1036.1" y1="167.61" x2="1042.1" y2="167.61" stroke="#000" stroke-width="1.2" /><text x="1034" y="173.91" font-size="16.8" text-anchor="end" fill="#000" font-weight="normal" >300</text><line x1="1038.6" y1="145.14" x2="1042.1" y2="145.14" stroke="#000" stroke-width="1" /><line x1="1036.1" y1="122.68" x2="1042.1" y2="122.68" stroke="#000" stroke-width="1.2" /><text x="1034" y="128.98" font-size="16.8" text-anchor="end" fill="#000" font-weight="normal" >400</text><line x1="1038.6" y1="100.21" x2="1042.1" y2="100.21" stroke="#000" stroke-width="1" /><line x1="1036.1" y1="77.75" x2="1042.1" y2="77.75" stroke="#000" stroke-width="1.2" /><text x="1034" y="84.05" font-size="16.8" text-anchor="end" fill="#000" font-weight="normal" >500</text><line x1="1038.6" y1="55.28" x2="1042.1" y2="55.28" stroke="#000" stroke-width="1" /><line x1="1036.1" y1="32.82" x2="1042.1" y2="32.82" stroke="#000" stroke-width="1.2" /><text x="1034" y="37.32" font-size="16.8" text-anchor="end" fill="#000" font-weight="normal" >600</text><line x1="1041.6" y1="306.8" x2="1041.6" y2="312.3" stroke="#000" stroke-width="1.2" /><text x="1043.6" y="329.7" font-size="16.8" text-anchor="middle" fill="#000" font-weight="normal" >0</text><line x1="1061.6" y1="306.8" x2="1061.6" y2="309.8" stroke="#000" stroke-width="1" /><line x1="1081.6" y1="306.8" x2="1081.6" y2="312.3" stroke="#000" stroke-width="1.2" /><text x="1083.6" y="329.7" font-size="16.8" text-anchor="middle" fill="#000" font-weight="normal" >5</text><line x1="1101.6" y1="306.8" x2="1101.6" y2="309.8" stroke="#000" stroke-width="1" /><line x1="1121.6" y1="306.8" x2="1121.6" y2="312.3" stroke="#000" stroke-width="1.2" /><text x="1123.6" y="329.7" font-size="16.8" text-anchor="middle" fill="#000" font-weight="normal" >10</text><line x1="1141.6" y1="306.8" x2="1141.6" y2="309.8" stroke="#000" stroke-width="1" /><line x1="1161.6" y1="306.8" x2="1161.6" y2="312.3" stroke="#000" stroke-width="1.2" /><text x="1163.6" y="329.7" font-size="16.8" text-anchor="middle" fill="#000" font-weight="normal" >15</text><line x1="1181.6" y1="306.8" x2="1181.6" y2="309.8" stroke="#000" stroke-width="1" /><line x1="1201.6" y1="306.8" x2="1201.6" y2="312.3" stroke="#000" stroke-width="1.2" /><text x="1203.6" y="329.7" font-size="16.8" text-anchor="middle" fill="#000" font-weight="normal" >20</text><line x1="1221.6" y1="306.8" x2="1221.6" y2="309.8" stroke="#000" stroke-width="1" /><line x1="1241.6" y1="306.8" x2="1241.6" y2="312.3" stroke="#000" stroke-width="1.2" /><text x="1243.6" y="329.7" font-size="16.8" text-anchor="middle" fill="#000" font-weight="normal" >25</text><line x1="1261.6" y1="306.8" x2="1261.6" y2="309.8" stroke="#000" stroke-width="1" /><line x1="1281.6" y1="306.8" x2="1281.6" y2="312.3" stroke="#000" stroke-width="1.2" /><text x="1283.6" y="329.7" font-size="16.8" text-anchor="middle" fill="#000" font-weight="normal" >30</text><line x1="1301.6" y1="306.8" x2="1301.6" y2="309.8" stroke="#000" stroke-width="1" /><line x1="1321.6" y1="306.8" x2="1321.6" y2="312.3" stroke="#000" stroke-width="1.2" /><text x="1323.6" y="329.7" font-size="16.8" text-anchor="middle" fill="#000" font-weight="normal" >35</text><line x1="1341.6" y1="306.8" x2="1341.6" y2="309.8" stroke="#000" stroke-width="1" /><line x1="1361.6" y1="306.8" x2="1361.6" y2="312.3" stroke="#000" stroke-width="1.2" /><text x="1363.6" y="329.7" font-size="16.8" text-anchor="middle" fill="#000" font-weight="normal" >40</text><line x1="1381.6" y1="306.8" x2="1381.6" y2="309.8" stroke="#000" stroke-width="1" /><text x="1207" y="352.8" font-size="20" text-anchor="middle" fill="#000" font-weight="normal" >DS (wt%)</text><text x="0" y="0" font-size="18.1" transform="translate(991.5 177.7) rotate(-90)" text-anchor="middle">D<tspan font-size="12.5" dy="1">MS</tspan><tspan dy="-1"> (×10</tspan><tspan font-size="10" dy="-7">-12</tspan><tspan dy="7"> m</tspan><tspan font-size="10" dy="-7">2</tspan><tspan dy="7">/s)</tspan></text><polygon points="76,669 77,668.82 78,668.65 79,668.47 80,668.29 81,668.11 82,667.93 83,667.75 84,667.57 85,667.39 86,667.2 87,667.02 88,666.83 89,666.65 90,666.46 91,666.27 92,666.08 93,665.89 94,665.7 95,665.51 96,665.31 97,665.12 98,664.92 99,664.73 100,664.53 101,664.33 102,664.13 103,663.93 104,663.73 105,663.53 106,663.33 107,663.13 108,662.92 109,662.72 110,662.51 111,662.31 112,662.1 113,661.89 114,661.69 115,661.48 116,661.27 117,661.05 118,660.84 119,660.63 120,660.42 121,660.2 122,659.99 123,659.77 124,659.56 125,659.34 126,659.12 127,658.9 128,658.68 129,658.46 130,658.24 131,658.02 132,657.8 133,657.58 134,657.35 135,657.13 136,656.91 137,656.68 138,656.45 139,656.23 140,656 141,655.77 142,655.54 143,655.31 144,655.08 145,654.85 146,654.61 147,654.38 148,654.14 149,653.9 150,653.67 151,653.43 152,653.19 153,652.94 154,652.7 155,652.46 156,652.21 157,651.97 158,651.72 159,651.47 160,651.22 161,650.97 162,650.72 163,650.47 164,650.22 165,649.96 166,649.71 167,649.45 168,649.19 169,648.94 170,648.68 171,648.42 172,648.16 173,647.89 174,647.63 175,647.37 176,647.1 177,646.84 178,646.57 179,646.3 180,646.04 181,645.77 182,645.5 183,645.23 184,644.96 185,644.68 186,644.41 187,644.14 188,643.86 189,643.59 190,643.31 191,643.03 192,642.75 193,642.47 194,642.19 195,641.91 196,641.63 197,641.35 198,641.07 199,640.78 200,640.5 201,640.22 202,639.93 203,639.65 204,639.36 205,639.08 206,638.79 207,638.5 208,638.22 209,637.93 210,637.64 211,637.35 212,637.06 213,636.77 214,636.47 215,636.18 216,635.88 217,635.58 218,635.28 219,634.98 220,634.68 221,634.37 222,634.06 223,633.75 224,633.44 225,633.12 226,632.8 227,632.48 228,632.16 229,631.83 230,631.5 231,631.17 232,630.83 233,630.49 234,630.15 235,629.8 236,629.45 237,629.09 238,628.73 239,628.37 240,628 241,627.63 242,627.25 243,626.87 244,626.49 245,626.11 246,625.72 247,625.32 248,624.93 249,624.53 250,624.12 251,623.72 252,623.31 253,622.89 254,622.48 255,622.06 256,621.63 257,621.2 258,620.77 259,620.34 260,619.9 261,619.46 262,619.02 263,618.57 264,618.12 265,617.66 266,617.21 267,616.75 268,616.28 269,615.81 270,615.34 271,614.87 272,614.39 273,613.91 274,613.43 275,612.94 276,612.45 277,611.96 278,611.46 279,610.96 280,610.46 281,609.96 282,609.45 283,608.94 284,608.42 285,607.9 286,607.38 287,606.86 288,606.33 289,605.8 290,605.27 291,604.73 292,604.19 293,603.65 294,603.1 295,602.55 296,602 297,601.45 297.8,686.9 76,686.9" fill="#eadcec"/><polygon points="76,679.15 77,679.12 78,679.09 79,679.06 80,679.03 81,679 82,678.97 83,678.94 84,678.91 85,678.88 86,678.84 87,678.81 88,678.78 89,678.74 90,678.71 91,678.67 92,678.64 93,678.6 94,678.57 95,678.53 96,678.49 97,678.45 98,678.41 99,678.37 100,678.33 101,678.29 102,678.25 103,678.21 104,678.17 105,678.12 106,678.08 107,678.03 108,677.99 109,677.94 110,677.9 111,677.85 112,677.8 113,677.75 114,677.7 115,677.65 116,677.6 117,677.55 118,677.5 119,677.44 120,677.39 121,677.34 122,677.28 123,677.22 124,677.17 125,677.11 126,677.05 127,676.99 128,676.93 129,676.87 130,676.8 131,676.74 132,676.68 133,676.61 134,676.54 135,676.48 136,676.41 137,676.34 138,676.27 139,676.2 140,676.13 141,676.05 142,675.98 143,675.9 144,675.83 145,675.75 146,675.67 147,675.59 148,675.51 149,675.43 150,675.35 151,675.26 152,675.18 153,675.09 154,675 155,674.91 156,674.82 157,674.73 158,674.64 159,674.54 160,674.45 161,674.35 162,674.25 163,674.15 164,674.05 165,673.95 166,673.84 167,673.74 168,673.63 169,673.52 170,673.41 171,673.3 172,673.19 173,673.07 174,672.95 175,672.84 176,672.72 177,672.59 178,672.47 179,672.35 180,672.22 181,672.09 182,671.96 183,671.83 184,671.7 185,671.56 186,671.42 187,671.28 188,671.14 189,671 190,670.85 191,670.71 192,670.56 193,670.4 194,670.25 195,670.1 196,669.94 197,669.78 198,669.61 199,669.45 200,669.28 201,669.11 202,668.94 203,668.77 204,668.59 205,668.41 206,668.23 207,668.05 208,667.86 209,667.67 210,667.48 211,667.29 212,667.09 213,666.89 214,666.69 215,666.49 216,666.28 217,666.07 218,665.85 219,665.64 220,665.42 221,665.2 222,664.97 223,664.74 224,664.51 225,664.28 226,664.04 227,663.8 228,663.55 229,663.31 230,663.05 231,662.8 232,662.54 233,662.28 234,662.01 235,661.75 236,661.47 237,661.2 238,660.92 239,660.63 240,660.34 241,660.05 242,659.76 243,659.46 244,659.15 245,658.85 246,658.53 247,658.22 248,657.9 249,657.57 250,657.24 251,656.91 252,656.57 253,656.23 254,655.88 255,655.53 256,655.17 257,654.81 258,654.44 259,654.07 260,653.69 261,653.31 262,652.92 263,652.53 264,652.13 265,651.73 266,651.32 267,650.9 268,650.48 269,650.06 270,649.63 271,649.19 272,648.75 273,648.3 274,647.84 275,647.38 276,646.91 277,646.44 278,645.96 279,645.47 280,644.98 281,644.48 282,643.97 283,643.46 284,642.94 285,642.41 286,641.87 287,641.33 288,640.78 289,640.22 290,639.66 291,639.09 292,638.51 293,637.92 294,637.32 295,636.72 296,636.11 297,635.49 298,634.86 299,634.22 300,633.58 301,632.92 302,632.26 303,631.59 304,630.9 305,630.21 306,629.51 307,628.81 308,628.09 309,627.36 310,626.62 311,625.87 312,625.11 313,624.34 314,623.57 315,622.78 316,621.98 317,621.17 318,620.34 319,619.51 320,618.67 321,617.81 322,616.94 323,616.07 324,615.18 325,614.27 326,613.36 327,612.43 328,611.49 329,610.54 330,609.57 331,608.6 332,607.61 333,606.6 334,605.58 335,604.55 336,603.51 337,602.45 338,601.37 339,600.28 340,599.18 341,598.06 342,596.93 343,595.78 344,594.62 345,593.44 346,592.25 347,591.03 348,589.81 349,588.56 350,587.3 351,586.02 352,584.73 353,583.42 354,582.09 355,580.74 356,579.37 357,577.99 358,576.59 359,575.17 360,573.73 361,572.27 362,570.79 363,569.29 364,567.77 365,566.23 366,564.67 367,563.08 368,561.48 369,559.86 370,558.21 371,556.54 372,554.85 373,553.14 374,551.4 375,549.64 376,547.86 377,546.05 378,544.22 379,542.36 380,540.48 381,538.57 382,536.64 383,534.68 384,532.7 385,530.69 386,528.65 387,526.58 388,524.49 389,522.37 390,520.22 391,518.04 392,515.83 393,513.59 394,511.33 395,509.03 396,506.7 397,504.34 398,501.95 399,499.53 400,497.07 401,494.58 402,492.06 403,489.5 404,486.91 405,484.28 406,481.62 407,478.93 408,476.19 409,473.42 410,470.62 411,467.77 412,464.89 413,461.97 414,459.01 415,456.01 416,452.97 417,449.89 416.8,686.9 76,686.9" fill="#a8acda"/><polygon points="76,679.15 77,679.12 78,679.09 79,679.06 80,679.03 81,679 82,678.97 83,678.94 84,678.91 85,678.88 86,678.84 87,678.81 88,678.78 89,678.74 90,678.71 91,678.67 92,678.64 93,678.6 94,678.57 95,678.53 96,678.49 97,678.45 98,678.41 99,678.37 100,678.33 101,678.29 102,678.25 103,678.21 104,678.17 105,678.12 106,678.08 107,678.03 108,677.99 109,677.94 110,677.9 111,677.85 112,677.8 113,677.75 114,677.7 115,677.65 116,677.6 117,677.55 118,677.5 119,677.44 120,677.39 121,677.34 122,677.28 123,677.22 124,677.17 125,677.11 126,677.05 127,676.99 128,676.93 129,676.87 130,676.8 131,676.74 132,676.68 133,676.61 134,676.54 135,676.48 136,676.41 137,676.34 138,676.27 139,676.2 140,676.13 141,676.05 142,675.98 143,675.9 144,675.83 145,675.75 146,675.67 147,675.59 148,675.51 149,675.43 150,675.35 151,675.26 152,675.18 153,675.09 154,675 155,674.91 156,674.82 157,674.73 158,674.64 159,674.54 160,674.45 161,674.35 162,674.25 163,674.15 164,674.05 165,673.95 166,673.84 167,673.74 168,673.63 169,673.52 170,673.41 171,673.3 172,673.19 173,673.07 174,672.95 175,672.84 176,672.72 177,672.59 178,672.47 179,672.35 180,672.22 181,672.09 182,671.96 183,671.83 184,671.7 185,671.56 186,671.42 187,671.28 188,671.14 189,671 190,670.85 191,670.71 192,670.56 193,670.4 194,670.25 195,670.1 196,669.94 197,669.78 198,669.61 199,669.45 200,669.28 201,669.11 202,668.94 203,668.77 204,668.59 205,668.41 206,668.23 207,668.05 208,667.86 209,667.67 210,667.48 211,667.29 212,667.09 213,666.89 214,666.69 215,666.49 216,666.28 217,666.07 218,665.85 219,665.64 220,665.42 221,665.2 222,664.97 223,664.74 224,664.51 225,664.28 226,664.04 227,663.8 228,663.55 229,663.31 230,663.05 231,662.8 232,662.54 233,662.28 234,662.01 235,661.75 236,661.47 237,661.2 238,660.92 239,660.63 240,660.34 241,660.05 242,659.76 243,659.46 244,659.15 245,658.85 246,658.53 247,658.22 248,657.9 249,657.57 250,657.24 251,656.91 252,656.57 253,656.23 254,655.88 255,655.53 256,655.17 257,654.81 258,654.44 259,654.07 260,653.69 261,653.31 262,652.92 263,652.53 264,652.13 265,651.73 266,651.32 267,650.9 268,650.48 269,650.06 270,649.63 271,649.19 272,648.75 273,648.3 274,647.84 275,647.38 276,646.91 277,646.44 278,645.96 279,645.47 280,644.98 281,644.48 282,643.97 283,643.46 284,642.94 285,642.41 286,641.87 287,641.33 288,640.78 289,640.22 290,639.66 291,639.09 292,638.51 293,637.92 294,637.32 295,636.72 296,636.11 297,635.49 297.8,686.9 76,686.9" fill="#a697cc"/><line x1="79.3" y1="668.42" x2="79.3" y2="679.05" stroke="#c6b4c8" stroke-width="0.9"/><line x1="79.3" y1="679.05" x2="79.3" y2="686.9" stroke="#7e6f9c" stroke-width="0.8"/><line x1="84.85" y1="667.42" x2="84.85" y2="678.88" stroke="#c6b4c8" stroke-width="0.9"/><line x1="84.85" y1="678.88" x2="84.85" y2="686.9" stroke="#7e6f9c" stroke-width="0.8"/><line x1="90.4" y1="666.38" x2="90.4" y2="678.7" stroke="#c6b4c8" stroke-width="0.9"/><line x1="90.4" y1="678.7" x2="90.4" y2="686.9" stroke="#948ab0" stroke-width="0.8"/><line x1="95.95" y1="665.32" x2="95.95" y2="678.49" stroke="#c6b4c8" stroke-width="0.9"/><line x1="95.95" y1="678.49" x2="95.95" y2="686.9" stroke="#6a5a86" stroke-width="0.8"/><line x1="101.5" y1="664.23" x2="101.5" y2="678.27" stroke="#c6b4c8" stroke-width="0.9"/><line x1="101.5" y1="678.27" x2="101.5" y2="686.9" stroke="#8a7ca8" stroke-width="0.8"/><line x1="107.05" y1="663.12" x2="107.05" y2="678.03" stroke="#c6b4c8" stroke-width="0.9"/><line x1="107.05" y1="678.03" x2="107.05" y2="686.9" stroke="#8a7ca8" stroke-width="0.8"/><line x1="112.6" y1="661.98" x2="112.6" y2="677.77" stroke="#c6b4c8" stroke-width="0.9"/><line x1="112.6" y1="677.77" x2="112.6" y2="686.9" stroke="#6a5a86" stroke-width="0.8"/><line x1="118.15" y1="660.81" x2="118.15" y2="677.49" stroke="#c6b4c8" stroke-width="0.9"/><line x1="118.15" y1="677.49" x2="118.15" y2="686.9" stroke="#948ab0" stroke-width="0.8"/><line x1="123.7" y1="659.62" x2="123.7" y2="677.18" stroke="#c6b4c8" stroke-width="0.9"/><line x1="123.7" y1="677.18" x2="123.7" y2="686.9" stroke="#7e6f9c" stroke-width="0.8"/><line x1="129.25" y1="658.41" x2="129.25" y2="676.85" stroke="#c6b4c8" stroke-width="0.9"/><line x1="129.25" y1="676.85" x2="129.25" y2="686.9" stroke="#7e6f9c" stroke-width="0.8"/><line x1="134.8" y1="657.18" x2="134.8" y2="676.49" stroke="#c6b4c8" stroke-width="0.9"/><line x1="134.8" y1="676.49" x2="134.8" y2="686.9" stroke="#6a5a86" stroke-width="0.8"/><line x1="140.35" y1="655.92" x2="140.35" y2="676.1" stroke="#c6b4c8" stroke-width="0.9"/><line x1="140.35" y1="676.1" x2="140.35" y2="686.9" stroke="#6a5a86" stroke-width="0.8"/><line x1="145.9" y1="654.64" x2="145.9" y2="675.68" stroke="#c6b4c8" stroke-width="0.9"/><line x1="145.9" y1="675.68" x2="145.9" y2="686.9" stroke="#6a5a86" stroke-width="0.8"/><line x1="151.45" y1="653.32" x2="151.45" y2="675.22" stroke="#c6b4c8" stroke-width="0.9"/><line x1="151.45" y1="675.22" x2="151.45" y2="686.9" stroke="#7e6f9c" stroke-width="0.8"/><line x1="157" y1="651.97" x2="157" y2="674.73" stroke="#c6b4c8" stroke-width="0.9"/><line x1="157" y1="674.73" x2="157" y2="686.9" stroke="#7e6f9c" stroke-width="0.8"/><line x1="162.55" y1="650.58" x2="162.55" y2="674.2" stroke="#c6b4c8" stroke-width="0.9"/><line x1="162.55" y1="674.2" x2="162.55" y2="686.9" stroke="#7e6f9c" stroke-width="0.8"/><line x1="168.1" y1="649.17" x2="168.1" y2="673.62" stroke="#c6b4c8" stroke-width="0.9"/><line x1="168.1" y1="673.62" x2="168.1" y2="686.9" stroke="#6a5a86" stroke-width="0.8"/><line x1="173.65" y1="647.72" x2="173.65" y2="673" stroke="#c6b4c8" stroke-width="0.9"/><line x1="173.65" y1="673" x2="173.65" y2="686.9" stroke="#8a7ca8" stroke-width="0.8"/><line x1="179.2" y1="646.25" x2="179.2" y2="672.32" stroke="#c6b4c8" stroke-width="0.9"/><line x1="179.2" y1="672.32" x2="179.2" y2="686.9" stroke="#8a7ca8" stroke-width="0.8"/><line x1="184.75" y1="644.75" x2="184.75" y2="671.59" stroke="#c6b4c8" stroke-width="0.9"/><line x1="184.75" y1="671.59" x2="184.75" y2="686.9" stroke="#7e6f9c" stroke-width="0.8"/><line x1="190.3" y1="643.23" x2="190.3" y2="670.81" stroke="#c6b4c8" stroke-width="0.9"/><line x1="190.3" y1="670.81" x2="190.3" y2="686.9" stroke="#8a7ca8" stroke-width="0.8"/><line x1="195.85" y1="641.67" x2="195.85" y2="669.96" stroke="#c6b4c8" stroke-width="0.9"/><line x1="195.85" y1="669.96" x2="195.85" y2="686.9" stroke="#948ab0" stroke-width="0.8"/><line x1="201.4" y1="640.1" x2="201.4" y2="669.05" stroke="#c6b4c8" stroke-width="0.9"/><line x1="201.4" y1="669.05" x2="201.4" y2="686.9" stroke="#8a7ca8" stroke-width="0.8"/><line x1="206.95" y1="638.52" x2="206.95" y2="668.06" stroke="#c6b4c8" stroke-width="0.9"/><line x1="206.95" y1="668.06" x2="206.95" y2="686.9" stroke="#948ab0" stroke-width="0.8"/><line x1="212.5" y1="636.91" x2="212.5" y2="666.99" stroke="#c6b4c8" stroke-width="0.9"/><line x1="212.5" y1="666.99" x2="212.5" y2="686.9" stroke="#6a5a86" stroke-width="0.8"/><line x1="218.05" y1="635.27" x2="218.05" y2="665.84" stroke="#c6b4c8" stroke-width="0.9"/><line x1="218.05" y1="665.84" x2="218.05" y2="686.9" stroke="#6a5a86" stroke-width="0.8"/><line x1="223.6" y1="633.56" x2="223.6" y2="664.6" stroke="#c6b4c8" stroke-width="0.9"/><line x1="223.6" y1="664.6" x2="223.6" y2="686.9" stroke="#6a5a86" stroke-width="0.8"/><line x1="229.15" y1="631.78" x2="229.15" y2="663.27" stroke="#c6b4c8" stroke-width="0.9"/><line x1="229.15" y1="663.27" x2="229.15" y2="686.9" stroke="#6a5a86" stroke-width="0.8"/><line x1="234.7" y1="629.9" x2="234.7" y2="661.83" stroke="#c6b4c8" stroke-width="0.9"/><line x1="234.7" y1="661.83" x2="234.7" y2="686.9" stroke="#6a5a86" stroke-width="0.8"/><line x1="240.25" y1="627.91" x2="240.25" y2="660.27" stroke="#c6b4c8" stroke-width="0.9"/><line x1="240.25" y1="660.27" x2="240.25" y2="686.9" stroke="#7e6f9c" stroke-width="0.8"/><line x1="245.8" y1="625.79" x2="245.8" y2="658.6" stroke="#c6b4c8" stroke-width="0.9"/><line x1="245.8" y1="658.6" x2="245.8" y2="686.9" stroke="#948ab0" stroke-width="0.8"/><line x1="251.35" y1="623.57" x2="251.35" y2="656.79" stroke="#c6b4c8" stroke-width="0.9"/><line x1="251.35" y1="656.79" x2="251.35" y2="686.9" stroke="#8a7ca8" stroke-width="0.8"/><line x1="256.9" y1="621.25" x2="256.9" y2="654.84" stroke="#c6b4c8" stroke-width="0.9"/><line x1="256.9" y1="654.84" x2="256.9" y2="686.9" stroke="#8a7ca8" stroke-width="0.8"/><line x1="262.45" y1="618.82" x2="262.45" y2="652.75" stroke="#c6b4c8" stroke-width="0.9"/><line x1="262.45" y1="652.75" x2="262.45" y2="686.9" stroke="#7e6f9c" stroke-width="0.8"/><line x1="268" y1="616.28" x2="268" y2="650.48" stroke="#c6b4c8" stroke-width="0.9"/><line x1="268" y1="650.48" x2="268" y2="686.9" stroke="#6a5a86" stroke-width="0.8"/><line x1="273.55" y1="613.65" x2="273.55" y2="648.05" stroke="#c6b4c8" stroke-width="0.9"/><line x1="273.55" y1="648.05" x2="273.55" y2="686.9" stroke="#7e6f9c" stroke-width="0.8"/><line x1="279.1" y1="610.91" x2="279.1" y2="645.42" stroke="#c6b4c8" stroke-width="0.9"/><line x1="279.1" y1="645.42" x2="279.1" y2="686.9" stroke="#948ab0" stroke-width="0.8"/><line x1="284.65" y1="608.08" x2="284.65" y2="642.59" stroke="#c6b4c8" stroke-width="0.9"/><line x1="284.65" y1="642.59" x2="284.65" y2="686.9" stroke="#6a5a86" stroke-width="0.8"/><line x1="290.2" y1="605.16" x2="290.2" y2="639.55" stroke="#c6b4c8" stroke-width="0.9"/><line x1="290.2" y1="639.55" x2="290.2" y2="686.9" stroke="#948ab0" stroke-width="0.8"/><line x1="295.75" y1="602.14" x2="295.75" y2="636.26" stroke="#c6b4c8" stroke-width="0.9"/><line x1="295.75" y1="636.26" x2="295.75" y2="686.9" stroke="#6a5a86" stroke-width="0.8"/><line x1="301.3" y1="632.72" x2="301.3" y2="686.9" stroke="#4a4c70" stroke-width="0.8"/><line x1="306.85" y1="628.91" x2="306.85" y2="686.9" stroke="#7c80a8" stroke-width="0.8"/><line x1="312.4" y1="624.81" x2="312.4" y2="686.9" stroke="#4a4c70" stroke-width="0.8"/><line x1="317.95" y1="620.39" x2="317.95" y2="686.9" stroke="#5a5c84" stroke-width="0.8"/><line x1="323.5" y1="615.62" x2="323.5" y2="686.9" stroke="#7c80a8" stroke-width="0.8"/><line x1="329.05" y1="610.49" x2="329.05" y2="686.9" stroke="#6e7096" stroke-width="0.8"/><line x1="334.6" y1="604.97" x2="334.6" y2="686.9" stroke="#7c80a8" stroke-width="0.8"/><line x1="340.15" y1="599.01" x2="340.15" y2="686.9" stroke="#5a5c84" stroke-width="0.8"/><line x1="345.7" y1="592.61" x2="345.7" y2="686.9" stroke="#7c80a8" stroke-width="0.8"/><line x1="351.25" y1="585.7" x2="351.25" y2="686.9" stroke="#6e7096" stroke-width="0.8"/><line x1="356.8" y1="578.27" x2="356.8" y2="686.9" stroke="#5a5c84" stroke-width="0.8"/><line x1="362.35" y1="570.26" x2="362.35" y2="686.9" stroke="#7c80a8" stroke-width="0.8"/><line x1="367.9" y1="561.64" x2="367.9" y2="686.9" stroke="#7c80a8" stroke-width="0.8"/><line x1="373.45" y1="552.36" x2="373.45" y2="686.9" stroke="#6e7096" stroke-width="0.8"/><line x1="379" y1="542.36" x2="379" y2="686.9" stroke="#6e7096" stroke-width="0.8"/><line x1="384.55" y1="531.6" x2="384.55" y2="686.9" stroke="#4a4c70" stroke-width="0.8"/><line x1="390.1" y1="520" x2="390.1" y2="686.9" stroke="#4a4c70" stroke-width="0.8"/><line x1="395.65" y1="507.52" x2="395.65" y2="686.9" stroke="#6e7096" stroke-width="0.8"/><line x1="401.2" y1="494.08" x2="401.2" y2="686.9" stroke="#7c80a8" stroke-width="0.8"/><line x1="406.75" y1="479.6" x2="406.75" y2="686.9" stroke="#6e7096" stroke-width="0.8"/><line x1="412.3" y1="464.02" x2="412.3" y2="686.9" stroke="#4a4c70" stroke-width="0.8"/><rect x="237.1" y="625.5" width="5.7" height="61.4" fill="#b0609e"/><g stroke="#e0202a" stroke-width="1.3" stroke-dasharray="3,1.6"><line x1="389.2" y1="524" x2="389.2" y2="685.9"/><line x1="362.3" y1="569.5" x2="362.3" y2="685.9"/></g><line x1="365.4" y1="564.6" x2="386.8" y2="526.8" stroke="#e0202a" stroke-width="1.4" stroke-dasharray="1.6,1.6"/><line x1="380.3" y1="525.9" x2="363.5" y2="553.5" stroke="#e0202a" stroke-width="1.1"/><polygon points="359.3,560.8 361.2,552 367.3,554.3" fill="#e0202a"/><circle cx="388.2" cy="523.8" r="4.1" fill="rgba(240,160,160,0.75)" stroke="#e87070" stroke-width="1.2"/><circle cx="362.9" cy="568.8" r="4.1" fill="rgba(240,160,160,0.75)" stroke="#e87070" stroke-width="1.2"/><line x1="75.9" y1="412.5" x2="416.8" y2="412.5" stroke="#000" stroke-width="1"/><line x1="75.9" y1="412.0" x2="75.9" y2="687.9" stroke="#000" stroke-width="2"/><line x1="416.8" y1="411.5" x2="416.8" y2="687.9" stroke="#000" stroke-width="1.9"/><line x1="74.9" y1="686.9" x2="417.8" y2="686.9" stroke="#000" stroke-width="2.1"/><text x="286.86" y="461" font-size="16.8" fill="#2b4c9c" font-weight="normal" >Cross-linker # 2</text><text x="86.76" y="515.1" font-size="16.8" fill="#e0202a" font-weight="normal" >Cross-linking degree increasing</text><text transform="translate(86.73 535.9) scale(1.0090 1)" font-size="16.8" fill="#e0202a" font-weight="normal" >Integration decreasing</text><text transform="translate(337.76 516.8) scale(0.9825 1)" font-size="16.8" fill="#e0202a" font-weight="normal" >SD # 1</text><text x="301.74" y="571.7" font-size="16.8" fill="#e0202a" font-weight="normal" >SD # 2</text><text transform="translate(106.97 619.6) scale(0.9847 1)" font-size="16.8" fill="#a86aa8" font-weight="normal" >Cross-linker #1</text><text transform="translate(231.33 622.2) scale(1.0717 1)" font-size="16.8" fill="#c0559e" font-weight="normal" >ds</text><text x="238.5" y="724.8" font-size="19.5" text-anchor="middle">Solubility (kg/m<tspan font-size="11.5" dy="-7.5">3</tspan><tspan dy="7.5">)</tspan></text><text transform="translate(39.2 559.3) rotate(-90)" font-size="20.2" text-anchor="middle">D<tspan font-size="12" dy="1">T</tspan><tspan dy="-1"> (m</tspan><tspan font-size="11.5" dy="-7.5">2</tspan><tspan dy="7.5">/h)</tspan></text><defs><clipPath id="ce"><rect x="543.6" y="406.5" width="341" height="275.1"/></clipPath></defs><g clip-path="url(#ce)"><polyline points="543.5,676 545.33,675.97 547.15,675.95 548.98,675.92 550.8,675.89 552.62,675.86 554.45,675.83 556.27,675.8 558.1,675.77 559.92,675.73 561.75,675.7 563.58,675.66 565.4,675.63 567.23,675.59 569.05,675.56 570.88,675.52 572.7,675.48 574.52,675.44 576.35,675.4 578.17,675.36 580,675.31 581.83,675.27 583.65,675.22 585.48,675.18 587.3,675.13 589.12,675.08 590.95,675.03 592.77,674.98 594.6,674.92 596.42,674.87 598.25,674.82 600.08,674.76 601.9,674.7 603.73,674.64 605.55,674.58 607.38,674.52 609.2,674.45 611.02,674.38 612.85,674.32 614.67,674.25 616.5,674.18 618.33,674.1 620.15,674.03 621.98,673.95 623.8,673.87 625.62,673.79 627.45,673.71 629.27,673.62 631.1,673.54 632.92,673.45 634.75,673.35 636.58,673.26 638.4,673.16 640.23,673.06 642.05,672.96 643.88,672.86 645.7,672.75 647.52,672.64 649.35,672.53 651.17,672.42 653,672.3 654.83,672.18 656.65,672.05 658.48,671.93 660.3,671.8 662.12,671.66 663.95,671.52 665.77,671.38 667.6,671.24 669.42,671.09 671.25,670.94 673.08,670.78 674.9,670.63 676.73,670.46 678.55,670.29 680.38,670.12 682.2,669.95 684.02,669.77 685.85,669.58 687.67,669.39 689.5,669.19 691.33,668.99 693.15,668.79 694.98,668.58 696.8,668.36 698.62,668.14 700.45,667.92 702.27,667.68 704.1,667.45 705.92,667.2 707.75,666.95 709.58,666.69 711.4,666.43 713.23,666.16 715.05,665.88 716.88,665.6 718.7,665.31 720.52,665.01 722.35,664.7 724.17,664.39 726,664.07 727.83,663.74 729.65,663.4 731.48,663.05 733.3,662.69 735.12,662.33 736.95,661.95 738.77,661.57 740.6,661.18 742.42,660.77 744.25,660.36 746.08,659.93 747.9,659.5 749.73,659.05 751.55,658.59 753.38,658.13 755.2,657.64 757.02,657.15 758.85,656.64 760.67,656.12 762.5,655.59 764.33,655.05 766.15,654.49 767.98,653.91 769.8,653.32 771.62,652.72 773.45,652.1 775.27,651.47 777.1,650.82 778.92,650.15 780.75,649.47 782.58,648.76 784.4,648.04 786.23,647.31 788.05,646.55 789.88,645.77 791.7,644.98 793.52,644.16 795.35,643.33 797.17,642.47 799,641.59 800.83,640.69 802.65,639.76 804.47,638.81 806.3,637.84 808.12,636.84 809.95,635.82 811.77,634.77 813.6,633.7 815.42,632.59 817.25,631.46 819.08,630.3 820.9,629.12 822.72,627.9 824.55,626.65 826.38,625.36 828.2,624.05 830.02,622.7 831.85,621.32 833.67,619.9 835.5,618.45 837.33,616.96 839.15,615.43 840.97,613.86 842.8,612.26 844.62,610.61 846.45,608.92 848.27,607.18 850.1,605.41 851.92,603.59 853.75,601.72 855.58,599.8 857.4,597.84 859.22,595.82 861.05,593.76 862.88,591.64 864.7,589.46 866.52,587.24 868.35,584.95 870.17,582.61 872,580.21 873.83,577.75 875.65,575.22 877.47,572.63 879.3,569.97 881.12,567.25 882.95,564.46 884.77,561.59 886.6,558.66" fill="none" stroke="#555555" stroke-width="1.1" stroke-dasharray="2.6,1.8" /><polyline points="543.5,676 545.33,675.93 547.15,675.85 548.98,675.78 550.8,675.7 552.62,675.62 554.45,675.54 556.27,675.46 558.1,675.37 559.92,675.29 561.75,675.2 563.58,675.11 565.4,675.02 567.23,674.92 569.05,674.83 570.88,674.73 572.7,674.63 574.52,674.53 576.35,674.43 578.17,674.32 580,674.21 581.83,674.1 583.65,673.99 585.48,673.88 587.3,673.76 589.12,673.64 590.95,673.52 592.77,673.39 594.6,673.27 596.42,673.14 598.25,673 600.08,672.87 601.9,672.73 603.73,672.59 605.55,672.45 607.38,672.3 609.2,672.15 611.02,672 612.85,671.84 614.67,671.68 616.5,671.52 618.33,671.35 620.15,671.18 621.98,671.01 623.8,670.83 625.62,670.65 627.45,670.47 629.27,670.28 631.1,670.09 632.92,669.9 634.75,669.7 636.58,669.49 638.4,669.29 640.23,669.07 642.05,668.86 643.88,668.64 645.7,668.41 647.52,668.18 649.35,667.94 651.17,667.7 653,667.46 654.83,667.21 656.65,666.95 658.48,666.69 660.3,666.43 662.12,666.16 663.95,665.88 665.77,665.6 667.6,665.31 669.42,665.01 671.25,664.71 673.08,664.41 674.9,664.09 676.73,663.77 678.55,663.45 680.38,663.11 682.2,662.77 684.02,662.43 685.85,662.07 687.67,661.71 689.5,661.34 691.33,660.97 693.15,660.58 694.98,660.19 696.8,659.79 698.62,659.38 700.45,658.96 702.27,658.54 704.1,658.1 705.92,657.66 707.75,657.2 709.58,656.74 711.4,656.27 713.23,655.79 715.05,655.3 716.88,654.8 718.7,654.28 720.52,653.76 722.35,653.23 724.17,652.68 726,652.13 727.83,651.56 729.65,650.98 731.48,650.39 733.3,649.78 735.12,649.17 736.95,648.54 738.77,647.9 740.6,647.24 742.42,646.57 744.25,645.89 746.08,645.19 747.9,644.48 749.73,643.76 751.55,643.01 753.38,642.26 755.2,641.49 757.02,640.7 758.85,639.89 760.67,639.07 762.5,638.24 764.33,637.38 766.15,636.51 767.98,635.62 769.8,634.71 771.62,633.78 773.45,632.83 775.27,631.86 777.1,630.88 778.92,629.87 780.75,628.84 782.58,627.79 784.4,626.72 786.23,625.62 788.05,624.51 789.88,623.37 791.7,622.2 793.52,621.02 795.35,619.8 797.17,618.57 799,617.3 800.83,616.02 802.65,614.7 804.47,613.36 806.3,611.99 808.12,610.59 809.95,609.16 811.77,607.7 813.6,606.21 815.42,604.69 817.25,603.14 819.08,601.56 820.9,599.95 822.72,598.3 824.55,596.62 826.38,594.9 828.2,593.15 830.02,591.36 831.85,589.53 833.67,587.67 835.5,585.76 837.33,583.82 839.15,581.84 840.97,579.81 842.8,577.75 844.62,575.64 846.45,573.49 848.27,571.29 850.1,569.05 851.92,566.76 853.75,564.43 855.58,562.04 857.4,559.61 859.22,557.12 861.05,554.59 862.88,552 864.7,549.36 866.52,546.66 868.35,543.91 870.17,541.1 872,538.23 873.83,535.3 875.65,532.32 877.47,529.27 879.3,526.16 881.12,522.98 882.95,519.74 884.77,516.43 886.6,513.05" fill="none" stroke="#1f3f8f" stroke-width="1.1" stroke-dasharray="2.6,1.8" /><polyline points="543.5,676 545.33,675.9 547.15,675.81 548.98,675.71 550.8,675.6 552.62,675.5 554.45,675.39 556.27,675.28 558.1,675.17 559.92,675.06 561.75,674.94 563.58,674.83 565.4,674.71 567.23,674.58 569.05,674.46 570.88,674.33 572.7,674.2 574.52,674.06 576.35,673.93 578.17,673.79 580,673.65 581.83,673.5 583.65,673.35 585.48,673.2 587.3,673.05 589.12,672.89 590.95,672.73 592.77,672.56 594.6,672.39 596.42,672.22 598.25,672.05 600.08,671.87 601.9,671.69 603.73,671.5 605.55,671.31 607.38,671.11 609.2,670.92 611.02,670.71 612.85,670.51 614.67,670.3 616.5,670.08 618.33,669.86 620.15,669.64 621.98,669.41 623.8,669.17 625.62,668.93 627.45,668.69 629.27,668.44 631.1,668.18 632.92,667.92 634.75,667.66 636.58,667.39 638.4,667.11 640.23,666.83 642.05,666.54 643.88,666.25 645.7,665.95 647.52,665.64 649.35,665.33 651.17,665.01 653,664.68 654.83,664.35 656.65,664.01 658.48,663.66 660.3,663.31 662.12,662.94 663.95,662.57 665.77,662.2 667.6,661.81 669.42,661.42 671.25,661.02 673.08,660.61 674.9,660.19 676.73,659.76 678.55,659.32 680.38,658.88 682.2,658.42 684.02,657.96 685.85,657.48 687.67,657 689.5,656.51 691.33,656 693.15,655.49 694.98,654.96 696.8,654.42 698.62,653.87 700.45,653.31 702.27,652.74 704.1,652.16 705.92,651.56 707.75,650.96 709.58,650.33 711.4,649.7 713.23,649.05 715.05,648.39 716.88,647.72 718.7,647.03 720.52,646.33 722.35,645.61 724.17,644.87 726,644.13 727.83,643.36 729.65,642.58 731.48,641.79 733.3,640.97 735.12,640.14 736.95,639.29 738.77,638.43 740.6,637.55 742.42,636.64 744.25,635.72 746.08,634.78 747.9,633.82 749.73,632.84 751.55,631.84 753.38,630.82 755.2,629.78 757.02,628.71 758.85,627.62 760.67,626.51 762.5,625.38 764.33,624.22 766.15,623.04 767.98,621.84 769.8,620.6 771.62,619.35 773.45,618.06 775.27,616.75 777.1,615.42 778.92,614.05 780.75,612.66 782.58,611.23 784.4,609.78 786.23,608.29 788.05,606.78 789.88,605.23 791.7,603.65 793.52,602.04 795.35,600.39 797.17,598.71 799,597 800.83,595.24 802.65,593.45 804.47,591.63 806.3,589.76 808.12,587.86 809.95,585.92 811.77,583.93 813.6,581.91 815.42,579.84 817.25,577.73 819.08,575.57 820.9,573.37 822.72,571.12 824.55,568.83 826.38,566.48 828.2,564.09 830.02,561.65 831.85,559.16 833.67,556.61 835.5,554.01 837.33,551.36 839.15,548.65 840.97,545.89 842.8,543.06 844.62,540.18 846.45,537.24 848.27,534.23 850.1,531.16 851.92,528.03 853.75,524.83 855.58,521.57 857.4,518.24 859.22,514.83 861.05,511.36 862.88,507.81 864.7,504.19 866.52,500.49 868.35,496.72 870.17,492.86 872,488.93 873.83,484.91 875.65,480.81 877.47,476.62 879.3,472.35 881.12,467.98 882.95,463.52 884.77,458.97 886.6,454.33" fill="none" stroke="#2a7a3a" stroke-width="1.1" stroke-dasharray="2.6,1.8" /><polyline points="543.5,676 545.33,675.86 547.15,675.72 548.98,675.58 550.8,675.43 552.62,675.28 554.45,675.13 556.27,674.98 558.1,674.82 559.92,674.66 561.75,674.49 563.58,674.32 565.4,674.15 567.23,673.98 569.05,673.8 570.88,673.62 572.7,673.43 574.52,673.24 576.35,673.05 578.17,672.85 580,672.65 581.83,672.45 583.65,672.24 585.48,672.02 587.3,671.81 589.12,671.58 590.95,671.36 592.77,671.13 594.6,670.89 596.42,670.65 598.25,670.4 600.08,670.15 601.9,669.9 603.73,669.64 605.55,669.37 607.38,669.1 609.2,668.82 611.02,668.54 612.85,668.25 614.67,667.96 616.5,667.66 618.33,667.35 620.15,667.04 621.98,666.72 623.8,666.4 625.62,666.06 627.45,665.73 629.27,665.38 631.1,665.03 632.92,664.67 634.75,664.3 636.58,663.93 638.4,663.55 640.23,663.16 642.05,662.76 643.88,662.36 645.7,661.95 647.52,661.52 649.35,661.09 651.17,660.66 653,660.21 654.83,659.75 656.65,659.29 658.48,658.81 660.3,658.33 662.12,657.83 663.95,657.33 665.77,656.81 667.6,656.29 669.42,655.75 671.25,655.21 673.08,654.65 674.9,654.08 676.73,653.5 678.55,652.91 680.38,652.3 682.2,651.69 684.02,651.06 685.85,650.42 687.67,649.77 689.5,649.1 691.33,648.42 693.15,647.72 694.98,647.01 696.8,646.29 698.62,645.55 700.45,644.8 702.27,644.03 704.1,643.25 705.92,642.45 707.75,641.64 709.58,640.81 711.4,639.96 713.23,639.09 715.05,638.21 716.88,637.31 718.7,636.39 720.52,635.45 722.35,634.5 724.17,633.52 726,632.53 727.83,631.51 729.65,630.48 731.48,629.42 733.3,628.34 735.12,627.24 736.95,626.12 738.77,624.98 740.6,623.81 742.42,622.62 744.25,621.4 746.08,620.16 747.9,618.9 749.73,617.61 751.55,616.29 753.38,614.95 755.2,613.58 757.02,612.18 758.85,610.75 760.67,609.3 762.5,607.81 764.33,606.3 766.15,604.75 767.98,603.18 769.8,601.57 771.62,599.93 773.45,598.26 775.27,596.55 777.1,594.81 778.92,593.03 780.75,591.22 782.58,589.37 784.4,587.48 786.23,585.56 788.05,583.59 789.88,581.59 791.7,579.55 793.52,577.46 795.35,575.33 797.17,573.16 799,570.95 800.83,568.69 802.65,566.39 804.47,564.04 806.3,561.64 808.12,559.19 809.95,556.7 811.77,554.15 813.6,551.55 815.42,548.9 817.25,546.2 819.08,543.44 820.9,540.63 822.72,537.76 824.55,534.83 826.38,531.84 828.2,528.79 830.02,525.68 831.85,522.51 833.67,519.27 835.5,515.97 837.33,512.6 839.15,509.17 840.97,505.66 842.8,502.09 844.62,498.44 846.45,494.71 848.27,490.92 850.1,487.04 851.92,483.09 853.75,479.06 855.58,474.94 857.4,470.75 859.22,466.46 861.05,462.1 862.88,457.64 864.7,453.09 866.52,448.46 868.35,443.72 870.17,438.9 872,433.97 873.83,428.95 875.65,423.82 877.47,418.59 879.3,413.26 881.12,407.82 882.95,402.27 884.77,396.6 886.6,390.82" fill="none" stroke="#3a78c8" stroke-width="1.1" stroke-dasharray="2.6,1.8" /><polyline points="543.5,676 545.33,675.8 547.15,675.59 548.98,675.38 550.8,675.17 552.62,674.95 554.45,674.73 556.27,674.5 558.1,674.27 559.92,674.04 561.75,673.79 563.58,673.55 565.4,673.3 567.23,673.04 569.05,672.78 570.88,672.52 572.7,672.25 574.52,671.97 576.35,671.69 578.17,671.4 580,671.11 581.83,670.81 583.65,670.5 585.48,670.19 587.3,669.87 589.12,669.55 590.95,669.22 592.77,668.88 594.6,668.54 596.42,668.19 598.25,667.83 600.08,667.46 601.9,667.09 603.73,666.71 605.55,666.32 607.38,665.93 609.2,665.53 611.02,665.11 612.85,664.7 614.67,664.27 616.5,663.83 618.33,663.39 620.15,662.93 621.98,662.47 623.8,662 625.62,661.52 627.45,661.02 629.27,660.52 631.1,660.01 632.92,659.49 634.75,658.96 636.58,658.42 638.4,657.86 640.23,657.3 642.05,656.72 643.88,656.13 645.7,655.54 647.52,654.92 649.35,654.3 651.17,653.67 653,653.02 654.83,652.36 656.65,651.68 658.48,650.99 660.3,650.29 662.12,649.57 663.95,648.84 665.77,648.1 667.6,647.34 669.42,646.56 671.25,645.77 673.08,644.97 674.9,644.14 676.73,643.31 678.55,642.45 680.38,641.58 682.2,640.69 684.02,639.78 685.85,638.85 687.67,637.91 689.5,636.94 691.33,635.96 693.15,634.96 694.98,633.93 696.8,632.89 698.62,631.83 700.45,630.74 702.27,629.63 704.1,628.5 705.92,627.35 707.75,626.18 709.58,624.98 711.4,623.75 713.23,622.51 715.05,621.24 716.88,619.94 718.7,618.61 720.52,617.26 722.35,615.89 724.17,614.48 726,613.05 727.83,611.59 729.65,610.1 731.48,608.58 733.3,607.03 735.12,605.44 736.95,603.83 738.77,602.18 740.6,600.5 742.42,598.79 744.25,597.04 746.08,595.26 747.9,593.45 749.73,591.59 751.55,589.7 753.38,587.77 755.2,585.8 757.02,583.8 758.85,581.75 760.67,579.66 762.5,577.53 764.33,575.36 766.15,573.14 767.98,570.88 769.8,568.58 771.62,566.23 773.45,563.83 775.27,561.38 777.1,558.88 778.92,556.34 780.75,553.74 782.58,551.09 784.4,548.39 786.23,545.64 788.05,542.82 789.88,539.96 791.7,537.03 793.52,534.05 795.35,531.01 797.17,527.9 799,524.74 800.83,521.51 802.65,518.21 804.47,514.85 806.3,511.43 808.12,507.93 809.95,504.36 811.77,500.73 813.6,497.02 815.42,493.23 817.25,489.37 819.08,485.44 820.9,481.42 822.72,477.32 824.55,473.14 826.38,468.88 828.2,464.54 830.02,460.1 831.85,455.58 833.67,450.96 835.5,446.26 837.33,441.46 839.15,436.56 840.97,431.57 842.8,426.47 844.62,421.28 846.45,415.98 848.27,410.57 850.1,405.05 851.92,399.43 853.75,393.69 855.58,387.84 857.4,381.87 859.22,375.78 861.05,369.57 862.88,363.23 864.7,356.77 866.52,350.18 868.35,343.46 870.17,336.6 872,329.6 873.83,322.47 875.65,315.19 877.47,307.77 879.3,300.19 881.12,292.47 882.95,284.59 884.77,276.55 886.6,268.36" fill="none" stroke="#c8a8d8" stroke-width="1.1" stroke-dasharray="2.6,1.8" /></g><circle cx="568.14" cy="675.02" r="4.5" fill="#b4b4b4" stroke="#606060" stroke-width="1.1"/><line x1="565.54" y1="671.82" x2="570.74" y2="671.82" stroke="#333" stroke-width="0.8" /><line x1="565.54" y1="678.22" x2="570.74" y2="678.22" stroke="#333" stroke-width="0.8" /><line x1="568.14" y1="671.82" x2="568.14" y2="678.22" stroke="#555" stroke-width="0.6" /><circle cx="632.01" cy="673.54" r="4.5" fill="#b4b4b4" stroke="#606060" stroke-width="1.1"/><line x1="629.41" y1="670.34" x2="634.61" y2="670.34" stroke="#333" stroke-width="0.8" /><line x1="629.41" y1="676.75" x2="634.61" y2="676.75" stroke="#333" stroke-width="0.8" /><line x1="632.01" y1="670.34" x2="632.01" y2="676.75" stroke="#555" stroke-width="0.6" /><circle cx="701.36" cy="671.58" r="4.5" fill="#b4b4b4" stroke="#606060" stroke-width="1.1"/><line x1="698.76" y1="668.38" x2="703.96" y2="668.38" stroke="#333" stroke-width="0.8" /><line x1="698.76" y1="674.78" x2="703.96" y2="674.78" stroke="#333" stroke-width="0.8" /><line x1="701.36" y1="668.38" x2="701.36" y2="674.78" stroke="#555" stroke-width="0.6" /><circle cx="769.8" cy="651.2" r="4.5" fill="#b4b4b4" stroke="#606060" stroke-width="1.1"/><line x1="767.2" y1="648" x2="772.4" y2="648" stroke="#333" stroke-width="0.8" /><line x1="767.2" y1="654.4" x2="772.4" y2="654.4" stroke="#333" stroke-width="0.8" /><line x1="769.8" y1="648" x2="769.8" y2="654.4" stroke="#555" stroke-width="0.6" /><circle cx="811.77" cy="625.92" r="4.5" fill="#b4b4b4" stroke="#606060" stroke-width="1.1"/><line x1="809.17" y1="622.72" x2="814.38" y2="622.72" stroke="#333" stroke-width="0.8" /><line x1="809.17" y1="629.12" x2="814.38" y2="629.12" stroke="#333" stroke-width="0.8" /><line x1="811.77" y1="622.72" x2="811.77" y2="629.12" stroke="#555" stroke-width="0.6" /><circle cx="859.22" cy="604.31" r="4.5" fill="#b4b4b4" stroke="#606060" stroke-width="1.1"/><line x1="856.62" y1="601.11" x2="861.82" y2="601.11" stroke="#333" stroke-width="0.8" /><line x1="856.62" y1="607.51" x2="861.82" y2="607.51" stroke="#333" stroke-width="0.8" /><line x1="859.22" y1="601.11" x2="859.22" y2="607.51" stroke="#555" stroke-width="0.6" /><circle cx="568.14" cy="676" r="4.5" fill="#b9cbea" stroke="#2f4f9f" stroke-width="1.1"/><line x1="565.54" y1="672.8" x2="570.74" y2="672.8" stroke="#333" stroke-width="0.8" /><line x1="565.54" y1="679.2" x2="570.74" y2="679.2" stroke="#333" stroke-width="0.8" /><line x1="568.14" y1="672.8" x2="568.14" y2="679.2" stroke="#555" stroke-width="0.6" /><circle cx="632.01" cy="674.04" r="4.5" fill="#b9cbea" stroke="#2f4f9f" stroke-width="1.1"/><line x1="629.41" y1="670.84" x2="634.61" y2="670.84" stroke="#333" stroke-width="0.8" /><line x1="629.41" y1="677.24" x2="634.61" y2="677.24" stroke="#333" stroke-width="0.8" /><line x1="632.01" y1="670.84" x2="632.01" y2="677.24" stroke="#555" stroke-width="0.6" /><circle cx="701.36" cy="666.92" r="4.5" fill="#b9cbea" stroke="#2f4f9f" stroke-width="1.1"/><line x1="698.76" y1="663.72" x2="703.96" y2="663.72" stroke="#333" stroke-width="0.8" /><line x1="698.76" y1="670.12" x2="703.96" y2="670.12" stroke="#333" stroke-width="0.8" /><line x1="701.36" y1="663.72" x2="701.36" y2="670.12" stroke="#555" stroke-width="0.6" /><circle cx="769.8" cy="636.72" r="4.5" fill="#b9cbea" stroke="#2f4f9f" stroke-width="1.1"/><line x1="767.2" y1="633.52" x2="772.4" y2="633.52" stroke="#333" stroke-width="0.8" /><line x1="767.2" y1="639.92" x2="772.4" y2="639.92" stroke="#333" stroke-width="0.8" /><line x1="769.8" y1="633.52" x2="769.8" y2="639.92" stroke="#555" stroke-width="0.6" /><circle cx="811.77" cy="603.33" r="4.5" fill="#b9cbea" stroke="#2f4f9f" stroke-width="1.1"/><line x1="809.17" y1="600.13" x2="814.38" y2="600.13" stroke="#333" stroke-width="0.8" /><line x1="809.17" y1="606.53" x2="814.38" y2="606.53" stroke="#333" stroke-width="0.8" /><line x1="811.77" y1="600.13" x2="811.77" y2="606.53" stroke="#555" stroke-width="0.6" /><circle cx="859.22" cy="572.4" r="4.5" fill="#b9cbea" stroke="#2f4f9f" stroke-width="1.1"/><line x1="856.62" y1="569.2" x2="861.82" y2="569.2" stroke="#333" stroke-width="0.8" /><line x1="856.62" y1="575.6" x2="861.82" y2="575.6" stroke="#333" stroke-width="0.8" /><line x1="859.22" y1="569.2" x2="859.22" y2="575.6" stroke="#555" stroke-width="0.6" /><circle cx="568.14" cy="676" r="4.5" fill="#8fc39c" stroke="#2e7a40" stroke-width="1.1"/><line x1="565.54" y1="672.8" x2="570.74" y2="672.8" stroke="#333" stroke-width="0.8" /><line x1="565.54" y1="679.2" x2="570.74" y2="679.2" stroke="#333" stroke-width="0.8" /><line x1="568.14" y1="672.8" x2="568.14" y2="679.2" stroke="#555" stroke-width="0.6" /><circle cx="632.01" cy="671.09" r="4.5" fill="#8fc39c" stroke="#2e7a40" stroke-width="1.1"/><line x1="629.41" y1="667.89" x2="634.61" y2="667.89" stroke="#333" stroke-width="0.8" /><line x1="629.41" y1="674.29" x2="634.61" y2="674.29" stroke="#333" stroke-width="0.8" /><line x1="632.01" y1="667.89" x2="632.01" y2="674.29" stroke="#555" stroke-width="0.6" /><circle cx="701.36" cy="660.29" r="4.5" fill="#8fc39c" stroke="#2e7a40" stroke-width="1.1"/><line x1="698.76" y1="657.09" x2="703.96" y2="657.09" stroke="#333" stroke-width="0.8" /><line x1="698.76" y1="663.49" x2="703.96" y2="663.49" stroke="#333" stroke-width="0.8" /><line x1="701.36" y1="657.09" x2="701.36" y2="663.49" stroke="#555" stroke-width="0.6" /><circle cx="769.8" cy="620.52" r="4.5" fill="#8fc39c" stroke="#2e7a40" stroke-width="1.1"/><line x1="767.2" y1="617.32" x2="772.4" y2="617.32" stroke="#333" stroke-width="0.8" /><line x1="767.2" y1="623.72" x2="772.4" y2="623.72" stroke="#333" stroke-width="0.8" /><line x1="769.8" y1="617.32" x2="769.8" y2="623.72" stroke="#555" stroke-width="0.6" /><circle cx="811.77" cy="580.25" r="4.5" fill="#8fc39c" stroke="#2e7a40" stroke-width="1.1"/><line x1="809.17" y1="577.05" x2="814.38" y2="577.05" stroke="#333" stroke-width="0.8" /><line x1="809.17" y1="583.46" x2="814.38" y2="583.46" stroke="#333" stroke-width="0.8" /><line x1="811.77" y1="577.05" x2="811.77" y2="583.46" stroke="#555" stroke-width="0.6" /><circle cx="859.22" cy="529.68" r="4.5" fill="#8fc39c" stroke="#2e7a40" stroke-width="1.1"/><line x1="856.62" y1="526.48" x2="861.82" y2="526.48" stroke="#333" stroke-width="0.8" /><line x1="856.62" y1="532.88" x2="861.82" y2="532.88" stroke="#333" stroke-width="0.8" /><line x1="859.22" y1="526.48" x2="859.22" y2="532.88" stroke="#555" stroke-width="0.6" /><circle cx="568.14" cy="676" r="4.5" fill="#bcd2f0" stroke="#6a98d4" stroke-width="1.1"/><line x1="565.54" y1="672.8" x2="570.74" y2="672.8" stroke="#333" stroke-width="0.8" /><line x1="565.54" y1="679.2" x2="570.74" y2="679.2" stroke="#333" stroke-width="0.8" /><line x1="568.14" y1="672.8" x2="568.14" y2="679.2" stroke="#555" stroke-width="0.6" /><circle cx="632.01" cy="668.63" r="4.5" fill="#bcd2f0" stroke="#6a98d4" stroke-width="1.1"/><line x1="629.41" y1="665.43" x2="634.61" y2="665.43" stroke="#333" stroke-width="0.8" /><line x1="629.41" y1="671.84" x2="634.61" y2="671.84" stroke="#333" stroke-width="0.8" /><line x1="632.01" y1="665.43" x2="632.01" y2="671.84" stroke="#555" stroke-width="0.6" /><circle cx="701.36" cy="651.2" r="4.5" fill="#bcd2f0" stroke="#6a98d4" stroke-width="1.1"/><line x1="698.76" y1="648" x2="703.96" y2="648" stroke="#333" stroke-width="0.8" /><line x1="698.76" y1="654.4" x2="703.96" y2="654.4" stroke="#333" stroke-width="0.8" /><line x1="701.36" y1="648" x2="701.36" y2="654.4" stroke="#555" stroke-width="0.6" /><circle cx="769.8" cy="594.49" r="4.5" fill="#bcd2f0" stroke="#6a98d4" stroke-width="1.1"/><line x1="767.2" y1="591.29" x2="772.4" y2="591.29" stroke="#333" stroke-width="0.8" /><line x1="767.2" y1="597.69" x2="772.4" y2="597.69" stroke="#333" stroke-width="0.8" /><line x1="769.8" y1="591.29" x2="769.8" y2="597.69" stroke="#555" stroke-width="0.6" /><circle cx="811.77" cy="539.5" r="4.5" fill="#bcd2f0" stroke="#6a98d4" stroke-width="1.1"/><line x1="809.17" y1="536.3" x2="814.38" y2="536.3" stroke="#333" stroke-width="0.8" /><line x1="809.17" y1="542.7" x2="814.38" y2="542.7" stroke="#333" stroke-width="0.8" /><line x1="811.77" y1="536.3" x2="811.77" y2="542.7" stroke="#555" stroke-width="0.6" /><circle cx="859.22" cy="488.93" r="4.5" fill="#bcd2f0" stroke="#6a98d4" stroke-width="1.1"/><line x1="856.62" y1="485.73" x2="861.82" y2="485.73" stroke="#333" stroke-width="0.8" /><line x1="856.62" y1="492.13" x2="861.82" y2="492.13" stroke="#333" stroke-width="0.8" /><line x1="859.22" y1="485.73" x2="859.22" y2="492.13" stroke="#555" stroke-width="0.6" /><circle cx="568.14" cy="673.54" r="4.5" fill="#dccbe6" stroke="#d4bfe0" stroke-width="1.1"/><line x1="565.54" y1="670.34" x2="570.74" y2="670.34" stroke="#333" stroke-width="0.8" /><line x1="565.54" y1="676.75" x2="570.74" y2="676.75" stroke="#333" stroke-width="0.8" /><line x1="568.14" y1="670.34" x2="568.14" y2="676.75" stroke="#555" stroke-width="0.6" /><circle cx="632.01" cy="664.71" r="4.5" fill="#dccbe6" stroke="#d4bfe0" stroke-width="1.1"/><line x1="629.41" y1="661.51" x2="634.61" y2="661.51" stroke="#333" stroke-width="0.8" /><line x1="629.41" y1="667.91" x2="634.61" y2="667.91" stroke="#333" stroke-width="0.8" /><line x1="632.01" y1="661.51" x2="632.01" y2="667.91" stroke="#555" stroke-width="0.6" /><circle cx="701.36" cy="623.95" r="4.5" fill="#dccbe6" stroke="#d4bfe0" stroke-width="1.1"/><line x1="698.76" y1="620.75" x2="703.96" y2="620.75" stroke="#333" stroke-width="0.8" /><line x1="698.76" y1="627.15" x2="703.96" y2="627.15" stroke="#333" stroke-width="0.8" /><line x1="701.36" y1="620.75" x2="701.36" y2="627.15" stroke="#555" stroke-width="0.6" /><circle cx="769.8" cy="565.52" r="4.5" fill="#dccbe6" stroke="#d4bfe0" stroke-width="1.1"/><line x1="767.2" y1="562.32" x2="772.4" y2="562.32" stroke="#333" stroke-width="0.8" /><line x1="767.2" y1="568.73" x2="772.4" y2="568.73" stroke="#333" stroke-width="0.8" /><line x1="769.8" y1="562.32" x2="769.8" y2="568.73" stroke="#555" stroke-width="0.6" /><circle cx="811.77" cy="486.97" r="4.5" fill="#dccbe6" stroke="#d4bfe0" stroke-width="1.1"/><line x1="809.17" y1="483.77" x2="814.38" y2="483.77" stroke="#333" stroke-width="0.8" /><line x1="809.17" y1="490.17" x2="814.38" y2="490.17" stroke="#333" stroke-width="0.8" /><line x1="811.77" y1="483.77" x2="811.77" y2="490.17" stroke="#555" stroke-width="0.6" /><circle cx="859.22" cy="419.7" r="4.5" fill="#dccbe6" stroke="#d4bfe0" stroke-width="1.1"/><line x1="856.62" y1="416.5" x2="861.82" y2="416.5" stroke="#333" stroke-width="0.8" /><line x1="856.62" y1="422.9" x2="861.82" y2="422.9" stroke="#333" stroke-width="0.8" /><line x1="859.22" y1="416.5" x2="859.22" y2="422.9" stroke="#555" stroke-width="0.6" /><line x1="859.22" y1="412.7" x2="859.22" y2="426.7" stroke="#222" stroke-width="0.9" /><line x1="856.22" y1="412.7" x2="862.22" y2="412.7" stroke="#222" stroke-width="0.9" /><line x1="856.22" y1="426.7" x2="862.22" y2="426.7" stroke="#222" stroke-width="0.9" /><text x="555.92" y="424.9" font-size="16.9" fill="#000" font-weight="normal" >Temperature</text><circle cx="569" cy="438.7" r="4.3" fill="#b4b4b4" stroke="#606060" stroke-width="1.1"/><text x="592.5" y="441.9" font-size="16.9" text-anchor="start" fill="#000" font-weight="normal" >300 K</text><circle cx="569" cy="451.2" r="4.3" fill="#b9cbea" stroke="#2f4f9f" stroke-width="1.1"/><text x="592.5" y="456.5" font-size="16.9" text-anchor="start" fill="#000" font-weight="normal" >315 K</text><circle cx="569" cy="466.1" r="4.3" fill="#8fc39c" stroke="#2e7a40" stroke-width="1.1"/><text x="592.5" y="471.5" font-size="16.9" text-anchor="start" fill="#000" font-weight="normal" >330 K</text><circle cx="569" cy="481.3" r="4.3" fill="#bcd2f0" stroke="#6a98d4" stroke-width="1.1"/><text x="592.5" y="486.7" font-size="16.9" text-anchor="start" fill="#000" font-weight="normal" >345 K</text><circle cx="569" cy="496.5" r="4.3" fill="#dccbe6" stroke="#d4bfe0" stroke-width="1.1"/><text x="592.5" y="501.3" font-size="16.9" text-anchor="start" fill="#000" font-weight="normal" >360 K</text><line x1="557" y1="510.1" x2="579" y2="510.1" stroke="#555555" stroke-width="1.1" stroke-dasharray="2.5,2"/><text x="592.5" y="516.5" font-size="16.9">300 K fit (R<tspan font-size="9" dy="-7">2</tspan><tspan dy="7">=0.96)</tspan></text><line x1="557" y1="528.5" x2="579" y2="528.5" stroke="#1f3f8f" stroke-width="1.1" stroke-dasharray="2.5,2"/><text x="592.5" y="533.9" font-size="16.9">315 K fit (R<tspan font-size="9" dy="-7">2</tspan><tspan dy="7">=0.96)</tspan></text><line x1="557" y1="545.3" x2="579" y2="545.3" stroke="#2a7a3a" stroke-width="1.1" stroke-dasharray="2.5,2"/><text x="592.5" y="550.7" font-size="16.9">330 K fit (R<tspan font-size="9" dy="-7">2</tspan><tspan dy="7">=0.96)</tspan></text><line x1="557" y1="563.2" x2="579" y2="563.2" stroke="#3a78c8" stroke-width="1.1" stroke-dasharray="2.5,2"/><text x="592.5" y="568" font-size="16.9">345 K fit (R<tspan font-size="9" dy="-7">2</tspan><tspan dy="7">=0.96)</tspan></text><line x1="557" y1="580.5" x2="579" y2="580.5" stroke="#c8a8d8" stroke-width="1.1" stroke-dasharray="2.5,2"/><text x="592.5" y="586.1" font-size="16.9">360 K fit (R<tspan font-size="9" dy="-7">2</tspan><tspan dy="7">=0.96)</tspan></text><rect x="543.6" y="406.5" width="341" height="275.1" fill="none" stroke="#000" stroke-width="1.3"/><line x1="538.1" y1="676" x2="543.6" y2="676" stroke="#000" stroke-width="1.2" /><text x="536" y="682.6" font-size="16.8" text-anchor="end" fill="#000" font-weight="normal" >0</text><line x1="540.6" y1="651.45" x2="543.6" y2="651.45" stroke="#000" stroke-width="1" /><line x1="538.1" y1="626.9" x2="543.6" y2="626.9" stroke="#000" stroke-width="1.2" /><text x="536" y="633.5" font-size="16.8" text-anchor="end" fill="#000" font-weight="normal" >1</text><line x1="540.6" y1="602.35" x2="543.6" y2="602.35" stroke="#000" stroke-width="1" /><line x1="538.1" y1="577.8" x2="543.6" y2="577.8" stroke="#000" stroke-width="1.2" /><text x="536" y="584.4" font-size="16.8" text-anchor="end" fill="#000" font-weight="normal" >2</text><line x1="540.6" y1="553.25" x2="543.6" y2="553.25" stroke="#000" stroke-width="1" /><line x1="538.1" y1="528.7" x2="543.6" y2="528.7" stroke="#000" stroke-width="1.2" /><text x="536" y="535.3" font-size="16.8" text-anchor="end" fill="#000" font-weight="normal" >3</text><line x1="540.6" y1="504.15" x2="543.6" y2="504.15" stroke="#000" stroke-width="1" /><line x1="538.1" y1="479.6" x2="543.6" y2="479.6" stroke="#000" stroke-width="1.2" /><text x="536" y="486.2" font-size="16.8" text-anchor="end" fill="#000" font-weight="normal" >4</text><line x1="540.6" y1="455.05" x2="543.6" y2="455.05" stroke="#000" stroke-width="1" /><line x1="538.1" y1="430.5" x2="543.6" y2="430.5" stroke="#000" stroke-width="1.2" /><text x="536" y="437.1" font-size="16.8" text-anchor="end" fill="#000" font-weight="normal" >5</text><line x1="540.6" y1="405.95" x2="543.6" y2="405.95" stroke="#000" stroke-width="1" /><line x1="543.5" y1="681.6" x2="543.5" y2="687.1" stroke="#000" stroke-width="1.2" /><text x="540.5" y="702.1" font-size="16.8" text-anchor="middle" fill="#000" font-weight="normal" >0</text><line x1="566.31" y1="681.6" x2="566.31" y2="684.6" stroke="#000" stroke-width="1" /><line x1="589.12" y1="681.6" x2="589.12" y2="687.1" stroke="#000" stroke-width="1.2" /><text x="586.12" y="702.1" font-size="16.8" text-anchor="middle" fill="#000" font-weight="normal" >50</text><line x1="611.94" y1="681.6" x2="611.94" y2="684.6" stroke="#000" stroke-width="1" /><line x1="634.75" y1="681.6" x2="634.75" y2="687.1" stroke="#000" stroke-width="1.2" /><text x="631.75" y="702.1" font-size="16.8" text-anchor="middle" fill="#000" font-weight="normal" >100</text><line x1="657.56" y1="681.6" x2="657.56" y2="684.6" stroke="#000" stroke-width="1" /><line x1="680.38" y1="681.6" x2="680.38" y2="687.1" stroke="#000" stroke-width="1.2" /><text x="677.38" y="702.1" font-size="16.8" text-anchor="middle" fill="#000" font-weight="normal" >150</text><line x1="703.19" y1="681.6" x2="703.19" y2="684.6" stroke="#000" stroke-width="1" /><line x1="726" y1="681.6" x2="726" y2="687.1" stroke="#000" stroke-width="1.2" /><text x="723" y="702.1" font-size="16.8" text-anchor="middle" fill="#000" font-weight="normal" >200</text><line x1="748.81" y1="681.6" x2="748.81" y2="684.6" stroke="#000" stroke-width="1" /><line x1="771.62" y1="681.6" x2="771.62" y2="687.1" stroke="#000" stroke-width="1.2" /><text x="768.62" y="702.1" font-size="16.8" text-anchor="middle" fill="#000" font-weight="normal" >250</text><line x1="794.44" y1="681.6" x2="794.44" y2="684.6" stroke="#000" stroke-width="1" /><line x1="817.25" y1="681.6" x2="817.25" y2="687.1" stroke="#000" stroke-width="1.2" /><text x="814.25" y="702.1" font-size="16.8" text-anchor="middle" fill="#000" font-weight="normal" >300</text><line x1="840.06" y1="681.6" x2="840.06" y2="684.6" stroke="#000" stroke-width="1" /><line x1="862.88" y1="681.6" x2="862.88" y2="687.1" stroke="#000" stroke-width="1.2" /><text x="859.88" y="702.1" font-size="16.8" text-anchor="middle" fill="#000" font-weight="normal" >350</text><line x1="885.69" y1="681.6" x2="885.69" y2="684.6" stroke="#000" stroke-width="1" /><text x="718.5" y="724.8" font-size="19.5" text-anchor="middle">Solubility (kg/m<tspan font-size="11" dy="-7">3</tspan><tspan dy="7">)</tspan></text><text x="0" y="0" font-size="20.2" transform="translate(506.8 559) rotate(-90)" text-anchor="middle">D<tspan font-size="12.5" dy="1">MS</tspan><tspan dy="-1"> (×10</tspan><tspan font-size="10" dy="-7">-6</tspan><tspan dy="7"> m</tspan><tspan font-size="10" dy="-7">2</tspan><tspan dy="7">/h)</tspan></text><defs><clipPath id="cf"><rect x="1050.5" y="402.6" width="341" height="274.4"/></clipPath></defs><g clip-path="url(#cf)"><line x1="1054.86" y1="653.68" x2="1391.93" y2="531.29" stroke="#e0162b" stroke-width="1.2" stroke-dasharray="2,2.5"/><line x1="1054.86" y1="667.81" x2="1391.93" y2="594.68" stroke="#1a7a3a" stroke-width="1.2" stroke-dasharray="6,2,1.5,2"/><line x1="1054.86" y1="672.34" x2="1377.27" y2="628.16" stroke="#1f4aa0" stroke-width="1.2" stroke-dasharray="6,2,1.5,2"/><line x1="1054.86" y1="675.63" x2="1377.27" y2="659.44" stroke="#54449a" stroke-width="1.2" stroke-dasharray="6,2,1.5,2"/><line x1="1196.53" y1="649.56" x2="1333.31" y2="505.5" stroke="#6a8ad0" stroke-width="1.2" stroke-dasharray="6,2,1.5,2"/><line x1="1181.87" y1="635.84" x2="1339.66" y2="519.77" stroke="#d07060" stroke-width="1.2" stroke-dasharray="6,2,1.5,2"/><line x1="1146.21" y1="644.35" x2="1318.65" y2="574.37" stroke="#5a9a5a" stroke-width="1.2" stroke-dasharray="5,2,1.5,2"/><line x1="1089.06" y1="658.34" x2="1313.77" y2="588.37" stroke="#8a6a6a" stroke-width="1.2" stroke-dasharray="7,3"/><line x1="1054.86" y1="670.96" x2="1333.31" y2="638.58" stroke="#e07a30" stroke-width="1.2" stroke-dasharray="6,2,1.5,2"/><line x1="1064.63" y1="672.88" x2="1328.42" y2="641.33" stroke="#909050" stroke-width="1.2" stroke-dasharray="6,2,1.5,2"/><line x1="1123.25" y1="671.51" x2="1333.31" y2="646.82" stroke="#d0a030" stroke-width="1.2" stroke-dasharray="1.5,1.5"/><line x1="1074.4" y1="674.8" x2="1333.31" y2="650.93" stroke="#7090c0" stroke-width="1.2" stroke-dasharray="6,2,1.5,2"/><line x1="1074.4" y1="673.71" x2="1333.31" y2="649.56" stroke="#808080" stroke-width="1.2" stroke-dasharray="5,2"/><rect x="1070.1" y="669.96" width="8.6" height="8.6" fill="#8c8c8c" stroke="none" stroke-width="0" opacity="0.8"/><rect x="1133.61" y="667.76" width="8.6" height="8.6" fill="#8c8c8c" stroke="none" stroke-width="0" opacity="0.8"/><rect x="1182.46" y="665.84" width="8.6" height="8.6" fill="#8c8c8c" stroke="none" stroke-width="0" opacity="0.8"/><rect x="1231.31" y="660.35" width="8.6" height="8.6" fill="#8c8c8c" stroke="none" stroke-width="0" opacity="0.8"/><rect x="1280.16" y="655.69" width="8.6" height="8.6" fill="#8c8c8c" stroke="none" stroke-width="0" opacity="0.8"/><rect x="1329.01" y="647.73" width="8.6" height="8.6" fill="#8c8c8c" stroke="none" stroke-width="0" opacity="0.8"/><polygon points="1089.06,666.89 1094.01,675.66 1084.11,675.66" fill="#a8c0e8" stroke="none" stroke-width="0" opacity="0.8"/><polygon points="1137.91,663.59 1142.86,672.37 1132.96,672.37" fill="#a8c0e8" stroke="none" stroke-width="0" opacity="0.8"/><polygon points="1186.76,660.85 1191.71,669.62 1181.81,669.62" fill="#a8c0e8" stroke="none" stroke-width="0" opacity="0.8"/><polygon points="1235.61,656.73 1240.56,665.51 1230.65,665.51" fill="#a8c0e8" stroke="none" stroke-width="0" opacity="0.8"/><polygon points="1284.46,652.62 1289.41,661.39 1279.51,661.39" fill="#a8c0e8" stroke="none" stroke-width="0" opacity="0.8"/><polygon points="1333.31,641.64 1338.26,650.42 1328.36,650.42" fill="#a8c0e8" stroke="none" stroke-width="0" opacity="0.8"/><rect x="1084.76" y="667.21" width="8.6" height="8.6" fill="#80ccd0" stroke="none" stroke-width="0" opacity="0.8"/><rect x="1133.61" y="662.27" width="8.6" height="8.6" fill="#80ccd0" stroke="none" stroke-width="0" opacity="0.8"/><rect x="1182.46" y="659.8" width="8.6" height="8.6" fill="#80ccd0" stroke="none" stroke-width="0" opacity="0.8"/><rect x="1231.31" y="650.47" width="8.6" height="8.6" fill="#80ccd0" stroke="none" stroke-width="0" opacity="0.8"/><rect x="1280.16" y="641.69" width="8.6" height="8.6" fill="#80ccd0" stroke="none" stroke-width="0" opacity="0.8"/><polygon points="1137.91,669.2 1142.72,672.69 1140.88,678.35 1134.93,678.35 1133.09,672.69" fill="#e0c070" stroke="none" stroke-width="0" opacity="0.8"/><polygon points="1186.76,663.71 1191.57,667.2 1189.73,672.86 1183.78,672.86 1181.94,667.2" fill="#e0c070" stroke="none" stroke-width="0" opacity="0.8"/><polygon points="1235.61,658.22 1240.42,661.72 1238.58,667.37 1232.63,667.37 1230.79,661.72" fill="#e0c070" stroke="none" stroke-width="0" opacity="0.8"/><polygon points="1284.46,649.71 1289.27,653.21 1287.43,658.87 1281.48,658.87 1279.64,653.21" fill="#e0c070" stroke="none" stroke-width="0" opacity="0.8"/><polygon points="1333.31,634.9 1338.12,638.39 1336.28,644.05 1330.33,644.05 1328.49,638.39" fill="#e0c070" stroke="none" stroke-width="0" opacity="0.8"/><polygon points="1149.14,660.57 1150.73,664.39 1154.85,664.72 1151.71,667.41 1152.67,671.43 1149.14,669.27 1145.61,671.43 1146.57,667.41 1143.43,664.72 1147.55,664.39" fill="#b0b080" stroke="none" stroke-width="0" opacity="0.8"/><polygon points="1197.99,654.81 1199.58,658.63 1203.7,658.96 1200.56,661.64 1201.52,665.66 1197.99,663.51 1194.46,665.66 1195.42,661.64 1192.28,658.96 1196.4,658.63" fill="#b0b080" stroke="none" stroke-width="0" opacity="0.8"/><polygon points="1222.9,648.77 1224.49,652.59 1228.61,652.92 1225.47,655.61 1226.43,659.63 1222.9,657.47 1219.38,659.63 1220.34,655.61 1217.2,652.92 1221.32,652.59" fill="#b0b080" stroke="none" stroke-width="0" opacity="0.8"/><polygon points="1271.27,638.62 1272.85,642.44 1276.97,642.77 1273.83,645.46 1274.79,649.47 1271.27,647.32 1267.74,649.47 1268.7,645.46 1265.56,642.77 1269.68,642.44" fill="#b0b080" stroke="none" stroke-width="0" opacity="0.8"/><polygon points="1307.41,630.11 1309,633.93 1313.12,634.26 1309.98,636.95 1310.94,640.97 1307.41,638.81 1303.89,640.97 1304.85,636.95 1301.71,634.26 1305.83,633.93" fill="#b0b080" stroke="none" stroke-width="0" opacity="0.8"/><circle cx="1088.57" cy="666.02" r="4.8" fill="#f8c098" stroke="none" stroke-width="0" opacity="0.8"/><circle cx="1136.44" cy="659.16" r="4.8" fill="#f8c098" stroke="none" stroke-width="0" opacity="0.8"/><circle cx="1185.78" cy="654.77" r="4.8" fill="#f8c098" stroke="none" stroke-width="0" opacity="0.8"/><circle cx="1234.63" cy="646.27" r="4.8" fill="#f8c098" stroke="none" stroke-width="0" opacity="0.8"/><circle cx="1283.48" cy="638.58" r="4.8" fill="#f8c098" stroke="none" stroke-width="0" opacity="0.8"/><circle cx="1112.5" cy="654.77" r="4.8" fill="#c4aeae" stroke="none" stroke-width="0" opacity="0.8"/><circle cx="1161.35" cy="645.99" r="4.8" fill="#c4aeae" stroke="none" stroke-width="0" opacity="0.8"/><circle cx="1210.2" cy="631.45" r="4.8" fill="#c4aeae" stroke="none" stroke-width="0" opacity="0.8"/><circle cx="1259.05" cy="609.5" r="4.8" fill="#c4aeae" stroke="none" stroke-width="0" opacity="0.8"/><circle cx="1307.41" cy="588.64" r="4.8" fill="#c4aeae" stroke="none" stroke-width="0" opacity="0.8"/><rect x="1148.26" y="641.14" width="8.6" height="8.6" fill="#b4dab4" stroke="none" stroke-width="0" opacity="0.8"/><rect x="1185.87" y="624.95" width="8.6" height="8.6" fill="#b4dab4" stroke="none" stroke-width="0" opacity="0.8"/><rect x="1225.44" y="612.33" width="8.6" height="8.6" fill="#b4dab4" stroke="none" stroke-width="0" opacity="0.8"/><rect x="1264.52" y="592.3" width="8.6" height="8.6" fill="#b4dab4" stroke="none" stroke-width="0" opacity="0.8"/><rect x="1303.11" y="570.35" width="8.6" height="8.6" fill="#b4dab4" stroke="none" stroke-width="0" opacity="0.8"/><circle cx="1184.8" cy="632" r="4.8" fill="#f4b0a8" stroke="none" stroke-width="0" opacity="0.8"/><circle cx="1234.63" cy="597.42" r="4.8" fill="#f4b0a8" stroke="none" stroke-width="0" opacity="0.8"/><circle cx="1283.48" cy="570.81" r="4.8" fill="#f4b0a8" stroke="none" stroke-width="0" opacity="0.8"/><circle cx="1332.33" cy="512.09" r="4.8" fill="#f4b0a8" stroke="none" stroke-width="0" opacity="0.8"/><polygon points="1185.78,628.74 1187.37,632.56 1191.48,632.89 1188.35,635.58 1189.3,639.6 1185.78,637.44 1182.25,639.6 1183.21,635.58 1180.07,632.89 1184.19,632.56" fill="#6a8ad0" stroke="none" stroke-width="0" opacity="0.8"/><polygon points="1234.63,596.36 1236.22,600.18 1240.33,600.51 1237.2,603.2 1238.15,607.22 1234.63,605.06 1231.1,607.22 1232.06,603.2 1228.92,600.51 1233.04,600.18" fill="#6a8ad0" stroke="none" stroke-width="0" opacity="0.8"/><polygon points="1283.48,585.94 1285.07,589.75 1289.18,590.08 1286.05,592.77 1287,596.79 1283.48,594.64 1279.95,596.79 1280.91,592.77 1277.77,590.08 1281.89,589.75" fill="#6a8ad0" stroke="none" stroke-width="0" opacity="0.8"/><polygon points="1332.33,494.84 1333.92,498.65 1338.03,498.98 1334.9,501.67 1335.85,505.69 1332.33,503.54 1328.8,505.69 1329.76,501.67 1326.62,498.98 1330.74,498.65" fill="#6a8ad0" stroke="none" stroke-width="0" opacity="0.8"/><circle cx="1074.4" cy="675.9" r="4.8" fill="#54449a" stroke="none" stroke-width="0" opacity="1.0"/><circle cx="1147.68" cy="670.96" r="4.8" fill="#54449a" stroke="none" stroke-width="0" opacity="1.0"/><circle cx="1220.95" cy="668.49" r="4.8" fill="#54449a" stroke="none" stroke-width="0" opacity="1.0"/><circle cx="1294.23" cy="664.1" r="4.8" fill="#54449a" stroke="none" stroke-width="0" opacity="1.0"/><circle cx="1367.5" cy="659.44" r="4.8" fill="#54449a" stroke="none" stroke-width="0" opacity="1.0"/><polygon points="1074.4,663.87 1075.99,667.68 1080.11,668.01 1076.97,670.7 1077.93,674.72 1074.4,672.57 1070.87,674.72 1071.83,670.7 1068.69,668.01 1072.81,667.68" fill="#1f4aa0" stroke="none" stroke-width="0" opacity="1.0"/><polygon points="1147.68,652.07 1149.26,655.88 1153.38,656.21 1150.24,658.9 1151.2,662.92 1147.68,660.77 1144.15,662.92 1145.11,658.9 1141.97,656.21 1146.09,655.88" fill="#1f4aa0" stroke="none" stroke-width="0" opacity="1.0"/><polygon points="1220.95,644.66 1222.54,648.47 1226.66,648.8 1223.52,651.49 1224.48,655.51 1220.95,653.36 1217.42,655.51 1218.38,651.49 1215.24,648.8 1219.36,648.47" fill="#1f4aa0" stroke="none" stroke-width="0" opacity="1.0"/><polygon points="1294.23,634.5 1295.81,638.32 1299.93,638.65 1296.79,641.34 1297.75,645.36 1294.23,643.2 1290.7,645.36 1291.66,641.34 1288.52,638.65 1292.64,638.32" fill="#1f4aa0" stroke="none" stroke-width="0" opacity="1.0"/><polygon points="1367.5,623.53 1369.09,627.34 1373.21,627.67 1370.07,630.36 1371.03,634.38 1367.5,632.23 1363.97,634.38 1364.93,630.36 1361.79,627.67 1365.91,627.34" fill="#1f4aa0" stroke="none" stroke-width="0" opacity="1.0"/><circle cx="1074.4" cy="658.62" r="4.8" fill="#1a7a3a" stroke="none" stroke-width="0" opacity="1.0"/><circle cx="1147.68" cy="647.91" r="4.8" fill="#1a7a3a" stroke="none" stroke-width="0" opacity="1.0"/><circle cx="1220.95" cy="633.92" r="4.8" fill="#1a7a3a" stroke="none" stroke-width="0" opacity="1.0"/><circle cx="1294.23" cy="618.83" r="4.8" fill="#1a7a3a" stroke="none" stroke-width="0" opacity="1.0"/><circle cx="1367.5" cy="592.76" r="4.8" fill="#1a7a3a" stroke="none" stroke-width="0" opacity="1.0"/><polygon points="1074.4,643.29 1075.99,647.1 1080.11,647.43 1076.97,650.12 1077.93,654.14 1074.4,651.99 1070.87,654.14 1071.83,650.12 1068.69,647.43 1072.81,647.1" fill="#e0162b" stroke="none" stroke-width="0" opacity="1.0"/><polygon points="1147.68,611.18 1149.26,615 1153.38,615.33 1150.24,618.02 1151.2,622.03 1147.68,619.88 1144.15,622.03 1145.11,618.02 1141.97,615.33 1146.09,615" fill="#e0162b" stroke="none" stroke-width="0" opacity="1.0"/><polygon points="1220.95,582.09 1222.54,585.91 1226.66,586.24 1223.52,588.93 1224.48,592.95 1220.95,590.79 1217.42,592.95 1218.38,588.93 1215.24,586.24 1219.36,585.91" fill="#e0162b" stroke="none" stroke-width="0" opacity="1.0"/><polygon points="1294.23,560.69 1295.81,564.51 1299.93,564.84 1296.79,567.53 1297.75,571.55 1294.23,569.39 1290.7,571.55 1291.66,567.53 1288.52,564.84 1292.64,564.51" fill="#e0162b" stroke="none" stroke-width="0" opacity="1.0"/><polygon points="1367.5,532.15 1369.09,535.97 1373.21,536.3 1370.07,538.99 1371.03,543.01 1367.5,540.85 1363.97,543.01 1364.93,538.99 1361.79,536.3 1365.91,535.97" fill="#e0162b" stroke="none" stroke-width="0" opacity="1.0"/></g><circle cx="1061" cy="412.3" r="4.8" fill="#54449a" stroke="none" stroke-width="0" opacity="1.0"/><text x="1073.6" y="417.5" font-size="16.9" text-anchor="start" fill="#000" font-weight="normal" >MA, DS =</text><text x="1180.5" y="417.5" font-size="16.9" text-anchor="end" fill="#000" font-weight="normal" >20</text><text x="1184.5" y="417.5" font-size="16.9" text-anchor="start" fill="#000" font-weight="normal" >wt% (This work)</text><polygon points="1061,421.95 1062.59,425.77 1066.71,426.1 1063.57,428.78 1064.53,432.8 1061,430.65 1057.47,432.8 1058.43,428.78 1055.29,426.1 1059.41,425.77" fill="#1f4aa0" stroke="none" stroke-width="0" opacity="1.0"/><text x="1073.6" y="433.15" font-size="16.9" text-anchor="start" fill="#000" font-weight="normal" >MA, DS =</text><text x="1180.5" y="433.15" font-size="16.9" text-anchor="end" fill="#000" font-weight="normal" >40</text><text x="1184.5" y="433.15" font-size="16.9" text-anchor="start" fill="#000" font-weight="normal" >wt% (This work)</text><polygon points="1061,437.6 1062.59,441.42 1066.71,441.75 1063.57,444.43 1064.53,448.45 1061,446.3 1057.47,448.45 1058.43,444.43 1055.29,441.75 1059.41,441.42" fill="#e0162b" stroke="none" stroke-width="0" opacity="1.0"/><text x="1073.6" y="448.8" font-size="16.9" text-anchor="start" fill="#000" font-weight="normal" >MA, DS =</text><text x="1180.5" y="448.8" font-size="16.9" text-anchor="end" fill="#000" font-weight="normal" >100</text><text x="1184.5" y="448.8" font-size="16.9" text-anchor="start" fill="#000" font-weight="normal" >wt% (This work)</text><circle cx="1061" cy="459.25" r="4.8" fill="#1a7a3a" stroke="none" stroke-width="0" opacity="1.0"/><text x="1073.6" y="464.45" font-size="16.9" text-anchor="start" fill="#000" font-weight="normal" >PVA, DS = 40 wt% (This work)</text><rect x="1056.7" y="470.6" width="8.6" height="8.6" fill="#8c8c8c" stroke="none" stroke-width="0" opacity="1.0"/><text x="1073.6" y="480.1" font-size="16.9" text-anchor="start" fill="#000" font-weight="normal" >PVA/PVDF</text><circle cx="1061" cy="490.55" r="4.8" fill="#f4b0a8" stroke="none" stroke-width="0" opacity="1.0"/><text x="1073.6" y="495.75" font-size="16.9" text-anchor="start" fill="#000" font-weight="normal" >PVA/PAN</text><polygon points="1061,500.2 1062.59,504.02 1066.71,504.35 1063.57,507.03 1064.53,511.05 1061,508.9 1057.47,511.05 1058.43,507.03 1055.29,504.35 1059.41,504.02" fill="#6a8ad0" stroke="none" stroke-width="0" opacity="1.0"/><text x="1073.6" y="511.4" font-size="16.9" text-anchor="start" fill="#000" font-weight="normal" >PVA/PAN</text><rect x="1056.7" y="517.55" width="8.6" height="8.6" fill="#b4dab4" stroke="none" stroke-width="0" opacity="1.0"/><text x="1073.6" y="527.05" font-size="16.9" text-anchor="start" fill="#000" font-weight="normal" >PVA/PTFE</text><polygon points="1061,532.44 1065.81,535.94 1063.97,541.59 1058.03,541.59 1056.19,535.94" fill="#e0c070" stroke="none" stroke-width="0" opacity="1.0"/><text x="1073.6" y="542.7" font-size="16.9" text-anchor="start" fill="#000" font-weight="normal" >PVA/PVDF</text><rect x="1056.7" y="548.85" width="8.6" height="8.6" fill="#80ccd0" stroke="none" stroke-width="0" opacity="1.0"/><text x="1073.6" y="558.35" font-size="16.9" text-anchor="start" fill="#000" font-weight="normal" >PVA/CPVC</text><circle cx="1061" cy="568.8" r="4.8" fill="#c4aeae" stroke="none" stroke-width="0" opacity="1.0"/><text x="1073.6" y="574" font-size="16.9" text-anchor="start" fill="#000" font-weight="normal" >PVA/PAN</text><polygon points="1061,578.45 1062.59,582.27 1066.71,582.6 1063.57,585.28 1064.53,589.3 1061,587.15 1057.47,589.3 1058.43,585.28 1055.29,582.6 1059.41,582.27" fill="#b0b080" stroke="none" stroke-width="0" opacity="1.0"/><text x="1073.6" y="589.65" font-size="16.9" text-anchor="start" fill="#000" font-weight="normal" >PVA/PAN</text><circle cx="1061" cy="600.1" r="4.8" fill="#f8c098" stroke="none" stroke-width="0" opacity="1.0"/><text x="1073.6" y="605.3" font-size="16.9" text-anchor="start" fill="#000" font-weight="normal" >PVA/PAN</text><polygon points="1061,610.58 1065.95,619.35 1056.05,619.35" fill="#a8c0e8" stroke="none" stroke-width="0" opacity="1.0"/><text x="1073.6" y="620.95" font-size="16.9" text-anchor="start" fill="#000" font-weight="normal" >PVA/PSF</text><rect x="1050.5" y="402.6" width="341" height="274.4" fill="none" stroke="#000" stroke-width="1.4"/><line x1="1044.5" y1="677" x2="1050.5" y2="677" stroke="#000" stroke-width="1.2" /><text x="1043.5" y="683.2" font-size="16.8" text-anchor="end" fill="#000" font-weight="normal" >0</text><line x1="1047" y1="649.56" x2="1050.5" y2="649.56" stroke="#000" stroke-width="1" /><line x1="1044.5" y1="622.12" x2="1050.5" y2="622.12" stroke="#000" stroke-width="1.2" /><text x="1043.5" y="627.96" font-size="16.8" text-anchor="end" fill="#000" font-weight="normal" >200</text><line x1="1047" y1="594.68" x2="1050.5" y2="594.68" stroke="#000" stroke-width="1" /><line x1="1044.5" y1="567.24" x2="1050.5" y2="567.24" stroke="#000" stroke-width="1.2" /><text x="1043.5" y="572.72" font-size="16.8" text-anchor="end" fill="#000" font-weight="normal" >400</text><line x1="1047" y1="539.8" x2="1050.5" y2="539.8" stroke="#000" stroke-width="1" /><line x1="1044.5" y1="512.36" x2="1050.5" y2="512.36" stroke="#000" stroke-width="1.2" /><text x="1043.5" y="517.48" font-size="16.8" text-anchor="end" fill="#000" font-weight="normal" >600</text><line x1="1047" y1="484.92" x2="1050.5" y2="484.92" stroke="#000" stroke-width="1" /><line x1="1044.5" y1="457.48" x2="1050.5" y2="457.48" stroke="#000" stroke-width="1.2" /><text x="1043.5" y="462.24" font-size="16.8" text-anchor="end" fill="#000" font-weight="normal" >800</text><line x1="1047" y1="430.04" x2="1050.5" y2="430.04" stroke="#000" stroke-width="1" /><line x1="1044.5" y1="402.6" x2="1050.5" y2="402.6" stroke="#000" stroke-width="1.2" /><text x="1043.5" y="407" font-size="16.8" text-anchor="end" fill="#000" font-weight="normal" >1000</text><line x1="1074.4" y1="677" x2="1074.4" y2="683" stroke="#000" stroke-width="1.2" /><text x="1077" y="698.7" font-size="16.8" text-anchor="middle" fill="#000" font-weight="normal" >300</text><line x1="1123.25" y1="677" x2="1123.25" y2="683" stroke="#000" stroke-width="1.2" /><text x="1125.85" y="698.7" font-size="16.8" text-anchor="middle" fill="#000" font-weight="normal" >310</text><line x1="1172.1" y1="677" x2="1172.1" y2="683" stroke="#000" stroke-width="1.2" /><text x="1174.7" y="698.7" font-size="16.8" text-anchor="middle" fill="#000" font-weight="normal" >320</text><line x1="1220.95" y1="677" x2="1220.95" y2="683" stroke="#000" stroke-width="1.2" /><text x="1223.55" y="698.7" font-size="16.8" text-anchor="middle" fill="#000" font-weight="normal" >330</text><line x1="1269.8" y1="677" x2="1269.8" y2="683" stroke="#000" stroke-width="1.2" /><text x="1272.4" y="698.7" font-size="16.8" text-anchor="middle" fill="#000" font-weight="normal" >340</text><line x1="1318.65" y1="677" x2="1318.65" y2="683" stroke="#000" stroke-width="1.2" /><text x="1321.25" y="698.7" font-size="16.8" text-anchor="middle" fill="#000" font-weight="normal" >350</text><line x1="1367.5" y1="677" x2="1367.5" y2="683" stroke="#000" stroke-width="1.2" /><text x="1370.1" y="698.7" font-size="16.8" text-anchor="middle" fill="#000" font-weight="normal" >360</text><line x1="1049.98" y1="677" x2="1049.98" y2="680.5" stroke="#000" stroke-width="1" /><line x1="1098.83" y1="677" x2="1098.83" y2="680.5" stroke="#000" stroke-width="1" /><line x1="1147.68" y1="677" x2="1147.68" y2="680.5" stroke="#000" stroke-width="1" /><line x1="1196.53" y1="677" x2="1196.53" y2="680.5" stroke="#000" stroke-width="1" /><line x1="1245.38" y1="677" x2="1245.38" y2="680.5" stroke="#000" stroke-width="1" /><line x1="1294.23" y1="677" x2="1294.23" y2="680.5" stroke="#000" stroke-width="1" /><line x1="1343.08" y1="677" x2="1343.08" y2="680.5" stroke="#000" stroke-width="1" /><line x1="1391.93" y1="677" x2="1391.93" y2="680.5" stroke="#000" stroke-width="1" /><text x="1232.7" y="724.8" font-size="19.5" text-anchor="middle" fill="#000" font-weight="normal" >Temperature (K)</text><text x="0" y="0" font-size="19.55" transform="translate(998 545.4) rotate(-90)" text-anchor="middle">Flux × Thickness (×10<tspan font-size="10" dy="-7">-6</tspan><tspan dy="7">kg/(m·h))</tspan></text></svg>
</body></html>
